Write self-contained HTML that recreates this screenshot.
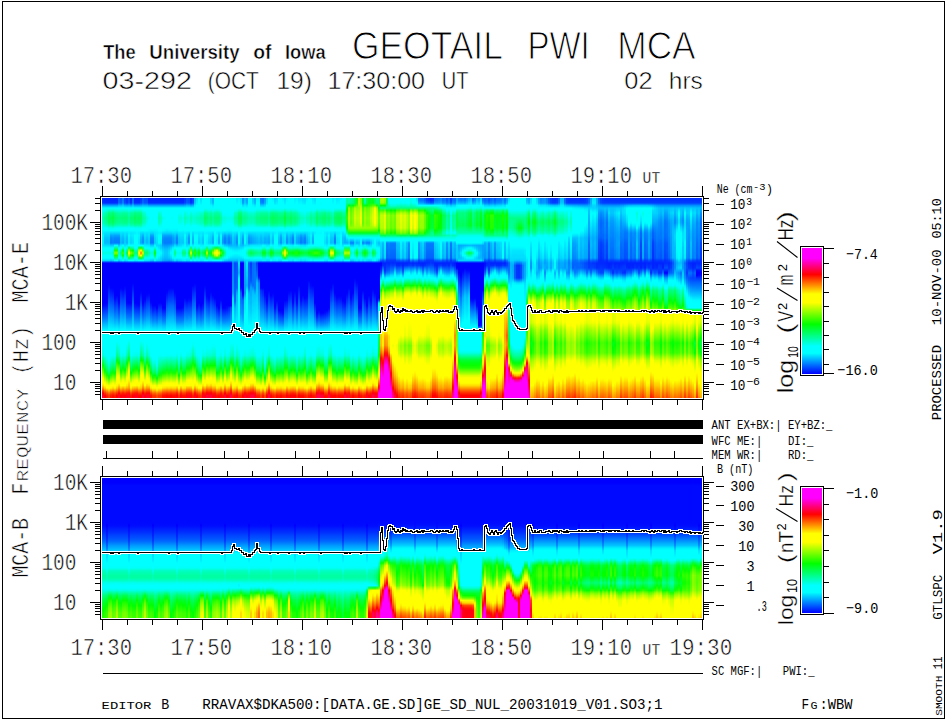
<!DOCTYPE html><html><head><meta charset="utf-8"><title>GEOTAIL PWI MCA</title><style>
html,body{margin:0;padding:0;background:#fff}
body{width:945px;height:720px;position:relative;overflow:hidden;font-family:"Liberation Sans",sans-serif}
.p{position:absolute;left:102px;width:600px;overflow:hidden;font-size:0;display:flex}
.p i{display:block;flex:0 0 2px;width:2px;height:100%}
#pt{top:198px;height:200px}#pb{top:478px;height:140px}
svg{position:absolute;left:0;top:0}
text{font-family:"Liberation Sans",sans-serif;fill:#000}
.e,.t1,.t2,.t0{stroke:#fff;stroke-width:.55px;paint-order:fill stroke}.t1{stroke-width:1.1px}.t2{stroke-width:.5px}.t0{stroke-width:.3px}
.m{font-family:"Liberation Mono",monospace}
</style></head><body>
<div class="p" id="pt">
<i style="background:linear-gradient(#0027ff,#002fff,#03f,#00a6ff,#0ff,#0ff,#00ffd8,#00ffc3,#0fa,#0fb,#00ffc6,#00ffe9,#0ff,#0ff,#0ef,#00fbff,#00f5ff,#0ef,#0ef,#00e9ff,#0ff,#0ff,#00ffe2,#0ff,#0ff,#0df,#00f,#00f,#00f,#00f,#00f,#00f,#00f,#00f,#00f,#00f,#00f,#00f,#00f,#00f,#00f,#00f,#00f,#0007ff,#001dff,#03f,#0049ff,#005fff,#07f,#008dff,#0af,#00c3ff,#0df,#00f9ff,#0ff,#0ff,#0ff,#0ff,#0ff,#0ff,#00fffa,#0fe,#00ffe7,#00ffd6,#00ffa2,#00ff6e,#00ff3b,#00ff0b,#2f0,#5f0,#8f0,#bf0,#f4ff00,#ff0,#ff0,#fd0,#f90,#f40,#f00,#ff002c,#f03)"></i>
<i style="background:linear-gradient(#02f,#0028ff,#002fff,#00a3ff,#0ff,#0fe,#00ffb5,#00ffa0,#0f8,#0f9,#00ffa3,#0fc,#0ff,#0ff,#00e3ff,#00d5ff,#00c6ff,#00bfff,#0bf,#0df,#0ff,#0ff,#00ffe2,#0ff,#0ff,#00d7ff,#00f,#00f,#00f,#00f,#00f,#00f,#00f,#00f,#00f,#00f,#00f,#00f,#00f,#00f,#00f,#00f,#00f,#000cff,#02f,#0037ff,#004dff,#0062ff,#07f,#0090ff,#0af,#00c5ff,#0df,#00f9ff,#0ff,#0ff,#0ff,#0ff,#0ff,#0ff,#0ff,#0ff,#0ff,#00fff4,#0fc,#0fa,#0f8,#00ff5f,#00ff37,#0f1,#2f0,#5cff00,#9f0,#cf0,#ff0,#ff0,#ffd400,#ff7d00,#f30,#ff0400,#ff0004)"></i>
<i style="background:linear-gradient(#02f,#0027ff,#002eff,#00a2ff,#0ff,#0fd,#00ffa2,#00ff8d,#0f7,#00ff84,#00ff90,#0fb,#0ff,#0ff,#00e2ff,#00d5ff,#00c5ff,#0bf,#0bf,#0df,#0ff,#0ff,#00ffe2,#0ff,#0ff,#00d7ff,#00f,#00f,#00f,#00f,#00f,#00f,#00f,#00f,#00f,#00f,#00f,#00f,#00f,#00f,#00f,#00f,#00f,#01f,#0026ff,#003bff,#0050ff,#06f,#007bff,#0093ff,#0af,#00c6ff,#0df,#00faff,#0ff,#0ff,#0ff,#0ff,#0ff,#0ff,#0ff,#0ff,#0ff,#0ff,#0fe,#00ffd4,#0fb,#0f9,#0f7,#00ff50,#0f2,#1aff00,#5f0,#9f0,#d6ff00,#ff0,#ff0,#ffa300,#f50,#f20,#ff1900)"></i>
<i style="background:linear-gradient(#02f,#0027ff,#002eff,#00a2ff,#0ff,#0fc,#00ff7d,#0f6,#0f5,#00ff5e,#00ff6a,#00ff9f,#0fe,#0ff,#00e3ff,#00d7ff,#00c8ff,#00c1ff,#0bf,#0df,#0ff,#0ff,#00ffe2,#0ff,#0ff,#00d8ff,#00f,#00f,#00f,#00f,#00f,#00f,#00f,#00f,#00f,#0006ff,#01f,#02f,#002dff,#003aff,#04f,#05f,#0062ff,#006fff,#007cff,#08f,#09f,#0af,#00b7ff,#00c6ff,#00d5ff,#00e4ff,#00f3ff,#0ff,#0ff,#0ff,#0ff,#0ff,#0ff,#0ff,#0ff,#0ff,#0ff,#0ff,#0ff,#00fff8,#00ffe7,#0fc,#0fa,#0f8,#00ff5e,#0f2,#2f0,#6f0,#af0,#f4ff00,#ff0,#ffc500,#ff6f00,#ff3800,#f30)"></i>
<i style="background:linear-gradient(#02f,#0027ff,#002eff,#00a2ff,#0ff,#0fc,#00ff82,#00ff6d,#0f5,#0f6,#00ff70,#00ffa3,#0fe,#0ff,#00d4ff,#00a4ff,#08f,#0080ff,#007cff,#0cf,#0ff,#0ff,#00ffe2,#0ff,#0ff,#00c4ff,#00f,#00f,#00f,#00f,#00f,#00f,#00f,#00f,#00f,#00f,#00f,#01f,#001dff,#002bff,#0039ff,#04f,#05f,#06f,#0071ff,#007fff,#008fff,#009fff,#00b0ff,#00c0ff,#00d0ff,#00e1ff,#0ef,#0ff,#0ff,#0ff,#0ff,#0ff,#0ff,#0ff,#0ff,#0ff,#0ff,#0ff,#00ffe8,#0fc,#00ffb0,#00ff8e,#0f6,#0f4,#00ff16,#26ff00,#6f0,#a0ff00,#df0,#ff0,#fff700,#f90,#ff4c00,#ff1a00,#f10)"></i>
<i style="background:linear-gradient(#02f,#0027ff,#002eff,#00a2ff,#0ff,#00ffc1,#00ff71,#00ff5c,#0f4,#0f5,#00ff5f,#00ff95,#00ffe8,#0ff,#00d6ff,#0af,#0091ff,#08f,#0084ff,#00d0ff,#0ff,#00ffe6,#00ffc0,#00ffe6,#0ff,#00d2ff,#00f,#00f,#00f,#00f,#00f,#00f,#00f,#00f,#00f,#00f,#00f,#0009ff,#0017ff,#0026ff,#03f,#04f,#0051ff,#005fff,#006eff,#007cff,#008cff,#009dff,#0af,#0bf,#0cf,#0df,#0ef,#0ff,#0ff,#0ff,#0ff,#0ff,#0ff,#0ff,#0ff,#0ff,#0ff,#00fffb,#0fd,#0fb,#0f9,#00ff73,#00ff4c,#0f2,#0aff00,#4f0,#81ff00,#bf0,#f6ff00,#ff0,#ffe300,#f80,#ff3d00,#ff0d00,#ff0600)"></i>
<i style="background:linear-gradient(#02f,#0027ff,#002eff,#00a2ff,#0ff,#00ffd4,#00ff8f,#0f7,#0f6,#00ff71,#00ff7d,#00ffae,#00fff7,#0ff,#00d4ff,#00a4ff,#08f,#0080ff,#007cff,#0ff,#00ff8f,#2f0,#8f0,#2f0,#0f8,#0ef,#00f,#00f,#00f,#00f,#00f,#00f,#00f,#00f,#00f,#00f,#00f,#00f,#00f,#00f,#0004ff,#0015ff,#0027ff,#0039ff,#004bff,#005cff,#006eff,#0080ff,#0094ff,#0af,#0bf,#00d3ff,#00e9ff,#0ff,#0ff,#0ff,#0ff,#0ff,#0ff,#0ff,#0ff,#0ff,#0ff,#0ff,#0fd,#00ffc1,#00ffa3,#00ff81,#00ff5c,#00ff37,#00ff0a,#3f0,#6bff00,#a6ff00,#e3ff00,#ff0,#fff800,#ff9d00,#ff4d00,#ff1b00,#f10)"></i>
<i style="background:linear-gradient(#02f,#0027ff,#002eff,#00a2ff,#0ff,#0fd,#00ffa0,#0f8,#0f7,#00ff81,#00ff8e,#0fb,#0ff,#0ff,#00d4ff,#00a4ff,#08f,#0080ff,#007cff,#0ff,#00ff8f,#2f0,#8f0,#2f0,#0f8,#00f7ff,#00f,#00f,#00f,#00f,#00f,#00f,#00f,#00f,#00f,#00f,#00f,#00f,#00f,#00f,#01f,#02f,#03f,#04f,#05f,#06f,#07f,#08f,#09f,#00b0ff,#00c4ff,#00d7ff,#0ef,#0ff,#0ff,#0ff,#0ff,#0ff,#00fff2,#0fd,#0fc,#0fb,#00ffa4,#0f8,#00ff51,#00ff19,#2f0,#4eff00,#7f0,#a1ff00,#c7ff00,#e9ff00,#ff0,#ff0,#ff0,#fff600,#fc0,#ff7d00,#f30,#f00,#ff0005)"></i>
<i style="background:linear-gradient(#005aff,#0062ff,#006aff,#00c0ff,#0ff,#00ffe2,#00ffa6,#00ff90,#00ff7b,#0f8,#00ff93,#00ffc0,#0ff,#0ff,#00d4ff,#00a4ff,#08f,#0080ff,#007cff,#0cf,#0ff,#00ffe5,#00ffc0,#00ffe5,#0ff,#0cf,#00f,#00f,#00f,#00f,#00f,#00f,#00f,#00f,#00f,#00f,#00f,#00f,#00f,#00f,#00f,#00f,#0006ff,#001aff,#002fff,#04f,#05f,#006cff,#0080ff,#09f,#00b1ff,#0cf,#00e2ff,#00fbff,#0ff,#0ff,#0ff,#0ff,#0ff,#0fe,#0fd,#00ffd1,#00ffc3,#0fa,#00ff72,#00ff38,#0f0,#3f0,#62ff00,#90ff00,#bf0,#eaff00,#ff0,#ff0,#ff0,#ffd500,#f90,#ff4f00,#ff0900,#f02,#ff002d)"></i>
<i style="background:linear-gradient(#004cff,#05f,#005bff,#0bf,#0ff,#00ffe2,#00ffa6,#00ff91,#00ff7b,#0f8,#00ff94,#00ffc0,#0ff,#0ff,#00e3ff,#00d6ff,#00c7ff,#00c0ff,#0bf,#0ef,#0ff,#0fa,#0f7,#0fa,#0ff,#00e5ff,#00f,#00f,#00f,#00f,#00f,#00f,#00f,#00f,#00f,#00f,#00f,#01f,#02f,#002dff,#003bff,#0049ff,#05f,#06f,#0073ff,#0081ff,#0090ff,#00a1ff,#00b1ff,#00c1ff,#00d1ff,#00e1ff,#0ef,#0ff,#0ff,#0ff,#0ff,#0ff,#0ff,#0ff,#0ff,#0ff,#0ff,#00fff2,#0fc,#0fa,#00ff82,#00ff5b,#0f3,#00ff0a,#26ff00,#60ff00,#9f0,#d3ff00,#ff0,#ff0,#ffd200,#ff7c00,#f30,#f00,#ff0005)"></i>
<i style="background:linear-gradient(#0073ff,#07f,#0082ff,#0cf,#0ff,#0fd,#00ffa0,#0f8,#0f7,#00ff82,#00ff8e,#0fb,#0ff,#0ff,#0df,#0cf,#0bf,#00b2ff,#0af,#0ff,#00ffb3,#00ff19,#3aff00,#00ff19,#0fa,#00f9ff,#00f,#00f,#00f,#00f,#00f,#00f,#00f,#00f,#00f,#00f,#00f,#0007ff,#0015ff,#02f,#03f,#04f,#0050ff,#005eff,#006dff,#007bff,#08f,#09f,#0af,#0bf,#0cf,#0df,#0ef,#0ff,#0ff,#0ff,#0ff,#0ff,#0ff,#0ff,#0ff,#0ff,#00fff5,#00ffe6,#0fb,#00ff8f,#0f6,#00ff38,#00ff0d,#2f0,#50ff00,#8f0,#c2ff00,#f7ff00,#ff0,#ff0,#ffb700,#f60,#ff1c00,#f01,#ff001a)"></i>
<i style="background:linear-gradient(#003cff,#04f,#004cff,#00b1ff,#0ff,#0fd,#00ff9d,#0f8,#00ff73,#00ff7f,#0f8,#0fb,#0ff,#0ff,#00e6ff,#00e1ff,#00d4ff,#0cf,#0cf,#00e3ff,#0ff,#0fe,#0fc,#0fe,#0ff,#0df,#00f,#00f,#00f,#00f,#00f,#00f,#00f,#00f,#00f,#00f,#0008ff,#0016ff,#02f,#03f,#003fff,#004dff,#005aff,#06f,#07f,#0083ff,#0093ff,#00a3ff,#00b3ff,#00c3ff,#00d2ff,#00e2ff,#00f2ff,#0ff,#0ff,#0ff,#0ff,#0ff,#0ff,#0ff,#0ff,#0ff,#0ff,#0fe,#00ffc7,#00ff9f,#0f7,#00ff4f,#00ff26,#0f0,#3f0,#6dff00,#af0,#df0,#ff0,#ff0,#fc0,#f70,#ff2a00,#ff0004,#ff000c)"></i>
<i style="background:linear-gradient(#002aff,#03f,#0039ff,#0af,#0ff,#0fd,#00ff9f,#0f8,#0f7,#00ff81,#00ff8d,#0fb,#0ff,#0ff,#00e1ff,#00d1ff,#00c1ff,#0bf,#00b6ff,#0ef,#0fe,#00ff82,#0f4,#00ff82,#00ffe8,#00eaff,#00f,#00f,#00f,#00f,#00f,#00f,#00f,#00f,#00f,#00f,#00f,#00f,#00f,#00f,#00f,#00f,#0004ff,#0019ff,#002dff,#04f,#05f,#006bff,#007fff,#09f,#00b0ff,#0cf,#00e2ff,#00fbff,#0ff,#0ff,#0ff,#0ff,#0ff,#00fff2,#00ffe4,#00ffd6,#00ffc8,#00ffb1,#00ff7c,#0f4,#0f1,#2f0,#4bff00,#7f0,#a4ff00,#d1ff00,#ff0,#ff0,#ff0,#ffe900,#ffaf00,#ff6000,#ff1800,#ff0016,#ff001e)"></i>
<i style="background:linear-gradient(#04f,#004cff,#05f,#00b5ff,#0ff,#0fe,#0fb,#0fa,#00ff92,#00ff9f,#0fa,#00ffd3,#0ff,#0ff,#0ef,#00fbff,#00f5ff,#0ef,#0ef,#0ff,#00ff4c,#9f0,#ff0,#9f0,#0f4,#0ff,#00f,#00f,#00f,#00f,#00f,#00f,#00f,#00f,#00f,#00f,#00f,#00f,#00f,#00f,#00f,#00f,#00f,#0018ff,#002cff,#04f,#05f,#006aff,#007fff,#09f,#00b0ff,#0cf,#00e2ff,#00faff,#0ff,#0ff,#0ff,#00fffa,#00ffe5,#0fc,#0fb,#00ffa2,#0f8,#00ff6c,#00ff28,#1cff00,#61ff00,#9f0,#c5ff00,#f2ff00,#ff0,#ff0,#ff0,#fff500,#fd0,#ffc200,#ffa000,#f50,#f10,#ff001e,#ff0027)"></i>
<i style="background:linear-gradient(#02f,#0027ff,#002fff,#00a2ff,#0ff,#0fd,#0f9,#0f8,#00ff6f,#00ff7b,#0f8,#00ffb6,#0ff,#0ff,#00e8ff,#00e8ff,#0df,#00d7ff,#00d3ff,#0ff,#00ff93,#2f0,#7fff00,#2f0,#0f8,#0ff,#00f,#00f,#00f,#00f,#00f,#00f,#00f,#00f,#00f,#00f,#00f,#00f,#00f,#00f,#00f,#00f,#00f,#0016ff,#002bff,#003fff,#05f,#06f,#007eff,#09f,#00afff,#00c8ff,#00e1ff,#00faff,#0ff,#0ff,#0ff,#0ff,#0ff,#0ff,#0ff,#0ff,#0ff,#00fff8,#00ffd9,#0fb,#0f9,#0f7,#0f5,#00ff2d,#0f0,#3bff00,#7f0,#afff00,#ef0,#ff0,#fe0,#f90,#ff4800,#ff1700,#f10)"></i>
<i style="background:linear-gradient(#06f,#006bff,#0072ff,#00c4ff,#0ff,#0fd,#0f9,#0f8,#00ff72,#00ff7e,#0f8,#0fb,#0ff,#0ff,#00eaff,#0ef,#00e7ff,#00e1ff,#0df,#0ff,#0fa,#00ff06,#51ff00,#00ff06,#00ffa1,#0ff,#00f,#00f,#00f,#00f,#00f,#00f,#00f,#00f,#00f,#000aff,#0017ff,#02f,#03f,#003eff,#004aff,#05f,#06f,#0071ff,#007eff,#008cff,#09f,#0af,#0bf,#00c7ff,#00d6ff,#00e5ff,#00f4ff,#0ff,#0ff,#0ff,#0ff,#0ff,#0ff,#0ff,#0ff,#0ff,#00fffb,#0fe,#00ffc5,#00ff9d,#0f7,#00ff4d,#0f2,#07ff00,#37ff00,#71ff00,#af0,#e2ff00,#ff0,#ff0,#ffc700,#ff7100,#ff2700,#ff0006,#f01)"></i>
<i style="background:linear-gradient(#02f,#0027ff,#002eff,#00a2ff,#0ff,#0fc,#00ff84,#00ff6f,#00ff5a,#0f6,#00ff72,#00ffa5,#00fff2,#0ff,#0ef,#0ff,#0ff,#0ff,#0ff,#0ff,#0ff,#00ffb0,#00ff7f,#00ffb0,#0ff,#0ef,#00f,#00f,#00f,#00f,#00f,#00f,#00f,#00f,#00f,#00f,#00f,#00f,#00f,#00f,#00f,#00f,#00f,#01f,#02f,#003bff,#0050ff,#06f,#07f,#0092ff,#0af,#00c6ff,#0df,#00faff,#0ff,#0ff,#0ff,#0ff,#0ff,#0ff,#0ff,#0ff,#00fff5,#00ffe6,#0fb,#00ff8f,#0f6,#00ff39,#0f1,#1eff00,#4fff00,#8f0,#c1ff00,#f6ff00,#ff0,#ff0,#fb0,#f60,#ff1c00,#f01,#ff001a)"></i>
<i style="background:linear-gradient(#02f,#0027ff,#002eff,#00a2ff,#0ff,#00ffd4,#00ff8e,#0f7,#0f6,#00ff70,#00ff7c,#0fa,#00fff7,#0ff,#00f7ff,#0ff,#0ff,#0ff,#0ff,#0ff,#0ff,#0fa,#0f7,#0fa,#0ff,#00f5ff,#00f,#00f,#00f,#00f,#00f,#00f,#00f,#00f,#00f,#00f,#00f,#00f,#00f,#00f,#00f,#00f,#00f,#000cff,#02f,#0037ff,#004dff,#0062ff,#07f,#0090ff,#0af,#00c5ff,#0df,#00f9ff,#0ff,#0ff,#0ff,#0ff,#0ff,#0ff,#0ff,#00fffa,#00fff2,#00ffe2,#00ffb4,#0f8,#00ff59,#00ff2d,#0f0,#2bff00,#5cff00,#95ff00,#cf0,#ff0,#ff0,#fff900,#ffaf00,#ff5d00,#ff1600,#ff0018,#f02)"></i>
<i style="background:linear-gradient(#02f,#0027ff,#002eff,#00a2ff,#0ff,#00ffd1,#0f8,#0f7,#00ff5f,#00ff6b,#0f7,#0fa,#00fff4,#0ff,#0ef,#00f7ff,#0ef,#00eaff,#00e6ff,#0ff,#00ff3e,#b4ff00,#ff0,#b4ff00,#00ff37,#0ff,#00f,#00f,#00f,#00f,#00f,#00f,#00f,#00f,#00f,#00f,#00f,#00f,#00f,#00f,#00f,#00f,#00f,#0007ff,#001dff,#03f,#0049ff,#005fff,#07f,#008dff,#0af,#00c3ff,#0df,#00f9ff,#0ff,#0ff,#0ff,#0ff,#0ff,#0ff,#0ff,#0ff,#00fff9,#0fe,#00ffc6,#00ffa1,#00ff7c,#0f5,#00ff2d,#00ff06,#29ff00,#61ff00,#9f0,#d1ff00,#ff0,#ff0,#ffd900,#ff8300,#f30,#ff0700,#f00)"></i>
<i style="background:linear-gradient(#03f,#003bff,#04f,#0af,#0ff,#00ffd3,#00ff8d,#0f7,#0f6,#00ff6f,#00ff7b,#0fa,#00fff6,#0ff,#0df,#0cf,#0bf,#00b1ff,#0af,#0ff,#0dff00,#ff0,#ff8100,#ff0,#15ff00,#0ff,#00f,#00f,#00f,#00f,#00f,#00f,#00f,#00f,#00f,#00f,#00f,#00f,#0007ff,#0016ff,#0026ff,#03f,#04f,#05f,#06f,#0073ff,#0082ff,#0094ff,#00a6ff,#0bf,#0cf,#0df,#0ef,#0ff,#0ff,#0ff,#0ff,#0ff,#00ffe9,#00ffd4,#0fb,#00ffa6,#00ff8f,#00ff71,#0f3,#07ff00,#4f0,#7f0,#9eff00,#c7ff00,#eaff00,#ff0,#ff0,#ff0,#ff0,#fe0,#fc0,#ff7e00,#f30,#ff0400,#ff0004)"></i>
<i style="background:linear-gradient(#05f,#005fff,#06f,#0bf,#0ff,#00fff6,#00ffc6,#00ffb1,#0f9,#0fa,#00ffb4,#0fd,#0ff,#0ff,#00d9ff,#00b4ff,#09f,#0094ff,#0090ff,#0ff,#00ff6e,#61ff00,#cf0,#61ff00,#0f6,#0ff,#00f,#00f,#00f,#00f,#00f,#00f,#00f,#00f,#00f,#00f,#00f,#00f,#00f,#00f,#00f,#00f,#00f,#01f,#0026ff,#003bff,#0051ff,#06f,#007bff,#0093ff,#0af,#00c6ff,#0df,#00faff,#0ff,#0ff,#0ff,#0ff,#00fff5,#00ffe4,#00ffd3,#00ffc3,#00ffb2,#0f9,#0f5,#00ff19,#28ff00,#5eff00,#8eff00,#bf0,#eaff00,#ff0,#ff0,#ff0,#ffe400,#fb0,#f80,#ff3f00,#ff0005,#f03,#ff003b)"></i>
<i style="background:linear-gradient(#04f,#004eff,#05f,#00b6ff,#0ff,#0ff,#00ffd5,#00ffc0,#0fa,#00ffb7,#00ffc3,#00ffe6,#0ff,#0ff,#00e6ff,#00e2ff,#00d6ff,#0cf,#0cf,#0ef,#0ff,#0fa,#0f7,#0fa,#0ff,#00e8ff,#00f,#00f,#00f,#00f,#00f,#00f,#00f,#00f,#00f,#00f,#00f,#00f,#00f,#00f,#00f,#0007ff,#001aff,#002dff,#0040ff,#05f,#06f,#07f,#008cff,#00a3ff,#0bf,#00d0ff,#00e6ff,#0ff,#0ff,#0ff,#0ff,#0ff,#0ff,#0ff,#0ff,#00fff8,#0fe,#0fd,#00ffb3,#0f8,#00ff5c,#0f3,#00ff07,#2f0,#5f0,#8f0,#c2ff00,#f5ff00,#ff0,#ff0,#ffbf00,#ff6b00,#f20,#ff000c,#f01)"></i>
<i style="background:linear-gradient(#04f,#004eff,#05f,#00b6ff,#0ff,#0ff,#0ff,#0fe,#00ffd6,#00ffe2,#0fe,#0ff,#0ff,#0ff,#00e2ff,#00d4ff,#00c4ff,#0bf,#0bf,#0ef,#0ff,#00ffa2,#00ff6e,#00ffa2,#00fffb,#00e6ff,#00f,#00f,#00f,#00f,#00f,#00f,#00f,#00f,#00f,#00f,#00f,#00f,#00f,#0006ff,#0016ff,#0027ff,#0037ff,#0048ff,#05f,#06f,#07f,#08f,#009eff,#00b1ff,#00c5ff,#00d8ff,#0ef,#0ff,#0ff,#0ff,#0ff,#0ff,#00fffb,#0fe,#0fd,#0fc,#0fb,#00ffa5,#00ff6a,#0f3,#0bff00,#3eff00,#6cff00,#9f0,#c6ff00,#ef0,#ff0,#ff0,#ff0,#ffd400,#ff9e00,#ff5100,#ff0b00,#f02,#ff002b)"></i>
<i style="background:linear-gradient(#02f,#0027ff,#002fff,#00a2ff,#0ff,#0ff,#0ff,#0ff,#0fe,#0ff,#0ff,#0ff,#0ff,#00f8ff,#00e6ff,#00e3ff,#00d7ff,#00d0ff,#0cf,#00eaff,#0ff,#0fc,#00ff9d,#0fc,#0ff,#00e3ff,#00f,#00f,#00f,#00f,#00f,#00f,#00f,#00f,#00f,#00f,#00f,#00f,#00f,#000cff,#001cff,#002cff,#003dff,#004dff,#005dff,#006dff,#007dff,#008eff,#00a1ff,#00b4ff,#00c7ff,#0df,#0ef,#0ff,#0ff,#0ff,#0ff,#0ff,#0ff,#0ff,#00fff7,#0fe,#00ffe2,#00ffd0,#00ff9d,#00ff6a,#00ff37,#00ff07,#26ff00,#5f0,#8f0,#bf0,#ef0,#ff0,#ff0,#ffe400,#ff9f00,#ff4f00,#ff0a00,#f02,#ff002d)"></i>
<i style="background:linear-gradient(#02f,#0027ff,#002eff,#00a2ff,#0ff,#0ff,#0ff,#0ff,#0ff,#0ff,#0ff,#0ff,#0ff,#00f4ff,#00d4ff,#00a4ff,#08f,#0080ff,#007cff,#0cf,#0ff,#00fff8,#00ffd7,#00fff8,#0ff,#0cf,#00f,#00f,#00f,#00f,#00f,#00f,#00f,#00f,#00f,#00f,#00f,#00f,#00f,#00f,#00f,#00f,#0006ff,#001aff,#002eff,#04f,#05f,#006cff,#0080ff,#09f,#00b1ff,#0cf,#00e2ff,#00fbff,#0ff,#0ff,#0ff,#0ff,#0ff,#0ff,#0ff,#0ff,#0ff,#0ff,#0fd,#00ffc0,#00ffa1,#00ff7e,#0f5,#0f3,#0f0,#39ff00,#7f0,#b1ff00,#ef0,#ff0,#fe0,#ff9200,#f40,#f10,#ff0c00)"></i>
<i style="background:linear-gradient(#02f,#0027ff,#002eff,#00a2ff,#0ff,#0ff,#0ff,#0ff,#00fff8,#0ff,#0ff,#0ff,#0ff,#00f6ff,#00d4ff,#00a4ff,#08f,#0080ff,#007cff,#0cf,#0ff,#0fe,#0fc,#0fe,#0ff,#00c5ff,#00f,#00f,#00f,#00f,#00f,#00f,#00f,#00f,#00f,#00f,#00f,#00f,#00f,#00f,#00f,#00f,#00f,#00f,#01f,#02f,#003dff,#05f,#006cff,#0083ff,#00a0ff,#0bf,#0df,#00f7ff,#0ff,#0ff,#0ff,#0ff,#0ff,#0ff,#0ff,#0ff,#0ff,#0ff,#0ff,#00fff4,#00ffe2,#00ffc6,#00ffa5,#00ff84,#0f5,#00ff19,#2f0,#6f0,#afff00,#f8ff00,#ff0,#ffc100,#ff6c00,#f30,#ff2f00)"></i>
<i style="background:linear-gradient(#02f,#0027ff,#002eff,#00a2ff,#0ff,#0ff,#0ff,#0ff,#0ff,#0ff,#0ff,#0ff,#0ff,#00f5ff,#00e5ff,#0df,#00d2ff,#0cf,#00c7ff,#00fbff,#00ffd8,#0f5,#0f1,#0f5,#00ffd0,#00f2ff,#00f,#00f,#00f,#00f,#00f,#00f,#00f,#00f,#00f,#00f,#00f,#00f,#00f,#00f,#00f,#00f,#00f,#00f,#0017ff,#002dff,#04f,#005bff,#0071ff,#08f,#00a5ff,#00c1ff,#0df,#00f8ff,#0ff,#0ff,#0ff,#0ff,#0ff,#0ff,#0ff,#0ff,#0ff,#0ff,#0ff,#0fe,#00ffd8,#0fb,#0f9,#0f7,#00ff4a,#00ff0d,#3f0,#73ff00,#bf0,#ff0,#ff0,#fb0,#f60,#f30,#ff2900)"></i>
<i style="background:linear-gradient(#02f,#0027ff,#002eff,#00a2ff,#0ff,#0ff,#0ff,#0ff,#00fff5,#0ff,#0ff,#0ff,#0ff,#00f7ff,#00eaff,#0ef,#00e8ff,#00e2ff,#0df,#0df,#0ff,#0ff,#0fe,#0ff,#0ff,#00d7ff,#00f,#00f,#00f,#00f,#00f,#00f,#00f,#00f,#00f,#00f,#00f,#00f,#00f,#00f,#00f,#00f,#00f,#00f,#00f,#001bff,#03f,#004cff,#06f,#007dff,#09f,#0bf,#00d7ff,#00f6ff,#0ff,#0ff,#0ff,#0ff,#0ff,#0ff,#0ff,#0ff,#0ff,#0ff,#0ff,#0ff,#0ff,#0fe,#00ffd1,#00ffb2,#0f8,#00ff48,#00ff09,#3fff00,#8cff00,#df0,#ff0,#fd0,#ff8400,#ff4a00,#f40)"></i>
<i style="background:linear-gradient(#02f,#0027ff,#002eff,#00a2ff,#0ff,#0ff,#00ffd1,#0fb,#0fa,#00ffb3,#00ffbf,#00ffe4,#0ff,#0ff,#00f2ff,#0ff,#0ff,#0ff,#0ff,#00d9ff,#00e8ff,#0ff,#0ff,#0ff,#0ef,#00d1ff,#00f,#00f,#00f,#00f,#00f,#00f,#00f,#00f,#00f,#00f,#00f,#00f,#00f,#00f,#00f,#00f,#00f,#0015ff,#002aff,#003fff,#05f,#06f,#007dff,#0095ff,#00aeff,#00c8ff,#00e1ff,#00faff,#0ff,#0ff,#0ff,#0ff,#0ff,#0ff,#0ff,#0ff,#0ff,#00fffb,#00ffe3,#0fc,#00ffb4,#0f9,#0f7,#0f5,#00ff2a,#0dff00,#4f0,#81ff00,#c1ff00,#ff0,#ff0,#ffc100,#ff6c00,#f30,#ff2f00)"></i>
<i style="background:linear-gradient(#02f,#0027ff,#002eff,#00a2ff,#0ff,#0ff,#00ffe1,#0fc,#00ffb7,#00ffc3,#0fc,#0fe,#0ff,#0ff,#0ef,#0ff,#0ff,#00f8ff,#00f4ff,#0cf,#00d2ff,#0ef,#0ff,#0ef,#00d9ff,#00c6ff,#00f,#00f,#00f,#00f,#00f,#00f,#00f,#00f,#00f,#00f,#00f,#00f,#00f,#00f,#00f,#00f,#00f,#0017ff,#002bff,#0040ff,#05f,#06f,#007eff,#09f,#00afff,#00c8ff,#00e1ff,#00faff,#0ff,#0ff,#0ff,#0ff,#0ff,#0ff,#0ff,#0ff,#0ff,#00fff6,#0fd,#00ffc2,#0fa,#0f8,#0f6,#0f4,#00ff1a,#1cff00,#5f0,#8fff00,#cf0,#ff0,#ff0,#fb0,#f60,#ff2f00,#ff2800)"></i>
<i style="background:linear-gradient(#02f,#0027ff,#002eff,#00a2ff,#0ff,#0ff,#0ff,#0ff,#00ffe8,#00fff4,#0ff,#0ff,#0ff,#00faff,#00d7ff,#0af,#0092ff,#08f,#08f,#00a3ff,#00bfff,#00d4ff,#0df,#00d4ff,#00c7ff,#0af,#00f,#00f,#00f,#00f,#00f,#00f,#00f,#00f,#00f,#00f,#00f,#00f,#00f,#00f,#00f,#00f,#00f,#00f,#00f,#0019ff,#03f,#004bff,#06f,#007cff,#09f,#0bf,#00d7ff,#00f6ff,#0ff,#0ff,#0ff,#0ff,#0ff,#0ff,#0ff,#0ff,#0ff,#0ff,#0fd,#0fb,#0f9,#0f7,#00ff50,#00ff2a,#05ff00,#40ff00,#7cff00,#b7ff00,#f2ff00,#ff0,#ffe700,#ff8e00,#ff4000,#f10,#ff0900)"></i>
<i style="background:linear-gradient(#02f,#0027ff,#002eff,#00a2ff,#0ff,#0ff,#0ff,#0ff,#00fff8,#0ff,#0ff,#0ff,#0ff,#00f6ff,#00d4ff,#00a4ff,#08f,#0080ff,#007cff,#09f,#00b6ff,#00c6ff,#0cf,#00c6ff,#0bf,#00a4ff,#00f,#00f,#00f,#00f,#00f,#00f,#00f,#00f,#00f,#00f,#00f,#00f,#00f,#00f,#00f,#00f,#00f,#00f,#00f,#0019ff,#03f,#004bff,#06f,#007cff,#09f,#0bf,#00d7ff,#00f6ff,#0ff,#0ff,#0ff,#0ff,#0ff,#0ff,#0ff,#0ff,#0ff,#00fffa,#00ffd8,#00ffb6,#00ff95,#00ff70,#00ff49,#0f2,#1f0,#49ff00,#84ff00,#bfff00,#f9ff00,#ff0,#ffe100,#f80,#ff3b00,#ff0c00,#ff0500)"></i>
<i style="background:linear-gradient(#02f,#0027ff,#002eff,#00a2ff,#0ff,#0ff,#0ff,#0ff,#0ff,#0ff,#0ff,#0ff,#0ff,#0ef,#00d4ff,#00a4ff,#08f,#0080ff,#007cff,#09f,#00b6ff,#00c6ff,#0cf,#00c6ff,#0bf,#00a2ff,#00f,#00f,#00f,#00f,#00f,#00f,#00f,#00f,#00f,#00f,#00f,#00f,#0006ff,#0015ff,#02f,#03f,#04f,#05f,#06f,#0072ff,#0082ff,#0093ff,#00a5ff,#0bf,#0cf,#0df,#0ef,#0ff,#0ff,#0ff,#0ff,#0ff,#0ff,#0ff,#0ff,#0ff,#0ff,#00fff4,#00ffd0,#0fa,#0f8,#00ff61,#00ff39,#0f1,#2f0,#5aff00,#95ff00,#cf0,#ff0,#ff0,#ffd500,#ff7f00,#f30,#ff0400,#f00)"></i>
<i style="background:linear-gradient(#02f,#0027ff,#002eff,#00a2ff,#0ff,#0ff,#0ff,#0ff,#0ff,#0ff,#0ff,#0ff,#0ff,#00f3ff,#00d4ff,#00a4ff,#08f,#0080ff,#007cff,#00a0ff,#00bfff,#00d4ff,#0df,#00d4ff,#00c7ff,#009fff,#00f,#00f,#00f,#00f,#00f,#00f,#00f,#00f,#00f,#00f,#00f,#000cff,#001bff,#0029ff,#0037ff,#04f,#05f,#0062ff,#0070ff,#007eff,#008eff,#009eff,#00afff,#00bfff,#00d0ff,#0df,#0ef,#0ff,#0ff,#0ff,#0ff,#0ff,#0ff,#0ff,#0ff,#0ff,#0ff,#00fff9,#00ffd7,#00ffb5,#00ff93,#00ff6d,#0f4,#0f2,#1f0,#4cff00,#8f0,#c1ff00,#fbff00,#ff0,#fd0,#f80,#ff3a00,#ff0a00,#ff0400)"></i>
<i style="background:linear-gradient(#02f,#0027ff,#002eff,#00a2ff,#0ff,#0ff,#0ff,#0ff,#00fffa,#0ff,#0ff,#0ff,#0ff,#00f6ff,#00d4ff,#00a4ff,#08f,#0080ff,#007cff,#0af,#00d2ff,#0ef,#0ff,#0ef,#00d9ff,#0af,#00f,#00f,#00f,#00f,#00f,#00f,#00f,#00f,#00f,#00f,#00f,#01f,#001cff,#002bff,#0039ff,#04f,#05f,#06f,#0071ff,#007fff,#008fff,#009fff,#00b0ff,#00c0ff,#00d0ff,#00e1ff,#0ef,#0ff,#0ff,#0ff,#0ff,#0ff,#0ff,#0ff,#0ff,#0ff,#0ff,#00fff3,#0fc,#0fa,#0f8,#00ff5e,#0f3,#0f1,#2f0,#5dff00,#9f0,#d0ff00,#ff0,#ff0,#ffd400,#ff7d00,#f30,#f00,#ff0004)"></i>
<i style="background:linear-gradient(#02f,#0027ff,#002eff,#00a2ff,#0ff,#0ff,#0ff,#0ff,#00fff7,#0ff,#0ff,#0ff,#0ff,#00f6ff,#0df,#00b6ff,#009eff,#09f,#0093ff,#0bf,#00f2ff,#0ff,#0ff,#0ff,#00faff,#00c0ff,#00f,#00f,#00f,#00f,#00f,#00f,#00f,#00f,#00f,#00f,#00f,#01f,#02f,#002dff,#003bff,#0049ff,#05f,#06f,#0073ff,#0081ff,#0091ff,#00a1ff,#00b1ff,#00c1ff,#00d1ff,#00e1ff,#0ef,#0ff,#0ff,#0ff,#0ff,#0ff,#0ff,#0ff,#0ff,#0ff,#0ff,#00fff9,#00ffd7,#00ffb5,#00ff93,#00ff6d,#0f4,#0f2,#1f0,#4cff00,#8f0,#c1ff00,#fbff00,#ff0,#fd0,#f80,#ff3a00,#ff0b00,#ff0400)"></i>
<i style="background:linear-gradient(#02f,#0027ff,#002eff,#00a2ff,#0ff,#0ff,#0ff,#0ff,#0ff,#0ff,#0ff,#0ff,#0ff,#00f5ff,#0df,#00c5ff,#00b1ff,#0af,#00a6ff,#0df,#0ff,#00ffae,#00ff7c,#00ffae,#0ff,#0df,#00f,#00f,#00f,#00f,#00f,#00f,#00f,#00f,#00f,#00f,#00f,#00f,#0005ff,#01f,#02f,#03f,#04f,#05f,#0062ff,#0072ff,#0081ff,#0093ff,#00a5ff,#00b7ff,#0cf,#0df,#0ef,#0ff,#0ff,#0ff,#0ff,#0ff,#0ff,#0ff,#0ff,#0ff,#0ff,#00fff9,#00ffd8,#00ffb6,#00ff94,#00ff6f,#00ff48,#0f2,#1f0,#4aff00,#8f0,#bfff00,#f9ff00,#ff0,#fd0,#f80,#ff3b00,#ff0b00,#ff0400)"></i>
<i style="background:linear-gradient(#02f,#0027ff,#002eff,#00a2ff,#0ff,#0ff,#0ff,#0ff,#0ff,#0ff,#0ff,#0ff,#0ff,#00f3ff,#00d4ff,#00a4ff,#08f,#0080ff,#007cff,#00c5ff,#0ff,#0ff,#00ffe5,#0ff,#0ff,#00c3ff,#00f,#00f,#00f,#00f,#00f,#00f,#00f,#00f,#00f,#00f,#00f,#00f,#00f,#00f,#00f,#00f,#00f,#00f,#00f,#0019ff,#03f,#004aff,#06f,#007cff,#09f,#0bf,#00d7ff,#00f6ff,#0ff,#0ff,#0ff,#0ff,#0ff,#0ff,#0ff,#0ff,#00fff9,#00ffea,#00ffc1,#0f9,#00ff6f,#0f4,#00ff1b,#1f0,#40ff00,#7f0,#b3ff00,#e9ff00,#ff0,#ff0,#ffc100,#ff6c00,#f20,#ff000b,#f01)"></i>
<i style="background:linear-gradient(#02f,#0027ff,#002eff,#00a2ff,#0ff,#0ff,#0ff,#00ffe6,#00ffd1,#0fd,#00ffe9,#0ff,#0ff,#0ff,#00e4ff,#00d9ff,#0cf,#00c4ff,#00c0ff,#00d9ff,#0ff,#0ff,#0fe,#0ff,#0ff,#00d5ff,#00f,#00f,#00f,#00f,#00f,#00f,#00f,#00f,#00f,#00f,#00f,#00f,#00f,#00f,#00f,#00f,#00f,#00f,#00f,#0019ff,#03f,#004aff,#06f,#007cff,#09f,#0bf,#00d7ff,#00f6ff,#0ff,#0ff,#0ff,#0ff,#0ff,#0ff,#0ff,#0ff,#0ff,#0ff,#00fffa,#00ffe4,#0fc,#00ffb0,#00ff8d,#00ff6a,#00ff3d,#0f0,#3dff00,#7fff00,#c2ff00,#ff0,#ff0,#ffb200,#ff5f00,#ff2b00,#f20)"></i>
<i style="background:linear-gradient(#02f,#0027ff,#002eff,#00a2ff,#0ff,#0ff,#00fffa,#00ffe5,#00ffd0,#0fd,#00ffe8,#0ff,#0ff,#0ff,#00e6ff,#00e1ff,#00d5ff,#0cf,#0cf,#0df,#0ff,#0ff,#00ffe5,#0ff,#0ff,#00d9ff,#00f,#00f,#00f,#00f,#00f,#00f,#00f,#00f,#00f,#00f,#00f,#00f,#00f,#00f,#00f,#00f,#00f,#00f,#00f,#0019ff,#03f,#004aff,#06f,#007cff,#09f,#0bf,#00d7ff,#00f6ff,#0ff,#0ff,#0ff,#0ff,#0ff,#0ff,#0ff,#0ff,#00fff7,#00ffe8,#0fb,#00ff93,#0f6,#00ff3e,#0f1,#17ff00,#48ff00,#81ff00,#bf0,#ef0,#ff0,#ff0,#fb0,#f60,#f20,#f01,#ff0017)"></i>
<i style="background:linear-gradient(#02f,#0027ff,#002eff,#00a2ff,#0ff,#0ff,#0ff,#00fff6,#00ffe1,#0fe,#00fff9,#0ff,#0ff,#00fbff,#00e6ff,#0df,#00d3ff,#0cf,#00c8ff,#0ef,#0ff,#0fa,#0f7,#0fa,#0ff,#00e7ff,#00f,#00f,#00f,#00f,#00f,#00f,#00f,#00f,#00f,#00f,#00f,#00f,#00f,#00f,#00f,#00f,#00f,#00f,#0009ff,#02f,#0039ff,#0051ff,#06f,#0080ff,#009eff,#0bf,#00d9ff,#00f7ff,#0ff,#0ff,#0ff,#0ff,#0ff,#0ff,#0ff,#0ff,#0ff,#0ff,#0fd,#00ffc0,#00ffa1,#00ff7d,#0f5,#0f3,#0f0,#3aff00,#7f0,#b1ff00,#ef0,#ff0,#fe0,#ff9100,#f40,#f10,#ff0b00)"></i>
<i style="background:linear-gradient(#03f,#003bff,#04f,#0af,#0ff,#0ff,#0fd,#0fc,#00ffb3,#00ffc0,#0fc,#0fe,#0ff,#0ff,#0ef,#0ff,#00f9ff,#00f4ff,#0ef,#00faff,#0ff,#0fa,#0f7,#0fa,#0ff,#0ef,#00f,#00f,#00f,#00f,#00f,#00f,#00f,#00f,#00f,#00f,#00f,#00f,#00f,#00f,#00f,#01f,#02f,#03f,#04f,#05f,#006aff,#007cff,#0091ff,#00a6ff,#0bf,#00d2ff,#00e7ff,#0ff,#0ff,#0ff,#0ff,#0ff,#0ff,#0ff,#0ff,#0ff,#0ff,#0ff,#0fd,#0fb,#0f9,#0f7,#00ff4f,#00ff28,#07ff00,#4f0,#7eff00,#bf0,#f4ff00,#ff0,#ffe500,#ff8c00,#ff3e00,#f10,#ff0800)"></i>
<i style="background:linear-gradient(#004eff,#05f,#005eff,#0bf,#0ff,#0ff,#0fe,#0fd,#00ffc4,#00ffd1,#0fd,#0ff,#0ff,#0ff,#00e5ff,#0df,#0cf,#0cf,#00c5ff,#0df,#0ff,#00fffa,#00ffd9,#00fffa,#0ff,#0df,#00f,#00f,#00f,#00f,#00f,#00f,#00f,#00f,#00f,#00f,#00f,#00f,#00f,#00f,#00f,#0004ff,#0017ff,#002aff,#003dff,#0050ff,#06f,#07f,#08f,#00a1ff,#0bf,#0cf,#00e5ff,#0ff,#0ff,#0ff,#0ff,#0ff,#0ff,#0ff,#0ff,#0ff,#00fff5,#00ffe6,#0fb,#00ff8e,#0f6,#00ff38,#00ff0d,#2f0,#50ff00,#8f0,#c2ff00,#f7ff00,#ff0,#ff0,#ffb700,#f60,#ff1c00,#f01,#ff001a)"></i>
<i style="background:linear-gradient(#0048ff,#004fff,#05f,#00b7ff,#0ff,#0ff,#0ff,#00ffe7,#00ffd2,#0fd,#00ffea,#0ff,#0ff,#0ff,#00d9ff,#00b3ff,#09f,#0093ff,#008fff,#00e6ff,#0fe,#00ff80,#0f4,#00ff80,#00ffe7,#00e3ff,#00f,#00f,#00f,#00f,#00f,#00f,#00f,#00f,#00f,#00f,#00f,#00f,#00f,#00f,#00f,#000dff,#02f,#03f,#04f,#05f,#06f,#007bff,#0090ff,#00a6ff,#0bf,#00d1ff,#00e7ff,#0ff,#0ff,#0ff,#0ff,#0ff,#0ff,#0ff,#0ff,#00fffb,#00fff3,#00ffe4,#00ffb7,#0f8,#00ff5e,#0f3,#00ff07,#2f0,#5f0,#8fff00,#c8ff00,#ff0,#ff0,#ff0,#ffb400,#ff6000,#ff1900,#ff0015,#ff001d)"></i>
<i style="background:linear-gradient(#02f,#002bff,#03f,#00a4ff,#0ff,#0ff,#0fd,#00ffc7,#00ffb1,#0fb,#0fc,#0fe,#0ff,#0ff,#00f9ff,#0ff,#0ff,#0ff,#0ff,#0ff,#00ff6a,#6f0,#d7ff00,#6f0,#00ff62,#0ff,#00f,#00f,#00f,#00f,#00f,#00f,#00f,#00f,#00f,#00f,#00f,#00f,#00f,#00f,#00f,#000aff,#001dff,#002fff,#04f,#05f,#06f,#07f,#008eff,#00a4ff,#0bf,#00d0ff,#00e7ff,#0ff,#0ff,#0ff,#0ff,#0ff,#0ff,#0ff,#00fff8,#0fe,#00ffe3,#00ffd1,#00ffa2,#00ff73,#0f4,#00ff18,#1f0,#3fff00,#6eff00,#a2ff00,#d7ff00,#ff0,#ff0,#fffb00,#ffb700,#f60,#ff1c00,#f01,#ff001a)"></i>
<i style="background:linear-gradient(#0038ff,#0040ff,#0048ff,#00afff,#0ff,#0ff,#00fff4,#0fd,#0fc,#00ffd5,#00ffe1,#0ff,#0ff,#0ff,#0df,#0cf,#0bf,#00b4ff,#00b0ff,#00f2ff,#00ffe8,#0f7,#00ff38,#0f7,#00ffe1,#0ef,#00f,#00f,#00f,#00f,#00f,#00f,#00f,#00f,#00f,#00f,#01f,#001cff,#002aff,#0037ff,#04f,#05f,#005fff,#006cff,#07f,#08f,#09f,#00a6ff,#00b5ff,#00c5ff,#00d4ff,#00e3ff,#00f3ff,#0ff,#0ff,#0ff,#0ff,#0ff,#00fffb,#0fe,#00ffd8,#00ffc5,#00ffb3,#0f9,#00ff6c,#00ff3e,#0f1,#19ff00,#3fff00,#6f0,#8f0,#af0,#cf0,#f5ff00,#ff0,#ff0,#fff500,#ffa100,#ff5100,#ff1e00,#ff1700)"></i>
<i style="background:linear-gradient(#0bf,#00bfff,#00c7ff,#0ef,#0ff,#0ff,#0fe,#0fd,#00ffc7,#00ffd3,#0fd,#0ff,#0ff,#0ff,#0ef,#0ff,#0ff,#0ff,#00f7ff,#0ff,#0fb,#00ff27,#28ff00,#00ff27,#00ffb4,#0ff,#00f,#00f,#00f,#00f,#00f,#00f,#00f,#00f,#00f,#000aff,#0017ff,#02f,#03f,#003eff,#004bff,#05f,#06f,#0071ff,#007eff,#008cff,#09f,#0af,#0bf,#00c7ff,#00d6ff,#00e5ff,#00f4ff,#0ff,#0ff,#0ff,#0ff,#0ff,#0ff,#0ff,#00fff4,#00ffe9,#0fd,#0fc,#0f9,#0f6,#0f3,#00ff07,#2f0,#5f0,#82ff00,#b5ff00,#e9ff00,#ff0,#ff0,#fe0,#fa0,#ff5a00,#f10,#ff001b,#f02)"></i>
<i style="background:linear-gradient(#0df,#00e3ff,#0ef,#0ff,#0ff,#0ff,#00ffe6,#00ffd0,#0fb,#00ffc7,#00ffd3,#00fff4,#0ff,#0ff,#0ef,#0ff,#0ff,#00fbff,#00f7ff,#0ff,#0fe,#00ff7d,#0f4,#00ff7d,#00ffe5,#00f6ff,#00f,#00f,#00f,#00f,#00f,#00f,#00f,#00f,#00f,#00f,#00f,#00f,#00f,#00f,#00f,#00f,#00f,#00f,#01f,#002bff,#04f,#0059ff,#0070ff,#08f,#00a3ff,#00c0ff,#0df,#00f8ff,#0ff,#0ff,#0ff,#0ff,#0ff,#0ff,#0ff,#0ff,#0ff,#00fff7,#00ffd4,#00ffb0,#00ff8d,#0f6,#00ff40,#00ff18,#17ff00,#5f0,#8dff00,#c7ff00,#ff0,#ff0,#fd0,#ff8300,#ff3700,#ff0800,#f00)"></i>
<i style="background:linear-gradient(#0ff,#0ff,#0ff,#0ff,#0ff,#0ff,#0fd,#0fc,#00ffb4,#00ffc0,#0fc,#0fe,#0ff,#0ff,#00e7ff,#00e4ff,#00d8ff,#00d2ff,#0cf,#0ff,#0fc,#00ff40,#0aff00,#00ff40,#00ffc2,#00f9ff,#00f,#00f,#00f,#00f,#00f,#00f,#00f,#00f,#00f,#00f,#00f,#00f,#00f,#00f,#00f,#00f,#00f,#01f,#0026ff,#003bff,#0050ff,#06f,#007bff,#0092ff,#0af,#00c6ff,#0df,#00faff,#0ff,#0ff,#0ff,#0ff,#0ff,#0ff,#0ff,#0ff,#0ff,#0ff,#0fe,#00ffd8,#0fb,#00ff9f,#00ff7b,#0f5,#00ff29,#1f0,#51ff00,#90ff00,#d1ff00,#ff0,#ff0,#fa0,#f50,#f20,#ff1b00)"></i>
<i style="background:linear-gradient(#0df,#00e5ff,#0ef,#0ff,#0ff,#0ff,#00ffd3,#0fb,#0fa,#00ffb4,#00ffc0,#00ffe5,#0ff,#0ff,#00e9ff,#0ef,#00e4ff,#0df,#0df,#00f3ff,#0ff,#00ffae,#00ff7c,#00ffae,#0ff,#00eaff,#00f,#00f,#00f,#00f,#00f,#00f,#00f,#00f,#00f,#00f,#00f,#00f,#00f,#00f,#00f,#00f,#00f,#00f,#01f,#0026ff,#003eff,#05f,#006dff,#0084ff,#00a1ff,#0bf,#0df,#00f7ff,#0ff,#0ff,#0ff,#0ff,#0ff,#0ff,#0ff,#0ff,#0ff,#0ff,#0ff,#0fe,#00ffd7,#0fb,#0f9,#0f7,#00ff48,#00ff0b,#3f0,#7f0,#bf0,#ff0,#ff0,#fb0,#f60,#ff2f00,#ff2800)"></i>
<i style="background:linear-gradient(#0ff,#0ff,#0ff,#0ff,#0ff,#0ff,#0fc,#0fb,#00ffa4,#00ffb0,#0fb,#00ffe1,#0ff,#0ff,#00e4ff,#0df,#0cf,#00c5ff,#00c1ff,#00f3ff,#00fff2,#0f8,#00ff4d,#0f8,#0fe,#0ef,#00f,#00f,#00f,#00f,#00f,#00f,#00f,#00f,#00f,#00f,#00f,#00f,#00f,#00f,#00f,#00f,#00f,#01f,#02f,#003aff,#004fff,#06f,#07f,#0092ff,#0af,#00c6ff,#0df,#00faff,#0ff,#0ff,#0ff,#0ff,#0ff,#0ff,#0ff,#00fff4,#0fe,#0fd,#0fa,#0f7,#0f4,#00ff18,#16ff00,#4f0,#7f0,#af0,#e5ff00,#ff0,#ff0,#ffe800,#ffa000,#ff4f00,#ff0a00,#f02,#ff002d)"></i>
<i style="background:linear-gradient(#0ff,#0ff,#0ff,#0ff,#0ff,#00ffd5,#00ff91,#00ff7b,#0f6,#00ff72,#00ff7e,#00ffaf,#00fff8,#0ff,#00f3ff,#0ff,#0ff,#0ff,#0ff,#0ff,#00ffd8,#00ff59,#00ff15,#00ff59,#00ffd1,#0ff,#00f,#00f,#00f,#00f,#00f,#00f,#00f,#00f,#00f,#00f,#000bff,#0018ff,#0026ff,#03f,#04f,#004fff,#005cff,#006aff,#07f,#08f,#0095ff,#00a4ff,#00b4ff,#00c3ff,#00d3ff,#00e3ff,#00f2ff,#0ff,#0ff,#0ff,#0ff,#0ff,#0ff,#0ff,#0ff,#0ff,#00fff6,#00ffe7,#0fb,#00ff91,#0f6,#00ff3b,#0f1,#1bff00,#4cff00,#8f0,#bfff00,#f4ff00,#ff0,#ff0,#fb0,#f60,#ff1d00,#f01,#ff0019)"></i>
<i style="background:linear-gradient(#0ff,#0ff,#0ff,#0ff,#0ff,#0fd,#00ff9d,#0f8,#00ff72,#00ff7e,#0f8,#0fb,#0ff,#0ff,#0ef,#0ff,#00faff,#00f5ff,#0ef,#0ff,#0f7,#4fff00,#bf0,#4fff00,#00ff70,#0ff,#00f,#00f,#00f,#00f,#00f,#00f,#00f,#00f,#00f,#00f,#00f,#00f,#00f,#00f,#000aff,#001bff,#002cff,#003eff,#004fff,#0060ff,#0072ff,#0083ff,#09f,#0af,#00c1ff,#00d5ff,#00eaff,#0ff,#0ff,#0ff,#0ff,#0ff,#0ff,#0ff,#00fff7,#0fe,#00ffe4,#00ffd2,#0f9,#0f6,#0f3,#0f0,#2fff00,#5fff00,#91ff00,#c8ff00,#ff0,#ff0,#ff0,#ffd500,#ff8e00,#ff3f00,#ff0004,#f03,#ff003a)"></i>
<i style="background:linear-gradient(#0ff,#0ff,#0ff,#0ff,#0ff,#0fe,#00ffb4,#00ff9e,#0f8,#00ff95,#00ffa1,#0fc,#0ff,#0ff,#00e8ff,#00e8ff,#0df,#00d7ff,#00d3ff,#0ff,#0fd,#0f6,#0f2,#0f6,#00ffd7,#00f4ff,#00f,#00f,#00f,#00f,#00f,#00f,#00f,#00f,#00f,#00f,#00f,#00f,#00f,#00f,#00f,#000dff,#02f,#03f,#04f,#05f,#06f,#007bff,#008fff,#00a5ff,#0bf,#00d1ff,#00e7ff,#0ff,#0ff,#0ff,#0ff,#0ff,#0ff,#0ff,#0ff,#00fff3,#00ffea,#00ffd8,#00ffa6,#0f7,#0f4,#0f1,#1bff00,#4aff00,#7cff00,#b3ff00,#ef0,#ff0,#ff0,#ffe400,#f90,#ff4b00,#ff0700,#ff0028,#f03)"></i>
<i style="background:linear-gradient(#00d0ff,#00d8ff,#0df,#00fbff,#0ff,#00ffe1,#00ffa4,#00ff8f,#0f7,#0f8,#00ff92,#00ffbf,#0ff,#0ff,#00e5ff,#0df,#00d2ff,#0cf,#00c8ff,#0ff,#0fc,#00ff40,#09ff00,#00ff40,#00ffc2,#00f7ff,#00f,#00f,#00f,#00f,#00f,#00f,#00f,#00f,#00f,#00f,#00f,#00f,#0005ff,#0015ff,#02f,#03f,#04f,#05f,#0062ff,#0072ff,#0081ff,#0093ff,#00a5ff,#00b7ff,#0cf,#0df,#0ef,#0ff,#0ff,#0ff,#0ff,#0ff,#0ff,#0ff,#00fff6,#0fe,#00ffe3,#00ffd0,#0f9,#0f6,#00ff2e,#04ff00,#3f0,#6f0,#95ff00,#cf0,#ff0,#ff0,#ff0,#ffd300,#ff8d00,#ff3e00,#ff0005,#f03,#ff003b)"></i>
<i style="background:linear-gradient(#00aeff,#00b6ff,#0bf,#00eaff,#0ff,#00fff2,#00ffbf,#0fa,#00ff94,#00ffa0,#0fa,#00ffd4,#0ff,#0ff,#0df,#00c4ff,#00afff,#0af,#00a4ff,#0ff,#00ff84,#3aff00,#a0ff00,#3aff00,#00ff7c,#0ff,#00f,#00f,#00f,#00f,#00f,#00f,#00f,#00f,#00f,#00f,#00f,#00f,#00f,#00f,#01f,#02f,#03f,#04f,#05f,#06f,#07f,#08f,#09f,#00b0ff,#00c3ff,#00d7ff,#0ef,#0ff,#0ff,#0ff,#0ff,#0ff,#0ff,#00fffb,#0fe,#00ffe2,#00ffd5,#00ffc1,#00ff8f,#00ff5d,#00ff2a,#04ff00,#2fff00,#5bff00,#8f0,#bf0,#eaff00,#ff0,#ff0,#fff200,#ffb400,#f60,#ff1b00,#f01,#ff001b)"></i>
<i style="background:linear-gradient(#0ff,#0ff,#0ff,#0ff,#0ff,#00ffe3,#0fa,#00ff92,#00ff7d,#0f8,#00ff95,#00ffc2,#0ff,#0ff,#0ff,#0ff,#0ff,#0ff,#0ff,#0ff,#0f4,#af0,#ff0,#af0,#00ff3f,#0ff,#00f,#00f,#00f,#00f,#00f,#00f,#00f,#00f,#00f,#00f,#00f,#00f,#00f,#00f,#00f,#01f,#02f,#0037ff,#0049ff,#005bff,#006dff,#007fff,#0093ff,#0af,#0bf,#00d3ff,#00e8ff,#0ff,#0ff,#0ff,#0ff,#0ff,#0ff,#00fffa,#0fe,#00ffe1,#00ffd4,#00ffc0,#00ff8e,#00ff5b,#00ff28,#06ff00,#3f0,#5eff00,#8cff00,#bf0,#ef0,#ff0,#ff0,#fe0,#ffb200,#ff6100,#ff1900,#ff0015,#ff001d)"></i>
<i style="background:linear-gradient(#0ff,#0ff,#0ff,#0ff,#0ff,#0fd,#00ffa1,#00ff8c,#0f7,#00ff83,#00ff8f,#0fb,#0ff,#0ff,#0ef,#0ff,#00f7ff,#0ef,#0ef,#0ff,#00ff28,#df0,#ff0,#df0,#0f2,#0ff,#00f,#00f,#00f,#00f,#00f,#00f,#00f,#00f,#00f,#00f,#00f,#00f,#00f,#00f,#00f,#00f,#00f,#00f,#0018ff,#002fff,#04f,#005cff,#0072ff,#08f,#00a6ff,#00c1ff,#0df,#00f8ff,#0ff,#0ff,#0ff,#0ff,#0ff,#0ff,#0ff,#0ff,#0ff,#0ff,#0fd,#00ffc1,#00ffa2,#00ff7f,#00ff59,#0f3,#00ff05,#37ff00,#72ff00,#aeff00,#ef0,#ff0,#fe0,#ff9400,#f40,#f10,#ff0d00)"></i>
<i style="background:linear-gradient(#00f9ff,#0ff,#0ff,#0ff,#0ff,#00ffe3,#00ffa6,#00ff91,#00ff7c,#0f8,#00ff94,#00ffc1,#0ff,#0ff,#0df,#0cf,#00b7ff,#00b0ff,#0af,#0ff,#00ff5f,#7bff00,#ef0,#7bff00,#0f5,#0ff,#00f,#00f,#00f,#00f,#00f,#00f,#00f,#00f,#00f,#00f,#00f,#00f,#00f,#00f,#00f,#00f,#00f,#00f,#00f,#0019ff,#03f,#004aff,#06f,#007cff,#09f,#0bf,#00d7ff,#00f6ff,#0ff,#0ff,#0ff,#0ff,#0ff,#0ff,#0ff,#0ff,#0ff,#00fff9,#00ffd6,#00ffb4,#00ff92,#00ff6d,#0f4,#00ff1e,#1f0,#4cff00,#8f0,#c2ff00,#fbff00,#ff0,#fd0,#f80,#ff3900,#ff0a00,#f00)"></i>
<i style="background:linear-gradient(#0ff,#0ff,#0ff,#0ff,#0ff,#00fff7,#00ffc7,#00ffb2,#00ff9d,#0fa,#00ffb5,#0fd,#0ff,#0ff,#0ef,#0ff,#0ff,#00faff,#00f6ff,#0ff,#0fa,#00ff07,#50ff00,#00ff07,#00ffa3,#0ff,#00f,#00f,#00f,#00f,#00f,#00f,#00f,#00f,#00f,#00f,#00f,#00f,#00f,#00f,#00f,#0007ff,#001aff,#002dff,#003fff,#05f,#06f,#07f,#008cff,#00a2ff,#0bf,#0cf,#00e6ff,#0ff,#0ff,#0ff,#0ff,#0ff,#0ff,#0ff,#0ff,#00fffb,#00fff3,#00ffe4,#00ffb7,#0f8,#00ff5e,#0f3,#00ff07,#2f0,#5f0,#8fff00,#c8ff00,#ff0,#ff0,#ff0,#ffb300,#ff6000,#ff1800,#ff0016,#ff001e)"></i>
<i style="background:linear-gradient(#0ff,#0ff,#0ff,#0ff,#0ff,#0ff,#0ff,#0fe,#00ffd6,#00ffe2,#0fe,#0ff,#0ff,#0ff,#0df,#0bf,#00a3ff,#09f,#09f,#00eaff,#00ffe1,#0f6,#0f2,#0f6,#00ffd9,#00e6ff,#00f,#00f,#00f,#00f,#00f,#00f,#00f,#00f,#00f,#00f,#00f,#00f,#00f,#00f,#00f,#00f,#00f,#00f,#00f,#001aff,#03f,#004bff,#06f,#007cff,#09f,#0bf,#00d7ff,#00f6ff,#0ff,#0ff,#0ff,#0ff,#0ff,#0ff,#0ff,#0ff,#0ff,#0ff,#0fd,#0fb,#0f9,#0f7,#00ff51,#00ff2a,#05ff00,#40ff00,#7cff00,#b7ff00,#f2ff00,#ff0,#ffe600,#ff8d00,#ff3f00,#f10,#ff0800)"></i>
<i style="background:linear-gradient(#0ff,#0ff,#0ff,#0ff,#0ff,#0ff,#0ff,#0fe,#00ffd6,#00ffe2,#0fe,#0ff,#0ff,#0ff,#00d4ff,#00a4ff,#08f,#0080ff,#007cff,#0cf,#0ff,#00ffbf,#00ff91,#00ffbf,#0ff,#0cf,#00f,#00f,#00f,#00f,#00f,#00f,#00f,#00f,#00f,#00f,#00f,#00f,#00f,#00f,#00f,#00f,#00f,#00f,#0004ff,#001cff,#03f,#004dff,#06f,#007dff,#09f,#0bf,#00d7ff,#00f6ff,#0ff,#0ff,#0ff,#0ff,#0ff,#0ff,#00fff9,#0fe,#00ffe6,#00ffd4,#00ff9f,#00ff6b,#0f3,#00ff06,#29ff00,#5f0,#8f0,#c2ff00,#f9ff00,#ff0,#ff0,#ffd900,#ff9200,#f40,#f00,#ff002f,#ff0037)"></i>
<i style="background:linear-gradient(#0ff,#0ff,#0ff,#0ff,#0ff,#0ff,#0ff,#00fff8,#00ffe3,#0fe,#00fffb,#0ff,#0ff,#00fbff,#0df,#00b7ff,#00a0ff,#09f,#0094ff,#00c4ff,#0ff,#0ff,#00fff3,#0ff,#0ff,#00c6ff,#00f,#00f,#00f,#00f,#00f,#00f,#00f,#00f,#00f,#00f,#00f,#00f,#00f,#00f,#00f,#00f,#00f,#00f,#000dff,#02f,#003bff,#05f,#006aff,#0081ff,#009dff,#0bf,#00d9ff,#00f6ff,#0ff,#0ff,#0ff,#0ff,#0ff,#0ff,#0ff,#0ff,#0ff,#00fff3,#0fc,#0fa,#0f8,#00ff5e,#0f3,#00ff0d,#2f0,#5eff00,#9f0,#d1ff00,#ff0,#ff0,#ffd300,#ff7c00,#f30,#f00,#ff0005)"></i>
<i style="background:linear-gradient(#0ff,#0ff,#0ff,#0ff,#0ff,#0ff,#0ff,#00fff9,#00ffe4,#0fe,#0ff,#0ff,#0ff,#00faff,#00d4ff,#00a4ff,#08f,#0080ff,#007cff,#00b2ff,#00e8ff,#0ff,#0ff,#0ff,#0ef,#0bf,#00f,#00f,#00f,#00f,#00f,#00f,#00f,#00f,#00f,#00f,#00f,#00f,#00f,#00f,#00f,#00f,#00f,#00f,#02f,#03f,#0049ff,#005dff,#0072ff,#08f,#00a0ff,#0bf,#0df,#00f7ff,#0ff,#0ff,#0ff,#0ff,#0ff,#0ff,#0ff,#0ff,#00fff6,#00ffe7,#0fb,#00ff92,#0f6,#00ff3d,#0f1,#19ff00,#4aff00,#83ff00,#bf0,#ef0,#ff0,#ff0,#fb0,#f60,#f20,#f01,#ff0017)"></i>
<i style="background:linear-gradient(#0ff,#0ff,#0ff,#0ff,#0ff,#0ff,#0ff,#00fff9,#00ffe3,#0fe,#0ff,#0ff,#0ff,#00faff,#00d9ff,#00b6ff,#009eff,#09f,#0092ff,#00b3ff,#0df,#00fbff,#0ff,#00fbff,#00e2ff,#0bf,#00f,#00f,#00f,#00f,#00f,#00f,#00f,#00f,#00f,#00f,#00f,#00f,#00f,#00f,#00f,#00f,#00f,#00f,#04f,#05f,#06f,#07f,#0084ff,#0094ff,#0af,#00c6ff,#0df,#00faff,#0ff,#0ff,#0ff,#0ff,#0ff,#0fe,#00ffe4,#00ffd8,#0fc,#00ffb5,#0f7,#00ff38,#07ff00,#3eff00,#6fff00,#a1ff00,#d3ff00,#ff0,#ff0,#ff0,#ffe200,#ffb300,#f70,#ff2a00,#ff001a,#f04,#ff004d)"></i>
<i style="background:linear-gradient(#00faff,#0ff,#0ff,#0ff,#0ff,#0ff,#0ff,#0fe,#00ffd8,#00ffe5,#0fe,#0ff,#0ff,#0ff,#00e5ff,#0df,#00d1ff,#0cf,#00c6ff,#00bfff,#00d5ff,#00f4ff,#0ff,#00f4ff,#0df,#00bfff,#0082ff,#0084ff,#08f,#08f,#08f,#08f,#008dff,#008fff,#0091ff,#0093ff,#0094ff,#09f,#009dff,#0bf,#00d9ff,#00e3ff,#00e8ff,#0ef,#00f2ff,#00f6ff,#00fbff,#0ff,#0ff,#0ff,#0ff,#0ff,#0ff,#0ff,#0ff,#0ff,#0ff,#0ff,#0ff,#0fe,#0fd,#0fc,#0fb,#0fa,#0f7,#00ff4b,#00ff1d,#0cff00,#3f0,#5f0,#7fff00,#a6ff00,#cf0,#f5ff00,#ff0,#ff0,#fe0,#f90,#ff4800,#ff1700,#f10)"></i>
<i style="background:linear-gradient(#0ff,#0ff,#0ff,#0ff,#0ff,#00fff7,#00ffc7,#00ffb2,#00ff9d,#0fa,#00ffb5,#0fd,#0ff,#0ff,#00e1ff,#0cf,#0bf,#00b7ff,#00b2ff,#0bf,#00d3ff,#0ef,#0ff,#0ef,#0df,#0bf,#004bff,#004cff,#004eff,#0050ff,#05f,#05f,#05f,#05f,#05f,#005aff,#005cff,#005dff,#005fff,#0061ff,#06f,#06f,#07f,#09f,#00b2ff,#0bf,#00c2ff,#0cf,#00d2ff,#0df,#00e4ff,#0ef,#00faff,#0ff,#0ff,#0ff,#0ff,#0ff,#0ff,#0ff,#0ff,#0ff,#00fff5,#00ffe6,#00ffc1,#0f9,#0f7,#00ff51,#00ff2a,#0f0,#2bff00,#62ff00,#9f0,#cf0,#ff0,#ff0,#fd0,#f80,#ff3b00,#ff0c00,#ff0500)"></i>
<i style="background:linear-gradient(#00eaff,#0ef,#00f9ff,#0ff,#0ff,#0fe,#0fb,#00ffa6,#00ff91,#00ff9d,#0fa,#00ffd2,#0ff,#0ff,#00d8ff,#00b1ff,#09f,#0090ff,#008cff,#00aeff,#00d3ff,#0ef,#0ff,#0ef,#0df,#00b4ff,#05f,#05f,#05f,#0059ff,#005bff,#005cff,#005eff,#005fff,#0061ff,#0062ff,#06f,#08f,#00a5ff,#00b4ff,#0bf,#0bf,#00c3ff,#00c8ff,#0cf,#00d2ff,#00d8ff,#0df,#00e5ff,#0ef,#00f3ff,#00faff,#0ff,#0ff,#0ff,#0ff,#0ff,#0ff,#0ff,#00fff6,#00ffe9,#0fd,#0fc,#0fb,#0f8,#0f5,#0f2,#1f0,#3aff00,#6f0,#92ff00,#c0ff00,#ef0,#ff0,#ff0,#fff400,#fb0,#f60,#f20,#f01,#ff0017)"></i>
<i style="background:linear-gradient(#00f3ff,#00faff,#0ff,#0ff,#0ff,#0fc,#00ff82,#00ff6d,#0f5,#0f6,#00ff70,#00ffa3,#0fe,#0ff,#0ff,#0ff,#0ff,#0ff,#0ff,#00e1ff,#00d5ff,#00f4ff,#0ff,#00f4ff,#0df,#00d4ff,#00e6ff,#00d8ff,#0cf,#0bf,#00b3ff,#00d3ff,#00f3ff,#0ff,#0ff,#0ff,#0ff,#0ff,#0ff,#0ff,#0ff,#0ff,#0ff,#0ff,#0ff,#0ff,#0ff,#0ff,#0ff,#0ff,#0ff,#0ff,#0ff,#0ff,#0ff,#0ff,#0ff,#0ff,#0ff,#0ff,#0ff,#00fff4,#00ffe8,#00ffd8,#00ffb6,#00ff93,#00ff70,#00ff4c,#00ff28,#0f0,#27ff00,#59ff00,#8f0,#bf0,#f3ff00,#ff0,#ff0,#ffa300,#f50,#f20,#ff1900)"></i>
<i style="background:linear-gradient(#0df,#00e7ff,#0ef,#0ff,#0ff,#0fc,#00ff80,#00ff6b,#0f5,#00ff62,#00ff6e,#00ffa1,#0fe,#0ff,#00e5ff,#0df,#00d2ff,#0cf,#00c7ff,#00c2ff,#0df,#00fbff,#0ff,#00fbff,#00e2ff,#00c1ff,#00f,#00f,#00f,#00f,#00f,#00f,#00f,#00f,#00f,#00f,#0007ff,#03f,#0060ff,#06f,#0070ff,#07f,#007eff,#08f,#008dff,#0094ff,#09f,#0af,#00b7ff,#00c6ff,#00d5ff,#00e4ff,#00f3ff,#0ff,#0ff,#0ff,#0ff,#0ff,#0ff,#0ff,#0ff,#0ff,#0ff,#0ff,#0fe,#00ffd2,#0fb,#0f9,#00ff73,#00ff4f,#0f2,#1bff00,#5f0,#9f0,#d6ff00,#ff0,#ff0,#ffa400,#f50,#f20,#ff1900)"></i>
<i style="background:linear-gradient(#0090ff,#09f,#00a0ff,#0df,#0ff,#0fe,#00ffb5,#00ffa0,#0f8,#0f9,#00ffa3,#0fc,#0ff,#0ff,#0df,#0bf,#00a3ff,#09f,#09f,#0bf,#00e6ff,#0ff,#0ff,#0ff,#0ef,#0bf,#00f,#00f,#00f,#00f,#00f,#00f,#00f,#00f,#00f,#00f,#00f,#00f,#00f,#01f,#0040ff,#06f,#006cff,#07f,#007eff,#08f,#008fff,#09f,#00a4ff,#00b6ff,#0cf,#0df,#0ef,#0ff,#0ff,#0ff,#0ff,#0ff,#0ff,#0ff,#0ff,#0ff,#0ff,#0fe,#00ffc6,#00ff9f,#0f7,#00ff4f,#0f2,#04ff00,#3f0,#6fff00,#af0,#df0,#ff0,#ff0,#ffc800,#ff7300,#ff2800,#ff0005,#ff000d)"></i>
<i style="background:linear-gradient(#0bf,#00c2ff,#0cf,#0ef,#0ff,#00ffea,#00ffb2,#00ff9d,#0f8,#00ff94,#00ffa0,#0fc,#0ff,#0ff,#00f2ff,#0ff,#0ff,#0ff,#0ff,#0df,#0ff,#0ff,#0ff,#0ff,#0ff,#00d8ff,#00b3ff,#00b1ff,#00aeff,#0af,#0af,#00a6ff,#00a4ff,#00a1ff,#009fff,#09f,#09f,#09f,#0094ff,#00b2ff,#00d2ff,#00e3ff,#00e8ff,#0ef,#0ef,#00f4ff,#00f8ff,#0ff,#0ff,#0ff,#0ff,#0ff,#0ff,#0ff,#0ff,#0ff,#0ff,#0ff,#0ff,#0ff,#0ff,#00fff5,#0fe,#0fd,#0fa,#0f7,#00ff48,#00ff19,#1f0,#4f0,#7f0,#af0,#e4ff00,#ff0,#ff0,#ffe900,#ffa100,#ff5000,#ff0a00,#f02,#ff002c)"></i>
<i style="background:linear-gradient(#009fff,#00a6ff,#00aeff,#00e2ff,#0ff,#00fff4,#00ffc2,#0fa,#0f9,#00ffa4,#00ffb0,#00ffd7,#0ff,#0ff,#00e8ff,#00e9ff,#0df,#00d9ff,#00d4ff,#00e3ff,#0ff,#0fd,#00ffb3,#0fd,#0ff,#0df,#00e8ff,#00e2ff,#0df,#00d5ff,#0cf,#0cf,#00c3ff,#0bf,#00b7ff,#00b1ff,#0cf,#0ef,#0ff,#0ff,#0ff,#0ff,#0ff,#0ff,#0ff,#0ff,#0ff,#0ff,#0ff,#0ff,#0ff,#0ff,#0ff,#0ff,#0ff,#0ff,#0ff,#0ff,#0ff,#0ff,#0ff,#0ff,#00fff5,#00ffe6,#0fb,#00ff8f,#0f6,#00ff38,#00ff0d,#1eff00,#4fff00,#8f0,#c1ff00,#f6ff00,#ff0,#ff0,#fb0,#f60,#ff1c00,#f01,#ff001a)"></i>
<i style="background:linear-gradient(#0ff,#0ff,#0ff,#0ff,#0ff,#0ff,#00ffd4,#00ffbf,#0fa,#00ffb6,#00ffc2,#00ffe6,#0ff,#0ff,#00d9ff,#00b2ff,#09f,#0092ff,#008eff,#0df,#0ff,#0f9,#0f6,#0f9,#00fffa,#0df,#005fff,#0060ff,#0061ff,#0062ff,#06f,#06f,#06f,#06f,#06f,#06f,#006fff,#008fff,#00afff,#0bf,#0bf,#00c3ff,#00c7ff,#0cf,#00d1ff,#00d6ff,#0df,#00e1ff,#00e7ff,#0ef,#00f5ff,#0ff,#0ff,#0ff,#0ff,#0ff,#0ff,#0ff,#0ff,#0ff,#0ff,#00fff9,#0fe,#00ffe1,#00ffb3,#0f8,#0f5,#00ff2b,#0f0,#2eff00,#5fff00,#9f0,#d0ff00,#ff0,#ff0,#fff800,#ffae00,#ff5b00,#f10,#ff001a,#f02)"></i>
<i style="background:linear-gradient(#0ff,#0ff,#0ff,#0ff,#0ff,#0ff,#00ffd2,#0fb,#0fa,#00ffb3,#00ffbf,#00ffe4,#0ff,#0ff,#0df,#0bf,#00a6ff,#009fff,#09f,#00e7ff,#00fff2,#00ff84,#00ff49,#00ff84,#0fe,#00e3ff,#0038ff,#003bff,#003fff,#04f,#04f,#004aff,#004eff,#05f,#006aff,#08f,#00a2ff,#00a6ff,#0af,#00b0ff,#00b5ff,#0bf,#0bf,#00c3ff,#00c8ff,#0cf,#00d4ff,#0df,#00e3ff,#00eaff,#00f2ff,#00f9ff,#0ff,#0ff,#0ff,#0ff,#0ff,#0ff,#0ff,#0ff,#00fff7,#0fe,#00ffe4,#00ffd2,#0f9,#0f6,#0f3,#0f0,#3f0,#5fff00,#92ff00,#cf0,#ff0,#ff0,#ff0,#ffd500,#ff8e00,#ff3f00,#ff0005,#f03,#ff003b)"></i>
<i style="background:linear-gradient(#0cf,#00d0ff,#00d8ff,#00f7ff,#0ff,#0ff,#00ffd6,#00ffc1,#0fa,#0fb,#00ffc4,#00ffe8,#0ff,#0ff,#0df,#00c5ff,#00b2ff,#0af,#00a6ff,#00e9ff,#00fffa,#00ff92,#00ff5b,#00ff92,#00fff3,#00e4ff,#006cff,#006dff,#006dff,#006eff,#006eff,#006fff,#006fff,#0070ff,#0070ff,#0071ff,#0091ff,#00b1ff,#00c0ff,#00c5ff,#0cf,#0cf,#00d2ff,#00d6ff,#0df,#0df,#00e4ff,#00e9ff,#0ef,#00f4ff,#00faff,#0ff,#0ff,#0ff,#0ff,#0ff,#0ff,#0ff,#0ff,#0ff,#00fff3,#00ffe9,#0fd,#0fc,#00ff94,#00ff5c,#0f2,#1f0,#4f0,#71ff00,#a4ff00,#df0,#ff0,#ff0,#ff0,#ffc800,#ff8200,#f30,#f01,#ff003b,#f04)"></i>
<i style="background:linear-gradient(#0af,#00b3ff,#0bf,#00e9ff,#0ff,#00fff9,#0fc,#00ffb4,#00ff9f,#0fa,#00ffb7,#0fd,#0ff,#0ff,#0df,#0cf,#0bf,#00b3ff,#00aeff,#00e8ff,#0ff,#00ffa6,#00ff73,#00ffa6,#0ff,#00e3ff,#0071ff,#0072ff,#0073ff,#0073ff,#07f,#07f,#07f,#07f,#07f,#07f,#07f,#0090ff,#00afff,#00c6ff,#0cf,#00d0ff,#00d5ff,#00d9ff,#0df,#00e3ff,#00e7ff,#0ef,#0ef,#00f6ff,#00fbff,#0ff,#0ff,#0ff,#0ff,#0ff,#0ff,#0ff,#0ff,#0ff,#0ff,#00fff8,#0fe,#0fd,#00ffb1,#00ff83,#0f5,#00ff27,#05ff00,#3f0,#6f0,#9f0,#d4ff00,#ff0,#ff0,#fff500,#fa0,#ff5900,#f10,#ff001c,#f02)"></i>
<i style="background:linear-gradient(#0ef,#00f9ff,#0ff,#0ff,#0ff,#00ffe7,#0fa,#0f9,#00ff83,#00ff8f,#0f9,#00ffc6,#0ff,#0ff,#00e2ff,#00d3ff,#00c2ff,#0bf,#00b7ff,#00e8ff,#0ff,#00ffb2,#00ff82,#00ffb2,#0ff,#00e3ff,#0037ff,#04f,#004cff,#05f,#0061ff,#006bff,#0081ff,#009eff,#0bf,#0bf,#00c0ff,#00c5ff,#0cf,#0cf,#00d2ff,#00d6ff,#0df,#0df,#00e3ff,#00e7ff,#0ef,#0ef,#00f5ff,#00f9ff,#0ff,#0ff,#0ff,#0ff,#0ff,#0ff,#0ff,#0ff,#0ff,#0ff,#0ff,#0ff,#0ff,#0ff,#00ffe7,#0fc,#00ffae,#00ff8c,#0f6,#0f4,#0f1,#29ff00,#6f0,#a3ff00,#e1ff00,#ff0,#fff500,#f90,#ff4b00,#ff1900,#f10)"></i>
<i style="background:linear-gradient(#0ef,#00f6ff,#0ff,#0ff,#0ff,#00ffe7,#00ffae,#0f9,#00ff83,#00ff8f,#0f9,#00ffc6,#0ff,#0ff,#00e3ff,#00d8ff,#0cf,#00c3ff,#00bfff,#00e9ff,#0ff,#0fb,#00ff8d,#0fb,#0ff,#00e3ff,#00f,#00f,#00f,#00f,#00f,#00f,#0017ff,#005eff,#007fff,#08f,#008cff,#0092ff,#09f,#00a0ff,#00a6ff,#0af,#00b3ff,#0bf,#00c1ff,#0cf,#00d1ff,#00d8ff,#0df,#00e8ff,#0ef,#00f8ff,#0ff,#0ff,#0ff,#0ff,#0ff,#0ff,#0ff,#0ff,#0ff,#0ff,#0ff,#0ff,#00ffe8,#0fc,#00ffb0,#00ff8e,#0f6,#0f4,#00ff16,#26ff00,#62ff00,#9fff00,#df0,#ff0,#fff800,#ff9e00,#ff4d00,#ff1b00,#f10)"></i>
<i style="background:linear-gradient(#07f,#007eff,#08f,#0cf,#0ff,#0fd,#00ff9f,#0f8,#0f7,#00ff81,#00ff8d,#0fb,#0ff,#0ff,#00e1ff,#0cf,#0bf,#00b6ff,#00b2ff,#00e9ff,#0ff,#0fa,#0f7,#0fa,#0ff,#00e4ff,#00f,#00f,#00f,#00f,#00f,#00f,#00f,#00f,#00f,#00f,#00f,#002bff,#0037ff,#04f,#004eff,#005aff,#06f,#0071ff,#007dff,#08f,#09f,#00a6ff,#00b5ff,#00c4ff,#00d4ff,#00e3ff,#00f3ff,#0ff,#0ff,#0ff,#0ff,#0ff,#0ff,#0ff,#0ff,#0ff,#0ff,#00fffb,#00ffe6,#00ffd0,#0fb,#00ff9f,#00ff7f,#00ff5f,#0f3,#0f0,#37ff00,#7f0,#b6ff00,#f8ff00,#ff0,#fc0,#f70,#ff3e00,#ff3700)"></i>
<i style="background:linear-gradient(#0072ff,#07f,#0081ff,#0cf,#0ff,#0fd,#00ff9f,#0f8,#0f7,#00ff81,#00ff8d,#0fb,#0ff,#0ff,#00e3ff,#00d7ff,#00c8ff,#00c2ff,#0bf,#00faff,#0fd,#00ff5e,#00ff1b,#00ff5e,#00ffd4,#0ef,#00f,#00f,#00f,#00f,#00f,#00f,#00f,#00f,#00f,#00f,#00f,#001bff,#0029ff,#03f,#04f,#0050ff,#005dff,#006aff,#07f,#08f,#0094ff,#00a3ff,#00b3ff,#00c3ff,#00d3ff,#00e2ff,#00f2ff,#0ff,#0ff,#0ff,#0ff,#0ff,#0ff,#0ff,#0ff,#00fff9,#0fe,#0fd,#0fb,#0f9,#0f7,#0f5,#00ff2f,#00ff0a,#2f0,#5f0,#8f0,#bfff00,#f6ff00,#ff0,#fff400,#f90,#ff4c00,#ff1a00,#f10)"></i>
<i style="background:linear-gradient(#09f,#00a0ff,#0af,#0df,#0ff,#0fd,#00ff9d,#0f8,#00ff72,#00ff7e,#0f8,#0fb,#0ff,#0ff,#0df,#0cf,#00b7ff,#00b0ff,#0af,#00f5ff,#00ffd9,#00ff5b,#00ff18,#00ff5b,#00ffd2,#0ef,#00f,#00f,#00f,#00f,#00f,#00f,#00f,#00f,#00f,#00f,#00f,#00f,#00f,#0009ff,#001aff,#002aff,#003aff,#004aff,#005aff,#006bff,#007bff,#008cff,#009fff,#00b2ff,#00c6ff,#00d9ff,#0ef,#0ff,#0ff,#0ff,#0ff,#0ff,#0ff,#0ff,#0ff,#0ff,#0ff,#0ff,#0ff,#0ff,#0ff,#00ffe4,#00ffc5,#00ffa5,#0f7,#00ff3b,#0f0,#4aff00,#95ff00,#e2ff00,#ff0,#ffd600,#ff7e00,#f40,#ff3e00)"></i>
<i style="background:linear-gradient(#00d4ff,#0df,#00e3ff,#0ff,#0ff,#0fd,#00ff9d,#0f8,#00ff72,#00ff7e,#0f8,#0fb,#0ff,#0ff,#0df,#0cf,#0bf,#00b4ff,#00b0ff,#00e7ff,#0ff,#0fa,#0f7,#0fa,#0ff,#00e2ff,#00f,#00f,#00f,#00f,#00f,#00f,#00f,#00f,#00f,#00f,#00f,#00f,#00f,#00f,#00f,#00f,#000cff,#02f,#03f,#04f,#005bff,#006fff,#0083ff,#09f,#00b3ff,#0cf,#00e3ff,#00fbff,#0ff,#0ff,#0ff,#0ff,#0ff,#0ff,#0ff,#0ff,#0ff,#0fe,#0fc,#00ffa6,#00ff80,#0f5,#00ff2f,#00ff07,#29ff00,#6f0,#9eff00,#d6ff00,#ff0,#ff0,#fc0,#f70,#ff2e00,#f00,#ff0008)"></i>
<i style="background:linear-gradient(#0ff,#0ff,#0ff,#0ff,#0ff,#0fe,#00ffb4,#00ff9f,#0f8,#0f9,#00ffa2,#0fc,#0ff,#0ff,#0df,#00c4ff,#00b0ff,#0af,#00a4ff,#00e9ff,#00fffa,#00ff93,#00ff5c,#00ff93,#00fff2,#00e4ff,#00f,#00f,#00f,#00f,#00f,#00f,#00f,#00f,#00f,#00f,#00f,#00f,#000dff,#001cff,#002bff,#003aff,#0049ff,#05f,#06f,#07f,#08f,#09f,#0af,#0bf,#0cf,#0df,#0ef,#0ff,#0ff,#0ff,#0ff,#0ff,#0ff,#00fffa,#0fe,#00ffe5,#0fd,#00ffc7,#00ff8c,#00ff51,#00ff16,#2f0,#51ff00,#82ff00,#b5ff00,#ef0,#ff0,#ff0,#fe0,#fb0,#f70,#ff2b00,#ff0019,#f04,#ff004c)"></i>
<i style="background:linear-gradient(#0ff,#0ff,#0ff,#0ff,#0ff,#00ffd3,#00ff8d,#0f7,#00ff62,#00ff6f,#00ff7b,#0fa,#00fff6,#0ff,#00eaff,#0ef,#00e6ff,#0df,#0df,#0ff,#00ffc8,#00ff3d,#0dff00,#00ff3d,#00ffc0,#0ff,#00f,#00f,#00f,#00f,#00f,#00f,#00f,#00f,#00f,#00f,#00f,#00f,#00f,#00f,#01f,#02f,#03f,#04f,#05f,#06f,#07f,#08f,#09f,#00aeff,#00c2ff,#00d6ff,#00eaff,#0ff,#0ff,#0ff,#0ff,#0ff,#0ff,#0ff,#0ff,#0ff,#0ff,#00fff6,#00ffd2,#00ffaf,#0f8,#0f6,#00ff3d,#00ff15,#1aff00,#5f0,#90ff00,#cf0,#ff0,#ff0,#ffd900,#ff8100,#f30,#ff0600,#f00)"></i>
<i style="background:linear-gradient(#0ef,#00f8ff,#0ff,#0ff,#0ff,#0fc,#00ff83,#00ff6e,#00ff59,#0f6,#00ff71,#00ffa4,#0fe,#0ff,#00e2ff,#00d3ff,#00c3ff,#0bf,#0bf,#00f7ff,#0fd,#0f6,#0f2,#0f6,#00ffd7,#0ef,#00f,#00f,#00f,#00f,#00f,#00f,#00f,#00f,#00f,#00f,#00f,#00f,#00f,#000aff,#001bff,#002bff,#003bff,#004bff,#005bff,#006bff,#007cff,#008dff,#00a0ff,#00b3ff,#00c6ff,#00d9ff,#0ef,#0ff,#0ff,#0ff,#0ff,#0ff,#0ff,#0ff,#0ff,#0ff,#0ff,#0ff,#00ffe7,#0fc,#00ffae,#00ff8c,#0f6,#0f4,#0f1,#28ff00,#6f0,#a2ff00,#df0,#ff0,#fff600,#f90,#ff4b00,#ff1a00,#f10)"></i>
<i style="background:linear-gradient(#00d3ff,#0df,#00e3ff,#0ff,#0ff,#00ffd1,#0f8,#0f7,#00ff5f,#00ff6b,#0f7,#0fa,#00fff4,#0ff,#0ef,#0ff,#0ff,#0ff,#0ff,#0ff,#0ff,#00ffa4,#00ff71,#00ffa4,#0ff,#0ef,#00f,#00f,#00f,#00f,#00f,#00f,#00f,#00f,#00f,#00f,#00f,#00f,#00f,#00f,#00f,#00f,#00f,#00f,#000aff,#02f,#0039ff,#0051ff,#06f,#0081ff,#009eff,#0bf,#00d9ff,#00f7ff,#0ff,#0ff,#0ff,#0ff,#0ff,#0ff,#0ff,#0ff,#0ff,#0ff,#00fff8,#00ffe1,#0fc,#0fa,#0f8,#0f6,#00ff37,#05ff00,#4f0,#83ff00,#c6ff00,#ff0,#ff0,#ffaf00,#ff5d00,#ff2800,#f20)"></i>
<i style="background:linear-gradient(#0df,#00e4ff,#0ef,#0ff,#0ff,#00ffd4,#00ff8f,#0f7,#0f6,#00ff70,#00ff7c,#0fa,#00fff7,#0ff,#00f8ff,#0ff,#0ff,#0ff,#0ff,#0ff,#0ff,#00ffa3,#00ff6f,#00ffa3,#0ff,#00f7ff,#00f,#00f,#00f,#00f,#00f,#00f,#00f,#00f,#00f,#00f,#00f,#00f,#00f,#00f,#00f,#00f,#01f,#0027ff,#003aff,#004dff,#0061ff,#07f,#08f,#009fff,#00b6ff,#0cf,#00e5ff,#0ff,#0ff,#0ff,#0ff,#0ff,#0ff,#0ff,#0ff,#0ff,#0ff,#00fff8,#00ffd6,#00ffb4,#00ff91,#00ff6c,#0f4,#00ff1d,#1f0,#4dff00,#8f0,#c2ff00,#ff0,#ff0,#fd0,#f80,#ff3900,#ff0a00,#f00)"></i>
<i style="background:linear-gradient(#0ff,#0ff,#0ff,#0ff,#0ff,#0fd,#0f9,#0f8,#00ff72,#00ff7e,#0f8,#0fb,#0ff,#0ff,#00e3ff,#00d6ff,#00c6ff,#00c0ff,#0bf,#0ef,#0ff,#00ffa0,#00ff6c,#00ffa0,#00fffa,#00e6ff,#00f,#00f,#00f,#00f,#00f,#00f,#00f,#00f,#00f,#00f,#00f,#00f,#00f,#00f,#00f,#00f,#00f,#00f,#00f,#00f,#001eff,#0039ff,#05f,#006fff,#008cff,#00aeff,#00d1ff,#00f3ff,#0ff,#0ff,#0ff,#0ff,#0ff,#0ff,#0ff,#0ff,#0ff,#0ff,#0fd,#0fb,#0f9,#0f7,#00ff4f,#00ff28,#07ff00,#4f0,#7eff00,#bf0,#f4ff00,#ff0,#ffe500,#ff8c00,#ff3e00,#f10,#ff0800)"></i>
<i style="background:linear-gradient(#0ff,#0ff,#0ff,#0ff,#0ff,#0fd,#0f9,#00ff82,#00ff6d,#0f7,#0f8,#00ffb5,#00fffb,#0ff,#0df,#00b6ff,#009fff,#09f,#0093ff,#00e8ff,#0fe,#00ff80,#0f4,#00ff80,#00ffe7,#00e4ff,#00f,#00f,#00f,#00f,#00f,#00f,#00f,#00f,#00f,#00f,#00f,#00f,#00f,#00f,#00f,#00f,#00f,#00f,#00f,#00f,#01f,#002eff,#004bff,#06f,#0084ff,#0af,#0cf,#0ef,#0ff,#0ff,#0ff,#0ff,#0ff,#0ff,#0ff,#0ff,#0ff,#00fff6,#00ffd2,#00ffaf,#0f8,#0f6,#00ff3d,#00ff16,#1aff00,#5f0,#90ff00,#cf0,#ff0,#ff0,#ffd900,#ff8200,#f30,#ff0700,#f00)"></i>
<i style="background:linear-gradient(#0ef,#00f8ff,#0ff,#0ff,#0ff,#00ffd8,#0f9,#00ff80,#00ff6b,#0f7,#00ff83,#00ffb3,#00fffa,#0ff,#00e7ff,#00e4ff,#00d8ff,#00d1ff,#0cf,#0ff,#00ff83,#3bff00,#a1ff00,#3bff00,#00ff7c,#0ff,#00f,#00f,#00f,#00f,#00f,#00f,#00f,#00f,#00f,#00f,#00f,#00f,#00f,#00f,#00f,#00f,#00f,#00f,#00f,#00f,#0008ff,#0026ff,#04f,#0061ff,#007eff,#00a3ff,#0cf,#0ef,#0ff,#0ff,#0ff,#0ff,#0ff,#0ff,#0ff,#0ff,#0ff,#00fff4,#00ffd4,#00ffb4,#00ff94,#00ff71,#00ff4b,#00ff26,#08ff00,#4f0,#7f0,#b3ff00,#ef0,#ff0,#fe0,#f90,#ff4800,#ff1700,#f10)"></i>
<i style="background:linear-gradient(#0df,#00e6ff,#0ef,#0ff,#0ff,#0fb,#0f6,#00ff4e,#00ff39,#0f4,#00ff51,#0f8,#00ffe1,#0ff,#00eaff,#0ef,#00e6ff,#0df,#0df,#0ff,#0f3,#cf0,#ff0,#cf0,#00ff2b,#0ff,#00f,#00f,#00f,#00f,#00f,#00f,#00f,#00f,#00f,#00f,#00f,#00f,#00f,#00f,#00f,#00f,#01f,#02f,#0038ff,#004bff,#005fff,#0072ff,#08f,#009eff,#00b5ff,#0cf,#00e4ff,#0ff,#0ff,#0ff,#0ff,#0ff,#0ff,#0ff,#0fe,#0fd,#00ffd2,#0fb,#0f9,#00ff6e,#0f4,#0f2,#05ff00,#2aff00,#5f0,#7eff00,#af0,#d7ff00,#ff0,#ff0,#fff700,#ffa000,#ff5000,#ff1d00,#ff1700)"></i>
<i style="background:linear-gradient(#00f3ff,#00fbff,#0ff,#0ff,#0ff,#00ffd8,#00ff95,#00ff80,#00ff6b,#0f7,#00ff83,#00ffb3,#00fffa,#0ff,#00d9ff,#00b5ff,#009dff,#0095ff,#0091ff,#0ff,#00ff8e,#28ff00,#8f0,#28ff00,#0f8,#0ff,#00f,#00f,#00f,#00f,#00f,#00f,#00f,#00f,#00f,#00f,#00f,#00f,#00f,#00f,#00f,#0005ff,#0018ff,#002bff,#003eff,#0051ff,#06f,#07f,#08f,#00a2ff,#0bf,#0cf,#00e6ff,#0ff,#0ff,#0ff,#0ff,#0ff,#0ff,#0ff,#0ff,#00fff4,#00ffea,#0fd,#0fa,#00ff7f,#0f5,#00ff27,#04ff00,#2fff00,#5fff00,#95ff00,#cf0,#ff0,#ff0,#ff0,#fb0,#f60,#f20,#f01,#ff0017)"></i>
<i style="background:linear-gradient(#0ff,#0ff,#0ff,#0ff,#0ff,#0fd,#0f9,#00ff83,#00ff6d,#0f7,#0f8,#00ffb5,#00fffb,#0ff,#00e2ff,#00d3ff,#00c3ff,#0bf,#0bf,#00f9ff,#00ffd8,#00ff5a,#00ff16,#00ff5a,#00ffd1,#0ef,#00f,#00f,#00f,#00f,#00f,#00f,#00f,#00f,#00f,#00f,#00f,#00f,#0007ff,#0017ff,#0026ff,#03f,#04f,#05f,#06f,#0073ff,#0082ff,#0094ff,#00a6ff,#0bf,#0cf,#0df,#0ef,#0ff,#0ff,#0ff,#0ff,#0ff,#0ff,#0ff,#0ff,#0ff,#0ff,#00fffa,#00ffd9,#00ffb7,#0f9,#00ff71,#00ff4a,#0f2,#0cff00,#4f0,#83ff00,#bf0,#f7ff00,#ff0,#ffe200,#f80,#ff3c00,#ff0c00,#ff0600)"></i>
<i style="background:linear-gradient(#0ff,#0ff,#0ff,#0ff,#0ff,#00ffd0,#0f8,#00ff73,#00ff5d,#00ff6a,#0f7,#0fa,#00fff3,#0ff,#0df,#00c2ff,#0af,#00a6ff,#00a2ff,#00f3ff,#00ffd7,#0f5,#0f1,#0f5,#00ffd0,#0ef,#00f,#00f,#00f,#00f,#00f,#00f,#00f,#00f,#00f,#00f,#00f,#00f,#01f,#001dff,#002cff,#003bff,#004aff,#0059ff,#06f,#07f,#08f,#09f,#0af,#0bf,#0cf,#0df,#0ef,#0ff,#0ff,#0ff,#0ff,#0ff,#0ff,#0ff,#0ff,#0ff,#0ff,#0fe,#00ffc7,#00ff9f,#0f7,#00ff4f,#00ff26,#0f0,#3f0,#6eff00,#af0,#df0,#ff0,#ff0,#fc0,#ff7300,#ff2900,#ff0005,#ff000d)"></i>
<i style="background:linear-gradient(#0ff,#0ff,#0ff,#0ff,#0ff,#0fd,#00ffa0,#0f8,#0f7,#00ff82,#00ff8e,#0fb,#0ff,#0ff,#00d4ff,#00a4ff,#08f,#0080ff,#007cff,#0ef,#0fc,#00ff49,#0f0,#00ff49,#00ffc7,#00e2ff,#00f,#00f,#00f,#00f,#00f,#00f,#00f,#00f,#00f,#00f,#00f,#00f,#00f,#00f,#00f,#00f,#0006ff,#001aff,#002fff,#04f,#05f,#006cff,#0080ff,#09f,#00b1ff,#0cf,#00e2ff,#00fbff,#0ff,#0ff,#0ff,#0ff,#0ff,#0ff,#0ff,#0ff,#00fff9,#0fe,#00ffc2,#0f9,#00ff70,#0f4,#00ff1c,#1f0,#3fff00,#7f0,#b2ff00,#e8ff00,#ff0,#ff0,#ffc200,#ff6d00,#f20,#ff000a,#f01)"></i>
<i style="background:linear-gradient(#0ef,#00f4ff,#00fbff,#0ff,#0ff,#0fd,#0f9,#0f8,#00ff70,#00ff7c,#0f8,#00ffb7,#0ff,#0ff,#00e8ff,#00e9ff,#0df,#00d9ff,#00d4ff,#0ff,#00ffc8,#00ff3c,#1f0,#00ff3c,#00ffc0,#00faff,#00f,#00f,#00f,#00f,#00f,#00f,#00f,#00f,#00f,#00f,#00f,#00f,#0008ff,#0017ff,#0026ff,#03f,#04f,#05f,#06f,#0073ff,#0083ff,#0094ff,#00a6ff,#0bf,#0cf,#0df,#0ef,#0ff,#0ff,#0ff,#0ff,#0ff,#0ff,#0ff,#0ff,#0ff,#0ff,#0fe,#0fc,#00ffa5,#00ff7f,#0f5,#00ff2e,#00ff05,#2bff00,#6f0,#a0ff00,#d7ff00,#ff0,#ff0,#fc0,#f70,#ff2d00,#f00,#ff0009)"></i>
<i style="background:linear-gradient(#00f3ff,#00fbff,#0ff,#0ff,#0ff,#00ffe7,#00ffae,#0f9,#00ff83,#00ff8f,#0f9,#00ffc7,#0ff,#0ff,#0df,#00c5ff,#00b1ff,#0af,#00a6ff,#00faff,#00ffc4,#0f3,#16ff00,#0f3,#0fb,#00f3ff,#00f,#00f,#00f,#00f,#00f,#00f,#00f,#00f,#00f,#00f,#00f,#00f,#00f,#00f,#00f,#00f,#0008ff,#001dff,#03f,#04f,#0059ff,#006dff,#0082ff,#09f,#00b2ff,#0cf,#00e3ff,#00fbff,#0ff,#0ff,#0ff,#0ff,#0ff,#0ff,#0ff,#0ff,#0ff,#0ff,#0fe,#00ffd8,#00ffbf,#00ffa0,#00ff7c,#0f5,#00ff2a,#1f0,#50ff00,#8fff00,#d0ff00,#ff0,#ff0,#fa0,#f50,#f20,#ff1c00)"></i>
<i style="background:linear-gradient(#00e8ff,#0ef,#00f7ff,#0ff,#0ff,#00fff7,#00ffc7,#00ffb2,#0f9,#0fa,#00ffb5,#0fd,#0ff,#0ff,#0df,#0bf,#00a5ff,#009eff,#09f,#00f4ff,#0fc,#0f4,#0f0,#0f4,#00ffc5,#0ef,#00f,#00f,#00f,#00f,#00f,#00f,#00f,#00f,#00f,#00f,#01f,#001cff,#002aff,#0037ff,#04f,#05f,#005fff,#006cff,#07f,#08f,#09f,#00a6ff,#00b5ff,#00c5ff,#00d4ff,#00e3ff,#00f3ff,#0ff,#0ff,#0ff,#0ff,#0ff,#0ff,#0ff,#0ff,#0ff,#0ff,#0fe,#00ffc8,#00ffa2,#00ff7b,#0f5,#00ff29,#0f0,#3f0,#6aff00,#a4ff00,#df0,#ff0,#ff0,#fc0,#f70,#ff2b00,#f00,#ff000b)"></i>
<i style="background:linear-gradient(#00e9ff,#0ef,#00f9ff,#0ff,#0ff,#0ff,#00ffe5,#00ffd0,#0fb,#00ffc6,#00ffd3,#00fff3,#0ff,#0ff,#00d4ff,#00a4ff,#08f,#0080ff,#007cff,#00e8ff,#00ffd9,#00ff5a,#00ff17,#00ff5a,#00ffd1,#0df,#00f,#00f,#00f,#00f,#00f,#00f,#00f,#00f,#00f,#00f,#00f,#00f,#00f,#00f,#00f,#0008ff,#001bff,#002eff,#04f,#05f,#06f,#07f,#008dff,#00a3ff,#0bf,#00d0ff,#00e6ff,#0ff,#0ff,#0ff,#0ff,#0ff,#0ff,#0ff,#0ff,#0ff,#0ff,#00fff8,#00ffd5,#00ffb3,#00ff90,#00ff6b,#0f4,#00ff1c,#1f0,#4eff00,#8f0,#c3ff00,#ff0,#ff0,#fd0,#f80,#ff3800,#ff0900,#f00)"></i>
<i style="background:linear-gradient(#0df,#00e5ff,#0ef,#0ff,#0ff,#0ff,#00ffe8,#00ffd3,#0fb,#0fc,#00ffd6,#00fff6,#0ff,#0ff,#00d8ff,#00b2ff,#09f,#0091ff,#008dff,#00eaff,#00ffe1,#0f6,#00ff28,#0f6,#0fd,#00e7ff,#00f,#00f,#00f,#00f,#00f,#00f,#00f,#00f,#00f,#00f,#00f,#00f,#00f,#00f,#01f,#02f,#03f,#04f,#05f,#06f,#07f,#08f,#09f,#00b0ff,#00c4ff,#00d7ff,#0ef,#0ff,#0ff,#0ff,#0ff,#0ff,#0ff,#0ff,#0ff,#0ff,#00fff9,#0fe,#00ffc6,#00ffa1,#00ff7c,#0f5,#00ff2e,#00ff06,#28ff00,#60ff00,#9f0,#cf0,#ff0,#ff0,#fd0,#ff8400,#ff3700,#ff0900,#f00)"></i>
<i style="background:linear-gradient(#0df,#00e2ff,#00eaff,#0ff,#0ff,#0ff,#00fff6,#00ffe1,#0fc,#00ffd8,#00ffe4,#0ff,#0ff,#0ff,#00d4ff,#00a4ff,#08f,#0080ff,#007cff,#00e3ff,#00ffe9,#0f7,#00ff38,#0f7,#00ffe1,#00e1ff,#00f,#00f,#00f,#00f,#00f,#00f,#00f,#00f,#00f,#00f,#00f,#00f,#00f,#00f,#00f,#0015ff,#0027ff,#0039ff,#004aff,#005cff,#006eff,#0080ff,#0094ff,#0af,#0bf,#00d3ff,#00e8ff,#0ff,#0ff,#0ff,#0ff,#0ff,#0ff,#0ff,#00fff2,#00ffe5,#00ffd7,#00ffc4,#00ff9d,#0f7,#00ff4d,#00ff27,#0f0,#2f0,#4dff00,#7bff00,#af0,#d8ff00,#ff0,#ff0,#fff200,#f90,#ff4b00,#ff1a00,#f10)"></i>
<i style="background:linear-gradient(#0ef,#00f9ff,#0ff,#0ff,#0ff,#0ff,#00ffd9,#00ffc3,#00ffae,#0fb,#00ffc7,#00ffea,#0ff,#0ff,#0df,#0cf,#0bf,#00b2ff,#0af,#00f2ff,#00ffe5,#00ff6f,#0f3,#00ff6f,#0fd,#0ef,#00f,#00f,#00f,#00f,#00f,#00f,#00f,#00f,#00f,#00f,#00f,#00f,#00f,#00f,#0007ff,#0019ff,#002aff,#003cff,#004dff,#005fff,#0070ff,#0082ff,#09f,#0af,#00c0ff,#00d4ff,#00e9ff,#0ff,#0ff,#0ff,#0ff,#0ff,#0ff,#0ff,#0ff,#0ff,#0ff,#0ff,#0fe,#00ffd5,#0fb,#00ff9e,#00ff7b,#0f5,#00ff2c,#1f0,#49ff00,#8f0,#c8ff00,#ff0,#ff0,#ffb300,#ff6000,#ff2b00,#f20)"></i>
<i style="background:linear-gradient(#0ff,#0ff,#0ff,#0ff,#0ff,#0ff,#00ffd8,#00ffc3,#0fa,#0fb,#00ffc6,#00ffe9,#0ff,#0ff,#00e6ff,#00e3ff,#00d6ff,#00d0ff,#0cf,#0ff,#00ffd3,#00ff51,#00ff0c,#00ff51,#0fc,#00f6ff,#00f,#00f,#00f,#00f,#00f,#00f,#00f,#00f,#01f,#001aff,#0026ff,#03f,#003eff,#004aff,#05f,#06f,#006fff,#007bff,#08f,#0095ff,#00a3ff,#00b1ff,#0bf,#0cf,#0df,#00e8ff,#00f6ff,#0ff,#0ff,#0ff,#0ff,#0ff,#0ff,#0ff,#0ff,#0ff,#0ff,#00fffb,#0fd,#0fb,#0f9,#0f7,#00ff4e,#00ff27,#07ff00,#4f0,#7eff00,#bf0,#f4ff00,#ff0,#ffe500,#ff8c00,#ff3e00,#f10,#ff0700)"></i>
<i style="background:linear-gradient(#00f7ff,#0ff,#0ff,#0ff,#0ff,#0fe,#00ffb4,#00ff9f,#0f8,#0f9,#00ffa2,#0fc,#0ff,#0ff,#0ef,#00f8ff,#0ef,#0ef,#00e7ff,#0ff,#00ffc6,#00ff3b,#1f0,#00ff3b,#00ffbf,#0ff,#00f,#00f,#00f,#00f,#00f,#00f,#00f,#00f,#00f,#0005ff,#01f,#02f,#002cff,#0039ff,#04f,#05f,#0061ff,#006eff,#007bff,#08f,#09f,#0af,#00b7ff,#00c6ff,#00d5ff,#00e4ff,#00f3ff,#0ff,#0ff,#0ff,#0ff,#0ff,#0ff,#0ff,#0ff,#0ff,#00fffa,#0fe,#00ffc4,#0f9,#00ff73,#00ff4a,#0f2,#0aff00,#3bff00,#7f0,#aeff00,#e5ff00,#ff0,#ff0,#ffc400,#ff6f00,#ff2600,#ff0008,#f01)"></i>
<i style="background:linear-gradient(#00e5ff,#0ef,#00f5ff,#0ff,#0ff,#00fff9,#0fc,#00ffb5,#00ffa0,#0fa,#0fb,#0fd,#0ff,#0ff,#0df,#00c6ff,#00b3ff,#0af,#0af,#0ff,#0fb,#00ff2c,#2f0,#00ff2c,#00ffb7,#00f5ff,#00f,#00f,#00f,#00f,#00f,#00f,#00f,#00f,#00f,#00f,#000dff,#001aff,#0027ff,#03f,#04f,#0050ff,#005dff,#006bff,#07f,#08f,#0095ff,#00a5ff,#00b5ff,#00c4ff,#00d4ff,#00e3ff,#00f3ff,#0ff,#0ff,#0ff,#0ff,#0ff,#0ff,#0ff,#0ff,#0ff,#0ff,#0ff,#0fd,#00ffc2,#00ffa3,#00ff80,#00ff59,#0f3,#00ff05,#37ff00,#73ff00,#afff00,#ef0,#ff0,#fe0,#ff9300,#f40,#f10,#ff0c00)"></i>
<i style="background:linear-gradient(#0df,#00e4ff,#0ef,#0ff,#0ff,#00fff2,#0fb,#0fa,#00ff94,#00ffa0,#0fa,#00ffd4,#0ff,#0ff,#0ef,#0ff,#0ff,#0ff,#00fbff,#0ff,#00ffb4,#00ff1b,#37ff00,#00ff1b,#0fa,#0ff,#00f,#00f,#00f,#00f,#00f,#00f,#00f,#00f,#00f,#00f,#00f,#00f,#00f,#00f,#00f,#00f,#00f,#0016ff,#002bff,#003fff,#05f,#06f,#007eff,#09f,#00afff,#00c8ff,#00e1ff,#00faff,#0ff,#0ff,#0ff,#0ff,#0ff,#0ff,#0ff,#0ff,#0ff,#0ff,#00ffe9,#0fc,#00ffb1,#00ff8f,#00ff6a,#0f4,#00ff17,#2f0,#62ff00,#9fff00,#df0,#ff0,#fff800,#ff9d00,#ff4d00,#ff1b00,#f10)"></i>
<i style="background:linear-gradient(#0ff,#0ff,#0ff,#0ff,#0ff,#00ffd1,#0f8,#0f7,#00ff60,#00ff6c,#0f7,#0fa,#00fff5,#0ff,#00fbff,#0ff,#0ff,#0ff,#0ff,#0ff,#00ffb4,#00ff1b,#37ff00,#00ff1b,#0fa,#0ff,#00f,#00f,#00f,#00f,#00f,#00f,#00f,#00f,#00f,#00f,#00f,#00f,#00f,#00f,#00f,#00f,#00f,#00f,#00f,#00f,#00f,#0016ff,#03f,#05f,#07f,#09f,#00c4ff,#0ef,#0ff,#0ff,#0ff,#0ff,#0ff,#0ff,#00fff4,#0fe,#00ffe1,#0fc,#0f9,#00ff5f,#00ff27,#0cff00,#3cff00,#6cff00,#9fff00,#d6ff00,#ff0,#ff0,#ff0,#fc0,#f80,#ff3800,#ff000c,#ff0039,#f04)"></i>
<i style="background:linear-gradient(#0ff,#0ff,#0ff,#0ff,#0ff,#00ffe3,#0fa,#00ff92,#00ff7d,#0f8,#00ff95,#00ffc1,#0ff,#0ff,#00fbff,#0ff,#0ff,#0ff,#0ff,#0ff,#00ffbf,#00ff2d,#2f0,#00ff2d,#00ffb7,#0ff,#00f,#00f,#00f,#00f,#00f,#00f,#00f,#00f,#00f,#00f,#00f,#00f,#00f,#00f,#00f,#00f,#00f,#00f,#00f,#00f,#0015ff,#03f,#004dff,#06f,#08f,#0af,#0cf,#00f2ff,#0ff,#0ff,#0ff,#0ff,#0ff,#00fff8,#0fe,#00ffe3,#00ffd9,#00ffc4,#0f8,#00ff4b,#0f1,#27ff00,#59ff00,#8f0,#bfff00,#f4ff00,#ff0,#ff0,#ffe800,#ffb500,#ff7200,#ff2600,#ff001e,#ff0048,#ff0051)"></i>
<i style="background:linear-gradient(#0ff,#0ff,#00fff9,#0ff,#0ff,#0fd,#00ffa1,#0f8,#0f7,#00ff82,#00ff8e,#0fb,#0ff,#0ff,#00f9ff,#0ff,#0ff,#0ff,#0ff,#0ff,#00ffc8,#00ff3e,#0cff00,#00ff3e,#00ffc1,#0ff,#00f,#00f,#00f,#00f,#00f,#00f,#00f,#00f,#00f,#00f,#00f,#00f,#00f,#00f,#00f,#00f,#00f,#00f,#00f,#00f,#00f,#001bff,#003aff,#0059ff,#07f,#009dff,#00c6ff,#0ef,#0ff,#0ff,#0ff,#0ff,#0ff,#0ff,#00fff6,#0fe,#00ffe3,#00ffd0,#0f9,#0f6,#00ff2d,#04ff00,#3f0,#6f0,#9f0,#cf0,#ff0,#ff0,#ff0,#ffd100,#f80,#ff3c00,#ff0007,#f03,#ff003d)"></i>
<i style="background:linear-gradient(#0ff,#0ff,#0ff,#0ff,#0ff,#00ffd7,#00ff93,#00ff7e,#0f6,#0f7,#00ff81,#00ffb1,#00fff9,#0ff,#0ff,#0ff,#0ff,#0ff,#0ff,#0ff,#0fd,#00ff61,#0f2,#00ff61,#00ffd5,#0ff,#00f,#00f,#00f,#00f,#00f,#00f,#00f,#00f,#00f,#00f,#00f,#00f,#00f,#00f,#00f,#00f,#00f,#00f,#00f,#00f,#00f,#02f,#003eff,#005dff,#007bff,#00a0ff,#00c7ff,#0ef,#0ff,#0ff,#0ff,#0ff,#0ff,#0ff,#00fff8,#0fe,#00ffe5,#00ffd3,#00ff9e,#0f6,#0f3,#0f0,#2cff00,#5cff00,#8eff00,#c5ff00,#ff0,#ff0,#ff0,#ffd700,#ff9000,#f40,#f00,#f03,#ff0039)"></i>
<i style="background:linear-gradient(#0ff,#0ff,#0ff,#0ff,#0ff,#00ffd3,#00ff8d,#0f7,#0f6,#00ff6f,#00ff7b,#0fa,#00fff6,#0ff,#0ef,#00f4ff,#0ef,#00e7ff,#00e2ff,#00f9ff,#0ff,#0f9,#0f6,#0f9,#00fff8,#0ef,#00f,#00f,#00f,#00f,#00f,#00f,#00f,#00f,#00f,#00f,#00f,#00f,#00f,#00f,#00f,#00f,#00f,#00f,#00f,#00f,#000bff,#0028ff,#04f,#06f,#0080ff,#00a5ff,#0cf,#0ef,#0ff,#0ff,#0ff,#0ff,#0ff,#0ff,#0ff,#0ff,#0ff,#00fff9,#00ffd7,#00ffb5,#00ff93,#00ff6d,#0f4,#0f2,#1f0,#4cff00,#8f0,#c1ff00,#fbff00,#ff0,#fd0,#f80,#ff3a00,#ff0b00,#ff0400)"></i>
<i style="background:linear-gradient(#0ff,#0ff,#0ff,#0ff,#0ff,#00ffe2,#00ffa5,#00ff90,#00ff7b,#0f8,#00ff93,#00ffc0,#0ff,#0ff,#00e6ff,#00e3ff,#00d6ff,#00d0ff,#0cf,#0ef,#0ff,#00ffae,#00ff7d,#00ffae,#0ff,#00e7ff,#00f,#00f,#00f,#00f,#00f,#00f,#00f,#00f,#00f,#00f,#00f,#00f,#00f,#00f,#00f,#00f,#00f,#00f,#00f,#00f,#001aff,#03f,#0051ff,#006dff,#08f,#0af,#0cf,#00f2ff,#0ff,#0ff,#0ff,#0ff,#0ff,#0ff,#0ff,#0ff,#0ff,#0ff,#0fd,#0fb,#0f9,#0f7,#00ff4f,#00ff28,#07ff00,#4f0,#7eff00,#bf0,#f3ff00,#ff0,#ffe500,#ff8c00,#ff3f00,#f10,#ff0800)"></i>
<i style="background:linear-gradient(#0ff,#0ff,#0ff,#0ff,#0ff,#0fd,#0f9,#00ff83,#00ff6d,#0f7,#0f8,#00ffb5,#00fffb,#0ff,#0ef,#00fbff,#00f5ff,#0ef,#0ef,#0ff,#0fb,#00ff2b,#2f0,#00ff2b,#00ffb6,#0ff,#00f,#00f,#00f,#00f,#00f,#00f,#00f,#00f,#00f,#00f,#00f,#00f,#00f,#00f,#00f,#00f,#00f,#00f,#00f,#0016ff,#002fff,#0048ff,#0061ff,#07f,#09f,#00b7ff,#00d6ff,#00f5ff,#0ff,#0ff,#0ff,#0ff,#0ff,#00fff6,#00ffea,#0fd,#00ffd2,#0fb,#00ff82,#0f4,#00ff0b,#2aff00,#5bff00,#8cff00,#bf0,#ef0,#ff0,#ff0,#fe0,#ffbf00,#ff7f00,#f30,#f01,#ff003d,#f04)"></i>
<i style="background:linear-gradient(#0ff,#0ff,#0ff,#0ff,#0ff,#0fe,#00ffb3,#00ff9e,#0f8,#00ff95,#00ffa1,#0fc,#0ff,#0ff,#00e3ff,#00d8ff,#0cf,#00c2ff,#0bf,#0ff,#00ff48,#a3ff00,#ff0,#a3ff00,#00ff40,#0ff,#00f,#00f,#00f,#00f,#00f,#00f,#00f,#00f,#00f,#00f,#00f,#01f,#001dff,#002bff,#0039ff,#04f,#05f,#06f,#0071ff,#007fff,#008fff,#009fff,#00b0ff,#00c0ff,#00d0ff,#00e1ff,#0ef,#0ff,#0ff,#0ff,#0ff,#0ff,#0ff,#0fe,#0fd,#0fc,#0fb,#00ffa3,#00ff6d,#00ff37,#0f0,#2fff00,#59ff00,#84ff00,#aeff00,#d6ff00,#ff0,#ff0,#ff0,#fe0,#fb0,#ff6e00,#f20,#ff000a,#f01)"></i>
<i style="background:linear-gradient(#0ef,#00f3ff,#00fbff,#0ff,#0ff,#00fff7,#00ffc7,#00ffb1,#0f9,#0fa,#00ffb4,#0fd,#0ff,#0ff,#00e4ff,#0df,#0cf,#00c7ff,#00c3ff,#0ff,#00ff5a,#83ff00,#f8ff00,#83ff00,#0f5,#0ff,#00f,#00f,#00f,#00f,#00f,#00f,#00f,#00f,#00f,#000bff,#0018ff,#02f,#03f,#003fff,#004bff,#05f,#06f,#0072ff,#007fff,#008dff,#09f,#0af,#0bf,#00c8ff,#00d6ff,#00e5ff,#00f4ff,#0ff,#0ff,#0ff,#0ff,#0ff,#0ff,#0ff,#0ff,#0ff,#00fff6,#00ffe7,#00ffc1,#0f9,#0f7,#00ff4c,#0f2,#04ff00,#3f0,#6aff00,#a2ff00,#d8ff00,#ff0,#ff0,#ffd600,#ff8000,#f30,#ff0500,#f00)"></i>
<i style="background:linear-gradient(#00f4ff,#0ff,#0ff,#0ff,#0ff,#00ffd1,#0f8,#0f7,#00ff5f,#00ff6b,#0f7,#0fa,#00fff4,#0ff,#00d5ff,#00a4ff,#08f,#0080ff,#007cff,#0ef,#00ffc7,#00ff3b,#1f0,#00ff3b,#00ffc0,#00e8ff,#00f,#00f,#00f,#00f,#00f,#00f,#00f,#00f,#00f,#00f,#00f,#00f,#00f,#000cff,#001cff,#002dff,#003dff,#004dff,#005dff,#006dff,#007dff,#008eff,#00a1ff,#00b4ff,#00c7ff,#0df,#0ef,#0ff,#0ff,#0ff,#0ff,#0ff,#0ff,#0ff,#0ff,#0ff,#0ff,#0fe,#0fc,#00ffa6,#00ff80,#00ff59,#0f3,#00ff07,#29ff00,#6f0,#9dff00,#d6ff00,#ff0,#ff0,#ffd000,#f70,#ff2e00,#f00,#ff0007)"></i>
<i style="background:linear-gradient(#00e9ff,#0ef,#00f9ff,#0ff,#0ff,#0fc,#00ff7d,#0f6,#0f5,#00ff5f,#00ff6b,#00ff9f,#0fe,#0ff,#00eaff,#0ef,#00e7ff,#00e1ff,#0df,#00faff,#00fff7,#00ff8f,#0f5,#00ff8f,#0fe,#0ef,#00f,#00f,#00f,#00f,#00f,#00f,#00f,#00f,#00f,#00f,#00f,#00f,#00f,#00f,#0004ff,#0016ff,#0027ff,#0039ff,#004bff,#005cff,#006eff,#0080ff,#0094ff,#0af,#0bf,#00d4ff,#00e9ff,#0ff,#0ff,#0ff,#0ff,#0ff,#0ff,#0ff,#0ff,#0ff,#0ff,#0ff,#0fd,#00ffc1,#00ffa3,#00ff7f,#00ff59,#0f3,#00ff05,#37ff00,#73ff00,#afff00,#ef0,#ff0,#fe0,#ff9300,#f40,#f10,#ff0c00)"></i>
<i style="background:linear-gradient(#0ef,#00f3ff,#00faff,#0ff,#0ff,#00ffc6,#0f7,#00ff62,#00ff4d,#00ff59,#0f6,#0f9,#0fe,#0ff,#0ef,#00f6ff,#0ef,#00e9ff,#00e5ff,#00f8ff,#0ff,#00ffa5,#00ff71,#00ffa5,#0ff,#0ef,#00f,#00f,#00f,#00f,#00f,#00f,#00f,#00f,#00f,#00f,#00f,#00f,#00f,#00f,#000bff,#001cff,#002dff,#003fff,#0050ff,#0061ff,#0072ff,#0084ff,#09f,#0af,#00c1ff,#00d5ff,#00eaff,#0ff,#0ff,#0ff,#0ff,#0ff,#0ff,#0ff,#0ff,#0ff,#0ff,#00fff4,#0fc,#0fa,#0f8,#00ff5f,#00ff37,#0f1,#2f0,#5cff00,#9f0,#cf0,#ff0,#ff0,#ffd400,#ff7d00,#f30,#ff0400,#ff0004)"></i>
<i style="background:linear-gradient(#00f5ff,#0ff,#0ff,#0ff,#0ff,#0fc,#00ff80,#00ff6b,#0f5,#00ff62,#00ff6e,#00ffa1,#0fe,#0ff,#00f9ff,#0ff,#0ff,#0ff,#0ff,#0ff,#0ff,#00ffc7,#0f9,#00ffc7,#0ff,#00f3ff,#00f,#00f,#00f,#00f,#00f,#00f,#00f,#00f,#00f,#00f,#00f,#00f,#00f,#00f,#0007ff,#0018ff,#002aff,#003bff,#004dff,#005eff,#0070ff,#0081ff,#09f,#0af,#00bfff,#00d4ff,#00e9ff,#0ff,#0ff,#0ff,#0ff,#0ff,#0ff,#0ff,#0ff,#0ff,#0ff,#00fff6,#00ffd3,#00ffb0,#00ff8d,#0f6,#00ff3f,#00ff17,#18ff00,#5f0,#8eff00,#c8ff00,#ff0,#ff0,#fd0,#ff8200,#f30,#ff0700,#f00)"></i>
<i style="background:linear-gradient(#0ff,#0ff,#0ff,#0ff,#0ff,#0fd,#00ffa1,#0f8,#0f7,#00ff82,#00ff8e,#0fb,#0ff,#0ff,#00e3ff,#00d6ff,#00c6ff,#00c0ff,#0bf,#00e7ff,#0ff,#00ffc0,#00ff93,#00ffc0,#0ff,#00e1ff,#00f,#00f,#00f,#00f,#00f,#00f,#00f,#00f,#00f,#00f,#00f,#00f,#00f,#00f,#00f,#00f,#01f,#02f,#03f,#0049ff,#005dff,#0071ff,#08f,#009dff,#00b4ff,#0cf,#00e4ff,#00fbff,#0ff,#0ff,#0ff,#0ff,#0ff,#0ff,#0ff,#0ff,#0ff,#00fff7,#00ffd4,#00ffb1,#00ff8f,#0f6,#0f4,#00ff1a,#16ff00,#51ff00,#8cff00,#c6ff00,#ff0,#ff0,#fd0,#ff8400,#ff3700,#ff0800,#f00)"></i>
<i style="background:linear-gradient(#0ff,#0ff,#00fff8,#0ff,#0ff,#00ffd6,#00ffa1,#00ff8d,#0f7,#00ff84,#00ff90,#0fb,#00fff2,#0ff,#00f3ff,#00d5ff,#0bf,#00b2ff,#0af,#0ff,#0f7,#5f0,#c0ff00,#5f0,#00ff6d,#0ff,#00f,#00f,#00f,#00f,#00f,#00f,#00f,#00f,#00f,#00f,#00f,#00f,#00f,#00f,#00f,#00f,#0006ff,#001aff,#002fff,#04f,#05f,#006cff,#0080ff,#09f,#00b1ff,#0cf,#00e2ff,#00fbff,#0ff,#0ff,#0ff,#0ff,#0ff,#0ff,#00fff9,#0fe,#00ffe6,#00ffd4,#00ffa0,#00ff6b,#00ff37,#00ff06,#29ff00,#5f0,#8f0,#c1ff00,#f8ff00,#ff0,#ff0,#fd0,#ff9300,#f40,#f00,#ff002f,#ff0037)"></i>
<i style="background:linear-gradient(#00ffa4,#0f9,#00ff95,#00ff5d,#0f2,#0f0,#17ff00,#2f0,#2fff00,#27ff00,#1eff00,#0dff00,#00ff0a,#00ff4a,#0f9,#0ff,#0ef,#00c5ff,#0af,#0ff,#00ff7b,#4aff00,#b3ff00,#4aff00,#00ff73,#0ff,#00f,#00f,#00f,#00f,#00f,#00f,#00f,#00f,#00f,#00f,#00f,#00f,#00f,#000bff,#001bff,#002bff,#003bff,#004bff,#005cff,#006cff,#007cff,#008dff,#00a0ff,#00b3ff,#00c6ff,#00d9ff,#0ef,#0ff,#0ff,#0ff,#0ff,#0ff,#0ff,#0ff,#0ff,#00fffb,#00fff3,#00ffe3,#00ffb6,#0f8,#00ff5d,#0f3,#00ff05,#27ff00,#5f0,#91ff00,#cf0,#ff0,#ff0,#ff0,#ffb200,#ff5f00,#ff1800,#ff0016,#f02)"></i>
<i style="background:linear-gradient(#0fb,#00ffb1,#0fa,#00ff0d,#92ff00,#a5ff00,#b4ff00,#bf0,#c1ff00,#bf0,#b4ff00,#a6ff00,#92ff00,#49ff00,#0f2,#0fb,#0ff,#0df,#00c1ff,#0ff,#0f7,#4fff00,#bf0,#4fff00,#00ff71,#0ff,#00f,#00f,#00f,#00f,#00f,#00f,#00f,#00f,#00f,#00f,#00f,#01f,#001eff,#002cff,#003aff,#0048ff,#05f,#06f,#0072ff,#0080ff,#0090ff,#00a0ff,#00b0ff,#00c0ff,#00d1ff,#00e1ff,#0ef,#0ff,#0ff,#0ff,#0ff,#0ff,#0ff,#0ff,#0ff,#00fff7,#0fe,#0fd,#00ffae,#00ff7f,#00ff4f,#0f2,#0bff00,#38ff00,#6aff00,#a2ff00,#df0,#ff0,#ff0,#fe0,#fa0,#f50,#f10,#f02,#ff0027)"></i>
<i style="background:linear-gradient(#00ff9f,#0f9,#00ff90,#00ff27,#4f0,#5f0,#6f0,#6aff00,#70ff00,#6aff00,#6f0,#7f0,#9f0,#51ff00,#00ff1a,#00ffb5,#0ff,#00c0ff,#007cff,#00d0ff,#0ff,#00ffd8,#00ffb0,#00ffd8,#0ff,#0cf,#00f,#00f,#00f,#00f,#00f,#00f,#00f,#00f,#00f,#00f,#00f,#00f,#00f,#00f,#0004ff,#0015ff,#0027ff,#0039ff,#004bff,#005cff,#006eff,#0080ff,#0094ff,#0af,#0bf,#00d3ff,#00e9ff,#0ff,#0ff,#0ff,#0ff,#0ff,#0ff,#0ff,#0ff,#0ff,#0ff,#0ff,#00ffe8,#0fc,#00ffaf,#00ff8e,#0f6,#0f4,#00ff15,#27ff00,#6f0,#a1ff00,#df0,#ff0,#fff700,#f90,#ff4c00,#ff1a00,#f10)"></i>
<i style="background:linear-gradient(#0f8,#00ff83,#00ff7c,#0f1,#61ff00,#7f0,#81ff00,#8f0,#8eff00,#8f0,#81ff00,#8f0,#9f0,#5f0,#00ff1a,#00ffb4,#0ff,#00c1ff,#007cff,#0cf,#0ff,#0ff,#0fd,#0ff,#0ff,#0cf,#00f,#00f,#00f,#00f,#00f,#00f,#00f,#00f,#00f,#00f,#00f,#00f,#00f,#01f,#02f,#002fff,#003fff,#004fff,#005fff,#006fff,#007fff,#0090ff,#00a3ff,#00b5ff,#00c8ff,#0df,#0ef,#0ff,#0ff,#0ff,#0ff,#0ff,#0ff,#0ff,#0ff,#0ff,#0ff,#00fff6,#00ffd3,#00ffb0,#00ff8c,#0f6,#00ff3f,#00ff17,#19ff00,#5f0,#8eff00,#c8ff00,#ff0,#ff0,#fd0,#ff8200,#f30,#ff0700,#f00)"></i>
<i style="background:linear-gradient(#0f5,#00ff50,#00ff48,#2eff00,#a5ff00,#b7ff00,#c5ff00,#cf0,#d1ff00,#cf0,#c5ff00,#b4ff00,#9f0,#5f0,#00ff1a,#00ffb4,#0ff,#00e4ff,#0cf,#0ef,#0ff,#0fb,#0f8,#0fb,#0ff,#00e5ff,#00f,#00f,#00f,#00f,#00f,#00f,#00f,#0009ff,#0015ff,#02f,#002cff,#0038ff,#04f,#0050ff,#005bff,#06f,#0073ff,#007fff,#08f,#09f,#00a6ff,#00b3ff,#00c1ff,#0cf,#0df,#00e9ff,#00f6ff,#0ff,#0ff,#0ff,#0ff,#0ff,#0ff,#0ff,#0ff,#0ff,#0ff,#0ff,#00ffe7,#0fc,#0fa,#0f8,#0f6,#0f4,#0f1,#2aff00,#6f0,#a3ff00,#e1ff00,#ff0,#fff500,#f90,#ff4b00,#ff1900,#f10)"></i>
<i style="background:linear-gradient(#1f0,#16ff00,#1dff00,#5f0,#8dff00,#9fff00,#af0,#b3ff00,#bf0,#b3ff00,#af0,#a5ff00,#9f0,#5f0,#00ff1a,#00ffb4,#0ff,#00d7ff,#00b0ff,#00f6ff,#0fd,#00ff5d,#00ff1a,#00ff5d,#00ffd3,#0ef,#00f,#00f,#00f,#00f,#00f,#00f,#00f,#00f,#0006ff,#01f,#02f,#002cff,#0038ff,#04f,#0051ff,#005dff,#006aff,#07f,#0083ff,#0091ff,#009fff,#0af,#0bf,#0cf,#00d8ff,#00e7ff,#00f5ff,#0ff,#0ff,#0ff,#0ff,#0ff,#0ff,#0ff,#0ff,#0ff,#0ff,#0ff,#0fe,#00ffd4,#0fb,#0f9,#0f7,#00ff51,#0f2,#19ff00,#5f0,#95ff00,#d5ff00,#ff0,#ff0,#ffa400,#f50,#f20,#ff1900)"></i>
<i style="background:linear-gradient(#af0,#aeff00,#b6ff00,#a5ff00,#95ff00,#af0,#b5ff00,#bf0,#c2ff00,#bf0,#b5ff00,#af0,#9f0,#5f0,#00ff1a,#00ffb4,#0ff,#0df,#0bf,#00e3ff,#0ff,#00ffd3,#0fa,#00ffd3,#0ff,#0df,#00f,#00f,#00f,#00f,#00f,#00f,#00f,#00f,#00f,#00f,#00f,#00f,#00f,#00f,#00f,#00f,#00f,#00f,#00f,#0019ff,#03f,#004bff,#06f,#007cff,#09f,#0bf,#00d7ff,#00f6ff,#0ff,#0ff,#0ff,#0ff,#0ff,#0ff,#0ff,#0ff,#00fff8,#00ffea,#00ffc0,#0f9,#00ff6d,#0f4,#00ff19,#1f0,#4f0,#7cff00,#b6ff00,#ef0,#ff0,#ff0,#ffc000,#ff6b00,#f20,#ff000c,#f01)"></i>
<i style="background:linear-gradient(#7f0,#7fff00,#8f0,#af0,#cf0,#df0,#ef0,#ef0,#f8ff00,#ef0,#ef0,#cf0,#9f0,#5f0,#00ff1a,#00ffb4,#0ff,#00f8ff,#00f9ff,#00f7ff,#0ff,#0fc,#00ffa0,#0fc,#0ff,#0ef,#00f,#00f,#00f,#00f,#00f,#00f,#00f,#00f,#00f,#00f,#00f,#00f,#00f,#00f,#00f,#00f,#00f,#00f,#00f,#0019ff,#03f,#004bff,#06f,#007cff,#09f,#0bf,#00d7ff,#00f6ff,#0ff,#0ff,#0ff,#0ff,#0ff,#0ff,#0ff,#0ff,#0ff,#0ff,#0fd,#0fb,#0f9,#0f7,#00ff50,#00ff29,#06ff00,#4f0,#7dff00,#bf0,#f3ff00,#ff0,#ffe600,#ff8d00,#ff3f00,#f10,#ff0800)"></i>
<i style="background:linear-gradient(#00ff2e,#00ff27,#0f2,#1f0,#3dff00,#4fff00,#5dff00,#6f0,#6f0,#6f0,#5dff00,#73ff00,#9f0,#5f0,#00ff1a,#00ffb4,#0ff,#00c0ff,#007cff,#00e3ff,#00ffe9,#0f7,#00ff39,#0f7,#00ffe2,#0df,#00f,#00f,#00f,#00f,#00f,#00f,#00f,#00f,#00f,#00f,#00f,#00f,#01f,#02f,#002fff,#003eff,#004dff,#005cff,#006aff,#07f,#08f,#09f,#0af,#0bf,#0cf,#0df,#0ef,#0ff,#0ff,#0ff,#0ff,#0ff,#0ff,#0ff,#0ff,#0ff,#0ff,#0ff,#0fe,#00ffd6,#0fb,#0f9,#0f7,#0f5,#00ff26,#16ff00,#5f0,#92ff00,#d3ff00,#ff0,#ff0,#ffa600,#f50,#f20,#ff1a00)"></i>
<i style="background:linear-gradient(#00ffb7,#00ffb0,#0fa,#00ff1a,#7f0,#8f0,#9f0,#9dff00,#a3ff00,#9dff00,#9f0,#9f0,#9f0,#5f0,#00ff1a,#00ffb4,#0ff,#0cf,#09f,#00f4ff,#0fc,#0f4,#07ff00,#0f4,#00ffc3,#0ef,#00f,#00f,#00f,#00f,#00f,#00f,#00f,#00f,#00f,#00f,#00f,#00f,#00f,#00f,#00f,#01f,#02f,#03f,#04f,#05f,#006aff,#007cff,#0090ff,#00a6ff,#0bf,#00d2ff,#00e7ff,#0ff,#0ff,#0ff,#0ff,#0ff,#0ff,#0ff,#0ff,#0ff,#0ff,#0ff,#00ffe5,#00ffc7,#0fa,#0f8,#00ff62,#00ff3c,#0f1,#2eff00,#6aff00,#af0,#e5ff00,#ff0,#fff200,#f90,#ff4800,#ff1700,#f10)"></i>
<i style="background:linear-gradient(#00ff4f,#00ff48,#0f4,#0bff00,#59ff00,#6bff00,#7f0,#7fff00,#8f0,#7fff00,#7f0,#84ff00,#9f0,#5f0,#00ff1a,#00ffb4,#0ff,#00c0ff,#007cff,#00e3ff,#00ffe9,#0f7,#00ff39,#0f7,#00ffe2,#0df,#00f,#00f,#00f,#00f,#00f,#00f,#00f,#00f,#00f,#00f,#00f,#00f,#00f,#00f,#00f,#00f,#00f,#00f,#0018ff,#002fff,#04f,#005cff,#0072ff,#08f,#00a6ff,#00c1ff,#0df,#00f8ff,#0ff,#0ff,#0ff,#0ff,#0ff,#0ff,#0ff,#00fff7,#0fe,#0fd,#00ffaf,#00ff80,#00ff51,#0f2,#09ff00,#3f0,#6f0,#a0ff00,#d8ff00,#ff0,#ff0,#fff200,#fa0,#f50,#f10,#ff001e,#ff0026)"></i>
<i style="background:linear-gradient(#00ff26,#00ff1e,#00ff17,#2f0,#61ff00,#7f0,#81ff00,#8f0,#8eff00,#8f0,#81ff00,#8f0,#9f0,#5f0,#00ff1a,#00ffb4,#0ff,#00c1ff,#007dff,#00d3ff,#0ff,#0fc,#00ffa1,#0fc,#0ff,#00d4ff,#00f,#00f,#00f,#00f,#00f,#00f,#00f,#00f,#00f,#00f,#00f,#00f,#00f,#00f,#01f,#02f,#03f,#04f,#05f,#06f,#07f,#08f,#09f,#00b0ff,#00c4ff,#00d7ff,#0ef,#0ff,#0ff,#0ff,#0ff,#0ff,#0ff,#0ff,#0ff,#0ff,#00fffb,#0fe,#00ffc6,#00ff9e,#0f7,#00ff4d,#0f2,#06ff00,#3f0,#70ff00,#af0,#e1ff00,#ff0,#ff0,#ffc700,#ff7200,#ff2800,#ff0006,#f01)"></i>
<i style="background:linear-gradient(#00ff2d,#0f2,#00ff1e,#37ff00,#8dff00,#9fff00,#af0,#b3ff00,#bf0,#b3ff00,#af0,#a5ff00,#9f0,#5f0,#00ff1a,#00ffb4,#0ff,#00d7ff,#00afff,#0df,#0ff,#00ffe6,#00ffc1,#00ffe6,#0ff,#00d9ff,#00f,#00f,#00f,#00f,#00f,#00f,#00f,#00f,#00f,#00f,#00f,#00f,#00f,#00f,#00f,#00f,#01f,#02f,#0037ff,#004bff,#005eff,#0072ff,#08f,#009dff,#00b5ff,#0cf,#00e4ff,#0ff,#0ff,#0ff,#0ff,#0ff,#0ff,#0ff,#0ff,#0ff,#00fff3,#00ffe4,#0fb,#0f8,#00ff5f,#0f3,#00ff08,#2f0,#5f0,#8eff00,#c7ff00,#fbff00,#ff0,#ff0,#ffb400,#ff6100,#ff1900,#ff0015,#ff001d)"></i>
<i style="background:linear-gradient(#0f2,#00ff1a,#0f1,#4fff00,#b1ff00,#c3ff00,#d1ff00,#d7ff00,#df0,#d7ff00,#d1ff00,#bf0,#9f0,#5f0,#00ff1a,#00ffb4,#0ff,#00eaff,#0df,#0ff,#00ffe8,#0f7,#00ff38,#0f7,#00ffe1,#00f2ff,#00f,#00f,#00f,#00f,#00f,#00f,#00f,#00f,#00f,#00f,#00f,#0006ff,#0015ff,#02f,#03f,#0040ff,#004fff,#005eff,#006cff,#007bff,#08f,#09f,#0af,#0bf,#0cf,#0df,#0ef,#0ff,#0ff,#0ff,#0ff,#0ff,#0ff,#00fffb,#0fe,#00ffe7,#0fd,#0fc,#00ff8f,#0f5,#00ff1b,#1aff00,#4bff00,#7cff00,#afff00,#e5ff00,#ff0,#ff0,#fff500,#ffc000,#ff7b00,#ff2e00,#ff0016,#f04,#ff004a)"></i>
<i style="background:linear-gradient(#00ff5e,#0f5,#00ff4f,#51ff00,#f3ff00,#ff0,#ff0,#ff0,#ff0,#ff0,#ff0,#e4ff00,#9f0,#51ff00,#00ff1a,#00ffb4,#0ff,#0ff,#0ff,#0ff,#00fffa,#00ff94,#00ff5d,#00ff94,#00fff3,#00fbff,#00f,#00f,#00f,#00f,#00f,#00f,#00f,#00f,#00f,#00f,#00f,#00f,#00f,#01f,#02f,#03f,#0040ff,#0050ff,#0060ff,#0070ff,#007fff,#0091ff,#00a3ff,#00b6ff,#00c8ff,#0df,#0ef,#0ff,#0ff,#0ff,#0ff,#0ff,#0ff,#0ff,#0ff,#00fff4,#0fe,#0fd,#0fa,#0f7,#00ff49,#00ff1b,#1f0,#40ff00,#72ff00,#af0,#e2ff00,#ff0,#ff0,#ffe800,#ff9f00,#ff4d00,#ff0700,#ff0028,#f03)"></i>
<i style="background:linear-gradient(#00ff84,#00ff7d,#0f7,#16ff00,#a5ff00,#bf0,#c8ff00,#cf0,#d5ff00,#cf0,#c8ff00,#b4ff00,#95ff00,#4cff00,#00ff1e,#00ffb6,#0ff,#00e9ff,#00d7ff,#00e5ff,#0ff,#00fffa,#00ffd9,#00fffa,#0ff,#0df,#00f,#00f,#00f,#00f,#00f,#00f,#00f,#00f,#00f,#00f,#00f,#00f,#00f,#00f,#00f,#00f,#0016ff,#0029ff,#003dff,#0050ff,#06f,#07f,#08f,#00a3ff,#0bf,#00d1ff,#00eaff,#0ff,#0ff,#0ff,#0ff,#0ff,#0ff,#0ff,#0ff,#00fff5,#0fe,#0fd,#00ffb7,#00ff8f,#0f6,#00ff3f,#00ff15,#15ff00,#4f0,#81ff00,#bf0,#f4ff00,#ff0,#ff0,#ffae00,#f50,#ff0c00,#ff0028,#f03)"></i>
<i style="background:linear-gradient(#0f7,#00ff73,#0f7,#00ff49,#0f2,#2eff00,#5f0,#6f0,#6fff00,#6f0,#62ff00,#5f0,#4f0,#06ff00,#0f4,#00ffc4,#0ff,#00eaff,#00c0ff,#00d6ff,#0ff,#0ff,#0ff,#0ff,#0ff,#00b5ff,#00f,#00f,#00f,#00f,#00f,#00f,#00f,#00f,#00f,#00f,#00f,#00f,#00f,#00f,#00f,#04f,#0ef,#0ff,#0ff,#0ff,#0ff,#0ff,#00fff4,#0fd,#0fc,#00ffb7,#0f9,#00ff82,#00ff6c,#00ff5f,#0f5,#00ff51,#00ff4b,#0f4,#0f3,#00ff27,#00ff17,#0f0,#27ff00,#4aff00,#6dff00,#93ff00,#bf0,#e3ff00,#ff0,#ff0,#ffe100,#ffa200,#f60,#f20,#ff002f,#ff0094,#f0e,#f0f,#f0f)"></i>
<i style="background:linear-gradient(#a5ff00,#af0,#9f0,#0f0,#00ff91,#4f0,#9f0,#c1ff00,#c0ff00,#bf0,#bf0,#b5ff00,#b1ff00,#8f0,#59ff00,#00ff5b,#0fe,#0ff,#00d9ff,#00d5ff,#00d3ff,#00d2ff,#0cf,#0cf,#00c2ff,#06f,#00f,#0005ff,#0017ff,#0028ff,#004dff,#0090ff,#00d2ff,#0ff,#0fe,#0f9,#00ff4c,#00ff04,#4f0,#6dff00,#94ff00,#bf0,#cf0,#df0,#e6ff00,#f6ff00,#ff0,#ff0,#ff0,#ff0,#ff0,#ff0,#ff0,#fff500,#fd0,#fc0,#ffc400,#ffc300,#ffc200,#fb0,#ffa200,#f80,#f60,#ff3900,#ff0b00,#f02,#ff004a,#f07,#ff00a0,#f0c,#ff00f6,#f0f,#f0f,#f0f,#f0f,#f0f,#f0f,#f0f,#f0f,#f0f,#f0f)"></i>
<i style="background:linear-gradient(#af0,#afff00,#9f0,#06ff00,#0f8,#3dff00,#92ff00,#bf0,#bf0,#bf0,#b6ff00,#b3ff00,#b0ff00,#83ff00,#5f0,#0f5,#00ffe8,#0ff,#0bf,#00b6ff,#00b1ff,#0af,#0af,#00a3ff,#009eff,#0051ff,#02f,#002dff,#0060ff,#0093ff,#00c7ff,#0ff,#0ff,#0fc,#0f7,#00ff1d,#38ff00,#81ff00,#cf0,#e7ff00,#ff0,#ff0,#ff0,#ff0,#ff0,#ff0,#ff0,#ff0,#ff0,#ff0,#ff0,#ff0,#ff0,#ff0,#ff0,#fe0,#ffea00,#fe0,#fe0,#fe0,#ffd200,#ffb700,#ff9400,#f60,#f30,#f10,#f01,#ff003d,#f06,#ff008e,#ff00b6,#f0d,#f0f,#f0f,#f0f,#f0f,#f0f,#f0f,#f0f,#f0f,#f0f)"></i>
<i style="background:linear-gradient(#90ff00,#9f0,#83ff00,#00ff05,#0f8,#61ff00,#bf0,#e9ff00,#e6ff00,#e3ff00,#e1ff00,#df0,#df0,#aeff00,#82ff00,#00ff49,#00ffe8,#0ff,#00f4ff,#0ef,#00eaff,#00e5ff,#00e1ff,#0df,#00d7ff,#06f,#02f,#0028ff,#002cff,#03f,#0051ff,#09f,#00e7ff,#0ff,#00ffd9,#00ff84,#0f3,#1bff00,#6aff00,#9f0,#c6ff00,#ef0,#f4ff00,#ff0,#ff0,#ff0,#ff0,#ff0,#ff0,#ff0,#ff0,#ff0,#ff0,#fff900,#ffd500,#ffb400,#ffa500,#f90,#ff9300,#f80,#ff6200,#ff3f00,#ff1500,#ff0029,#f06,#f09,#f0c,#f0f,#f0f,#f0f,#f0f,#f0f,#f0f,#f0f,#f0f,#f0f,#f0f,#f0f,#f0f,#f0f,#f0f)"></i>
<i style="background:linear-gradient(#00ff5a,#0f5,#0f5,#00ff6e,#0f8,#1f0,#5dff00,#8f0,#8f0,#83ff00,#80ff00,#7dff00,#7bff00,#4eff00,#2f0,#0f6,#00ffe8,#0ff,#007dff,#07f,#07f,#006fff,#006aff,#06f,#0061ff,#0038ff,#0029ff,#0037ff,#04f,#05f,#007cff,#00c0ff,#0ff,#0ff,#00ffb6,#00ff5e,#00ff0b,#4f0,#8dff00,#b5ff00,#df0,#ff0,#ff0,#ff0,#ff0,#ff0,#ff0,#ff0,#ff0,#ff0,#ff0,#ff0,#ff0,#ff0,#fd0,#fb0,#ffae00,#fa0,#ffa100,#ff9500,#ff6f00,#ff4900,#ff1b00,#ff0026,#ff006c,#ff00a1,#ff00d5,#f0f,#f0f,#f0f,#f0f,#f0f,#f0f,#f0f,#f0f,#f0f,#f0f,#f0f,#f0f,#f0f,#f0f)"></i>
<i style="background:linear-gradient(#0ff,#00fffb,#0fe,#0fb,#0f8,#1dff00,#6cff00,#9f0,#95ff00,#92ff00,#8fff00,#8cff00,#8f0,#5dff00,#3f0,#00ff60,#00ffe8,#0ff,#08f,#0082ff,#007dff,#07f,#07f,#006fff,#006aff,#003cff,#0026ff,#03f,#0048ff,#005dff,#0084ff,#00c6ff,#0ff,#00fffb,#00ffb0,#0f5,#00ff05,#4f0,#93ff00,#bf0,#df0,#ff0,#ff0,#ff0,#ff0,#ff0,#ff0,#ff0,#ff0,#ff0,#ff0,#ff0,#ff0,#ff0,#ff0,#ffe500,#fd0,#ffe200,#ffe400,#fd0,#ffc100,#ffa300,#ff7b00,#f40,#f10,#ff0017,#f04,#ff006f,#f09,#ff00c7,#ff00f2,#f0f,#f0f,#f0f,#f0f,#f0f,#f0f,#f0f,#f0f,#f0f,#f0f)"></i>
<i style="background:linear-gradient(#0ff,#0ff,#0ff,#0fd,#0f8,#0f0,#4f0,#71ff00,#6eff00,#6bff00,#6f0,#6f0,#62ff00,#3f0,#09ff00,#00ff6b,#00ffe8,#0ff,#007dff,#07f,#07f,#006fff,#006aff,#06f,#0061ff,#0038ff,#002cff,#0040ff,#005bff,#07f,#009eff,#0df,#0ff,#00ffe8,#0f9,#00ff40,#1f0,#5eff00,#af0,#cf0,#ef0,#ff0,#ff0,#ff0,#ff0,#ff0,#ff0,#ff0,#ff0,#ff0,#ff0,#ff0,#ff0,#ff0,#ff0,#ff0,#ff0,#ff0,#ff0,#ff0,#ff0,#ff0,#ff0,#ffd400,#fa0,#ff8e00,#ff7300,#f50,#ff3c00,#f20,#ff0500,#ff001a,#ff003d,#f06,#ff008d,#ff00b4,#f0d,#f0f,#f0f,#f0f,#f0f)"></i>
<i style="background:linear-gradient(#0ff,#0ff,#0ff,#00ffd8,#0f8,#1f0,#59ff00,#8f0,#82ff00,#7fff00,#7dff00,#7f0,#7f0,#4aff00,#1eff00,#0f6,#00ffe8,#0ff,#007dff,#07f,#07f,#006fff,#006aff,#06f,#0061ff,#0038ff,#0029ff,#003bff,#0059ff,#07f,#00a1ff,#0df,#0ff,#00ffe7,#0f9,#00ff3e,#16ff00,#61ff00,#af0,#cf0,#ef0,#ff0,#ff0,#ff0,#ff0,#ff0,#ff0,#ff0,#ff0,#ff0,#ff0,#ff0,#ff0,#ff0,#ff0,#ff0,#ff0,#ff0,#ff0,#ef0,#fbff00,#ff0,#ff0,#ff0,#ff0,#ff0,#fe0,#ffd700,#ffc300,#ffaf00,#f90,#f80,#ff7000,#f50,#ff3a00,#f20,#ff0400,#f03,#f06,#ff008c,#ff00a4)"></i>
<i style="background:linear-gradient(#0ff,#0ff,#0ff,#0fd,#0f8,#0f0,#4f0,#70ff00,#6eff00,#6bff00,#6f0,#6f0,#62ff00,#3f0,#09ff00,#00ff6b,#00ffe8,#0ff,#007dff,#07f,#07f,#006fff,#006aff,#06f,#0061ff,#0038ff,#002cff,#04f,#0081ff,#0bf,#0ef,#0ff,#0ff,#00ffae,#0f5,#08ff00,#5fff00,#a6ff00,#ef0,#ff0,#ff0,#ff0,#ff0,#ff0,#ff0,#ff0,#ff0,#ff0,#ff0,#ff0,#ff0,#ff0,#ff0,#ff0,#ff0,#ff0,#ff0,#ff0,#ff0,#ff0,#ff0,#ff0,#ff0,#ff0,#ff0,#ff0,#ff0,#fff800,#ffe800,#ffd900,#fc0,#fb0,#ffa600,#ff8c00,#ff7300,#ff5900,#ff3f00,#ff1800,#f01,#f03,#f04)"></i>
<i style="background:linear-gradient(#0ff,#0ff,#0ff,#0fc,#0f8,#4f0,#9f0,#c3ff00,#c0ff00,#bf0,#bf0,#bf0,#b5ff00,#8f0,#5cff00,#0f5,#00ffe8,#0ff,#00c1ff,#0bf,#0bf,#00b3ff,#00aeff,#0af,#00a5ff,#05f,#02f,#002aff,#004fff,#07f,#00a2ff,#0df,#0ff,#00ffe6,#0f9,#00ff3d,#17ff00,#62ff00,#af0,#cf0,#ef0,#ff0,#ff0,#ff0,#ff0,#ff0,#ff0,#ff0,#ff0,#ff0,#ff0,#ff0,#ff0,#ff0,#ff0,#ff0,#ff0,#ff0,#ff0,#ef0,#f4ff00,#f7ff00,#ff0,#ff0,#ff0,#ff0,#ff0,#ff0,#ff0,#fff800,#ffe900,#fd0,#ffc800,#ffb000,#f90,#ff7f00,#f60,#ff4000,#ff1a00,#f00,#f01)"></i>
<i style="background:linear-gradient(#0ff,#0ff,#0ff,#00ffc8,#0f8,#4f0,#9f0,#c7ff00,#c4ff00,#c1ff00,#bfff00,#bf0,#bf0,#8cff00,#60ff00,#0f5,#00ffe8,#0ff,#00c7ff,#00c2ff,#0bf,#0bf,#00b4ff,#00afff,#0af,#05f,#02f,#0029ff,#05f,#007cff,#0af,#00e7ff,#0ff,#0fd,#00ff8f,#0f3,#2f0,#6bff00,#b5ff00,#d6ff00,#f6ff00,#ff0,#ff0,#ff0,#ff0,#ff0,#ff0,#ff0,#ff0,#ff0,#ff0,#ff0,#ff0,#ff0,#ff0,#ff0,#f5ff00,#df0,#c6ff00,#b5ff00,#bf0,#c0ff00,#cf0,#e7ff00,#ff0,#ff0,#ff0,#ff0,#ff0,#ff0,#ff0,#ff0,#fe0,#fd0,#ffc300,#fa0,#f90,#ff6d00,#f40,#ff2a00,#ff1a00)"></i>
<i style="background:linear-gradient(#0ff,#0ff,#00fff4,#00ffbf,#0f8,#62ff00,#bf0,#eaff00,#e7ff00,#e4ff00,#e1ff00,#df0,#df0,#afff00,#83ff00,#00ff49,#00ffe8,#0ff,#00f6ff,#0ef,#0ef,#00e7ff,#00e3ff,#0df,#00d9ff,#06f,#02f,#03f,#0060ff,#008fff,#00c2ff,#00f9ff,#0ff,#0fc,#00ff7e,#0f2,#3f0,#7dff00,#c6ff00,#e4ff00,#ff0,#ff0,#ff0,#ff0,#ff0,#ff0,#ff0,#ff0,#ff0,#ff0,#ff0,#ff0,#ff0,#ff0,#ff0,#f9ff00,#e2ff00,#c6ff00,#af0,#95ff00,#9f0,#a3ff00,#b3ff00,#cf0,#ef0,#faff00,#ff0,#ff0,#ff0,#ff0,#ff0,#ff0,#ff0,#fe0,#ffd800,#ffc300,#ffae00,#ff8300,#f50,#ff3d00,#ff2d00)"></i>
<i style="background:linear-gradient(#0ff,#0ff,#0ff,#00ffc6,#0f8,#4bff00,#a3ff00,#cf0,#cf0,#cf0,#c7ff00,#c4ff00,#c1ff00,#94ff00,#6f0,#00ff50,#00ffe8,#0ff,#00d2ff,#0cf,#0cf,#00c4ff,#00bfff,#0bf,#00b6ff,#005aff,#02f,#02f,#0037ff,#004bff,#0073ff,#0bf,#0ff,#0ff,#0fb,#0f6,#0f1,#39ff00,#8f0,#afff00,#d8ff00,#f9ff00,#ff0,#ff0,#ff0,#ff0,#ff0,#ff0,#ff0,#ff0,#ff0,#ff0,#ff0,#ff0,#ff0,#ff0,#ef0,#d1ff00,#b7ff00,#a4ff00,#af0,#b1ff00,#bfff00,#df0,#f5ff00,#ff0,#ff0,#ff0,#ff0,#ff0,#ff0,#ff0,#fffb00,#ffe500,#fc0,#fb0,#ffa400,#f70,#ff4f00,#f30,#f20)"></i>
<i style="background:linear-gradient(#0ff,#0ff,#00fff9,#00ffc2,#0f8,#59ff00,#b3ff00,#df0,#df0,#d9ff00,#d6ff00,#d4ff00,#d1ff00,#a4ff00,#7f0,#00ff4c,#00ffe8,#0ff,#00e9ff,#00e4ff,#0df,#0df,#00d6ff,#00d1ff,#0cf,#06f,#02f,#03f,#0070ff,#00afff,#00e8ff,#0ff,#0ff,#00ffb4,#00ff5f,#0f0,#5f0,#9eff00,#e6ff00,#ff0,#ff0,#ff0,#ff0,#ff0,#ff0,#ff0,#ff0,#ff0,#ff0,#ff0,#ff0,#f9ff00,#f4ff00,#ef0,#ef0,#e7ff00,#cf0,#af0,#8f0,#72ff00,#7bff00,#83ff00,#95ff00,#b6ff00,#d6ff00,#e5ff00,#f4ff00,#ff0,#ff0,#ff0,#ff0,#ff0,#ff0,#ff0,#fe0,#fd0,#ffc600,#f90,#ff6c00,#ff5000,#f40)"></i>
<i style="background:linear-gradient(#0ff,#0ff,#0ff,#0fc,#0f8,#3dff00,#92ff00,#bf0,#bf0,#bf0,#b5ff00,#b2ff00,#b0ff00,#83ff00,#5f0,#0f5,#00ffe8,#0ff,#0bf,#0bf,#00b4ff,#00afff,#0af,#00a6ff,#00a1ff,#05f,#02f,#03f,#07f,#0bf,#00f9ff,#0ff,#0ff,#0fa,#00ff51,#1f0,#6f0,#af0,#f4ff00,#ff0,#ff0,#ff0,#ff0,#ff0,#ff0,#ff0,#ff0,#ff0,#ff0,#ff0,#ff0,#ff0,#ff0,#ff0,#faff00,#f7ff00,#df0,#c2ff00,#a6ff00,#91ff00,#9f0,#9fff00,#afff00,#cf0,#e9ff00,#f7ff00,#ff0,#ff0,#ff0,#ff0,#ff0,#ff0,#ff0,#fe0,#fd0,#ffc600,#ffb100,#f80,#ff5a00,#ff4000,#f30)"></i>
<i style="background:linear-gradient(#0ff,#0ff,#0ff,#00ffd3,#0f8,#2f0,#6eff00,#9f0,#9f0,#94ff00,#91ff00,#8eff00,#8f0,#5fff00,#3f0,#00ff5f,#00ffe8,#0ff,#008fff,#08f,#08f,#0080ff,#007cff,#07f,#0072ff,#003fff,#0026ff,#003bff,#007fff,#00c2ff,#0ff,#0ff,#0ff,#00ffa5,#00ff4e,#1f0,#6f0,#b0ff00,#f7ff00,#ff0,#ff0,#ff0,#ff0,#ff0,#ff0,#ff0,#ff0,#ff0,#ff0,#ff0,#fbff00,#f7ff00,#f2ff00,#ef0,#e9ff00,#e5ff00,#cf0,#af0,#8f0,#6dff00,#7f0,#7fff00,#91ff00,#b2ff00,#d3ff00,#e2ff00,#ef0,#ff0,#ff0,#ff0,#ff0,#ff0,#ff0,#ff0,#fff200,#fd0,#fc0,#f90,#ff6f00,#f50,#f40)"></i>
<i style="background:linear-gradient(#00fff8,#0fe,#00ffe1,#00ffb6,#0f8,#83ff00,#e6ff00,#ff0,#ff0,#ff0,#ff0,#ff0,#ff0,#d7ff00,#af0,#00ff3d,#00ffe8,#0ff,#0ff,#0ff,#0ff,#0ff,#0ff,#0ff,#0ff,#0081ff,#0029ff,#003fff,#0072ff,#00a5ff,#00d8ff,#0ff,#0ff,#00ffc0,#00ff6c,#0f1,#48ff00,#90ff00,#d9ff00,#f3ff00,#ff0,#ff0,#ff0,#ff0,#ff0,#ff0,#ff0,#ff0,#ff0,#ff0,#ff0,#fbff00,#f7ff00,#f2ff00,#ef0,#eaff00,#d0ff00,#afff00,#8fff00,#7f0,#80ff00,#8f0,#9f0,#bf0,#d9ff00,#e8ff00,#f7ff00,#ff0,#ff0,#ff0,#ff0,#ff0,#ff0,#ff0,#fe0,#ffd700,#ffc300,#f90,#f60,#ff4e00,#ff3e00)"></i>
<i style="background:linear-gradient(#0ff,#0ff,#0ff,#00ffc6,#0f8,#5cff00,#b7ff00,#e3ff00,#df0,#df0,#df0,#d7ff00,#d4ff00,#af0,#7bff00,#00ff4b,#00ffe8,#0ff,#00f7ff,#00f2ff,#0ef,#00e9ff,#00e4ff,#0df,#0df,#06f,#02f,#03f,#07f,#00b7ff,#0ef,#0ff,#0ff,#00ffae,#0f5,#08ff00,#5eff00,#a6ff00,#ef0,#ff0,#ff0,#ff0,#ff0,#ff0,#ff0,#ff0,#ff0,#ff0,#ff0,#ff0,#ff0,#ff0,#ff0,#ff0,#ff0,#ff0,#ff0,#f4ff00,#e1ff00,#d3ff00,#d7ff00,#df0,#e6ff00,#ff0,#ff0,#ff0,#ff0,#ff0,#ff0,#ff0,#ff0,#fff200,#fd0,#fc0,#ffb200,#f90,#ff8300,#ff5b00,#f30,#ff1b00,#ff0b00)"></i>
<i style="background:linear-gradient(#0ff,#0ff,#0ff,#0fc,#0f8,#7fff00,#e1ff00,#ff0,#ff0,#ff0,#ff0,#ff0,#ff0,#d2ff00,#a6ff00,#00ff3f,#00ffe8,#0ff,#0ff,#0ff,#0ff,#0ff,#0ff,#0ff,#0ff,#0082ff,#0029ff,#04f,#08f,#00d0ff,#0ff,#0ff,#00fff4,#0f9,#0f4,#2f0,#7f0,#bf0,#ff0,#ff0,#ff0,#ff0,#ff0,#ff0,#ff0,#ff0,#ff0,#ff0,#ff0,#ff0,#ff0,#ff0,#ff0,#ff0,#ff0,#ff0,#ff0,#ff0,#f4ff00,#e8ff00,#ef0,#ef0,#f9ff00,#ff0,#ff0,#ff0,#ff0,#ff0,#ff0,#ff0,#fff400,#ffe600,#ffd400,#fb0,#ffa400,#ff8c00,#f70,#ff4e00,#ff2700,#f10,#f00)"></i>
<i style="background:linear-gradient(#0df,#00e7ff,#0ff,#0fe,#0f8,#6f0,#c3ff00,#ef0,#ef0,#e9ff00,#e6ff00,#e3ff00,#df0,#b4ff00,#8f0,#0f4,#00ffe8,#0ff,#0ff,#0ff,#0ff,#0ff,#0ff,#0ff,#00f7ff,#07f,#0026ff,#0038ff,#06f,#09f,#0cf,#0ff,#0ff,#00ffc8,#0f7,#00ff18,#3dff00,#8f0,#cf0,#ef0,#ff0,#ff0,#ff0,#ff0,#ff0,#ff0,#ff0,#ff0,#ff0,#ff0,#ff0,#ff0,#ff0,#ff0,#ff0,#ff0,#ff0,#ef0,#d6ff00,#c7ff00,#cf0,#d0ff00,#df0,#f4ff00,#ff0,#ff0,#ff0,#ff0,#ff0,#ff0,#ff0,#fff900,#ffe700,#ffd000,#fb0,#ffa200,#f80,#f60,#ff3b00,#f20,#f10)"></i>
<i style="background:linear-gradient(#07f,#0080ff,#00a4ff,#0ff,#0f8,#18ff00,#6f0,#91ff00,#8fff00,#8cff00,#8f0,#8f0,#83ff00,#5f0,#2aff00,#00ff61,#00ffe8,#0ff,#00a1ff,#009dff,#09f,#0093ff,#008eff,#08f,#08f,#04f,#02f,#0038ff,#0083ff,#0cf,#0ff,#0ff,#00fff4,#0f9,#0f4,#2f0,#7f0,#bf0,#ff0,#ff0,#ff0,#ff0,#ff0,#ff0,#ff0,#ff0,#ff0,#ff0,#ff0,#ff0,#ff0,#ff0,#ff0,#ff0,#ff0,#faff00,#e3ff00,#c7ff00,#af0,#9f0,#9eff00,#a5ff00,#b4ff00,#d1ff00,#ef0,#ff0,#ff0,#ff0,#ff0,#ff0,#ff0,#ff0,#ff0,#fe0,#ffd700,#ffc200,#fa0,#ff8200,#f50,#ff3c00,#ff2c00)"></i>
<i style="background:linear-gradient(#0071ff,#07f,#009fff,#0ff,#0f8,#26ff00,#7f0,#a2ff00,#9fff00,#9f0,#9f0,#9f0,#94ff00,#6f0,#3bff00,#00ff5d,#00ffe8,#0ff,#00c5ff,#00c1ff,#0bf,#00b7ff,#00b2ff,#00aeff,#0af,#05f,#02f,#002eff,#006dff,#0af,#00e4ff,#0ff,#0ff,#00ffb7,#00ff62,#0f0,#5f0,#9f0,#e3ff00,#fbff00,#ff0,#ff0,#ff0,#ff0,#ff0,#ff0,#ff0,#ff0,#ff0,#ff0,#ff0,#ff0,#ff0,#ff0,#ff0,#fbff00,#e4ff00,#cf0,#aeff00,#9f0,#a0ff00,#af0,#b6ff00,#d2ff00,#ef0,#ff0,#ff0,#ff0,#ff0,#ff0,#ff0,#ff0,#ff0,#fe0,#ffd600,#ffc100,#fa0,#ff8000,#f50,#ff3b00,#ff2b00)"></i>
<i style="background:linear-gradient(#0072ff,#07f,#00a0ff,#0ff,#0f8,#27ff00,#7f0,#a3ff00,#a0ff00,#9dff00,#9f0,#9f0,#95ff00,#6f0,#3cff00,#00ff5c,#00ffe8,#0ff,#00d7ff,#00d3ff,#0cf,#0cf,#00c4ff,#00c0ff,#0bf,#005cff,#02f,#0027ff,#004aff,#006cff,#09f,#00d8ff,#0ff,#0fe,#00ff9e,#0f4,#1f0,#5aff00,#a5ff00,#cf0,#ef0,#ff0,#ff0,#ff0,#ff0,#ff0,#ff0,#ff0,#ff0,#ff0,#ff0,#ff0,#ff0,#ff0,#ff0,#ff0,#e8ff00,#cf0,#b3ff00,#9fff00,#a5ff00,#af0,#bf0,#d6ff00,#f2ff00,#ff0,#ff0,#ff0,#ff0,#ff0,#ff0,#ff0,#ff0,#ffe800,#ffd300,#fb0,#fa0,#ff7d00,#f50,#ff3800,#ff2800)"></i>
<i style="background:linear-gradient(#0059ff,#0062ff,#08f,#0ff,#0f8,#00ff05,#4f0,#6eff00,#6bff00,#6f0,#6f0,#6f0,#60ff00,#3f0,#07ff00,#00ff6b,#00ffe8,#0ff,#00a4ff,#00a0ff,#09f,#09f,#0091ff,#008dff,#08f,#0048ff,#02f,#03f,#0072ff,#00afff,#00e7ff,#0ff,#0ff,#00ffb5,#00ff5f,#0f0,#5f0,#9dff00,#e5ff00,#ff0,#ff0,#ff0,#ff0,#ff0,#ff0,#ff0,#ff0,#ff0,#ff0,#ff0,#ff0,#ff0,#ff0,#ff0,#f9ff00,#f5ff00,#df0,#c0ff00,#a3ff00,#8dff00,#95ff00,#9f0,#af0,#cf0,#e7ff00,#f5ff00,#ff0,#ff0,#ff0,#ff0,#ff0,#ff0,#ff0,#fff300,#fd0,#fc0,#ffb400,#f80,#ff5c00,#f40,#f30)"></i>
<i style="background:linear-gradient(#003cff,#04f,#006eff,#0ff,#00ff8c,#00ff3b,#0f0,#2dff00,#2aff00,#27ff00,#2f0,#2f0,#2f0,#0f1,#00ff39,#00ff7e,#00ffe8,#0ff,#007dff,#07f,#07f,#006fff,#006aff,#06f,#0061ff,#0038ff,#002aff,#003eff,#0061ff,#0083ff,#00afff,#00e9ff,#0ff,#0fd,#00ff8d,#0f3,#2f0,#6dff00,#b7ff00,#d7ff00,#f7ff00,#ff0,#ff0,#ff0,#ff0,#ff0,#ff0,#ff0,#ff0,#ff0,#ff0,#f8ff00,#f4ff00,#ef0,#ef0,#e6ff00,#cf0,#af0,#8f0,#70ff00,#7f0,#82ff00,#94ff00,#b4ff00,#d5ff00,#e4ff00,#f3ff00,#ff0,#ff0,#ff0,#ff0,#ff0,#ff0,#ff0,#fe0,#fd0,#ffc800,#f90,#ff6d00,#f50,#f40)"></i>
<i style="background:linear-gradient(#03f,#003cff,#06f,#0ff,#00ff8d,#0f5,#00ff1d,#1f0,#0bff00,#08ff00,#06ff00,#0f0,#0f0,#00ff2c,#0f5,#0f8,#00ffe8,#0ff,#007dff,#07f,#07f,#006fff,#006aff,#06f,#0061ff,#0038ff,#002cff,#04f,#0073ff,#00a2ff,#00d3ff,#0ff,#0ff,#00ffc3,#00ff70,#0f1,#4f0,#8cff00,#d5ff00,#ef0,#ff0,#ff0,#ff0,#ff0,#ff0,#ff0,#ff0,#ff0,#ff0,#ff0,#ff0,#f8ff00,#f3ff00,#ef0,#eaff00,#e6ff00,#cf0,#af0,#8f0,#70ff00,#7f0,#81ff00,#93ff00,#b4ff00,#d4ff00,#e3ff00,#f2ff00,#ff0,#ff0,#ff0,#ff0,#ff0,#ff0,#ff0,#fe0,#fd0,#ffc800,#f90,#ff6d00,#f50,#f40)"></i>
<i style="background:linear-gradient(#02f,#002cff,#05f,#0ff,#00ff90,#0f7,#00ff4a,#0f2,#0f2,#0f2,#00ff27,#00ff2a,#00ff2d,#00ff59,#00ff84,#00ff93,#00ffe8,#0ff,#007dff,#07f,#07f,#006fff,#006aff,#06f,#0061ff,#0038ff,#03f,#004aff,#06f,#08f,#00b2ff,#0ef,#0ff,#0fd,#0f8,#00ff2f,#2f0,#6fff00,#bf0,#d9ff00,#f9ff00,#ff0,#ff0,#ff0,#ff0,#ff0,#ff0,#ff0,#ff0,#ff0,#ff0,#ff0,#ff0,#ff0,#ff0,#ff0,#ef0,#d3ff00,#bf0,#a6ff00,#af0,#b3ff00,#c1ff00,#df0,#f7ff00,#ff0,#ff0,#ff0,#ff0,#ff0,#ff0,#ff0,#fff900,#ffe400,#fc0,#fb0,#ffa200,#f70,#ff4e00,#f30,#f20)"></i>
<i style="background:linear-gradient(#0029ff,#03f,#005cff,#0ff,#00ff95,#00ff83,#0f5,#00ff28,#00ff2b,#00ff2e,#0f3,#0f3,#0f3,#00ff62,#00ff8e,#0f9,#00ffe8,#0ff,#007dff,#07f,#07f,#006fff,#006aff,#06f,#0061ff,#0038ff,#002eff,#04f,#06f,#0084ff,#00aeff,#00e8ff,#0ff,#0fd,#00ff8e,#0f3,#2f0,#6cff00,#b6ff00,#d6ff00,#f7ff00,#ff0,#ff0,#ff0,#ff0,#ff0,#ff0,#ff0,#ff0,#ff0,#ff0,#ff0,#ff0,#ff0,#ff0,#ff0,#ff0,#ff0,#ff0,#ff0,#ff0,#ff0,#ff0,#ff0,#ff0,#ff0,#ff0,#ff0,#ff0,#fff300,#ffe500,#ffd700,#ffc500,#fa0,#ff9300,#ff7b00,#ff6200,#ff3d00,#ff1800,#f00,#f01)"></i>
<i style="background:linear-gradient(#006bff,#0073ff,#09f,#0ff,#00ff9e,#00ff3b,#05ff00,#3f0,#2eff00,#2bff00,#28ff00,#2f0,#2f0,#00ff0a,#0f3,#00ff7d,#00ffe8,#0ff,#0cf,#0cf,#00c4ff,#00bfff,#0bf,#00b6ff,#00b1ff,#05f,#02f,#0026ff,#04f,#0061ff,#008dff,#0cf,#0ff,#00fff5,#0fa,#00ff50,#0f0,#4fff00,#9f0,#c0ff00,#e5ff00,#ff0,#ff0,#ff0,#ff0,#ff0,#ff0,#ff0,#ff0,#ff0,#ff0,#ff0,#ff0,#ff0,#ff0,#ff0,#ff0,#ff0,#ff0,#ff0,#ff0,#ff0,#ff0,#ff0,#ff0,#ff0,#ff0,#ff0,#ff0,#fff200,#ffe400,#ffd600,#ffc400,#fa0,#ff9300,#f70,#ff6100,#ff3c00,#ff1700,#f00,#f01)"></i>
<i style="background:linear-gradient(#0071ff,#07f,#09f,#0ff,#0fa,#00ff49,#00ff0a,#2f0,#2f0,#1cff00,#19ff00,#17ff00,#1f0,#00ff18,#0f4,#00ff81,#00ffe8,#0ff,#0df,#00d7ff,#00d2ff,#0cf,#0cf,#00c4ff,#00bfff,#005eff,#02f,#02f,#002dff,#0038ff,#005bff,#00a4ff,#0ef,#0ff,#00ffd1,#00ff7b,#00ff29,#2f0,#72ff00,#9eff00,#cf0,#ef0,#f9ff00,#ff0,#ff0,#ff0,#ff0,#ff0,#ff0,#ff0,#ff0,#ff0,#ff0,#ff0,#ff0,#ff0,#ff0,#ff0,#ef0,#df0,#e3ff00,#e6ff00,#ef0,#ff0,#ff0,#ff0,#ff0,#ff0,#ff0,#ff0,#fffa00,#fe0,#ffd900,#ffc100,#fa0,#ff9200,#ff7b00,#f50,#ff2d00,#f10,#ff0400)"></i>
<i style="background:linear-gradient(#07f,#0081ff,#00a0ff,#0ff,#00ffc1,#00ff5c,#00ff1d,#1f0,#0cff00,#09ff00,#06ff00,#0f0,#0f0,#00ff2b,#0f5,#0f8,#00ffe8,#0ff,#0ef,#00e7ff,#00e2ff,#0df,#00d9ff,#00d4ff,#0cf,#06f,#02f,#03f,#06f,#00a0ff,#00d6ff,#0ff,#0ff,#00ffc1,#00ff6d,#0f1,#4f0,#8fff00,#d7ff00,#f2ff00,#ff0,#ff0,#ff0,#ff0,#ff0,#ff0,#ff0,#ff0,#ff0,#ff0,#ff0,#ff0,#ff0,#ff0,#ff0,#ff0,#ef0,#d2ff00,#bf0,#a5ff00,#af0,#b2ff00,#c0ff00,#df0,#f6ff00,#ff0,#ff0,#ff0,#ff0,#ff0,#ff0,#ff0,#fffa00,#ffe400,#fc0,#fb0,#ffa300,#f70,#ff4e00,#f30,#f20)"></i>
<i style="background:linear-gradient(#08f,#008eff,#0af,#0ff,#0fd,#00ff6b,#00ff29,#0f0,#0f0,#00ff04,#00ff07,#00ff09,#00ff0c,#00ff38,#0f6,#0f8,#00ffe8,#0ff,#0ff,#0ff,#0ff,#00fbff,#00f7ff,#00f2ff,#0ef,#0070ff,#02f,#003bff,#08f,#0df,#0ff,#0ff,#0fe,#00ff91,#0f3,#2cff00,#84ff00,#cf0,#ff0,#ff0,#ff0,#ff0,#ff0,#ff0,#ff0,#ff0,#ff0,#ff0,#ff0,#ff0,#ff0,#ff0,#ff0,#ff0,#ff0,#ff0,#ef0,#d6ff00,#bf0,#af0,#b1ff00,#b7ff00,#c5ff00,#df0,#faff00,#ff0,#ff0,#ff0,#ff0,#ff0,#ff0,#ff0,#fff700,#ffe100,#fc0,#ffb500,#ff9f00,#f70,#ff4b00,#f30,#f20)"></i>
<i style="background:linear-gradient(#006aff,#0072ff,#008eff,#00f7ff,#00fff4,#00ffb1,#0f7,#00ff4d,#00ff50,#0f5,#0f5,#0f5,#00ff5b,#0f8,#00ffb2,#00ffa0,#00ffe8,#0ff,#0cf,#00c6ff,#00c1ff,#0bf,#0bf,#00b3ff,#00aeff,#05f,#02f,#002aff,#005eff,#0091ff,#00c6ff,#0ff,#0ff,#0fc,#0f7,#00ff1e,#38ff00,#81ff00,#cf0,#e7ff00,#ff0,#ff0,#ff0,#ff0,#ff0,#ff0,#ff0,#ff0,#ff0,#ff0,#ff0,#ff0,#ff0,#ff0,#ff0,#fbff00,#e4ff00,#cf0,#aeff00,#9f0,#a0ff00,#af0,#b6ff00,#d2ff00,#ef0,#ff0,#ff0,#ff0,#ff0,#ff0,#ff0,#ff0,#ff0,#fe0,#ffd600,#ffc100,#fa0,#ff8000,#f50,#ff3b00,#ff2b00)"></i>
<i style="background:linear-gradient(#0071ff,#07f,#0092ff,#0ef,#0ff,#00ffc1,#0f8,#00ff5b,#00ff5e,#00ff61,#0f6,#0f6,#0f6,#00ff95,#00ffc1,#00ffa4,#00ffe8,#0ff,#0df,#00d6ff,#00d1ff,#0cf,#00c8ff,#00c3ff,#0bf,#005eff,#02f,#002aff,#05f,#007fff,#00b0ff,#00eaff,#0ff,#0fd,#00ff8c,#0f3,#2f0,#6dff00,#bf0,#d8ff00,#f8ff00,#ff0,#ff0,#ff0,#ff0,#ff0,#ff0,#ff0,#ff0,#ff0,#ff0,#ff0,#ff0,#ff0,#ff0,#ff0,#f7ff00,#df0,#cf0,#bf0,#bf0,#c3ff00,#d0ff00,#e9ff00,#ff0,#ff0,#ff0,#ff0,#ff0,#ff0,#ff0,#ff0,#fe0,#ffd900,#ffc300,#fa0,#f90,#ff6d00,#f40,#ff2a00,#ff1a00)"></i>
<i style="background:linear-gradient(#05f,#005cff,#07f,#00d8ff,#0ff,#00fffa,#00ffc8,#00ff9d,#00ffa0,#00ffa3,#00ffa6,#0fa,#0fa,#00ffd7,#0ff,#00ffb7,#00ffe8,#0ff,#09f,#0094ff,#008fff,#08f,#08f,#0081ff,#007cff,#04f,#02f,#03f,#05f,#07f,#00a1ff,#0df,#0ff,#00ffe6,#0f9,#00ff3e,#16ff00,#61ff00,#af0,#cf0,#ef0,#ff0,#ff0,#ff0,#ff0,#ff0,#ff0,#ff0,#ff0,#ff0,#ff0,#ff0,#ff0,#ff0,#ff0,#ff0,#fbff00,#e5ff00,#cf0,#bfff00,#c4ff00,#cf0,#d6ff00,#ef0,#ff0,#ff0,#ff0,#ff0,#ff0,#ff0,#ff0,#ff0,#fe0,#ffd500,#fb0,#fa0,#ff9100,#f60,#ff3f00,#ff2600,#ff1600)"></i>
<i style="background:linear-gradient(#006bff,#07f,#08f,#0df,#0ff,#00ffe3,#0fa,#00ff80,#00ff83,#0f8,#0f8,#0f8,#00ff8e,#0fb,#00ffe5,#00ffaf,#00ffe8,#0ff,#0cf,#0cf,#00c5ff,#00c1ff,#0bf,#00b7ff,#00b2ff,#0059ff,#02f,#0027ff,#004dff,#0072ff,#00a1ff,#0df,#0ff,#00ffe6,#0f9,#00ff3e,#16ff00,#61ff00,#af0,#cf0,#ef0,#ff0,#ff0,#ff0,#ff0,#ff0,#ff0,#ff0,#ff0,#ff0,#ff0,#ff0,#ff0,#ff0,#ff0,#ff0,#f3ff00,#df0,#c2ff00,#b0ff00,#b6ff00,#bf0,#cf0,#e3ff00,#ff0,#ff0,#ff0,#ff0,#ff0,#ff0,#ff0,#ff0,#fff400,#fd0,#ffc700,#ffb100,#f90,#ff7100,#ff4800,#ff2e00,#ff1e00)"></i>
<i style="background:linear-gradient(#03f,#003fff,#005aff,#00c3ff,#0ff,#0ff,#0ff,#0fd,#00ffe1,#00ffe3,#00ffe6,#00ffe9,#0fe,#0ff,#0ff,#0fc,#00ffe8,#0ff,#007dff,#07f,#07f,#006fff,#006aff,#06f,#0061ff,#0038ff,#002bff,#04f,#06f,#0091ff,#00bfff,#00f6ff,#0ff,#00ffd1,#00ff80,#0f2,#3f0,#7bff00,#c4ff00,#e2ff00,#ff0,#ff0,#ff0,#ff0,#ff0,#ff0,#ff0,#ff0,#ff0,#ff0,#ff0,#ff0,#ff0,#ff0,#ff0,#ff0,#e8ff00,#cf0,#b3ff00,#9fff00,#a5ff00,#af0,#bf0,#d8ff00,#f4ff00,#ff0,#ff0,#ff0,#ff0,#ff0,#ff0,#ff0,#fff900,#ffe400,#fc0,#fb0,#ffa300,#f70,#ff4d00,#f30,#f20)"></i>
<i style="background:linear-gradient(#06f,#0072ff,#08f,#00d9ff,#0ff,#0fe,#0fb,#00ff8d,#00ff90,#00ff92,#00ff95,#0f9,#0f9,#00ffc7,#00fff2,#00ffb3,#00ffe8,#0ff,#0cf,#00c5ff,#00c0ff,#0bf,#00b6ff,#00b2ff,#0af,#05f,#02f,#002bff,#06f,#09f,#00d0ff,#0ff,#0ff,#00ffc5,#00ff72,#00ff15,#40ff00,#8f0,#d2ff00,#ef0,#ff0,#ff0,#ff0,#ff0,#ff0,#ff0,#ff0,#ff0,#ff0,#ff0,#ff0,#ff0,#ff0,#ff0,#ff0,#ff0,#ff0,#ff0,#ff0,#ff0,#ff0,#ff0,#ff0,#ff0,#ff0,#fe0,#ffd800,#ffc500,#ffb100,#ff9e00,#f80,#f70,#ff6100,#f40,#ff2b00,#f10,#ff000c,#f04,#f07,#f09,#ff00b2)"></i>
<i style="background:linear-gradient(#06f,#006cff,#0084ff,#00d6ff,#0ff,#00fff8,#00ffc2,#0f9,#0f9,#00ff9d,#00ffa0,#00ffa2,#00ffa6,#00ffd1,#0ff,#00ffb7,#00ffe9,#0ff,#0bf,#00b6ff,#00b2ff,#0af,#0af,#00a4ff,#009fff,#05f,#0018ff,#02f,#04f,#06f,#0091ff,#0cf,#0ff,#00fff5,#0fa,#00ff51,#0f0,#4bff00,#95ff00,#bf0,#df0,#faff00,#ff0,#ff0,#ff0,#ff0,#ff0,#ff0,#ff0,#fff900,#ffe500,#ffd200,#ffc000,#ffaf00,#ff9e00,#ff8d00,#ff9000,#f90,#ffa000,#ffa200,#f80,#ff7000,#ff4e00,#f20,#f01,#ff003c,#ff0062,#f08,#ff00b0,#ff00d7,#f0f,#f0f,#f0f,#f0f,#f0f,#f0f,#f0f,#f0f,#f0f,#f0f,#f0f)"></i>
<i style="background:linear-gradient(#009dff,#0af,#00c2ff,#00f8ff,#0ff,#0fa,#0f6,#00ff50,#00ff4d,#00ff4a,#0f4,#00ff4a,#00ff62,#00ff8e,#0fb,#0fc,#0ff,#0ff,#0ff,#00d2ff,#00d0ff,#0cf,#0cf,#0cf,#0cf,#00a0ff,#00f,#00f,#00f,#0039ff,#05f,#007fff,#0af,#00d9ff,#0ff,#0ff,#0fd,#00ffb1,#00ff84,#00ff6a,#0f5,#0f4,#00ff3d,#00ff39,#0f3,#0f3,#0f2,#00ff0b,#09ff00,#19ff00,#28ff00,#37ff00,#4f0,#5f0,#60ff00,#6dff00,#71ff00,#72ff00,#7f0,#7f0,#8f0,#9f0,#bf0,#f3ff00,#ff0,#ff0,#ffe900,#ffc700,#ffa500,#ff7200,#ff3f00,#ff0b00,#f03,#f06,#f09,#ff00c5,#f0f,#f0f,#f0f,#f0f,#f0f)"></i>
<i style="background:linear-gradient(#07f,#08f,#00b6ff,#0ff,#0ff,#00ffaf,#00ff7d,#0f7,#00ff6c,#0f6,#00ff5b,#00ff5a,#0f7,#00ff8f,#0fa,#00ffe8,#0ff,#0ff,#0ff,#0af,#00afff,#00b7ff,#00c1ff,#0bf,#0bf,#00d2ff,#00f,#00f,#00f,#00f,#00f,#01f,#02f,#03f,#04f,#05f,#06f,#07f,#08f,#0095ff,#00a4ff,#00b0ff,#0bf,#00c3ff,#0cf,#00d6ff,#00e1ff,#0ef,#00f8ff,#0ff,#0ff,#0ff,#0ff,#0ff,#0ff,#0ff,#0ff,#0ff,#0ff,#00fff7,#0fe,#00ffe7,#0fc,#0f8,#00ff48,#0f1,#0dff00,#29ff00,#4f0,#82ff00,#bf0,#fbff00,#ff0,#ff0,#ffd900,#ffb500,#f70,#ff3700,#f00,#f03,#ff0048)"></i>
<i style="background:linear-gradient(#006fff,#0082ff,#00b0ff,#0ff,#0ff,#00ffb4,#00ff84,#00ff7c,#0f7,#00ff6b,#0f6,#00ff61,#0f7,#00ff90,#0fa,#00ffe9,#0ff,#0ff,#0ff,#0af,#0bf,#0cf,#00e8ff,#00d6ff,#00c3ff,#00d4ff,#00f,#00f,#00f,#00f,#00f,#00f,#000cff,#0019ff,#0026ff,#03f,#04f,#004eff,#005bff,#06f,#07f,#0082ff,#008fff,#09f,#0af,#00b5ff,#00c1ff,#0cf,#0df,#00e7ff,#00f3ff,#0ff,#0ff,#0ff,#0ff,#0ff,#0ff,#0ff,#0ff,#0ff,#0ff,#0ff,#00ffe5,#00ffa5,#0f6,#00ff2d,#0f1,#0aff00,#26ff00,#61ff00,#9f0,#df0,#ff0,#ff0,#ff0,#fd0,#ffa000,#ff5f00,#ff2800,#ff0004,#ff0015)"></i>
<i style="background:linear-gradient(#07f,#08f,#00b4ff,#0ff,#0ff,#00ffb0,#00ff7f,#0f7,#00ff6e,#0f6,#00ff5e,#00ff5c,#0f7,#00ff8e,#0fa,#00ffe9,#0ff,#0ff,#0ff,#00afff,#0cf,#00f6ff,#0ff,#0ff,#00d5ff,#00d4ff,#00f,#00f,#00f,#00f,#000dff,#001eff,#002eff,#003eff,#004eff,#005fff,#006fff,#007fff,#0090ff,#00a0ff,#00afff,#00b7ff,#00bfff,#00c7ff,#0cf,#00d7ff,#0df,#00e7ff,#0ef,#00f7ff,#0ff,#0ff,#0ff,#0ff,#0ff,#0ff,#0ff,#0ff,#0ff,#0ff,#0ff,#0ff,#00ffe5,#00ffa6,#0f6,#00ff2e,#0f1,#09ff00,#2f0,#60ff00,#9f0,#d9ff00,#ff0,#ff0,#ff0,#fd0,#ffa100,#ff5f00,#ff2900,#f00,#f01)"></i>
<i style="background:linear-gradient(#006aff,#007eff,#0af,#0ff,#0ff,#00ffb7,#0f8,#00ff80,#0f7,#00ff70,#0f6,#0f6,#00ff7b,#00ff91,#0fa,#00ffe9,#0ff,#0ff,#0ff,#00b3ff,#00e1ff,#0ff,#0fc,#0ff,#0ef,#00d4ff,#00f,#00f,#00f,#01f,#02f,#03f,#04f,#05f,#06f,#07f,#008cff,#009eff,#00b0ff,#00c1ff,#0cf,#00d0ff,#00d6ff,#0df,#00e2ff,#00e8ff,#0ef,#00f4ff,#00faff,#0ff,#0ff,#0ff,#0ff,#0ff,#0ff,#0ff,#0ff,#0ff,#0ff,#0ff,#0ff,#0ff,#00ffe5,#00ffa6,#0f6,#00ff2e,#0f1,#09ff00,#2f0,#60ff00,#9f0,#d9ff00,#ff0,#ff0,#ff0,#fd0,#ffa100,#ff5f00,#ff2900,#f00,#f01)"></i>
<i style="background:linear-gradient(#08f,#09f,#00c1ff,#0ff,#00fff7,#00ffa4,#00ff6f,#0f6,#00ff5e,#0f5,#00ff4d,#00ff4c,#00ff6b,#0f8,#0fa,#00ffe9,#0ff,#0ff,#0ff,#00b7ff,#00f7ff,#00fff2,#0f7,#0fc,#0ff,#00d4ff,#00f,#00f,#00f,#0007ff,#0019ff,#002aff,#003bff,#004cff,#005eff,#006fff,#0080ff,#0091ff,#00a2ff,#00b4ff,#00bfff,#00c6ff,#0cf,#00d4ff,#0df,#00e1ff,#00e8ff,#0ef,#00f6ff,#0ff,#0ff,#0ff,#0ff,#0ff,#0ff,#0ff,#0ff,#0ff,#0ff,#0ff,#0ff,#0ff,#00ffe5,#00ffa6,#0f6,#00ff2e,#0f1,#09ff00,#2f0,#60ff00,#9f0,#d9ff00,#ff0,#ff0,#ff0,#fd0,#ffa100,#ff5f00,#ff2900,#f00,#f01)"></i>
<i style="background:linear-gradient(#00a3ff,#00b6ff,#00d7ff,#0ff,#0fe,#00ff8f,#0f5,#00ff4b,#0f4,#00ff3a,#0f3,#0f3,#00ff5a,#00ff81,#0fa,#00ffe9,#0ff,#0ff,#0ff,#0bf,#0ff,#00ffd6,#0f4,#0fa,#0ff,#00d4ff,#00f,#00f,#00f,#0008ff,#001cff,#03f,#04f,#05f,#006bff,#007eff,#0092ff,#00a6ff,#0bf,#0cf,#00d9ff,#0df,#00e2ff,#00e7ff,#0ef,#0ef,#00f6ff,#00faff,#0ff,#0ff,#0ff,#0ff,#0ff,#0ff,#0ff,#0ff,#0ff,#0ff,#0ff,#0ff,#0ff,#0ff,#00ffe5,#00ffa6,#0f6,#00ff2e,#0f1,#09ff00,#2f0,#60ff00,#9f0,#d9ff00,#ff0,#ff0,#ff0,#fd0,#ffa100,#ff5f00,#ff2900,#f00,#f01)"></i>
<i style="background:linear-gradient(#00b4ff,#00c7ff,#00e4ff,#0ff,#00ffe8,#00ff83,#0f4,#00ff3b,#0f3,#00ff2a,#0f2,#0f2,#00ff50,#00ff7c,#0fa,#00ffe9,#0ff,#0ff,#0ff,#0bf,#0ff,#0fd,#0f5,#00ffb6,#0ff,#00d4ff,#00f,#00f,#00f,#00f,#00f,#00f,#00f,#00f,#00f,#00f,#00f,#00f,#00f,#00f,#00f,#01f,#002aff,#04f,#005cff,#07f,#008dff,#00a1ff,#00b5ff,#0cf,#0df,#00f2ff,#0ff,#0ff,#0ff,#0ff,#0ff,#0ff,#0ff,#0ff,#0ff,#0ff,#00ffe5,#00ffa6,#0f6,#00ff2e,#0f1,#09ff00,#2f0,#60ff00,#9f0,#d9ff00,#ff0,#ff0,#ff0,#fd0,#ffa100,#ff5f00,#ff2900,#f00,#f01)"></i>
<i style="background:linear-gradient(#06f,#07f,#0af,#0ff,#0ff,#0fb,#00ff8f,#0f8,#00ff7e,#0f7,#00ff6e,#00ff6b,#00ff7f,#00ff93,#0fa,#00ffe9,#0ff,#0ff,#0ff,#00b5ff,#0ef,#0ff,#00ff9d,#00ffe9,#00fbff,#00d4ff,#00f,#00f,#00f,#00f,#00f,#00f,#00f,#00f,#00f,#00f,#00f,#00f,#00f,#00f,#00f,#000cff,#02f,#003eff,#05f,#0070ff,#08f,#009fff,#00b3ff,#00c8ff,#0df,#0ef,#0ff,#0ff,#0ff,#0ff,#0ff,#0ff,#0ff,#0ff,#0ff,#0ff,#00ffe5,#00ffa6,#0f6,#00ff2e,#0f1,#09ff00,#2f0,#60ff00,#9f0,#d9ff00,#ff0,#ff0,#ff0,#fd0,#ffa100,#ff5f00,#ff2900,#f00,#f01)"></i>
<i style="background:linear-gradient(#007dff,#0090ff,#0bf,#0ff,#00fffa,#0fa,#0f7,#00ff6f,#0f6,#00ff5e,#0f5,#0f5,#00ff70,#00ff8c,#0fa,#00ffe9,#0ff,#0ff,#0ff,#00b1ff,#00d5ff,#0ff,#00fffa,#0ff,#00e1ff,#00d4ff,#00f,#00f,#00f,#00f,#00f,#00f,#00f,#00f,#00f,#00f,#00f,#00f,#00f,#00f,#00f,#001aff,#03f,#004aff,#0062ff,#07f,#0091ff,#00a4ff,#0bf,#0cf,#0df,#00f3ff,#0ff,#0ff,#0ff,#0ff,#0ff,#0ff,#0ff,#0ff,#0ff,#0ff,#00ffe5,#00ffa6,#0f6,#00ff2e,#0f1,#09ff00,#2f0,#60ff00,#9f0,#d9ff00,#ff0,#ff0,#ff0,#fd0,#ffa100,#ff5f00,#ff2900,#f00,#f01)"></i>
<i style="background:linear-gradient(#0af,#00c1ff,#0df,#0ff,#0fe,#0f8,#00ff4a,#0f4,#00ff39,#0f3,#00ff28,#00ff2a,#0f5,#00ff7e,#0fa,#00ffe9,#0ff,#0ff,#0ff,#00aeff,#00c1ff,#0df,#0ff,#0ef,#0cf,#00d4ff,#00f,#00f,#00f,#00f,#00f,#00f,#00f,#00f,#00f,#00f,#00f,#00f,#00f,#00f,#00f,#00f,#00f,#0005ff,#02f,#04f,#0062ff,#0081ff,#09f,#00b6ff,#0cf,#00e9ff,#0ff,#0ff,#0ff,#0ff,#0ff,#0ff,#0ff,#0ff,#0ff,#0ff,#00ffe5,#00ffa6,#0f6,#00ff2e,#0f1,#09ff00,#2f0,#60ff00,#9f0,#d9ff00,#ff0,#ff0,#ff0,#fd0,#ffa100,#ff5f00,#ff2900,#f00,#f01)"></i>
<i style="background:linear-gradient(#09f,#00aeff,#00d1ff,#0ff,#0fe,#00ff95,#00ff5b,#0f5,#00ff4a,#0f4,#00ff3a,#00ff3a,#00ff5f,#00ff83,#0fa,#00ffe9,#0ff,#0ff,#0ff,#0af,#00b4ff,#00c1ff,#00d2ff,#00c6ff,#0bf,#00d4ff,#00f,#00f,#00f,#00f,#00f,#00f,#00f,#00f,#00f,#00f,#00f,#00f,#00f,#00f,#00f,#00f,#00f,#00f,#00f,#00f,#00f,#00f,#00f,#00f,#00f,#00f,#006eff,#0ff,#0ff,#0ff,#0ff,#0ff,#0ff,#0ff,#0ff,#0ff,#00ffe5,#00ffa5,#0f6,#00ff2d,#0f1,#0aff00,#2f0,#61ff00,#9f0,#df0,#ff0,#ff0,#ff0,#fd0,#ffa100,#ff5f00,#ff2900,#ff0004,#f01)"></i>
<i style="background:linear-gradient(#0cf,#00e1ff,#00f7ff,#0ff,#00ffe1,#00ff71,#00ff2a,#0f2,#00ff19,#0f1,#00ff09,#00ff0c,#00ff40,#00ff73,#0fa,#00ffe8,#0ff,#0ff,#0ff,#0af,#00aeff,#00b3ff,#0bf,#00b5ff,#00b7ff,#00d4ff,#00f,#00f,#00f,#00f,#00f,#00f,#00f,#00f,#00f,#00f,#00f,#00f,#00f,#00f,#00f,#00f,#00f,#00f,#00f,#00f,#00f,#00f,#00f,#00f,#00f,#01f,#0081ff,#0ff,#0ff,#0ff,#0ff,#0ff,#0ff,#00fff9,#0fe,#00ffe9,#0fc,#0f8,#00ff4a,#0f1,#0cff00,#28ff00,#4f0,#81ff00,#bf0,#fbff00,#ff0,#ff0,#ffd800,#ffb400,#f70,#f30,#f00,#ff0038,#ff004a)"></i>
<i style="background:linear-gradient(#06f,#07f,#009fff,#00f5ff,#0ff,#00ffb3,#00ff7e,#00ff6c,#0f6,#00ff61,#00ff5c,#00ff5b,#00ff6d,#0f8,#0fa,#00ffd4,#0ff,#0ff,#00e6ff,#00a2ff,#00a1ff,#00a1ff,#00a1ff,#009eff,#00a3ff,#0af,#00f,#00f,#00f,#00f,#00f,#00f,#00f,#00f,#00f,#00f,#00f,#00f,#02f,#0038ff,#004eff,#06f,#0070ff,#0084ff,#0af,#00c6ff,#00e4ff,#0ff,#0ff,#0ff,#0ff,#00ffe1,#0f8,#00ff0a,#06ff00,#15ff00,#2f0,#27ff00,#2eff00,#38ff00,#4aff00,#5dff00,#82ff00,#c5ff00,#ff0,#ff0,#ff0,#ffd900,#ffb300,#ff7300,#f30,#f01,#ff0060,#ff009e,#ff00d0,#f0f,#f0f,#f0f,#f0f,#f0f,#f0f)"></i>
<i style="background:linear-gradient(#005dff,#06f,#007fff,#00d3ff,#0ff,#0f8,#00ff40,#00ff16,#00ff19,#00ff1b,#00ff1d,#0f2,#0f2,#00ff4f,#0f7,#00ff94,#0fe,#0ff,#00afff,#00a6ff,#00a2ff,#009dff,#09f,#0094ff,#0090ff,#0051ff,#000bff,#01f,#0029ff,#003dff,#06f,#00a5ff,#00e6ff,#0ff,#00ffd7,#00ff83,#0f3,#16ff00,#5fff00,#8f0,#af0,#cf0,#cf0,#d6ff00,#ef0,#ff0,#ff0,#ff0,#ff0,#ff0,#ff0,#ff0,#ff0,#fff200,#ffe900,#fd0,#fe0,#ff0,#ff0,#ff0,#ff0,#ff0,#fd0,#fa0,#f70,#ff5a00,#ff3d00,#f20,#ff0400,#f02,#f04,#f06,#ff008d,#ff00b3,#ff00d9,#f0f,#f0f,#f0f,#f0f,#f0f,#f0f)"></i>
<i style="background:linear-gradient(#06f,#006dff,#0084ff,#00d5ff,#0ff,#0f6,#0f1,#1cff00,#19ff00,#17ff00,#1f0,#1f0,#1f0,#00ff1e,#00ff4a,#00ff82,#00ffe8,#0ff,#00c0ff,#0bf,#00b7ff,#00b2ff,#0af,#0af,#00a4ff,#05f,#02f,#002dff,#06f,#09f,#0cf,#0ff,#0ff,#00ffc6,#00ff73,#00ff16,#3fff00,#8f0,#d1ff00,#ef0,#ff0,#ff0,#ff0,#ff0,#ff0,#ff0,#ff0,#fbff00,#f5ff00,#ef0,#ef0,#e9ff00,#e5ff00,#df0,#df0,#d8ff00,#b6ff00,#8eff00,#6f0,#4f0,#5f0,#60ff00,#7f0,#a0ff00,#c8ff00,#d9ff00,#eaff00,#faff00,#ff0,#ff0,#ff0,#ff0,#ff0,#ff0,#fe0,#fd0,#fc0,#f90,#f60,#f40,#ff3700)"></i>
<i style="background:linear-gradient(#004fff,#05f,#0071ff,#0cf,#0ff,#00ff6f,#00ff1d,#1f0,#0bff00,#08ff00,#06ff00,#0f0,#0f0,#00ff2c,#0f5,#0f8,#00ffe8,#0ff,#008fff,#08f,#08f,#0081ff,#007cff,#07f,#0073ff,#003fff,#0026ff,#002eff,#03f,#03f,#05f,#009dff,#00e8ff,#0ff,#00ffd8,#00ff82,#0f3,#1dff00,#6bff00,#9f0,#c6ff00,#ef0,#ef0,#ef0,#f2ff00,#f4ff00,#f6ff00,#f8ff00,#faff00,#f5ff00,#ef0,#ef0,#e6ff00,#e1ff00,#df0,#d7ff00,#bf0,#94ff00,#6eff00,#5f0,#5cff00,#6f0,#7bff00,#9eff00,#c2ff00,#d1ff00,#e1ff00,#ef0,#ff0,#ff0,#ff0,#ff0,#ff0,#ff0,#ff0,#fe0,#fd0,#fa0,#ff7e00,#ff6200,#f50)"></i>
<i style="background:linear-gradient(#0061ff,#006aff,#0081ff,#00d3ff,#0ff,#0f5,#0f0,#2dff00,#2aff00,#27ff00,#2f0,#2f0,#2f0,#0f1,#00ff39,#00ff7e,#00ffe8,#0ff,#0bf,#00b4ff,#00afff,#0af,#00a5ff,#00a1ff,#09f,#0050ff,#02f,#002fff,#0062ff,#09f,#0cf,#0ff,#0ff,#0fc,#0f7,#00ff1a,#3bff00,#84ff00,#cf0,#eaff00,#ff0,#ff0,#ff0,#ff0,#ff0,#ff0,#ff0,#ff0,#ff0,#ff0,#ff0,#ff0,#ff0,#ff0,#faff00,#f6ff00,#df0,#c1ff00,#a5ff00,#8fff00,#9f0,#9eff00,#aeff00,#cf0,#e8ff00,#f7ff00,#ff0,#ff0,#ff0,#ff0,#ff0,#ff0,#ff0,#fe0,#fd0,#ffc700,#ffb200,#f80,#ff5b00,#ff4000,#f30)"></i>
<i style="background:linear-gradient(#006eff,#07f,#008dff,#00d9ff,#0ff,#0f5,#0f0,#2cff00,#29ff00,#26ff00,#2f0,#2f0,#1eff00,#0f1,#00ff3a,#00ff7e,#00ffe8,#0ff,#00d5ff,#00d0ff,#0cf,#00c7ff,#00c2ff,#0bf,#0bf,#005bff,#02f,#002eff,#0072ff,#00b6ff,#00f2ff,#0ff,#0ff,#0fa,#0f5,#08ff00,#5fff00,#a6ff00,#ef0,#ff0,#ff0,#ff0,#ff0,#ff0,#ff0,#ff0,#ff0,#ff0,#ff0,#ff0,#ff0,#ff0,#ff0,#ff0,#ff0,#ff0,#e5ff00,#cf0,#afff00,#9f0,#a1ff00,#af0,#b7ff00,#d3ff00,#ef0,#ff0,#ff0,#ff0,#ff0,#ff0,#ff0,#ff0,#ff0,#fe0,#ffd500,#ffc000,#fa0,#ff7f00,#f50,#ff3a00,#ff2a00)"></i>
<i style="background:linear-gradient(#05f,#005dff,#07f,#0cf,#0ff,#00ff93,#00ff49,#00ff1d,#0f2,#0f2,#00ff26,#00ff29,#00ff2b,#0f5,#00ff83,#00ff93,#00ffe8,#0ff,#09f,#09f,#0092ff,#008dff,#08f,#0084ff,#007fff,#04f,#02f,#003bff,#08f,#0df,#0ff,#0ff,#00ffea,#00ff90,#0f3,#2eff00,#8f0,#cf0,#ff0,#ff0,#ff0,#ff0,#ff0,#ff0,#ff0,#ff0,#ff0,#ff0,#ff0,#ff0,#ff0,#ff0,#ff0,#ff0,#ff0,#ff0,#e9ff00,#cf0,#b4ff00,#a1ff00,#af0,#aeff00,#bf0,#d8ff00,#f3ff00,#ff0,#ff0,#ff0,#ff0,#ff0,#ff0,#ff0,#ff0,#ffe700,#ffd100,#fb0,#ffa600,#ff7b00,#ff5100,#f30,#ff2700)"></i>
<i style="background:linear-gradient(#006dff,#07f,#008cff,#00d9ff,#0ff,#0f8,#00ff39,#0f1,#0f1,#0f1,#00ff16,#00ff19,#00ff1c,#0f4,#00ff73,#00ff8e,#00ffe8,#0ff,#00d2ff,#0cf,#0cf,#00c4ff,#00bfff,#0bf,#00b6ff,#005aff,#02f,#002bff,#06f,#00a1ff,#00d9ff,#0ff,#0ff,#00ffbf,#00ff6a,#00ff0d,#49ff00,#91ff00,#df0,#f4ff00,#ff0,#ff0,#ff0,#ff0,#ff0,#ff0,#ff0,#ff0,#ff0,#ff0,#ff0,#ff0,#ff0,#ff0,#ff0,#ff0,#ff0,#f7ff00,#e4ff00,#d6ff00,#df0,#df0,#e9ff00,#ff0,#ff0,#ff0,#ff0,#ff0,#ff0,#ff0,#ff0,#fe0,#fd0,#ffc700,#ffaf00,#f90,#ff8100,#ff5900,#f30,#ff1900,#ff0900)"></i>
<i style="background:linear-gradient(#006fff,#07f,#008eff,#0df,#0ff,#00ff8e,#0f4,#00ff18,#00ff1b,#00ff1d,#0f2,#0f2,#00ff26,#0f5,#00ff7d,#00ff91,#00ffe8,#0ff,#00d8ff,#00d3ff,#0cf,#0cf,#00c5ff,#00c0ff,#0bf,#005cff,#02f,#002aff,#05f,#08f,#0bf,#0ef,#0ff,#00ffd6,#0f8,#00ff29,#2bff00,#7f0,#bfff00,#df0,#ff0,#ff0,#ff0,#ff0,#ff0,#ff0,#ff0,#ff0,#ff0,#ff0,#ff0,#ff0,#ff0,#fbff00,#f7ff00,#f3ff00,#df0,#bf0,#a0ff00,#8f0,#91ff00,#9f0,#af0,#c7ff00,#e5ff00,#f3ff00,#ff0,#ff0,#ff0,#ff0,#ff0,#ff0,#ff0,#fff500,#fd0,#fc0,#ffb600,#f80,#ff5e00,#f40,#f30)"></i>
<i style="background:linear-gradient(#0073ff,#007cff,#0091ff,#0df,#0ff,#00ff8e,#0f4,#00ff17,#00ff1a,#00ff1d,#0f2,#0f2,#0f2,#00ff51,#00ff7d,#00ff91,#00ffe8,#0ff,#0df,#0df,#00d7ff,#00d2ff,#0cf,#00c8ff,#00c4ff,#0060ff,#02f,#002eff,#06f,#00a2ff,#00d9ff,#0ff,#0ff,#00ffbf,#00ff6a,#00ff0d,#49ff00,#91ff00,#df0,#f4ff00,#ff0,#ff0,#ff0,#ff0,#ff0,#ff0,#ff0,#ff0,#ff0,#ff0,#ff0,#ff0,#ff0,#ff0,#ff0,#ff0,#e7ff00,#cf0,#b2ff00,#9eff00,#a5ff00,#af0,#bf0,#d6ff00,#f2ff00,#ff0,#ff0,#ff0,#ff0,#ff0,#ff0,#ff0,#ff0,#ffe800,#ffd200,#fb0,#fa0,#ff7d00,#f50,#ff3700,#ff2800)"></i>
<i style="background:linear-gradient(#008eff,#09f,#0af,#00e8ff,#0ff,#00ff6a,#00ff17,#1f0,#1f0,#1f0,#0cff00,#09ff00,#06ff00,#00ff26,#0f5,#00ff84,#00ffe7,#0ff,#0ff,#0ff,#0ff,#0ff,#0ff,#0ff,#0ff,#07f,#0027ff,#003dff,#007cff,#0bf,#00f3ff,#0ff,#0ff,#0fa,#0f5,#0aff00,#61ff00,#af0,#ef0,#ff0,#ff0,#ff0,#ff0,#ff0,#ff0,#ff0,#ff0,#ff0,#ff0,#ff0,#ff0,#ff0,#ff0,#ff0,#ff0,#ff0,#ff0,#ff0,#ef0,#df0,#e3ff00,#e8ff00,#f4ff00,#ff0,#ff0,#ff0,#ff0,#ff0,#ff0,#fffa00,#fe0,#fd0,#ffc800,#ffb100,#f90,#ff8200,#ff6a00,#f40,#ff1900,#f00,#f01)"></i>
<i style="background:linear-gradient(#006bff,#0073ff,#08f,#0df,#0ff,#0f9,#0f5,#00ff28,#00ff2a,#00ff2d,#0f3,#0f3,#0f3,#00ff62,#00ff8e,#00ff93,#00ffe4,#0ff,#0cf,#00c4ff,#00c0ff,#0bf,#00b6ff,#00b1ff,#0af,#05f,#02f,#03f,#07f,#00b6ff,#0ef,#0ff,#0ff,#0fa,#0f5,#08ff00,#5fff00,#a6ff00,#ef0,#ff0,#ff0,#ff0,#ff0,#ff0,#ff0,#fff200,#ffe500,#ffd900,#fc0,#ffc700,#ffc100,#fb0,#ffb500,#ffaf00,#fa0,#ffa400,#fa0,#ffaf00,#ffb500,#fb0,#ffaf00,#ffa500,#ff9500,#ff7b00,#ff6000,#ff4a00,#f30,#ff1e00,#ff0900,#ff000d,#f02,#ff003c,#ff0059,#ff007d,#ff00a1,#ff00c6,#ff00ea,#f0f,#f0f,#f0f,#f0f)"></i>
<i style="background:linear-gradient(#0095ff,#009fff,#00b5ff,#0ff,#0ff,#00ff73,#00ff26,#08ff00,#0bff00,#07ff00,#04ff00,#0f0,#0f0,#00ff2f,#00ff5d,#0f7,#0fc,#0ff,#0ff,#0ff,#00f6ff,#0ef,#0ef,#00e6ff,#00e1ff,#007cff,#003dff,#04f,#006aff,#008eff,#0bf,#00f4ff,#0ff,#00ffd6,#0f8,#0f3,#1dff00,#6f0,#af0,#cf0,#ef0,#ff0,#ff0,#ff0,#ff0,#fff200,#fd0,#fc0,#fb0,#ffb000,#ffa500,#f90,#ff8f00,#ff7e00,#ff6f00,#ff6100,#ff6a00,#f70,#f80,#f80,#ff6e00,#ff4f00,#ff2700,#ff001a,#f06,#ff009f,#ff00d8,#f0f,#f0f,#f0f,#f0f,#f0f,#f0f,#f0f,#f0f,#f0f,#f0f,#f0f,#f0f,#f0f,#f0f)"></i>
<i style="background:linear-gradient(#00d8ff,#00e5ff,#00f7ff,#0ff,#0ff,#00ffe7,#0fb,#00ff95,#00ff7c,#00ff80,#00ff84,#0f8,#00ff93,#00ffb5,#00ffd6,#00ffe5,#0ff,#0ff,#0ef,#00e4ff,#0df,#00d5ff,#00d4ff,#0cf,#00c6ff,#00afff,#06f,#06f,#006cff,#0070ff,#007bff,#0091ff,#00a6ff,#00c3ff,#0df,#0ff,#0ff,#0ff,#0ff,#0ff,#00fff8,#0fe,#0fd,#00ffc2,#0fa,#00ffa1,#0f9,#00ff92,#0f8,#0f8,#00ff82,#00ff7d,#0f7,#00ff6e,#00ff61,#0f5,#0f4,#0f3,#00ff1d,#00ff09,#1bff00,#4f0,#6aff00,#9f0,#d0ff00,#ff0,#ff0,#f80,#ff1800,#ff005f,#f08,#ff009f,#ff00b7,#f0c,#ff00e8,#f0f,#f0f,#f0f,#f0f,#f0f,#f0f)"></i>
<i style="background:linear-gradient(#0ff,#0ff,#0ff,#0ff,#0ff,#00fff7,#00ffd2,#00ffae,#0f8,#00ff8e,#00ff92,#0f9,#0f9,#0fb,#00ffd4,#0fe,#0ff,#0ff,#0ff,#0ff,#00f8ff,#0ef,#00e8ff,#00e3ff,#0df,#00d7ff,#00b5ff,#00b3ff,#00b6ff,#0bf,#0bf,#00bfff,#00c2ff,#00d3ff,#00e3ff,#0ef,#00fbff,#0ff,#0ff,#0ff,#0ff,#0ff,#0ff,#0ff,#0ff,#0ff,#0ff,#0ff,#0ff,#0ff,#0ff,#0ff,#0ff,#0ff,#0ff,#0ff,#0ff,#0ff,#0ff,#00ffe5,#00ffc5,#00ffa5,#00ff82,#00ff4f,#00ff1c,#1bff00,#5f0,#95ff00,#ff0,#ffe600,#f40,#ff0059,#ff00e5,#ff00fa,#f0f,#f0f,#f0f,#f0f,#f0f,#f0f,#f0f)"></i>
<i style="background:linear-gradient(#0ff,#0ff,#0ff,#0ff,#0ff,#00fff8,#00ffd3,#00ffaf,#0f8,#00ff8c,#00ff8d,#00ff8f,#00ff90,#0fa,#0fc,#00ffe8,#0ff,#0ff,#0ff,#0ff,#00f7ff,#00e7ff,#00e4ff,#0df,#0df,#00d4ff,#0bf,#0af,#0af,#0af,#00afff,#00b1ff,#00b3ff,#00d5ff,#00f6ff,#0ff,#0ff,#0ff,#0ff,#0ff,#0ff,#0ff,#0ff,#0ff,#0ff,#0ff,#0ff,#0ff,#0ff,#0ff,#0ff,#0ff,#0ff,#0ff,#0ff,#0ff,#0ff,#0ff,#0ff,#0ff,#0fe,#00ffd0,#00ffb0,#00ff8f,#00ff5e,#00ff2a,#0bff00,#49ff00,#8f0,#e5ff00,#ff0,#f60,#ff003b,#ff00e6,#f0f,#f0f,#f0f,#f0f,#f0f,#f0f,#f0f)"></i>
<i style="background:linear-gradient(#0ff,#0ff,#0ff,#0ff,#0ff,#00fff8,#00ffd3,#00ffaf,#0f8,#0f8,#00ff80,#0f7,#0f7,#0f9,#0fb,#0fd,#0ff,#0ff,#0ff,#0ff,#00f7ff,#00e7ff,#00e3ff,#0df,#0df,#0cf,#008eff,#005cff,#005dff,#005eff,#005eff,#005fff,#0060ff,#00a5ff,#0ef,#0ff,#0ff,#0ff,#0ff,#0ff,#0ff,#0ff,#0ff,#0ff,#0ff,#0ff,#0ff,#0ff,#0ff,#0ff,#0ff,#0ff,#0ff,#0ff,#0ff,#0ff,#0ff,#0ff,#0ff,#0ff,#0ff,#0fd,#0fb,#00ff9d,#00ff73,#00ff3f,#00ff0b,#2fff00,#6dff00,#b7ff00,#ff0,#fa0,#ff0a00,#ff00a0,#f0f,#f0f,#f0f,#f0f,#f0f,#f0f,#f0f)"></i>
<i style="background:linear-gradient(#0ff,#0ff,#0ff,#0ff,#0ff,#00fff8,#00ffd3,#00ffaf,#0f8,#0f7,#0f6,#0f5,#0f4,#00ff6e,#0f9,#0fc,#00fff8,#0ff,#0ff,#0ff,#00f7ff,#00e7ff,#00e3ff,#0df,#0df,#00c8ff,#07f,#0037ff,#0037ff,#0037ff,#0037ff,#0037ff,#0038ff,#008eff,#00e4ff,#0ff,#0ff,#0ff,#0ff,#0ff,#0ff,#0ff,#0ff,#0ff,#0ff,#0ff,#0ff,#0ff,#0ff,#0ff,#0ff,#0ff,#0ff,#0ff,#0ff,#0ff,#0ff,#0ff,#0ff,#0ff,#0ff,#00ffe1,#00ffc1,#00ffa0,#0f7,#0f4,#0f1,#29ff00,#6f0,#af0,#ff0,#fb0,#ff1900,#ff008f,#f0f,#f0f,#f0f,#f0f,#f0f,#f0f,#f0f)"></i>
<i style="background:linear-gradient(#0ff,#0ff,#0ff,#0ff,#0ff,#00fff8,#00ffd3,#00ffaf,#0f8,#00ff6c,#00ff4d,#00ff2e,#0f1,#0f4,#00ff7f,#00ffb7,#0fe,#0ff,#0ff,#0ff,#00f7ff,#00e7ff,#00e3ff,#0df,#0df,#00c8ff,#07f,#03f,#03f,#03f,#03f,#03f,#03f,#08f,#00e3ff,#0ff,#0ff,#0ff,#0ff,#0ff,#0ff,#0ff,#0ff,#0ff,#0ff,#0ff,#0ff,#0ff,#0ff,#0ff,#0ff,#0ff,#0ff,#0ff,#0ff,#0ff,#0ff,#0ff,#0ff,#0ff,#0ff,#0fd,#0fb,#00ff9d,#0f7,#00ff40,#00ff0c,#2eff00,#6cff00,#b5ff00,#ff0,#ffb000,#ff0c00,#ff009d,#f0f,#f0f,#f0f,#f0f,#f0f,#f0f,#f0f)"></i>
<i style="background:linear-gradient(#0ff,#0ff,#0ff,#0ff,#0ff,#00fff8,#00ffd3,#00ffaf,#0f8,#00ff6c,#00ff4d,#00ff2e,#0f1,#0f4,#00ff7f,#00ffb7,#0fe,#0ff,#0ff,#0ff,#00f7ff,#00e7ff,#00e3ff,#0df,#0df,#0cf,#007eff,#04f,#04f,#04f,#04f,#04f,#04f,#0095ff,#00e6ff,#0ff,#0ff,#0ff,#0ff,#0ff,#0ff,#0ff,#0ff,#0ff,#0ff,#0ff,#0ff,#0ff,#0ff,#0ff,#0ff,#0ff,#0ff,#0ff,#0ff,#0ff,#0ff,#0ff,#0ff,#0ff,#00fff5,#00ffd4,#00ffb3,#00ff92,#0f6,#00ff2f,#05ff00,#4f0,#81ff00,#df0,#ff0,#f70,#ff002a,#ff00d6,#f0f,#f0f,#f0f,#f0f,#f0f,#f0f,#f0f)"></i>
<i style="background:linear-gradient(#0ff,#0ff,#0ff,#0ff,#0ff,#00fff8,#00ffd4,#00ffaf,#0f8,#0f7,#0f6,#0f5,#0f4,#00ff70,#00ff9d,#0fc,#00fff8,#0ff,#0ff,#0ff,#00f7ff,#00e8ff,#00e4ff,#0df,#0df,#00d0ff,#00a1ff,#0080ff,#0081ff,#0083ff,#0084ff,#08f,#08f,#0bf,#0ef,#0ff,#0ff,#0ff,#0ff,#0ff,#0ff,#0ff,#0ff,#0ff,#0ff,#0ff,#0ff,#0ff,#0ff,#0ff,#0ff,#0ff,#0ff,#0ff,#0ff,#0ff,#0ff,#0ff,#0ff,#0fe,#00ffd0,#00ffaf,#00ff8f,#00ff5d,#00ff29,#0cff00,#4aff00,#8f0,#e6ff00,#ff0,#f60,#ff003b,#ff00e6,#f0f,#f0f,#f0f,#f0f,#f0f,#f0f,#f0f,#f0f)"></i>
<i style="background:linear-gradient(#0ff,#0ff,#0ff,#0ff,#0ff,#00fff9,#00ffd4,#00ffb1,#00ff8d,#0f8,#00ff82,#00ff7f,#00ff7c,#00ff9e,#00ffc0,#00ffe2,#0ff,#0ff,#0ff,#0ff,#00fbff,#0ef,#0ef,#00e6ff,#0df,#00d8ff,#0af,#00a4ff,#0af,#0af,#0af,#0af,#00b0ff,#00c5ff,#0df,#00e6ff,#00e9ff,#0ef,#0ef,#00f2ff,#00f5ff,#00f8ff,#0ff,#0ff,#0ff,#0ff,#0ff,#0ff,#0ff,#0ff,#0ff,#0ff,#0ff,#0ff,#0ff,#0ff,#0fe,#0fc,#0fa,#00ff8e,#0f6,#0f3,#00ff05,#3f0,#71ff00,#bf0,#ff0,#ffb200,#ff1a00,#ff0084,#f0d,#f0e,#f0f,#f0f,#f0f,#f0f,#f0f,#f0f,#f0f,#f0f,#f0f)"></i>
<i style="background:linear-gradient(#00b2ff,#0bf,#0cf,#0ff,#0ff,#00ffe8,#00ffb3,#00ff90,#00ff6e,#00ff5f,#00ff5a,#0f6,#00ff73,#00ff8e,#00ffaf,#0fd,#0ff,#0ff,#0ff,#0ff,#0ff,#0ff,#0ff,#0ff,#00f6ff,#00e7ff,#0df,#0df,#0df,#0df,#0df,#00e4ff,#0ef,#0ff,#0ff,#0ff,#00fff5,#00ffd3,#00ffb0,#00ff8d,#00ff6c,#00ff4c,#00ff37,#0f3,#00ff2e,#00ff1d,#0f1,#00ff0b,#0f0,#06ff00,#0bff00,#0cff00,#0dff00,#2f0,#3f0,#4f0,#5f0,#6f0,#81ff00,#a1ff00,#c2ff00,#e6ff00,#ff0,#ff0,#ffc200,#ff5c00,#f00,#f06,#ff007e,#ff0094,#f0a,#ff00c0,#ff00d8,#f0e,#f0f,#f0f,#f0f,#f0f,#f0f,#f0f,#f0f)"></i>
<i style="background:linear-gradient(#00a0ff,#0af,#00b2ff,#00faff,#0ff,#00ffc1,#00ff73,#00ff51,#0f3,#0f1,#00ff08,#0f2,#00ff39,#0f5,#00ff7c,#0fb,#00fff5,#00fff7,#00fff9,#0ff,#0ff,#0ff,#0ff,#0ff,#0ff,#0ff,#0ff,#0ff,#0ff,#0ff,#0ff,#0ff,#0ff,#0ff,#00ffe6,#00ffaf,#00ff6b,#00ff26,#1eff00,#6f0,#af0,#ef0,#ff0,#ff0,#ff0,#ff0,#ef0,#f2ff00,#ff0,#ff0,#ff0,#ef0,#df0,#cf0,#c5ff00,#bf0,#b6ff00,#afff00,#af0,#b6ff00,#c4ff00,#d3ff00,#e2ff00,#ff0,#ff0,#fff300,#fc0,#ffa500,#ff8200,#f60,#ff4e00,#f30,#ff1a00,#f00,#f02,#ff003e,#ff005e,#ff007e,#ff009f,#f0b,#f0d)"></i>
<i style="background:linear-gradient(#00d3ff,#0df,#00e3ff,#0ff,#0ff,#0ff,#0fd,#0fb,#0f9,#00ff7b,#00ff6f,#00ff80,#00ff91,#00ffa3,#00ffc5,#0ff,#0ff,#0ff,#0ef,#00e7ff,#0df,#00d8ff,#00d1ff,#0cf,#00c2ff,#0af,#09f,#0094ff,#0091ff,#00b3ff,#00d4ff,#00e5ff,#00f6ff,#0ff,#0ff,#00ffe5,#00ffa4,#0f6,#00ff1d,#28ff00,#6f0,#af0,#d4ff00,#df0,#e5ff00,#df0,#cf0,#cf0,#cf0,#cf0,#c0ff00,#9f0,#71ff00,#4dff00,#37ff00,#2f0,#0cff00,#00ff09,#00ff1e,#00ff15,#00ff0c,#0f0,#07ff00,#3f0,#62ff00,#8fff00,#af0,#bf0,#d4ff00,#eaff00,#ff0,#ff0,#ff0,#ff0,#ff0,#ff0,#fe0,#fd0,#fc0,#fb0,#ffa400)"></i>
<i style="background:linear-gradient(#0ff,#0ff,#0ff,#0ff,#0ff,#00ffd7,#00ff91,#00ff71,#00ff51,#0f3,#00ff27,#00ff3f,#0f5,#00ff6e,#00ff95,#00ffd1,#0ff,#0ff,#0ff,#0ff,#0ff,#0ff,#0ff,#0ff,#0ff,#00f8ff,#00e9ff,#00e9ff,#00e9ff,#0ff,#0ff,#0ff,#0ff,#0ff,#0fe,#00ffb6,#00ff6f,#00ff28,#1eff00,#6f0,#af0,#ef0,#ff0,#ff0,#ff0,#ff0,#e1ff00,#e1ff00,#e1ff00,#e1ff00,#d3ff00,#b1ff00,#8fff00,#70ff00,#5cff00,#48ff00,#3f0,#2f0,#0dff00,#1f0,#1cff00,#2f0,#2aff00,#5f0,#7bff00,#a4ff00,#bf0,#cf0,#e2ff00,#f5ff00,#ff0,#ff0,#ff0,#ff0,#ff0,#ff0,#ffe900,#ffd600,#ffc300,#ffaf00,#f90)"></i>
<i style="background:linear-gradient(#0ff,#0ff,#0ff,#0ff,#0ff,#0fc,#00ff7f,#00ff5e,#00ff3e,#00ff1e,#00ff15,#00ff2e,#00ff48,#00ff61,#0f8,#00ffc5,#0ff,#0ff,#0ff,#0ff,#0ff,#0ff,#0ff,#0ff,#0ff,#0ff,#00f9ff,#00f4ff,#0ef,#0ef,#0ef,#0ff,#0ff,#0ff,#0ff,#00ffd1,#00ff8e,#00ff4a,#00ff05,#4f0,#84ff00,#c7ff00,#ef0,#f8ff00,#ff0,#f9ff00,#ef0,#ef0,#ef0,#ef0,#e5ff00,#cf0,#af0,#91ff00,#7fff00,#6eff00,#5cff00,#4bff00,#39ff00,#3fff00,#4f0,#4aff00,#50ff00,#7f0,#9f0,#c0ff00,#d6ff00,#e8ff00,#faff00,#ff0,#ff0,#ff0,#ff0,#ff0,#fff900,#ffe500,#ffd000,#fb0,#ffa600,#ff9100,#ff7c00)"></i>
<i style="background:linear-gradient(#00d4ff,#0df,#00e4ff,#0ff,#0ff,#0fe,#0fb,#0f9,#00ff7c,#00ff5c,#00ff51,#0f6,#0f7,#00ff8d,#00ffb1,#0fe,#0ff,#0ff,#0ff,#0ff,#0ff,#00fbff,#00f4ff,#0ef,#00e5ff,#0cf,#0bf,#00bfff,#00c1ff,#0bf,#00b0ff,#00c5ff,#0df,#00faff,#0ff,#0ff,#00ffc3,#0f8,#00ff3f,#04ff00,#4f0,#7fff00,#af0,#b4ff00,#c0ff00,#e5ff00,#ff0,#ff0,#ff0,#ff0,#fbff00,#e4ff00,#cf0,#bf0,#af0,#9f0,#8f0,#7bff00,#6bff00,#70ff00,#7f0,#7f0,#7cff00,#9eff00,#bfff00,#df0,#f5ff00,#ff0,#ff0,#ff0,#ff0,#ff0,#ff0,#fff200,#fd0,#fc0,#ffb200,#f90,#ff8300,#ff6e00,#ff5900)"></i>
<i style="background:linear-gradient(#009eff,#00a6ff,#0af,#0ef,#0ff,#0ff,#00ffe2,#00ffc2,#00ffa2,#00ff82,#0f7,#0f8,#0f9,#0fa,#0fc,#0ff,#0ff,#00faff,#00e9ff,#00e1ff,#0df,#00d3ff,#0cf,#00c5ff,#0bf,#00a4ff,#0094ff,#0094ff,#0094ff,#0af,#0bf,#00d1ff,#00e4ff,#0ff,#0ff,#00fff6,#00ffb7,#0f7,#0f3,#1f0,#4fff00,#8eff00,#bf0,#c2ff00,#cf0,#e8ff00,#ff0,#ff0,#ff0,#ff0,#f5ff00,#df0,#c4ff00,#aeff00,#9eff00,#8eff00,#7eff00,#6eff00,#5eff00,#62ff00,#6f0,#6cff00,#70ff00,#93ff00,#b5ff00,#d8ff00,#ef0,#ff0,#ff0,#ff0,#ff0,#ff0,#ff0,#fff900,#ffe400,#ffd000,#fb0,#ffa300,#ff8c00,#f70,#ff6200)"></i>
<i style="background:linear-gradient(#0083ff,#08f,#0093ff,#00e4ff,#0ff,#00fff9,#0fc,#0fa,#00ff8c,#00ff6c,#00ff60,#00ff73,#0f8,#0f9,#0fb,#00fff8,#0ff,#0ff,#0ff,#00faff,#00f2ff,#0ef,#00e4ff,#0df,#00d6ff,#0bf,#0af,#00a4ff,#009eff,#00c1ff,#00e3ff,#00f2ff,#0ff,#0ff,#0ff,#0fd,#0f9,#0f5,#0f1,#3f0,#7f0,#b7ff00,#e2ff00,#eaff00,#ef0,#ef0,#e7ff00,#e7ff00,#e7ff00,#e7ff00,#df0,#bf0,#9f0,#7cff00,#6f0,#5f0,#4f0,#3f0,#1dff00,#2f0,#2aff00,#3f0,#38ff00,#5fff00,#8f0,#aeff00,#c5ff00,#d8ff00,#ef0,#ff0,#ff0,#ff0,#ff0,#ff0,#ff0,#fff400,#fd0,#fc0,#fb0,#ffa400,#ff8f00)"></i>
<i style="background:linear-gradient(#08f,#0092ff,#09f,#00e6ff,#0ff,#0fe,#0fb,#00ff9d,#00ff7d,#00ff5d,#0f5,#0f6,#00ff7b,#00ff8f,#00ffb3,#0fe,#0ff,#0ff,#0ff,#0ff,#0ff,#00fbff,#00f4ff,#0ef,#00e6ff,#0cf,#0bf,#00bfff,#00c1ff,#0ef,#0ff,#0ff,#0ff,#0ff,#00ffe6,#00ffae,#0f6,#00ff1e,#26ff00,#6cff00,#b2ff00,#f8ff00,#ff0,#ff0,#ff0,#ff0,#f8ff00,#f8ff00,#f8ff00,#f8ff00,#ef0,#d2ff00,#bf0,#9fff00,#8eff00,#7dff00,#6cff00,#5aff00,#49ff00,#4fff00,#5f0,#59ff00,#5fff00,#83ff00,#af0,#cf0,#e1ff00,#f3ff00,#ff0,#ff0,#ff0,#ff0,#ff0,#ff0,#fe0,#fd0,#ffc500,#ffaf00,#f90,#f80,#ff7000)"></i>
<i style="background:linear-gradient(#0090ff,#09f,#009fff,#00e8ff,#0ff,#0ff,#0fd,#0fb,#0f9,#00ff7c,#00ff70,#00ff82,#00ff94,#00ffa5,#00ffc8,#0ff,#0ff,#0ff,#0ef,#00eaff,#00e3ff,#0df,#00d5ff,#0cf,#00c6ff,#0af,#00a1ff,#0af,#00afff,#009eff,#008dff,#00a6ff,#00bfff,#0df,#0ff,#0ff,#00ffe1,#00ffa5,#00ff61,#0f2,#1aff00,#5f0,#7cff00,#8f0,#9f0,#c1ff00,#df0,#df0,#df0,#df0,#d3ff00,#b0ff00,#8eff00,#6fff00,#5bff00,#4f0,#3f0,#1eff00,#0aff00,#1f0,#19ff00,#2f0,#28ff00,#51ff00,#7f0,#a3ff00,#bf0,#cf0,#e1ff00,#f4ff00,#ff0,#ff0,#ff0,#ff0,#ff0,#ff0,#ffea00,#ffd700,#ffc400,#ffb000,#f90)"></i>
<i style="background:linear-gradient(#07f,#0081ff,#08f,#0df,#0ff,#00fffa,#0fc,#0fa,#00ff8d,#00ff6e,#0f6,#0f7,#0f8,#0f9,#0fb,#00fff9,#0ff,#0ff,#0ff,#00fbff,#00f4ff,#0ef,#00e5ff,#0df,#00d7ff,#0bf,#0af,#0af,#00a2ff,#0cf,#0ef,#0ff,#0ff,#0ff,#0ff,#0fc,#0f8,#0f4,#00ff04,#40ff00,#82ff00,#c4ff00,#ef0,#f5ff00,#ff0,#f5ff00,#eaff00,#eaff00,#eaff00,#eaff00,#df0,#bf0,#9fff00,#82ff00,#6fff00,#5cff00,#49ff00,#3f0,#2f0,#2aff00,#3f0,#37ff00,#3eff00,#6f0,#8cff00,#b3ff00,#cf0,#df0,#ef0,#ff0,#ff0,#ff0,#ff0,#ff0,#ff0,#fe0,#fd0,#ffc700,#ffb300,#ff9e00,#f80)"></i>
<i style="background:linear-gradient(#05f,#005cff,#06f,#00d1ff,#0ff,#0fe,#00ffb1,#00ff92,#0f7,#0f5,#00ff4b,#00ff60,#0f7,#0f8,#00ffae,#00ffe9,#0ff,#0ff,#0ff,#0ff,#0ff,#0ff,#0ff,#00faff,#00f3ff,#00d9ff,#00c8ff,#00c7ff,#00c6ff,#00e4ff,#0ff,#0ff,#0ff,#0ff,#00fff6,#00ffbf,#0f7,#0f3,#1f0,#5f0,#9f0,#df0,#ff0,#ff0,#ff0,#ff0,#ff0,#ff0,#ff0,#ff0,#ff0,#ef0,#df0,#cf0,#bf0,#af0,#9dff00,#8eff00,#7fff00,#83ff00,#8f0,#8f0,#8eff00,#aeff00,#cf0,#ef0,#ff0,#ff0,#ff0,#ff0,#ff0,#ff0,#fffa00,#ffe500,#ffd100,#fb0,#ffa500,#ff8c00,#f70,#ff5e00,#ff4a00)"></i>
<i style="background:linear-gradient(#003bff,#04f,#004aff,#00c7ff,#0ff,#0ff,#0fc,#00ffaf,#00ff91,#00ff73,#0f6,#00ff7b,#00ff8e,#00ffa0,#00ffc3,#0ff,#0ff,#0ff,#0ff,#00f9ff,#00f2ff,#0ef,#00e4ff,#0df,#00d6ff,#0bf,#0af,#0af,#00a5ff,#0cf,#00f6ff,#0ff,#0ff,#0ff,#0ff,#00ffc8,#00ff84,#00ff3f,#0f0,#4f0,#8f0,#cf0,#f5ff00,#ff0,#ff0,#ff0,#ff0,#ff0,#ff0,#ff0,#ff0,#ef0,#df0,#c6ff00,#b7ff00,#af0,#9f0,#8f0,#7bff00,#7fff00,#83ff00,#8f0,#8f0,#af0,#cf0,#ef0,#ff0,#ff0,#ff0,#ff0,#ff0,#ff0,#ff0,#ffe700,#ffd200,#fb0,#ffa600,#ff8e00,#f70,#ff6000,#ff4c00)"></i>
<i style="background:linear-gradient(#03f,#0039ff,#0040ff,#00c3ff,#0ff,#0fe,#00ffb0,#00ff92,#0f7,#0f5,#00ff4e,#0f6,#0f7,#00ff8d,#00ffb1,#00ffea,#0ff,#0ff,#0ff,#0ff,#0ff,#0ff,#0ff,#0ff,#00f7ff,#0df,#0cf,#00d0ff,#00d4ff,#00fbff,#0ff,#0ff,#0ff,#0ff,#0fd,#00ffa6,#00ff5d,#00ff15,#2eff00,#72ff00,#b7ff00,#ff0,#ff0,#ff0,#ff0,#ff0,#ff0,#ff0,#ff0,#ff0,#ff0,#ff0,#f7ff00,#e8ff00,#df0,#cf0,#c1ff00,#b5ff00,#af0,#af0,#af0,#afff00,#b2ff00,#cf0,#ef0,#ff0,#ff0,#ff0,#ff0,#ff0,#ff0,#fff600,#ffe300,#fc0,#fb0,#ffa500,#ff8c00,#ff7200,#f50,#f40,#ff2d00)"></i>
<i style="background:linear-gradient(#002fff,#0037ff,#003fff,#00c1ff,#0ff,#00ffd1,#00ff82,#0f6,#00ff48,#00ff2b,#0f2,#00ff3c,#0f5,#00ff6e,#00ff94,#0fc,#0ff,#0ff,#0ff,#0ff,#0ff,#0ff,#0ff,#0ff,#0ff,#0ff,#00f9ff,#00faff,#0ff,#00d6ff,#00b1ff,#00c8ff,#0df,#0ff,#0ff,#00fffb,#0fb,#00ff7e,#00ff3c,#04ff00,#3fff00,#7bff00,#a4ff00,#b1ff00,#bf0,#d0ff00,#df0,#df0,#df0,#df0,#cf0,#af0,#8f0,#6f0,#5f0,#3dff00,#28ff00,#1f0,#0f0,#06ff00,#1f0,#16ff00,#1eff00,#48ff00,#73ff00,#9dff00,#b5ff00,#cf0,#df0,#ef0,#ff0,#ff0,#ff0,#ff0,#ff0,#ff0,#fe0,#fd0,#fc0,#ffb600,#ffa200)"></i>
<i style="background:linear-gradient(#03f,#003dff,#04f,#00c3ff,#0ff,#0fe,#00ffb7,#0f9,#00ff7f,#0f6,#00ff5a,#00ff6f,#00ff83,#0f9,#0fb,#00fff2,#0ff,#0ff,#0ff,#0ff,#0ff,#0ff,#0ff,#00f9ff,#00f2ff,#00d6ff,#00c3ff,#00c2ff,#00c0ff,#0df,#00f8ff,#0ff,#0ff,#0ff,#00fffa,#00ffc3,#00ff7d,#00ff39,#08ff00,#4aff00,#8cff00,#cf0,#f7ff00,#ff0,#ff0,#ff0,#f2ff00,#f2ff00,#f2ff00,#f2ff00,#e6ff00,#cf0,#af0,#92ff00,#80ff00,#6dff00,#5aff00,#48ff00,#3f0,#3bff00,#4f0,#48ff00,#4eff00,#7f0,#9f0,#c1ff00,#d7ff00,#e9ff00,#ff0,#ff0,#ff0,#ff0,#ff0,#ff0,#fff800,#ffe400,#fc0,#fb0,#ffa400,#ff9000,#ff7b00)"></i>
<i style="background:linear-gradient(#0061ff,#06f,#0070ff,#00d2ff,#0ff,#0ff,#0fd,#00ffc5,#0fa,#00ff8f,#0f8,#0f9,#0fa,#0fb,#00ffd9,#0ff,#0ff,#0ff,#0ef,#00eaff,#00e4ff,#0df,#00d6ff,#00d0ff,#0cf,#00afff,#009fff,#00a0ff,#00a0ff,#0af,#00b3ff,#0cf,#00e4ff,#0ff,#0ff,#00fff5,#00ffb7,#0f7,#00ff37,#09ff00,#4f0,#80ff00,#af0,#b5ff00,#c2ff00,#e2ff00,#ff0,#ff0,#ff0,#ff0,#f3ff00,#df0,#c1ff00,#af0,#9f0,#8f0,#7f0,#6f0,#5f0,#5f0,#5eff00,#6f0,#6f0,#8cff00,#b0ff00,#d4ff00,#eaff00,#fbff00,#ff0,#ff0,#ff0,#ff0,#ff0,#ff0,#ffe700,#ffd300,#fb0,#ffa600,#ff9000,#f70,#f60)"></i>
<i style="background:linear-gradient(#00b7ff,#0bf,#00c6ff,#0ef,#0ff,#0ff,#00ffd7,#0fb,#00ffa3,#0f8,#00ff81,#00ff93,#00ffa5,#00ffb7,#00ffd7,#0ff,#0ff,#0ff,#0ff,#00f6ff,#0ef,#00e9ff,#00e3ff,#0df,#00d5ff,#0bf,#0af,#0af,#0af,#00d7ff,#0ff,#0ff,#0ff,#0ff,#0fe,#00ffb6,#00ff6f,#00ff2a,#16ff00,#5f0,#9f0,#df0,#ff0,#ff0,#ff0,#ff0,#ef0,#ef0,#ef0,#ef0,#e1ff00,#c3ff00,#a4ff00,#8f0,#7f0,#61ff00,#4dff00,#3aff00,#26ff00,#2dff00,#3f0,#3bff00,#4f0,#6f0,#91ff00,#bf0,#cf0,#e1ff00,#f4ff00,#ff0,#ff0,#ff0,#ff0,#ff0,#ff0,#fe0,#ffd600,#ffc200,#fa0,#f90,#ff8400)"></i>
<i style="background:linear-gradient(#00b7ff,#0bf,#00c6ff,#0ef,#0ff,#0ff,#00ffd2,#0fb,#00ffa2,#0f8,#00ff82,#00ff94,#0fa,#0fb,#00ffd8,#0ff,#0ff,#0ff,#0ff,#0ff,#00f7ff,#0ef,#00eaff,#00e4ff,#0df,#00c0ff,#0af,#0af,#00a4ff,#00bfff,#0df,#0ef,#0ff,#0ff,#0ff,#00ffd2,#00ff8e,#00ff4b,#00ff0c,#3f0,#72ff00,#b1ff00,#df0,#e4ff00,#ef0,#fbff00,#ff0,#ff0,#ff0,#ff0,#fbff00,#e4ff00,#cf0,#bf0,#af0,#9f0,#8f0,#7f0,#6f0,#6f0,#6eff00,#73ff00,#7f0,#9f0,#bf0,#df0,#f5ff00,#ff0,#ff0,#ff0,#ff0,#ff0,#ff0,#fe0,#fd0,#ffc800,#ffb200,#f90,#ff8300,#ff6d00,#ff5900)"></i>
<i style="background:linear-gradient(#0061ff,#06f,#0070ff,#0cf,#0ff,#0ff,#00ffe9,#00ffd3,#0fb,#00ffa6,#00ff9f,#00ffaf,#00ffc0,#00ffd0,#0fe,#0ff,#0ff,#00f8ff,#0ef,#00e8ff,#00e2ff,#0df,#00d5ff,#0cf,#0cf,#0af,#09f,#09f,#09f,#00c6ff,#0ef,#0ff,#0ff,#0ff,#00fff5,#0fb,#0f7,#0f3,#0cff00,#4cff00,#8cff00,#cf0,#f7ff00,#ff0,#ff0,#ff0,#f6ff00,#f6ff00,#f6ff00,#f6ff00,#ef0,#cf0,#b4ff00,#9f0,#8f0,#7f0,#61ff00,#4eff00,#3cff00,#4f0,#48ff00,#4fff00,#5f0,#7bff00,#a1ff00,#c7ff00,#df0,#ef0,#ff0,#ff0,#ff0,#ff0,#ff0,#ff0,#fff300,#fd0,#fc0,#ffb300,#ff9e00,#f80,#f70)"></i>
<i style="background:linear-gradient(#03f,#003dff,#04f,#0bf,#0ff,#0ff,#0fd,#0fc,#00ffb7,#00ffa3,#00ff9d,#00ffae,#00ffc0,#00ffd1,#0fe,#0ff,#0ff,#0ff,#00fbff,#00f5ff,#0ef,#00e9ff,#00e3ff,#0df,#00d7ff,#00b7ff,#00a5ff,#0af,#0af,#00a0ff,#0095ff,#00b6ff,#00d8ff,#00fbff,#0ff,#0ff,#00ffc3,#0f8,#0f4,#00ff0a,#2eff00,#6f0,#8fff00,#9eff00,#aeff00,#e5ff00,#ff0,#ff0,#ff0,#ff0,#ff0,#ff0,#ef0,#df0,#cf0,#bf0,#afff00,#a0ff00,#91ff00,#95ff00,#9f0,#9f0,#a0ff00,#bfff00,#df0,#ff0,#ff0,#ff0,#ff0,#ff0,#ff0,#ff0,#fe0,#ffd700,#ffc300,#ffae00,#f90,#ff7c00,#f60,#ff4d00,#ff3800)"></i>
<i style="background:linear-gradient(#002fff,#03f,#003eff,#00b4ff,#0ff,#0ff,#0ff,#0ff,#0fe,#0fd,#00ffd9,#00ffe6,#00fff2,#0ff,#0ff,#0ff,#0df,#00d3ff,#00c6ff,#00c0ff,#0bf,#00b5ff,#00afff,#0af,#00a3ff,#08f,#007eff,#0083ff,#08f,#08f,#08f,#00aeff,#00d3ff,#00f6ff,#0ff,#0ff,#00ffc7,#0f8,#00ff4d,#0f1,#26ff00,#5eff00,#8f0,#9f0,#a6ff00,#e3ff00,#ff0,#ff0,#ff0,#ff0,#ff0,#ff0,#ef0,#e1ff00,#d3ff00,#c4ff00,#b5ff00,#af0,#9f0,#9f0,#9fff00,#a3ff00,#a6ff00,#c5ff00,#e4ff00,#ff0,#ff0,#ff0,#ff0,#ff0,#ff0,#fffb00,#ffe700,#ffd300,#fb0,#fa0,#ff9100,#f70,#ff5e00,#f40,#f30)"></i>
<i style="background:linear-gradient(#002eff,#03f,#003eff,#00b1ff,#0ff,#0ff,#00ffe1,#00ffd2,#00ffc2,#00ffb2,#00ffb0,#00ffc1,#00ffd2,#00ffe3,#0ff,#0ff,#0ff,#0ff,#0ff,#00faff,#00f5ff,#0ef,#00eaff,#00e5ff,#0df,#00b7ff,#009fff,#00a0ff,#00a1ff,#00c0ff,#0df,#0ff,#0ff,#0ff,#00fff5,#0fb,#0f7,#0f3,#09ff00,#4f0,#8f0,#c5ff00,#ef0,#f7ff00,#ff0,#ff0,#ff0,#ff0,#ff0,#ff0,#ff0,#f6ff00,#e4ff00,#d1ff00,#c1ff00,#b1ff00,#a1ff00,#91ff00,#82ff00,#8f0,#8f0,#8fff00,#93ff00,#b4ff00,#d5ff00,#f6ff00,#ff0,#ff0,#ff0,#ff0,#ff0,#ff0,#fff300,#fd0,#fc0,#ffb600,#ff9e00,#f80,#ff6c00,#f50,#f40)"></i>
<i style="background:linear-gradient(#002eff,#03f,#003eff,#00aeff,#00f7ff,#0ff,#0ff,#0ff,#0ff,#0ff,#0ff,#0ff,#0ff,#0ff,#0ff,#00e8ff,#00c2ff,#00b3ff,#00a3ff,#009eff,#09f,#0094ff,#008fff,#08f,#0084ff,#0070ff,#0062ff,#0060ff,#005dff,#008eff,#00c0ff,#00e2ff,#0ff,#0ff,#0ff,#00ffd1,#00ff8e,#00ff4c,#0f1,#2cff00,#6f0,#a4ff00,#cf0,#d8ff00,#e4ff00,#ff0,#ff0,#ff0,#ff0,#ff0,#ff0,#ff0,#ef0,#df0,#cf0,#c0ff00,#b1ff00,#a1ff00,#92ff00,#9f0,#9f0,#9eff00,#a2ff00,#c2ff00,#e1ff00,#ff0,#ff0,#ff0,#ff0,#ff0,#ff0,#ff0,#ffe900,#ffd500,#ffc000,#fa0,#ff9300,#f70,#ff6000,#ff4a00,#f30)"></i>
<i style="background:linear-gradient(#002eff,#03f,#003eff,#0af,#00f2ff,#0ff,#0ff,#0ff,#0ff,#0ff,#0ff,#0ff,#0ff,#0ff,#0ff,#00e2ff,#00c0ff,#00b3ff,#00a6ff,#00a1ff,#09f,#09f,#0093ff,#008eff,#08f,#0071ff,#06f,#06f,#006dff,#07f,#0082ff,#00aeff,#0df,#0ff,#0ff,#0ff,#0fb,#00ff80,#0f4,#00ff0b,#2cff00,#62ff00,#8f0,#9f0,#af0,#eaff00,#ff0,#ff0,#ff0,#ff0,#ff0,#ff0,#ff0,#f4ff00,#e6ff00,#d8ff00,#cf0,#bf0,#aeff00,#b1ff00,#b4ff00,#b7ff00,#bf0,#d8ff00,#f6ff00,#ff0,#ff0,#ff0,#ff0,#ff0,#ff0,#fe0,#ffd900,#ffc500,#ffb000,#f90,#ff8200,#f60,#ff4d00,#f30,#f20)"></i>
<i style="background:linear-gradient(#002eff,#03f,#003eff,#0af,#0ef,#0ff,#0ff,#0ff,#0ff,#0ff,#0ff,#0ff,#0ff,#0ff,#0ff,#00e1ff,#00c3ff,#0bf,#00b0ff,#0af,#0af,#00a3ff,#009eff,#09f,#0095ff,#07f,#06f,#06f,#06f,#007cff,#0091ff,#0bf,#00eaff,#0ff,#0ff,#0fe,#0fa,#00ff6b,#0f3,#09ff00,#4f0,#7f0,#a0ff00,#afff00,#bfff00,#e6ff00,#ff0,#ff0,#ff0,#ff0,#ff0,#e8ff00,#d2ff00,#bf0,#af0,#9f0,#8f0,#7f0,#6f0,#6f0,#6eff00,#7f0,#7f0,#9dff00,#c0ff00,#e4ff00,#f9ff00,#ff0,#ff0,#ff0,#ff0,#ff0,#ff0,#fe0,#ffd900,#ffc500,#ffae00,#f90,#ff7f00,#f60,#f50)"></i>
<i style="background:linear-gradient(#002eff,#03f,#003eff,#00a4ff,#0ef,#0ff,#0ff,#0ff,#0ff,#0ff,#0ff,#0ff,#0ff,#0ff,#0ff,#0ef,#00d7ff,#00d6ff,#00d4ff,#00d0ff,#0cf,#00c8ff,#00c3ff,#00bfff,#0bf,#08f,#006bff,#006aff,#06f,#008cff,#00afff,#0df,#0ff,#0ff,#0ff,#0fc,#0f8,#00ff49,#0f1,#2aff00,#6f0,#9fff00,#c7ff00,#d4ff00,#df0,#faff00,#ff0,#ff0,#ff0,#ff0,#ff0,#f2ff00,#df0,#cf0,#bf0,#af0,#9f0,#8f0,#7f0,#7f0,#7fff00,#84ff00,#8f0,#af0,#cf0,#ef0,#ff0,#ff0,#ff0,#ff0,#ff0,#ff0,#fff700,#ffe300,#fc0,#fb0,#ffa200,#f80,#ff7100,#ff5b00,#f40)"></i>
<i style="background:linear-gradient(#002eff,#03f,#003eff,#00a1ff,#00e8ff,#0ff,#0ff,#0ff,#0ff,#0ff,#0ff,#0ff,#0ff,#0ff,#00f2ff,#0df,#00c4ff,#00c1ff,#0bf,#0bf,#00b6ff,#00b2ff,#00aeff,#0af,#0af,#07f,#005fff,#06f,#06f,#09f,#0cf,#00f7ff,#0ff,#0ff,#0fe,#00ffb4,#00ff6c,#00ff28,#1f0,#4bff00,#8f0,#c5ff00,#ef0,#f8ff00,#ff0,#ff0,#ff0,#ff0,#ff0,#ff0,#f2ff00,#d9ff00,#c0ff00,#af0,#94ff00,#80ff00,#6cff00,#59ff00,#4f0,#4bff00,#5f0,#59ff00,#5fff00,#8f0,#af0,#d2ff00,#e8ff00,#faff00,#ff0,#ff0,#ff0,#ff0,#ff0,#ff0,#ffe800,#ffd400,#fb0,#fa0,#ff9100,#ff7c00,#f60)"></i>
<i style="background:linear-gradient(#002fff,#03f,#003eff,#009eff,#00e5ff,#0ff,#0ff,#0ff,#0ff,#0ff,#0ff,#0ff,#0ff,#0ff,#0ef,#0df,#00c8ff,#00c8ff,#00c8ff,#00c5ff,#00c1ff,#0bf,#0bf,#00b6ff,#00b2ff,#007bff,#0059ff,#005dff,#0060ff,#008eff,#0bf,#00eaff,#0ff,#0ff,#00fff3,#0fb,#0f7,#0f3,#06ff00,#3fff00,#7f0,#b6ff00,#df0,#e9ff00,#f4ff00,#ff0,#ff0,#ff0,#ff0,#ff0,#fbff00,#e4ff00,#cf0,#b7ff00,#a4ff00,#91ff00,#7eff00,#6bff00,#5f0,#5eff00,#6f0,#6aff00,#70ff00,#95ff00,#bf0,#df0,#f5ff00,#ff0,#ff0,#ff0,#ff0,#ff0,#ff0,#fff200,#fd0,#fc0,#ffb200,#f90,#ff8400,#ff6e00,#ff5900)"></i>
<i style="background:linear-gradient(#03f,#0038ff,#0040ff,#009dff,#0df,#00faff,#0ff,#0ff,#0ff,#0ff,#0ff,#0ff,#00f4ff,#00eaff,#0df,#0cf,#0bf,#0bf,#0bf,#00b7ff,#00b3ff,#00b0ff,#0af,#0af,#00a5ff,#006fff,#004dff,#004fff,#0051ff,#007eff,#0af,#0df,#0ff,#0ff,#0ff,#00ffc5,#00ff80,#00ff3e,#00ff07,#3f0,#6bff00,#a5ff00,#cf0,#d9ff00,#e6ff00,#ef0,#f5ff00,#f5ff00,#f5ff00,#f5ff00,#e9ff00,#cf0,#b2ff00,#9f0,#82ff00,#6dff00,#5f0,#4f0,#2dff00,#3f0,#3cff00,#4f0,#4cff00,#7f0,#9dff00,#c5ff00,#df0,#ef0,#ff0,#ff0,#ff0,#ff0,#ff0,#ff0,#fff400,#fd0,#fc0,#ffb500,#ff9f00,#f80,#f70)"></i>
<i style="background:linear-gradient(#003bff,#04f,#004aff,#009eff,#0df,#00f5ff,#0ff,#0ff,#0ff,#0ff,#0ff,#00f2ff,#00e9ff,#0df,#00d3ff,#00c5ff,#00b6ff,#00b7ff,#00b7ff,#00b3ff,#00b0ff,#0af,#0af,#00a6ff,#00a3ff,#006aff,#04f,#004aff,#004eff,#005eff,#006fff,#0af,#00e3ff,#0ff,#0ff,#0fe,#00ffb0,#00ff73,#00ff3d,#00ff08,#2cff00,#61ff00,#8f0,#9f0,#af0,#cf0,#e9ff00,#e9ff00,#e9ff00,#e9ff00,#df0,#bf0,#9eff00,#80ff00,#6f0,#5f0,#3cff00,#2f0,#1f0,#16ff00,#2f0,#28ff00,#3f0,#5bff00,#8f0,#b2ff00,#cf0,#df0,#ef0,#ff0,#ff0,#ff0,#ff0,#ff0,#ff0,#fe0,#fd0,#ffc800,#ffb400,#ff9f00,#f80)"></i>
<i style="background:linear-gradient(#005dff,#06f,#006cff,#0af,#0cf,#00c7ff,#00c3ff,#0bf,#00b7ff,#00b1ff,#0af,#0af,#00a5ff,#00a2ff,#09f,#008fff,#0083ff,#07f,#006cff,#06f,#06f,#06f,#0060ff,#005cff,#0059ff,#04f,#03f,#0038ff,#003bff,#0071ff,#0af,#0df,#0ff,#0ff,#00fff9,#00ffc2,#00ff7d,#00ff3b,#00ff06,#3f0,#6f0,#a2ff00,#cf0,#d6ff00,#e4ff00,#ef0,#ef0,#ef0,#ef0,#ef0,#e6ff00,#cf0,#af0,#91ff00,#7f0,#6f0,#4eff00,#38ff00,#2f0,#2aff00,#3f0,#3aff00,#4f0,#6cff00,#9f0,#bfff00,#d6ff00,#e8ff00,#fbff00,#ff0,#ff0,#ff0,#ff0,#ff0,#fff900,#ffe400,#fc0,#fb0,#ffa500,#ff9100,#ff7c00)"></i>
<i style="background:linear-gradient(#009fff,#0af,#00aeff,#00c0ff,#00d7ff,#00f3ff,#0ff,#0ff,#0ff,#00faff,#0ef,#00e8ff,#0df,#00d4ff,#0cf,#00c0ff,#00b5ff,#0bf,#0bf,#0bf,#00b5ff,#00b2ff,#00afff,#0af,#0af,#06f,#003bff,#003eff,#04f,#05f,#006fff,#0af,#00e8ff,#0ff,#0ff,#00ffea,#0fa,#00ff6c,#00ff38,#00ff04,#2fff00,#62ff00,#8f0,#9f0,#af0,#d5ff00,#f6ff00,#f6ff00,#f6ff00,#f6ff00,#ef0,#d0ff00,#b5ff00,#9f0,#8f0,#6fff00,#59ff00,#4f0,#2eff00,#3f0,#3dff00,#4f0,#4dff00,#7f0,#9fff00,#c8ff00,#df0,#ef0,#ff0,#ff0,#ff0,#ff0,#ff0,#ff0,#fe0,#fd0,#ffc700,#ffb200,#f90,#f80,#ff7300)"></i>
<i style="background:linear-gradient(#0df,#00e6ff,#0ef,#00d7ff,#00d2ff,#00e8ff,#0ff,#00f6ff,#0ef,#00e5ff,#0df,#00d5ff,#0cf,#00c4ff,#0bf,#00b2ff,#0af,#0af,#0af,#0af,#00a5ff,#00a3ff,#00a0ff,#009dff,#09f,#005cff,#03f,#003cff,#04f,#07f,#00b1ff,#00e7ff,#0ff,#0ff,#0fe,#00ffb6,#00ff6f,#00ff2c,#07ff00,#3cff00,#7f0,#af0,#d4ff00,#e1ff00,#ef0,#f8ff00,#ff0,#ff0,#ff0,#ff0,#f3ff00,#df0,#c1ff00,#af0,#94ff00,#7fff00,#6f0,#5f0,#3fff00,#4f0,#4eff00,#5f0,#5dff00,#84ff00,#af0,#d4ff00,#eaff00,#fbff00,#ff0,#ff0,#ff0,#ff0,#ff0,#ff0,#ffe700,#ffd300,#fb0,#ffa600,#ff9000,#f70,#f60)"></i>
<i style="background:linear-gradient(#0df,#00e6ff,#0ef,#00d6ff,#00d3ff,#0ef,#0ff,#0ff,#00f8ff,#0ef,#00e5ff,#0df,#00d3ff,#0cf,#00c1ff,#0bf,#00b1ff,#00b5ff,#0bf,#00b6ff,#00b3ff,#00b0ff,#0af,#0af,#0af,#005fff,#03f,#0038ff,#003dff,#0073ff,#0af,#0df,#0ff,#0ff,#00fff2,#0fb,#0f7,#0f3,#0f0,#3f0,#6bff00,#a2ff00,#cf0,#d7ff00,#e5ff00,#f3ff00,#faff00,#faff00,#faff00,#faff00,#ef0,#d6ff00,#bf0,#a3ff00,#8dff00,#7f0,#61ff00,#4bff00,#3f0,#3dff00,#4f0,#4dff00,#5f0,#7dff00,#a6ff00,#cf0,#e5ff00,#f7ff00,#ff0,#ff0,#ff0,#ff0,#ff0,#ff0,#fe0,#ffd700,#ffc100,#fa0,#ff9500,#ff8000,#ff6b00)"></i>
<i style="background:linear-gradient(#009fff,#0af,#00aeff,#0bf,#0cf,#0df,#0ef,#00e1ff,#00d7ff,#0cf,#00c4ff,#0bf,#00b7ff,#00b0ff,#0af,#00a2ff,#09f,#09f,#09f,#09f,#0095ff,#0092ff,#008fff,#008dff,#08f,#0050ff,#002bff,#002cff,#002dff,#05f,#07f,#00b7ff,#00f4ff,#0ff,#0ff,#0fd,#0f9,#00ff5d,#00ff2c,#05ff00,#38ff00,#6bff00,#90ff00,#a3ff00,#b5ff00,#e5ff00,#ff0,#ff0,#ff0,#ff0,#ff0,#ef0,#df0,#cf0,#b5ff00,#a2ff00,#8eff00,#7f0,#6f0,#6dff00,#73ff00,#7f0,#80ff00,#a5ff00,#cf0,#ef0,#ff0,#ff0,#ff0,#ff0,#ff0,#ff0,#fff900,#ffe400,#fc0,#fb0,#ffa300,#f80,#ff7300,#ff5d00,#ff4800)"></i>
<i style="background:linear-gradient(#005dff,#06f,#006cff,#00a4ff,#0bf,#0af,#09f,#0090ff,#08f,#007bff,#07f,#07f,#07f,#07f,#0072ff,#006cff,#06f,#05f,#004bff,#0048ff,#04f,#04f,#0040ff,#003eff,#003bff,#002dff,#0028ff,#002eff,#03f,#04f,#05f,#09f,#00d9ff,#0ff,#0ff,#00fff8,#0fb,#00ff7e,#00ff4e,#00ff1e,#1f0,#3fff00,#6f0,#7f0,#90ff00,#c3ff00,#ef0,#ef0,#ef0,#ef0,#e1ff00,#c2ff00,#a4ff00,#8f0,#6fff00,#5f0,#3fff00,#27ff00,#1f0,#18ff00,#2f0,#2aff00,#3f0,#5fff00,#8f0,#b7ff00,#cf0,#e1ff00,#f4ff00,#ff0,#ff0,#ff0,#ff0,#ff0,#ff0,#fe0,#ffd700,#ffc200,#ffae00,#f90,#ff8400)"></i>
<i style="background:linear-gradient(#003bff,#04f,#004aff,#09f,#0bf,#00a5ff,#008fff,#0083ff,#07f,#006dff,#06f,#06f,#06f,#006aff,#06f,#06f,#005dff,#004eff,#003fff,#003cff,#003aff,#0037ff,#03f,#03f,#002fff,#0028ff,#0028ff,#002fff,#0037ff,#0040ff,#0049ff,#008dff,#00d0ff,#00faff,#0ff,#0ff,#00ffc3,#0f8,#00ff5a,#00ff2c,#0f0,#2eff00,#5f0,#6aff00,#82ff00,#c7ff00,#ff0,#ff0,#ff0,#ff0,#f9ff00,#e1ff00,#cf0,#b3ff00,#9dff00,#8f0,#72ff00,#5cff00,#4f0,#4eff00,#5f0,#5dff00,#6f0,#8cff00,#b4ff00,#df0,#f2ff00,#ff0,#ff0,#ff0,#ff0,#ff0,#ff0,#fff400,#fd0,#fc0,#ffb500,#ff9e00,#f80,#ff7100,#ff5d00)"></i>
<i style="background:linear-gradient(#03f,#0038ff,#0040ff,#0092ff,#0bf,#0af,#09f,#008dff,#0082ff,#07f,#006fff,#0070ff,#0070ff,#0070ff,#006eff,#06f,#06f,#05f,#004aff,#04f,#04f,#04f,#003fff,#003dff,#003aff,#002cff,#0027ff,#002eff,#03f,#0040ff,#004aff,#008eff,#00d2ff,#0ff,#0ff,#0ff,#00ffc1,#0f8,#00ff59,#00ff2c,#0f0,#2dff00,#51ff00,#6f0,#81ff00,#c7ff00,#ff0,#ff0,#ff0,#ff0,#fbff00,#e4ff00,#cf0,#b6ff00,#a0ff00,#8f0,#7f0,#5fff00,#49ff00,#51ff00,#5f0,#60ff00,#6f0,#8fff00,#b7ff00,#df0,#f4ff00,#ff0,#ff0,#ff0,#ff0,#ff0,#ff0,#fff200,#fd0,#fc0,#ffb200,#f90,#ff8400,#ff6e00,#ff5a00)"></i>
<i style="background:linear-gradient(#002fff,#03f,#003eff,#0091ff,#00c0ff,#0bf,#00b2ff,#00a6ff,#09f,#008eff,#08f,#08f,#0083ff,#0081ff,#007eff,#07f,#07f,#006cff,#06f,#0060ff,#005eff,#005bff,#0059ff,#05f,#05f,#03f,#0026ff,#002bff,#03f,#006bff,#00a6ff,#0df,#0ff,#0ff,#0fe,#0fb,#00ff72,#0f3,#0f0,#2bff00,#5fff00,#93ff00,#bf0,#cf0,#df0,#ef0,#ff0,#ff0,#ff0,#ff0,#f5ff00,#df0,#c3ff00,#af0,#95ff00,#7eff00,#6f0,#50ff00,#3aff00,#4f0,#4aff00,#5f0,#5aff00,#83ff00,#af0,#d6ff00,#ef0,#ff0,#ff0,#ff0,#ff0,#ff0,#ff0,#fffa00,#ffe500,#ffd100,#fb0,#ffa400,#ff8d00,#f70,#f60)"></i>
<i style="background:linear-gradient(#002eff,#03f,#003eff,#0091ff,#0bf,#0af,#09f,#008dff,#0081ff,#07f,#006eff,#006eff,#006eff,#006eff,#006cff,#06f,#06f,#05f,#004bff,#0048ff,#04f,#04f,#04f,#003eff,#003cff,#002bff,#02f,#0027ff,#002bff,#0062ff,#09f,#00d4ff,#0ff,#0ff,#00fff9,#00ffc2,#00ff7d,#00ff3c,#0f1,#1dff00,#4fff00,#81ff00,#a6ff00,#bf0,#cf0,#e4ff00,#f6ff00,#f6ff00,#f6ff00,#f6ff00,#ef0,#d0ff00,#b5ff00,#9f0,#82ff00,#6aff00,#5f0,#3aff00,#2f0,#2bff00,#3f0,#3dff00,#4f0,#71ff00,#9f0,#c7ff00,#df0,#ef0,#ff0,#ff0,#ff0,#ff0,#ff0,#ff0,#fe0,#fd0,#ffc800,#ffb200,#f90,#f80,#ff7300)"></i>
<i style="background:linear-gradient(#002eff,#03f,#003eff,#0091ff,#00c7ff,#00d1ff,#0df,#0cf,#00c3ff,#00b6ff,#0af,#0af,#00a2ff,#009dff,#09f,#0094ff,#0090ff,#008eff,#008dff,#08f,#08f,#08f,#0083ff,#0080ff,#007eff,#04f,#02f,#02f,#0026ff,#05f,#08f,#00c7ff,#0ff,#0ff,#0ff,#0fc,#0f8,#00ff4a,#0f2,#0dff00,#3dff00,#6dff00,#92ff00,#a6ff00,#bf0,#e5ff00,#ff0,#ff0,#ff0,#ff0,#ff0,#eaff00,#d5ff00,#bfff00,#af0,#93ff00,#7dff00,#6f0,#51ff00,#5f0,#60ff00,#6f0,#6fff00,#9f0,#bfff00,#e6ff00,#ff0,#ff0,#ff0,#ff0,#ff0,#ff0,#ff0,#fe0,#ffd700,#ffc200,#fa0,#ff9300,#ff7c00,#f60,#ff5100)"></i>
<i style="background:linear-gradient(#002eff,#03f,#003eff,#0091ff,#00c3ff,#00c4ff,#00c5ff,#0bf,#0af,#00a0ff,#09f,#0094ff,#0090ff,#008cff,#08f,#08f,#0081ff,#007cff,#07f,#07f,#0072ff,#0070ff,#006dff,#006bff,#06f,#003dff,#02f,#0028ff,#002cff,#04f,#005dff,#00a0ff,#00e2ff,#0ff,#0ff,#0fe,#00ffaf,#0f7,#00ff4a,#0f2,#0bff00,#37ff00,#5aff00,#72ff00,#8f0,#cf0,#ff0,#ff0,#ff0,#ff0,#f8ff00,#df0,#cf0,#b1ff00,#9f0,#83ff00,#6cff00,#5f0,#3dff00,#4f0,#4eff00,#5f0,#5fff00,#8f0,#b1ff00,#df0,#ef0,#ff0,#ff0,#ff0,#ff0,#ff0,#ff0,#fff500,#ffe100,#fc0,#ffb600,#ff9f00,#f80,#ff7200,#ff5e00)"></i>
<i style="background:linear-gradient(#002eff,#03f,#003eff,#0090ff,#00c3ff,#00c4ff,#00c5ff,#0bf,#0af,#00a0ff,#09f,#0093ff,#008fff,#008cff,#08f,#0084ff,#0081ff,#007cff,#07f,#07f,#0072ff,#006fff,#006dff,#006bff,#06f,#003dff,#0027ff,#03f,#003dff,#03f,#002fff,#07f,#0bf,#00e8ff,#0ff,#0ff,#00ffd8,#00ffa0,#0f7,#00ff4f,#00ff29,#0f0,#2f0,#3dff00,#5aff00,#a3ff00,#e1ff00,#e1ff00,#e1ff00,#e1ff00,#d4ff00,#b2ff00,#90ff00,#6fff00,#5f0,#38ff00,#1dff00,#0f0,#00ff1a,#0f1,#00ff04,#07ff00,#1f0,#4f0,#73ff00,#a3ff00,#bf0,#cf0,#e3ff00,#f6ff00,#ff0,#ff0,#ff0,#ff0,#ff0,#ff0,#ffe900,#ffd500,#ffc200,#ffae00,#f90)"></i>
<i style="background:linear-gradient(#002eff,#03f,#003eff,#0091ff,#00c6ff,#0cf,#00d8ff,#0cf,#00bfff,#00b2ff,#0af,#00a3ff,#009eff,#09f,#0094ff,#0091ff,#008dff,#08f,#08f,#08f,#08f,#0082ff,#0080ff,#007dff,#007bff,#04f,#02f,#0028ff,#002eff,#04f,#05f,#09f,#0df,#0ff,#0ff,#00fff3,#00ffb3,#0f7,#00ff51,#00ff29,#0f0,#2aff00,#4dff00,#6f0,#80ff00,#bf0,#e8ff00,#e8ff00,#e8ff00,#e8ff00,#df0,#bf0,#9f0,#7dff00,#62ff00,#4f0,#2cff00,#1f0,#00ff0a,#0f0,#0cff00,#16ff00,#2f0,#50ff00,#80ff00,#afff00,#c7ff00,#df0,#ef0,#ff0,#ff0,#ff0,#ff0,#ff0,#ff0,#fff200,#fd0,#fc0,#ffb600,#ffa200,#ff8d00)"></i>
<i style="background:linear-gradient(#002eff,#03f,#003eff,#0091ff,#0cf,#00d9ff,#00e8ff,#0df,#0cf,#00c3ff,#0bf,#00b2ff,#0af,#00a4ff,#009eff,#09f,#09f,#09f,#09f,#09f,#0094ff,#0092ff,#008fff,#008dff,#08f,#004aff,#02f,#002cff,#03f,#003eff,#0049ff,#008eff,#00d3ff,#0ff,#0ff,#0ff,#00ffc0,#0f8,#00ff60,#00ff39,#0f1,#16ff00,#38ff00,#5f0,#6fff00,#bf0,#f8ff00,#f8ff00,#f8ff00,#f8ff00,#ef0,#d2ff00,#b7ff00,#9dff00,#84ff00,#6aff00,#51ff00,#38ff00,#2f0,#28ff00,#3f0,#3cff00,#4f0,#71ff00,#9dff00,#cf0,#e1ff00,#f3ff00,#ff0,#ff0,#ff0,#ff0,#ff0,#ff0,#fe0,#fd0,#ffc500,#ffb000,#f90,#f80,#ff7000)"></i>
<i style="background:linear-gradient(#002eff,#03f,#003eff,#0092ff,#0cf,#0df,#00f4ff,#00e7ff,#0df,#0cf,#00c3ff,#0bf,#00b2ff,#0af,#00a3ff,#00a0ff,#09f,#009fff,#00a1ff,#009eff,#09f,#09f,#09f,#0095ff,#0092ff,#004dff,#02f,#0027ff,#002cff,#04f,#005bff,#009eff,#00e1ff,#0ff,#0ff,#0fe,#00ffb1,#0f7,#00ff50,#00ff2a,#0f0,#27ff00,#4aff00,#6f0,#7eff00,#bfff00,#f5ff00,#f5ff00,#f5ff00,#f5ff00,#e9ff00,#cf0,#b2ff00,#9f0,#7dff00,#6f0,#49ff00,#2fff00,#15ff00,#2f0,#29ff00,#3f0,#3dff00,#6aff00,#9f0,#c4ff00,#df0,#ef0,#ff0,#ff0,#ff0,#ff0,#ff0,#ff0,#fff400,#fd0,#fc0,#ffb500,#ff9f00,#f80,#f70)"></i>
<i style="background:linear-gradient(#002eff,#03f,#003eff,#09f,#0cf,#0cf,#00c8ff,#0bf,#00b0ff,#00a4ff,#09f,#0093ff,#008dff,#08f,#0081ff,#007eff,#007bff,#07f,#006eff,#006cff,#06f,#06f,#06f,#0062ff,#0060ff,#0039ff,#02f,#002aff,#03f,#003fff,#004dff,#0091ff,#00d6ff,#0ff,#0ff,#00fffb,#0fb,#00ff84,#00ff5f,#00ff39,#0f1,#1f0,#3f0,#5f0,#6eff00,#c8ff00,#ff0,#ff0,#ff0,#ff0,#ff0,#ff0,#ef0,#df0,#c7ff00,#b1ff00,#9f0,#8f0,#70ff00,#7f0,#7fff00,#8f0,#8dff00,#b3ff00,#d9ff00,#ff0,#ff0,#ff0,#ff0,#ff0,#ff0,#ff0,#ffea00,#ffd500,#ffc100,#fa0,#ff9400,#f70,#ff6100,#ff4a00,#f30)"></i>
<i style="background:linear-gradient(#002eff,#03f,#003eff,#009dff,#00d7ff,#0df,#0df,#00d1ff,#00c5ff,#0bf,#00aeff,#00a3ff,#09f,#008cff,#0084ff,#0081ff,#007dff,#07f,#0072ff,#0070ff,#006dff,#006bff,#06f,#06f,#06f,#003aff,#02f,#002fff,#0039ff,#0038ff,#03f,#007dff,#00c4ff,#0ef,#0ff,#0ff,#00ffd0,#0f9,#0f7,#00ff51,#00ff2d,#00ff09,#19ff00,#37ff00,#5f0,#b2ff00,#ff0,#ff0,#ff0,#ff0,#faff00,#e3ff00,#cf0,#b4ff00,#9f0,#83ff00,#6bff00,#5f0,#3aff00,#4f0,#4cff00,#5f0,#5eff00,#8f0,#b3ff00,#df0,#f4ff00,#ff0,#ff0,#ff0,#ff0,#ff0,#ff0,#fff300,#fd0,#fc0,#ffb300,#f90,#f80,#ff6f00,#ff5b00)"></i>
<i style="background:linear-gradient(#002eff,#03f,#003eff,#0af,#00e7ff,#00e4ff,#00e1ff,#00d6ff,#0cf,#00c1ff,#00b4ff,#00a3ff,#0092ff,#0081ff,#07f,#0073ff,#006fff,#06f,#005dff,#005bff,#0059ff,#05f,#05f,#0051ff,#004fff,#03f,#0026ff,#03f,#003cff,#03f,#002fff,#07f,#00bfff,#00e9ff,#0ff,#0ff,#00ffd6,#00ffa0,#00ff7c,#00ff59,#0f3,#0f1,#1f0,#2dff00,#4cff00,#b3ff00,#ff0,#ff0,#ff0,#ff0,#ff0,#f3ff00,#df0,#cf0,#b3ff00,#9f0,#8f0,#6eff00,#5f0,#5fff00,#6f0,#6fff00,#7f0,#9fff00,#c8ff00,#ef0,#ff0,#ff0,#ff0,#ff0,#ff0,#ff0,#fff700,#ffe200,#fc0,#fb0,#ffa200,#f80,#ff7100,#ff5b00,#f40)"></i>
<i style="background:linear-gradient(#002eff,#03f,#003eff,#00b3ff,#00faff,#0ff,#0ff,#00f4ff,#00eaff,#00e1ff,#00d1ff,#0bf,#00a1ff,#08f,#07f,#07f,#0072ff,#006aff,#0061ff,#005fff,#005cff,#005aff,#05f,#05f,#05f,#03f,#02f,#02f,#0029ff,#04f,#0061ff,#00a3ff,#00e5ff,#0ff,#0ff,#0fe,#0fa,#00ff71,#00ff4e,#00ff2b,#00ff05,#2f0,#4f0,#60ff00,#7bff00,#cf0,#ff0,#ff0,#ff0,#ff0,#ff0,#f3ff00,#df0,#cf0,#b3ff00,#9f0,#84ff00,#6dff00,#5f0,#5eff00,#6f0,#6eff00,#7f0,#9fff00,#c8ff00,#ef0,#ff0,#ff0,#ff0,#ff0,#ff0,#ff0,#fff700,#ffe200,#fc0,#fb0,#ffa100,#f80,#ff7100,#ff5b00,#f40)"></i>
<i style="background:linear-gradient(#002eff,#03f,#003eff,#0bf,#0ff,#0ff,#0ff,#0ff,#0ff,#0ff,#0ff,#00f7ff,#00d5ff,#00b4ff,#009eff,#09f,#09f,#09f,#09f,#09f,#0095ff,#0093ff,#0090ff,#008eff,#008cff,#004aff,#02f,#02f,#02f,#0049ff,#006fff,#00afff,#0ef,#0ff,#0ff,#00ffe1,#00ff9f,#0f6,#0f4,#0f2,#08ff00,#2fff00,#5f0,#6cff00,#8f0,#c4ff00,#f7ff00,#f7ff00,#f7ff00,#f7ff00,#ef0,#d1ff00,#b5ff00,#9f0,#80ff00,#6f0,#4aff00,#2fff00,#15ff00,#2f0,#29ff00,#3f0,#3eff00,#6cff00,#9f0,#c7ff00,#df0,#ef0,#ff0,#ff0,#ff0,#ff0,#ff0,#ff0,#fe0,#fd0,#ffc700,#ffb100,#f90,#f80,#ff7200)"></i>
<i style="background:linear-gradient(#002eff,#03f,#003eff,#0bf,#0ff,#0ff,#0ff,#0ff,#0ff,#0ff,#00f7ff,#00d6ff,#00b6ff,#09f,#0081ff,#007eff,#007bff,#07f,#006fff,#006cff,#006aff,#06f,#06f,#06f,#0060ff,#0039ff,#02f,#02f,#0029ff,#04f,#0061ff,#00a4ff,#00e6ff,#0ff,#0ff,#0fe,#0fa,#00ff71,#00ff50,#00ff2d,#00ff08,#1dff00,#3fff00,#5bff00,#7f0,#c2ff00,#ff0,#ff0,#ff0,#ff0,#f7ff00,#df0,#c7ff00,#afff00,#95ff00,#7bff00,#62ff00,#48ff00,#2fff00,#38ff00,#4f0,#4cff00,#5f0,#81ff00,#af0,#d9ff00,#ef0,#ff0,#ff0,#ff0,#ff0,#ff0,#ff0,#fff700,#ffe200,#fc0,#ffb700,#ffa000,#f80,#f70,#ff5f00)"></i>
<i style="background:linear-gradient(#002eff,#03f,#003eff,#00bfff,#0ff,#0ff,#0ff,#0ff,#0ff,#0ff,#0ff,#0ef,#0cf,#0af,#0092ff,#008eff,#08f,#08f,#08f,#08f,#0082ff,#0080ff,#007dff,#007bff,#07f,#04f,#02f,#02f,#0027ff,#005dff,#0092ff,#0cf,#0ff,#0ff,#0ff,#00ffc6,#00ff81,#0f4,#0f2,#0f0,#29ff00,#5f0,#7f0,#8eff00,#a6ff00,#df0,#ff0,#ff0,#ff0,#ff0,#ff0,#ef0,#d6ff00,#c0ff00,#af0,#8fff00,#7f0,#5dff00,#4f0,#4dff00,#5f0,#5fff00,#6f0,#93ff00,#bf0,#e7ff00,#ff0,#ff0,#ff0,#ff0,#ff0,#ff0,#ff0,#ffea00,#ffd500,#ffc100,#fa0,#ff9200,#f70,#f60,#ff5000)"></i>
<i style="background:linear-gradient(#002eff,#03f,#003eff,#00c0ff,#0ff,#0ff,#0ff,#0ff,#0ff,#0ff,#0ff,#00e7ff,#00c4ff,#00a1ff,#08f,#08f,#08f,#0081ff,#007dff,#007bff,#07f,#07f,#07f,#0071ff,#006fff,#003fff,#02f,#002dff,#03f,#07f,#0bf,#00f2ff,#0ff,#0ff,#0fd,#0fa,#00ff5f,#00ff1e,#0f0,#2f0,#51ff00,#7eff00,#a1ff00,#b6ff00,#cf0,#f5ff00,#ff0,#ff0,#ff0,#ff0,#ff0,#ff0,#ef0,#df0,#c5ff00,#aeff00,#9f0,#7fff00,#6f0,#70ff00,#7f0,#80ff00,#8f0,#b0ff00,#d7ff00,#ff0,#ff0,#ff0,#ff0,#ff0,#ff0,#ff0,#ffea00,#ffd600,#ffc100,#fa0,#ff9400,#ff7b00,#ff6100,#ff4b00,#f30)"></i>
<i style="background:linear-gradient(#002eff,#03f,#003eff,#00c0ff,#0ff,#0ff,#00ffd8,#0fd,#00ffe8,#0fe,#0ff,#0ff,#0ff,#00d4ff,#0bf,#00b7ff,#00b4ff,#0bf,#00c4ff,#00c2ff,#00bfff,#0bf,#0bf,#0bf,#00b6ff,#005bff,#02f,#0026ff,#002bff,#06f,#09f,#00d7ff,#0ff,#0ff,#00fff6,#0fb,#0f7,#00ff3a,#00ff1b,#06ff00,#3f0,#59ff00,#7cff00,#94ff00,#af0,#d9ff00,#ff0,#ff0,#ff0,#ff0,#f2ff00,#d9ff00,#c0ff00,#a6ff00,#8f0,#71ff00,#5f0,#3bff00,#2f0,#2bff00,#3f0,#3fff00,#4aff00,#7f0,#a4ff00,#d1ff00,#e8ff00,#faff00,#ff0,#ff0,#ff0,#ff0,#ff0,#ff0,#ffe800,#ffd400,#fb0,#fa0,#ff9100,#ff7c00,#f60)"></i>
<i style="background:linear-gradient(#002eff,#03f,#003eff,#00c0ff,#0ff,#0ff,#0ff,#0ff,#0ff,#0ff,#0ff,#00f6ff,#00d2ff,#00aeff,#09f,#0093ff,#0090ff,#008fff,#008fff,#008cff,#08f,#08f,#08f,#0083ff,#0080ff,#04f,#02f,#0029ff,#03f,#003fff,#004fff,#0094ff,#00d8ff,#0ff,#0ff,#00fff9,#0fb,#00ff82,#0f6,#0f4,#0f2,#0f0,#2f0,#3fff00,#5eff00,#b4ff00,#ff0,#ff0,#ff0,#ff0,#f2ff00,#d9ff00,#bfff00,#a6ff00,#8f0,#70ff00,#5f0,#3aff00,#2f0,#29ff00,#3f0,#3eff00,#49ff00,#7f0,#a3ff00,#d1ff00,#e8ff00,#faff00,#ff0,#ff0,#ff0,#ff0,#ff0,#ff0,#ffe900,#ffd400,#fb0,#fa0,#ff9200,#ff7c00,#f60)"></i>
<i style="background:linear-gradient(#002eff,#03f,#003eff,#00c0ff,#0ff,#0ff,#0ff,#00f9ff,#0ef,#00e7ff,#00d6ff,#0bf,#09f,#007bff,#06f,#06f,#0061ff,#05f,#0048ff,#04f,#04f,#04f,#003eff,#003cff,#0039ff,#0029ff,#02f,#02f,#02f,#0051ff,#0080ff,#00bfff,#0ff,#0ff,#0ff,#00ffd3,#00ff90,#0f5,#0f3,#00ff17,#1f0,#3f0,#5f0,#72ff00,#8dff00,#d3ff00,#ff0,#ff0,#ff0,#ff0,#ff0,#f2ff00,#df0,#cf0,#b0ff00,#9f0,#7eff00,#6f0,#4cff00,#5f0,#5eff00,#6f0,#70ff00,#9f0,#c4ff00,#ef0,#ff0,#ff0,#ff0,#ff0,#ff0,#ff0,#fff800,#ffe400,#fc0,#fb0,#ffa300,#f80,#ff7200,#ff5c00,#ff4800)"></i>
<i style="background:linear-gradient(#002eff,#03f,#003eff,#00c0ff,#0ff,#0ff,#00ffe6,#0fe,#00fff6,#0ff,#0ff,#0ff,#0ef,#0cf,#00b1ff,#0af,#0af,#00b0ff,#00b6ff,#00b3ff,#00b1ff,#00aeff,#0af,#0af,#0af,#05f,#02f,#002dff,#03f,#07f,#0bf,#0ef,#0ff,#0ff,#00ffe2,#0fa,#00ff60,#0f2,#0f0,#1eff00,#49ff00,#73ff00,#9f0,#af0,#c3ff00,#f2ff00,#ff0,#ff0,#ff0,#ff0,#ff0,#ff0,#ef0,#df0,#c7ff00,#afff00,#9f0,#80ff00,#6f0,#70ff00,#7f0,#81ff00,#8f0,#b1ff00,#d9ff00,#ff0,#ff0,#ff0,#ff0,#ff0,#ff0,#ff0,#ffe800,#ffd400,#ffbf00,#fa0,#ff9200,#f70,#ff5f00,#ff4900,#f30)"></i>
<i style="background:linear-gradient(#002eff,#03f,#003eff,#00c0ff,#0ff,#0ff,#0ff,#0ff,#0ff,#0ff,#00f7ff,#00d6ff,#00b5ff,#0094ff,#007fff,#007cff,#07f,#0072ff,#006bff,#06f,#06f,#06f,#0061ff,#005fff,#005dff,#0037ff,#02f,#02f,#02f,#004eff,#007cff,#0bf,#00fbff,#0ff,#0ff,#00ffd6,#00ff94,#0f5,#00ff3b,#00ff1d,#08ff00,#2dff00,#4fff00,#6aff00,#8f0,#cf0,#ff0,#ff0,#ff0,#ff0,#f9ff00,#e2ff00,#cf0,#b3ff00,#9f0,#7dff00,#6f0,#48ff00,#2eff00,#38ff00,#4f0,#4cff00,#5f0,#83ff00,#afff00,#df0,#f3ff00,#ff0,#ff0,#ff0,#ff0,#ff0,#ff0,#fff400,#fd0,#fc0,#ffb400,#ff9d00,#f80,#ff7000,#ff5c00)"></i>
<i style="background:linear-gradient(#002eff,#03f,#003eff,#00bfff,#0ff,#0ff,#0ff,#0ff,#0ff,#0ff,#0ff,#0df,#0bf,#09f,#08f,#0082ff,#007fff,#07f,#07f,#0072ff,#0070ff,#006eff,#006bff,#06f,#06f,#003bff,#0028ff,#03f,#04f,#0092ff,#0df,#0ff,#0ff,#00ffe7,#00ffc6,#0f8,#00ff3e,#05ff00,#2f0,#4f0,#70ff00,#9dff00,#c0ff00,#d4ff00,#e8ff00,#ef0,#e8ff00,#e8ff00,#e8ff00,#e8ff00,#df0,#bf0,#9f0,#7dff00,#5fff00,#40ff00,#2f0,#04ff00,#00ff19,#00ff0d,#0f0,#0bff00,#18ff00,#4aff00,#7cff00,#aeff00,#c7ff00,#df0,#ef0,#ff0,#ff0,#ff0,#ff0,#ff0,#ff0,#fff200,#fd0,#fc0,#ffb600,#ffa200,#ff8d00)"></i>
<i style="background:linear-gradient(#002eff,#03f,#003eff,#0bf,#0ff,#0ff,#00fffa,#0ff,#0ff,#0ff,#0ff,#0ff,#00e3ff,#00bfff,#0af,#00a4ff,#00a1ff,#00a5ff,#0af,#00a6ff,#00a3ff,#00a1ff,#009fff,#09f,#09f,#0050ff,#02f,#002dff,#03f,#07f,#00b7ff,#0ef,#0ff,#0ff,#00ffe2,#0fa,#00ff61,#0f2,#00ff05,#1aff00,#4f0,#6dff00,#8fff00,#a6ff00,#bf0,#df0,#ef0,#ef0,#ef0,#ef0,#df0,#c2ff00,#a3ff00,#8f0,#6f0,#49ff00,#2cff00,#1f0,#0f1,#00ff04,#08ff00,#15ff00,#2f0,#5f0,#84ff00,#b5ff00,#cf0,#df0,#f3ff00,#ff0,#ff0,#ff0,#ff0,#ff0,#ff0,#fe0,#ffd800,#ffc300,#ffaf00,#f90,#f80)"></i>
<i style="background:linear-gradient(#002eff,#03f,#003eff,#00b7ff,#0ff,#0ff,#0ff,#0ff,#0ff,#0ff,#00f8ff,#0df,#0bf,#00a0ff,#008dff,#08f,#08f,#0083ff,#0080ff,#007eff,#007bff,#07f,#07f,#07f,#0072ff,#0040ff,#0026ff,#03f,#003cff,#03f,#002dff,#07f,#0bf,#00e8ff,#0ff,#0ff,#00ffd8,#00ffa3,#0f8,#00ff6c,#00ff4f,#0f3,#0f1,#1f0,#3f0,#b5ff00,#ff0,#ff0,#ff0,#ff0,#ff0,#ff0,#ff0,#ff0,#e9ff00,#d3ff00,#bf0,#a6ff00,#90ff00,#9f0,#9fff00,#a6ff00,#af0,#d2ff00,#f7ff00,#ff0,#ff0,#ff0,#ff0,#ff0,#fff500,#ffe400,#ffd000,#fb0,#fa0,#ff9300,#f70,#ff5d00,#f40,#ff2b00,#ff1600)"></i>
<i style="background:linear-gradient(#002eff,#03f,#003eff,#00aeff,#0ef,#0df,#00d1ff,#00c7ff,#0bf,#00b2ff,#00a5ff,#0093ff,#0080ff,#006eff,#0062ff,#005fff,#005cff,#004eff,#0040ff,#003eff,#003bff,#0039ff,#03f,#03f,#03f,#0026ff,#02f,#02f,#02f,#0049ff,#006eff,#00afff,#0ef,#0ff,#0ff,#00ffe1,#00ffa0,#0f6,#00ff4b,#00ff2e,#00ff0c,#16ff00,#37ff00,#5f0,#73ff00,#cf0,#ff0,#ff0,#ff0,#ff0,#ff0,#ff0,#ff0,#ef0,#d5ff00,#bf0,#a6ff00,#8eff00,#7f0,#7fff00,#8f0,#8fff00,#9f0,#bf0,#e5ff00,#ff0,#ff0,#ff0,#ff0,#ff0,#ff0,#fff200,#fd0,#fc0,#ffb500,#ffa000,#f80,#ff6d00,#f50,#ff3c00,#ff2700)"></i>
<i style="background:linear-gradient(#002eff,#03f,#003eff,#00a2ff,#0df,#00d8ff,#00d4ff,#00c8ff,#0bf,#00b2ff,#00a6ff,#09f,#008cff,#007fff,#07f,#0072ff,#006fff,#06f,#005dff,#005bff,#0059ff,#05f,#05f,#0051ff,#004fff,#03f,#02f,#0027ff,#002cff,#04f,#05f,#09f,#0df,#0ff,#0ff,#00fff2,#00ffb3,#00ff7b,#00ff60,#0f4,#0f2,#00ff04,#1cff00,#3cff00,#5dff00,#b6ff00,#ff0,#ff0,#ff0,#ff0,#f9ff00,#e2ff00,#cf0,#b2ff00,#9f0,#7bff00,#60ff00,#4f0,#2aff00,#3f0,#3fff00,#49ff00,#5f0,#81ff00,#aeff00,#df0,#f2ff00,#ff0,#ff0,#ff0,#ff0,#ff0,#ff0,#fff400,#fd0,#fc0,#ffb500,#ff9e00,#f80,#ff7100,#ff5c00)"></i>
<i style="background:linear-gradient(#002eff,#03f,#003eff,#09f,#00d0ff,#00d0ff,#00d1ff,#00c5ff,#0bf,#0af,#00a2ff,#09f,#0091ff,#08f,#0082ff,#007fff,#007cff,#07f,#0070ff,#006eff,#006bff,#06f,#06f,#06f,#0062ff,#0039ff,#02f,#02f,#0029ff,#04f,#0062ff,#00a4ff,#00e6ff,#0ff,#0ff,#0fe,#0fa,#00ff72,#0f5,#00ff3b,#00ff1b,#06ff00,#26ff00,#4f0,#6f0,#bf0,#ff0,#ff0,#ff0,#ff0,#fbff00,#e4ff00,#cf0,#b5ff00,#9f0,#7fff00,#6f0,#48ff00,#2dff00,#38ff00,#4f0,#4cff00,#5f0,#84ff00,#b1ff00,#df0,#f4ff00,#ff0,#ff0,#ff0,#ff0,#ff0,#ff0,#fff200,#fd0,#fc0,#ffb200,#f90,#ff8400,#ff6e00,#ff5a00)"></i>
<i style="background:linear-gradient(#002eff,#03f,#003eff,#0094ff,#00c6ff,#00c3ff,#00c0ff,#00b4ff,#0af,#09f,#0091ff,#008cff,#08f,#0083ff,#007fff,#007bff,#07f,#0071ff,#006bff,#06f,#06f,#06f,#0061ff,#005fff,#005cff,#0037ff,#02f,#03f,#003bff,#03f,#03f,#07f,#00c0ff,#0ef,#0ff,#0ff,#00ffd5,#00ffa0,#0f8,#00ff6b,#00ff4f,#0f3,#0f1,#1f0,#3f0,#a2ff00,#ff0,#ff0,#ff0,#ff0,#faff00,#e2ff00,#cf0,#b3ff00,#9f0,#7cff00,#61ff00,#4f0,#2aff00,#3f0,#3fff00,#4aff00,#5f0,#82ff00,#afff00,#df0,#f3ff00,#ff0,#ff0,#ff0,#ff0,#ff0,#ff0,#fff300,#fd0,#fc0,#ffb400,#f90,#f80,#ff7000,#ff5b00)"></i>
<i style="background:linear-gradient(#002eff,#03f,#003eff,#0091ff,#00c1ff,#0bf,#00b5ff,#0af,#09f,#008fff,#08f,#0083ff,#0080ff,#007dff,#07f,#07f,#07f,#006cff,#06f,#0062ff,#0060ff,#005dff,#005bff,#05f,#05f,#03f,#02f,#002fff,#0039ff,#0037ff,#03f,#007dff,#00c4ff,#0ef,#0ff,#0ff,#00ffd1,#0f9,#00ff82,#0f6,#00ff4b,#00ff2f,#0f1,#1f0,#37ff00,#9f0,#ef0,#ef0,#ef0,#ef0,#e2ff00,#c5ff00,#af0,#8f0,#6bff00,#4dff00,#2fff00,#1f0,#00ff0d,#0f0,#0bff00,#17ff00,#2f0,#5f0,#8f0,#bf0,#d1ff00,#e4ff00,#f6ff00,#ff0,#ff0,#ff0,#ff0,#ff0,#ff0,#ffe900,#ffd400,#ffc000,#fa0,#f90,#ff8200)"></i>
<i style="background:linear-gradient(#002eff,#03f,#003eff,#0090ff,#00c3ff,#00c5ff,#00c7ff,#0bf,#00aeff,#00a1ff,#09f,#0094ff,#0090ff,#008cff,#08f,#08f,#0082ff,#007dff,#07f,#07f,#07f,#0072ff,#006fff,#006dff,#006bff,#003dff,#02f,#02f,#02f,#0049ff,#006dff,#00aeff,#0ef,#0ff,#0ff,#00ffe2,#00ffa1,#0f6,#00ff4e,#0f3,#0f1,#1f0,#2fff00,#4eff00,#6dff00,#c4ff00,#ff0,#ff0,#ff0,#ff0,#ff0,#f2ff00,#df0,#cf0,#afff00,#95ff00,#7bff00,#61ff00,#4f0,#51ff00,#5aff00,#6f0,#6eff00,#9f0,#c4ff00,#ef0,#ff0,#ff0,#ff0,#ff0,#ff0,#ff0,#fff800,#ffe300,#fc0,#fb0,#ffa200,#f80,#ff7200,#ff5b00,#f40)"></i>
<i style="background:linear-gradient(#002eff,#03f,#003eff,#0090ff,#0bf,#00aeff,#00a0ff,#0093ff,#08f,#07f,#0071ff,#0071ff,#0070ff,#0070ff,#006eff,#006bff,#06f,#005dff,#05f,#0050ff,#004eff,#004bff,#0049ff,#04f,#04f,#002eff,#002aff,#003bff,#004dff,#0028ff,#00f,#004fff,#09f,#00c8ff,#0ef,#0ff,#0ff,#0fc,#00ffb3,#0f9,#00ff83,#00ff6b,#00ff4d,#0f2,#0f0,#8f0,#ff0,#ff0,#ff0,#ff0,#f5ff00,#df0,#c4ff00,#af0,#8fff00,#73ff00,#5f0,#3bff00,#1eff00,#29ff00,#3f0,#3fff00,#4aff00,#7f0,#af0,#d5ff00,#ef0,#ff0,#ff0,#ff0,#ff0,#ff0,#ff0,#fff900,#ffe500,#ffd000,#fb0,#ffa300,#ff8d00,#f70,#f60)"></i>
<i style="background:linear-gradient(#002eff,#03f,#003eff,#0090ff,#0bf,#00b1ff,#00a5ff,#09f,#008cff,#007fff,#07f,#07f,#07f,#07f,#0073ff,#0070ff,#006dff,#06f,#0059ff,#05f,#05f,#05f,#0050ff,#004dff,#004bff,#03f,#002cff,#003eff,#0051ff,#0026ff,#00f,#0049ff,#09f,#00c2ff,#00e5ff,#0ff,#0ff,#00ffd3,#0fb,#00ffa2,#0f8,#0f7,#0f5,#00ff2e,#00ff06,#8eff00,#ff0,#ff0,#ff0,#ff0,#ff0,#f6ff00,#e3ff00,#cf0,#b4ff00,#9f0,#81ff00,#6f0,#4dff00,#5f0,#60ff00,#6f0,#73ff00,#9eff00,#c8ff00,#f3ff00,#ff0,#ff0,#ff0,#ff0,#ff0,#ff0,#fff400,#fd0,#fc0,#ffb600,#ff9e00,#f80,#ff6d00,#f50,#f40)"></i>
<i style="background:linear-gradient(#002eff,#03f,#003eff,#0090ff,#00c1ff,#00c1ff,#00c0ff,#00b3ff,#0af,#09f,#0091ff,#008fff,#008dff,#08f,#08f,#08f,#0082ff,#007dff,#07f,#07f,#0073ff,#0071ff,#006eff,#006cff,#06f,#003fff,#0027ff,#002dff,#03f,#04f,#005bff,#09f,#0df,#0ff,#0ff,#00fff3,#00ffb4,#00ff7d,#0f6,#00ff4a,#00ff2b,#00ff0d,#1f0,#3f0,#5f0,#b4ff00,#ff0,#ff0,#ff0,#ff0,#ff0,#e6ff00,#cf0,#bf0,#9dff00,#81ff00,#6f0,#4aff00,#2fff00,#3aff00,#4f0,#4fff00,#59ff00,#8f0,#b3ff00,#df0,#f7ff00,#ff0,#ff0,#ff0,#ff0,#ff0,#ff0,#fe0,#fd0,#ffc600,#ffb000,#f90,#ff8100,#ff6b00,#f50)"></i>
<i style="background:linear-gradient(#002eff,#03f,#003eff,#0090ff,#00c4ff,#0cf,#00d4ff,#00c7ff,#0bf,#0af,#00a5ff,#00a4ff,#00a3ff,#00a2ff,#00a0ff,#009eff,#09f,#09f,#09f,#0095ff,#0092ff,#0090ff,#008dff,#08f,#08f,#05f,#03f,#003aff,#003fff,#05f,#06f,#00a3ff,#0df,#0ff,#0ff,#00fff2,#00ffb3,#00ff7c,#0f6,#00ff49,#00ff2b,#00ff0d,#1f0,#3f0,#5f0,#aeff00,#f8ff00,#f8ff00,#f8ff00,#f8ff00,#ef0,#d3ff00,#bf0,#9dff00,#7fff00,#62ff00,#4f0,#28ff00,#0bff00,#16ff00,#2f0,#2eff00,#39ff00,#6f0,#9f0,#cf0,#e1ff00,#f3ff00,#ff0,#ff0,#ff0,#ff0,#ff0,#ff0,#fe0,#fd0,#ffc500,#ffaf00,#f90,#ff8400,#ff7000)"></i>
<i style="background:linear-gradient(#002eff,#03f,#003eff,#0090ff,#00c6ff,#00d1ff,#0df,#0cf,#00c2ff,#00b5ff,#00b0ff,#00b5ff,#0bf,#00bfff,#00c1ff,#00c0ff,#00bfff,#00bfff,#0bf,#0bf,#0bf,#00b7ff,#00b4ff,#00b2ff,#00b0ff,#07f,#05f,#005fff,#06f,#006dff,#0073ff,#00a5ff,#00d7ff,#0ff,#0ff,#0ff,#00ffc0,#0f8,#00ff71,#0f5,#00ff3b,#0f2,#0f0,#2f0,#4f0,#a2ff00,#ef0,#ef0,#ef0,#ef0,#e4ff00,#c7ff00,#af0,#8cff00,#6eff00,#4fff00,#3f0,#1f0,#00ff0b,#0f0,#0dff00,#1aff00,#26ff00,#5f0,#8f0,#bf0,#d4ff00,#e6ff00,#f9ff00,#ff0,#ff0,#ff0,#ff0,#ff0,#fffb00,#ffe700,#ffd200,#fb0,#fa0,#ff9300,#ff7f00)"></i>
<i style="background:linear-gradient(#002eff,#03f,#003eff,#0090ff,#00bfff,#0bf,#00b4ff,#0af,#09f,#008eff,#008dff,#00a0ff,#00b2ff,#00c4ff,#0cf,#00d1ff,#00d2ff,#0cf,#00c3ff,#00c1ff,#0bf,#0bf,#0bf,#00b7ff,#00b5ff,#09f,#08f,#08f,#008cff,#00a3ff,#0bf,#00d5ff,#00f2ff,#0ff,#0ff,#00ffe7,#00ffa6,#00ff6d,#0f5,#00ff3b,#00ff1c,#0f0,#2f0,#4f0,#6f0,#b7ff00,#ff0,#ff0,#ff0,#ff0,#f3ff00,#df0,#c1ff00,#af0,#8f0,#6eff00,#51ff00,#3f0,#18ff00,#2f0,#2fff00,#3aff00,#4f0,#7f0,#a3ff00,#d2ff00,#eaff00,#fbff00,#ff0,#ff0,#ff0,#ff0,#ff0,#ff0,#ffe700,#ffd300,#fb0,#ffa600,#ff9000,#f70,#f60)"></i>
<i style="background:linear-gradient(#002eff,#03f,#003eff,#0090ff,#00c5ff,#0cf,#00d5ff,#00c8ff,#0bf,#00afff,#00b0ff,#00c6ff,#0df,#00f2ff,#0ff,#0ff,#0ff,#0ff,#0ff,#0ff,#0ff,#00fbff,#00f8ff,#00f6ff,#00f3ff,#00c5ff,#0af,#00b7ff,#00c1ff,#00b1ff,#00a1ff,#00b7ff,#0cf,#0ef,#0ff,#0ff,#00ffd2,#00ff9e,#0f8,#00ff6d,#0f5,#00ff37,#00ff19,#0bff00,#3f0,#9f0,#f9ff00,#f9ff00,#f9ff00,#f9ff00,#ef0,#d5ff00,#bf0,#a0ff00,#82ff00,#6f0,#48ff00,#2bff00,#1f0,#19ff00,#2f0,#3f0,#3cff00,#6cff00,#9f0,#cf0,#e3ff00,#f5ff00,#ff0,#ff0,#ff0,#ff0,#ff0,#ff0,#fe0,#ffd800,#ffc300,#fa0,#f90,#ff8100,#ff6d00)"></i>
<i style="background:linear-gradient(#002eff,#03f,#003eff,#0090ff,#0cf,#0ef,#0ff,#0ff,#00f2ff,#00e5ff,#00e5ff,#00f9ff,#0ff,#0ff,#0ff,#0ff,#0ff,#0ff,#0ff,#0ff,#0ff,#0ff,#0ff,#0ff,#0ff,#00e5ff,#0bf,#00c8ff,#00d6ff,#00b2ff,#008dff,#00a2ff,#00b7ff,#00d7ff,#00f9ff,#0ff,#0fe,#0fb,#00ffa3,#0f8,#00ff73,#00ff5a,#00ff3d,#00ff16,#1f0,#8fff00,#ff0,#ff0,#ff0,#ff0,#f3ff00,#df0,#c1ff00,#af0,#8f0,#6eff00,#5f0,#3f0,#18ff00,#2f0,#2fff00,#3aff00,#4f0,#7f0,#a3ff00,#d2ff00,#eaff00,#ff0,#ff0,#ff0,#ff0,#ff0,#ff0,#fffb00,#ffe700,#ffd200,#fb0,#ffa600,#ff8f00,#f70,#f60)"></i>
<i style="background:linear-gradient(#002eff,#03f,#003eff,#0090ff,#00c3ff,#00c8ff,#0cf,#00bfff,#00b2ff,#00a6ff,#0af,#00c0ff,#00d9ff,#0ef,#0ff,#0ff,#0ff,#0ff,#0ff,#0ff,#00fbff,#00f9ff,#00f6ff,#00f4ff,#0ef,#0cf,#0bf,#0cf,#0df,#00a6ff,#0071ff,#08f,#00a0ff,#00c0ff,#00e2ff,#0ff,#0ff,#0fd,#00ffc3,#0fa,#0f9,#00ff7f,#00ff62,#00ff3b,#0f1,#83ff00,#ff0,#ff0,#ff0,#ff0,#ff0,#ef0,#d8ff00,#c2ff00,#af0,#8cff00,#71ff00,#5f0,#3aff00,#4f0,#4fff00,#59ff00,#6f0,#90ff00,#bf0,#e9ff00,#ff0,#ff0,#ff0,#ff0,#ff0,#ff0,#ff0,#ffe800,#ffd400,#ffbf00,#fa0,#ff9000,#f70,#ff6200,#ff4e00)"></i>
<i style="background:linear-gradient(#002eff,#03f,#003eff,#0090ff,#00bfff,#0bf,#00b3ff,#0af,#09f,#008dff,#008eff,#00a4ff,#0bf,#00d1ff,#0df,#00e1ff,#00e3ff,#0df,#00d4ff,#00d2ff,#0cf,#0cf,#0cf,#00c8ff,#00c5ff,#0af,#09f,#09f,#09f,#00b2ff,#0cf,#00d0ff,#00d7ff,#00f2ff,#0ff,#0ff,#00ffd7,#00ffa6,#00ff8e,#0f7,#0f5,#00ff3b,#00ff1d,#0f0,#1dff00,#90ff00,#f7ff00,#f7ff00,#f7ff00,#f7ff00,#ef0,#d0ff00,#b5ff00,#9f0,#7cff00,#5eff00,#4f0,#2f0,#05ff00,#1f0,#1dff00,#29ff00,#3f0,#6f0,#9f0,#c7ff00,#df0,#ef0,#ff0,#ff0,#ff0,#ff0,#ff0,#ff0,#fe0,#fd0,#ffc700,#ffb200,#f90,#f80,#ff7200)"></i>
<i style="background:linear-gradient(#002eff,#03f,#003eff,#0090ff,#0cf,#00e9ff,#0ff,#00f8ff,#0ef,#0df,#00d9ff,#0df,#00e6ff,#0ef,#0ef,#0ef,#0ef,#00f7ff,#0ff,#00fbff,#00f8ff,#00f6ff,#00f4ff,#0ef,#0ef,#00a0ff,#006fff,#07f,#007bff,#07f,#07f,#0083ff,#0091ff,#0af,#00c6ff,#0ef,#0ff,#0ff,#0ff,#00ffe6,#0fc,#00ffb4,#0f9,#00ff7f,#0f6,#60ff00,#ff0,#ff0,#ff0,#ff0,#ff0,#ff0,#f2ff00,#df0,#c7ff00,#aeff00,#95ff00,#7cff00,#62ff00,#6bff00,#7f0,#7dff00,#8f0,#b0ff00,#d9ff00,#ff0,#ff0,#ff0,#ff0,#ff0,#ff0,#fffb00,#ffe700,#ffd200,#fb0,#fa0,#ff9000,#f70,#ff5d00,#f40,#f30)"></i>
<i style="background:linear-gradient(#002eff,#03f,#003eff,#0090ff,#00c3ff,#00c6ff,#0cf,#0bf,#00b0ff,#00a3ff,#009dff,#009fff,#00a2ff,#00a4ff,#00a5ff,#00a3ff,#00a1ff,#009dff,#09f,#09f,#0095ff,#0092ff,#0090ff,#008eff,#08f,#005dff,#04f,#0049ff,#004fff,#04f,#003bff,#004cff,#005eff,#07f,#008cff,#0af,#00c5ff,#00e1ff,#00f8ff,#0ff,#0ff,#0ff,#00fffb,#00ffe4,#0fc,#1bff00,#ff0,#ff0,#ff0,#ff0,#f2ff00,#d8ff00,#bf0,#a4ff00,#8f0,#6aff00,#4dff00,#3f0,#1f0,#1eff00,#2aff00,#3f0,#4f0,#70ff00,#a0ff00,#d0ff00,#e7ff00,#f9ff00,#ff0,#ff0,#ff0,#ff0,#ff0,#ff0,#ffe900,#ffd500,#ffbf00,#fa0,#ff9200,#ff7d00,#f60)"></i>
<i style="background:linear-gradient(#002eff,#03f,#003eff,#0090ff,#00c4ff,#0cf,#00d1ff,#00c4ff,#00b7ff,#0af,#00a2ff,#009fff,#009dff,#09f,#09f,#0095ff,#0092ff,#008fff,#008dff,#08f,#08f,#08f,#0083ff,#0081ff,#007eff,#004bff,#002cff,#03f,#0038ff,#05f,#0072ff,#0061ff,#0050ff,#005eff,#07f,#08f,#00a2ff,#0bf,#00d0ff,#00e7ff,#0ff,#0ff,#0ff,#0ff,#00fffa,#1f0,#ff0,#ff0,#ff0,#ff0,#ff0,#fbff00,#e9ff00,#d5ff00,#bf0,#a1ff00,#8f0,#6dff00,#5f0,#5dff00,#6f0,#70ff00,#7f0,#a4ff00,#cf0,#f9ff00,#ff0,#ff0,#ff0,#ff0,#ff0,#ff0,#fe0,#fd0,#ffc500,#ffb100,#f90,#ff8000,#f60,#ff5000,#ff3c00)"></i>
<i style="background:linear-gradient(#002eff,#03f,#003eff,#0090ff,#0cf,#0ef,#0ff,#0ff,#00f4ff,#00e7ff,#0df,#00d3ff,#0cf,#00c1ff,#0bf,#00b7ff,#00b4ff,#0bf,#00c3ff,#00c0ff,#0bf,#0bf,#0bf,#00b7ff,#00b4ff,#005cff,#0026ff,#002dff,#03f,#05f,#0072ff,#005cff,#04f,#05f,#06f,#007dff,#0092ff,#00a6ff,#0bf,#00d5ff,#0ef,#0ff,#0ff,#0ff,#0ff,#0f0,#ff0,#ff0,#ff0,#ff0,#ff0,#e6ff00,#cf0,#bf0,#9f0,#80ff00,#6f0,#48ff00,#2dff00,#37ff00,#4f0,#4dff00,#5f0,#8f0,#b3ff00,#df0,#f7ff00,#ff0,#ff0,#ff0,#ff0,#ff0,#ff0,#fe0,#fd0,#ffc600,#ffb000,#f90,#ff8100,#ff6b00,#f50)"></i>
<i style="background:linear-gradient(#002eff,#03f,#003eff,#0090ff,#00c5ff,#0cf,#00d8ff,#0cf,#0bf,#00b1ff,#0af,#00a3ff,#009eff,#09f,#0094ff,#0091ff,#008eff,#008dff,#08f,#08f,#08f,#0084ff,#0082ff,#007fff,#007dff,#04f,#02f,#02f,#0026ff,#003bff,#0050ff,#0048ff,#0040ff,#0050ff,#06f,#07f,#008dff,#00a1ff,#0bf,#0cf,#00e5ff,#00fbff,#0ff,#0ff,#0ff,#00ff0b,#faff00,#faff00,#faff00,#faff00,#ef0,#d5ff00,#bf0,#a0ff00,#83ff00,#6f0,#48ff00,#2bff00,#1f0,#19ff00,#2f0,#3f0,#3cff00,#6cff00,#9f0,#cf0,#e4ff00,#f6ff00,#ff0,#ff0,#ff0,#ff0,#ff0,#ff0,#fe0,#ffd800,#ffc200,#fa0,#f90,#ff8100,#ff6c00)"></i>
<i style="background:linear-gradient(#002eff,#03f,#003eff,#0090ff,#00c6ff,#00d4ff,#00e1ff,#00d4ff,#00c7ff,#0bf,#00b0ff,#0af,#00a5ff,#009fff,#09f,#09f,#0094ff,#0094ff,#0094ff,#0092ff,#008fff,#008dff,#08f,#08f,#08f,#0048ff,#02f,#0028ff,#002eff,#0049ff,#06f,#05f,#04f,#004fff,#06f,#07f,#008cff,#00a0ff,#00b7ff,#0cf,#00e4ff,#00faff,#0ff,#0ff,#0ff,#00ff19,#df0,#df0,#df0,#df0,#d2ff00,#b0ff00,#8dff00,#6bff00,#4bff00,#2aff00,#09ff00,#00ff17,#00ff38,#00ff2a,#00ff1c,#0f1,#0f0,#3f0,#6aff00,#a0ff00,#bf0,#cf0,#df0,#f4ff00,#ff0,#ff0,#ff0,#ff0,#ff0,#ff0,#fe0,#ffd800,#ffc500,#ffb100,#ff9d00)"></i>
<i style="background:linear-gradient(#002eff,#03f,#003eff,#0090ff,#00c0ff,#0bf,#0bf,#0af,#00a0ff,#0093ff,#08f,#08f,#08f,#0083ff,#0080ff,#007dff,#07f,#0073ff,#006dff,#006aff,#06f,#06f,#06f,#0060ff,#005eff,#0038ff,#0029ff,#0039ff,#0049ff,#000cff,#00f,#00f,#03f,#004fff,#06f,#07f,#08f,#009fff,#00b6ff,#0cf,#00e3ff,#00faff,#0ff,#0ff,#0ff,#07ff00,#ff0,#ff0,#ff0,#ff0,#ff0,#ff0,#ff0,#ef0,#d4ff00,#bf0,#a3ff00,#8f0,#72ff00,#7f0,#83ff00,#8cff00,#94ff00,#bf0,#e5ff00,#ff0,#ff0,#ff0,#ff0,#ff0,#ff0,#fe0,#fd0,#fc0,#ffb400,#ffa000,#f80,#ff6c00,#f50,#ff3b00,#ff2600)"></i>
<i style="background:linear-gradient(#002eff,#03f,#003eff,#0090ff,#00c3ff,#00c8ff,#0cf,#00bfff,#00b2ff,#00a6ff,#09f,#09f,#0094ff,#0090ff,#008cff,#08f,#08f,#0082ff,#007fff,#007dff,#07f,#07f,#07f,#0073ff,#0070ff,#003fff,#0027ff,#03f,#04f,#01f,#00f,#000cff,#03f,#004fff,#06f,#07f,#08f,#009fff,#00b6ff,#0cf,#00e3ff,#00faff,#0ff,#0ff,#0ff,#0f1,#ef0,#ef0,#ef0,#ef0,#e2ff00,#c4ff00,#a6ff00,#8f0,#6f0,#4aff00,#2bff00,#0cff00,#0f1,#00ff06,#07ff00,#1f0,#2f0,#5f0,#8f0,#bf0,#d1ff00,#e3ff00,#f6ff00,#ff0,#ff0,#ff0,#ff0,#ff0,#ff0,#ffe900,#ffd500,#ffc000,#fa0,#f90,#ff8200)"></i>
<i style="background:linear-gradient(#002eff,#03f,#003eff,#0090ff,#0bf,#00a5ff,#0091ff,#0084ff,#07f,#006bff,#06f,#06f,#06f,#06f,#06f,#0061ff,#005eff,#0051ff,#04f,#04f,#003fff,#003dff,#003aff,#0038ff,#03f,#0028ff,#0026ff,#03f,#003dff,#0015ff,#00f,#01f,#03f,#004fff,#06f,#07f,#08f,#009fff,#00b6ff,#0cf,#00e3ff,#00f9ff,#0ff,#0ff,#0ff,#00ff1c,#df0,#df0,#df0,#df0,#cf0,#af0,#84ff00,#60ff00,#3eff00,#1dff00,#00ff05,#00ff26,#0f4,#00ff38,#00ff2a,#00ff1c,#0f1,#29ff00,#5fff00,#9f0,#b1ff00,#c4ff00,#d8ff00,#ef0,#ff0,#ff0,#ff0,#ff0,#ff0,#ff0,#fff400,#ffe100,#fc0,#fb0,#fa0)"></i>
</div>
<div class="p" id="pb">
<i style="background:linear-gradient(#00f,#00f,#00f,#0009ff,#0009ff,#0009ff,#0009ff,#0009ff,#0009ff,#0009ff,#0009ff,#0009ff,#0009ff,#0009ff,#0009ff,#0009ff,#0009ff,#0009ff,#0009ff,#000cff,#0018ff,#0026ff,#03f,#04f,#0051ff,#0062ff,#007cff,#09f,#00b1ff,#0cf,#0ff,#0ff,#0ff,#0ff,#0ff,#0ff,#00fff6,#00ffc7,#00ffb1,#00ffa2,#00ffa5,#00ffc2,#0fe,#0ff,#0ff,#00ffe7,#00ffb7,#0f8,#00ff6b,#00ff4b,#0f3,#0f2,#0f1,#0f0,#1f0,#18ff00,#1cff00)"></i>
<i style="background:linear-gradient(#00f,#00f,#00f,#0009ff,#0009ff,#0009ff,#0009ff,#0009ff,#0009ff,#0009ff,#0009ff,#0009ff,#0009ff,#0009ff,#0009ff,#0009ff,#0009ff,#0009ff,#0009ff,#000cff,#0018ff,#0026ff,#03f,#04f,#0051ff,#0062ff,#007cff,#09f,#00b1ff,#0cf,#0ff,#0ff,#0ff,#0ff,#0ff,#0ff,#00fff6,#00ffc7,#00ffb1,#00ffa2,#00ffa5,#00ffc2,#0fe,#0ff,#0ff,#00ffe6,#00ffb0,#00ff7d,#00ff5b,#00ff38,#0f2,#0f1,#05ff00,#18ff00,#2aff00,#2eff00,#3f0)"></i>
<i style="background:linear-gradient(#00f,#00f,#00f,#0009ff,#0009ff,#0009ff,#0009ff,#0009ff,#0009ff,#0009ff,#0009ff,#0009ff,#0009ff,#0009ff,#0009ff,#0009ff,#0009ff,#0009ff,#0007ff,#00f,#000aff,#01f,#001bff,#02f,#002dff,#0038ff,#004dff,#0061ff,#007bff,#0095ff,#00d8ff,#0df,#00e7ff,#0ef,#0ff,#0ff,#0ff,#00ffe4,#0fc,#00ffb5,#00ffb2,#0fc,#0fe,#0ff,#0ff,#00ffe4,#0fa,#00ff70,#00ff4b,#00ff26,#0f1,#06ff00,#1aff00,#2dff00,#3fff00,#4f0,#4f0)"></i>
<i style="background:linear-gradient(#00f,#00f,#00f,#0009ff,#0009ff,#0009ff,#0009ff,#0009ff,#0009ff,#0009ff,#0009ff,#0009ff,#0009ff,#0009ff,#0009ff,#0009ff,#0009ff,#0009ff,#0009ff,#000cff,#0018ff,#0026ff,#03f,#04f,#0051ff,#0062ff,#007cff,#09f,#00b1ff,#0cf,#0ff,#0ff,#0ff,#0ff,#0ff,#0ff,#00fff6,#00ffc7,#00ffb1,#00ffa2,#00ffa5,#00ffc2,#0fe,#0ff,#0ff,#0fd,#00ff8e,#0f4,#00ff15,#19ff00,#3f0,#4eff00,#6f0,#7f0,#8f0,#8cff00,#90ff00)"></i>
<i style="background:linear-gradient(#00f,#00f,#00f,#0009ff,#0009ff,#0009ff,#0009ff,#0009ff,#0009ff,#0009ff,#0009ff,#0009ff,#0009ff,#0009ff,#0009ff,#0009ff,#0009ff,#0009ff,#0009ff,#000cff,#0018ff,#0026ff,#03f,#04f,#0051ff,#0062ff,#007cff,#09f,#00b1ff,#0cf,#0ff,#0ff,#0ff,#0ff,#0ff,#0ff,#00fff6,#00ffc7,#00ffb1,#00ffa2,#00ffa5,#00ffc2,#0fe,#0ff,#0ff,#0fd,#0f8,#00ff3a,#00ff09,#27ff00,#4f0,#5eff00,#7f0,#8f0,#9f0,#9f0,#a0ff00)"></i>
<i style="background:linear-gradient(#00f,#00f,#00f,#0009ff,#0009ff,#0009ff,#0009ff,#0009ff,#0009ff,#0009ff,#0009ff,#0009ff,#0009ff,#0009ff,#0009ff,#0009ff,#0009ff,#0009ff,#0009ff,#000cff,#0018ff,#0026ff,#03f,#04f,#0051ff,#0062ff,#007cff,#09f,#00b1ff,#0cf,#0ff,#0ff,#0ff,#0ff,#0ff,#0ff,#00fff6,#00ffc7,#00ffb1,#00ffa2,#00ffa5,#00ffc2,#0fe,#0ff,#0ff,#00ffe3,#00ff9e,#00ff5f,#0f3,#00ff0d,#0dff00,#2f0,#38ff00,#4aff00,#5dff00,#60ff00,#6f0)"></i>
<i style="background:linear-gradient(#00f,#00f,#00f,#0009ff,#0009ff,#0009ff,#0009ff,#0009ff,#0009ff,#0009ff,#0009ff,#0009ff,#0009ff,#0009ff,#0009ff,#0009ff,#0009ff,#0009ff,#0009ff,#000cff,#0018ff,#0026ff,#03f,#04f,#0051ff,#0062ff,#007cff,#09f,#00b1ff,#0cf,#0ff,#0ff,#0ff,#0ff,#0ff,#0ff,#00fff6,#00ffc7,#00ffb1,#00ffa2,#00ffa5,#00ffc2,#00fff4,#0ff,#0ff,#00ffe2,#0f9,#0f5,#00ff2d,#0f0,#18ff00,#2eff00,#4f0,#5f0,#6f0,#6cff00,#70ff00)"></i>
<i style="background:linear-gradient(#00f,#00f,#00f,#0009ff,#0009ff,#0009ff,#0009ff,#0009ff,#0009ff,#0009ff,#0009ff,#0009ff,#0009ff,#0009ff,#0009ff,#0009ff,#0009ff,#0009ff,#0009ff,#000cff,#0018ff,#0026ff,#03f,#04f,#0051ff,#0062ff,#007cff,#09f,#00b1ff,#0cf,#0ff,#0ff,#0ff,#0ff,#0ff,#0ff,#00fff6,#00ffc7,#00ffb1,#00ffa2,#00ffa5,#00ffc2,#00fff3,#0ff,#0ff,#0fd,#00ff84,#0f3,#0f0,#3f0,#50ff00,#6f0,#7fff00,#92ff00,#a4ff00,#af0,#af0)"></i>
<i style="background:linear-gradient(#00f,#00f,#00f,#0009ff,#0009ff,#0009ff,#0009ff,#0009ff,#0009ff,#0009ff,#0009ff,#0009ff,#0009ff,#0009ff,#0009ff,#0009ff,#0009ff,#0009ff,#0009ff,#000cff,#0018ff,#0026ff,#03f,#04f,#0051ff,#0062ff,#007cff,#09f,#00b1ff,#0cf,#0ff,#0ff,#0ff,#0ff,#0ff,#0ff,#00fff6,#00ffc7,#00ffb1,#00ffa2,#00ffa5,#00ffc2,#0fe,#0ff,#0ff,#00ffe3,#00ffa1,#0f6,#00ff3d,#00ff15,#04ff00,#19ff00,#2eff00,#40ff00,#5f0,#5f0,#5aff00)"></i>
<i style="background:linear-gradient(#00f,#00f,#00f,#0009ff,#0009ff,#0009ff,#0009ff,#0009ff,#0009ff,#0009ff,#0009ff,#0009ff,#0009ff,#0009ff,#0009ff,#0009ff,#0009ff,#0009ff,#0009ff,#000cff,#0018ff,#0026ff,#03f,#04f,#0051ff,#0062ff,#007cff,#09f,#00b1ff,#0cf,#0ff,#0ff,#0ff,#0ff,#0ff,#0ff,#00fff6,#00ffc7,#00ffb1,#00ffa2,#00ffa5,#00ffc2,#0fe,#0ff,#0ff,#00ffe4,#00ffa4,#0f6,#0f4,#00ff1b,#0f0,#1f0,#27ff00,#3aff00,#4dff00,#50ff00,#5f0)"></i>
<i style="background:linear-gradient(#00f,#00f,#00f,#0009ff,#0009ff,#0009ff,#0009ff,#0009ff,#0009ff,#0009ff,#0009ff,#0009ff,#0009ff,#0009ff,#0009ff,#0009ff,#0009ff,#0009ff,#0009ff,#000cff,#0018ff,#0026ff,#03f,#04f,#0051ff,#0062ff,#007cff,#09f,#00b1ff,#0cf,#0ff,#0ff,#0ff,#0ff,#0ff,#0ff,#00fff6,#00ffc7,#00ffb1,#00ffa2,#00ffa5,#00ffc2,#0fe,#0ff,#0ff,#00ffe2,#0f9,#0f5,#00ff28,#04ff00,#2f0,#3f0,#4bff00,#5dff00,#70ff00,#73ff00,#7f0)"></i>
<i style="background:linear-gradient(#00f,#00f,#00f,#0009ff,#0009ff,#0009ff,#0009ff,#0009ff,#0009ff,#0009ff,#0009ff,#0009ff,#0009ff,#0009ff,#0009ff,#0009ff,#0009ff,#0009ff,#0009ff,#000cff,#0018ff,#0026ff,#03f,#04f,#0051ff,#0062ff,#007cff,#09f,#00b1ff,#0cf,#0ff,#0ff,#0ff,#0ff,#0ff,#0ff,#00fff6,#00ffc7,#00ffb1,#00ffa2,#00ffa5,#00ffc2,#0fe,#0ff,#0ff,#00ffe1,#00ff95,#00ff50,#0f2,#08ff00,#2f0,#3bff00,#50ff00,#62ff00,#7f0,#7f0,#7cff00)"></i>
<i style="background:linear-gradient(#00f,#00f,#00f,#0009ff,#0009ff,#0009ff,#0009ff,#0009ff,#0009ff,#0009ff,#0009ff,#0009ff,#0009ff,#0009ff,#0009ff,#0009ff,#0009ff,#0009ff,#0009ff,#000cff,#0018ff,#0026ff,#03f,#04f,#0051ff,#0062ff,#007cff,#09f,#00b1ff,#0cf,#0ff,#0ff,#0ff,#0ff,#0ff,#0ff,#00fff6,#00ffc7,#00ffb1,#00ffa2,#00ffa5,#00ffc2,#0fe,#0ff,#0ff,#00ffe2,#0f9,#0f5,#00ff2c,#0f0,#1aff00,#3f0,#4f0,#5f0,#6aff00,#6eff00,#72ff00)"></i>
<i style="background:linear-gradient(#00f,#00f,#00f,#0009ff,#0009ff,#0009ff,#0009ff,#0009ff,#0009ff,#0009ff,#0009ff,#0009ff,#0009ff,#0009ff,#0009ff,#0009ff,#0009ff,#0009ff,#0007ff,#00f,#000aff,#01f,#001bff,#02f,#002dff,#0038ff,#004dff,#0061ff,#007bff,#0095ff,#00d8ff,#0df,#00e7ff,#0ef,#0ff,#0ff,#0ff,#00ffe4,#0fc,#00ffb5,#00ffb2,#0fc,#0fe,#0ff,#0ff,#00ffe5,#0fa,#0f7,#00ff50,#00ff2b,#0f1,#0f0,#15ff00,#27ff00,#3aff00,#3dff00,#4f0)"></i>
<i style="background:linear-gradient(#00f,#00f,#00f,#0009ff,#0009ff,#0009ff,#0009ff,#0009ff,#0009ff,#0009ff,#0009ff,#0009ff,#0009ff,#0009ff,#0009ff,#0009ff,#0009ff,#0009ff,#0009ff,#000cff,#0018ff,#0026ff,#03f,#04f,#0051ff,#0062ff,#007cff,#09f,#00b1ff,#0cf,#0ff,#0ff,#0ff,#0ff,#0ff,#0ff,#00fff6,#00ffc7,#00ffb1,#00ffa2,#00ffa5,#00ffc2,#0fe,#0ff,#0ff,#00ffe4,#00ffa4,#00ff6a,#0f4,#00ff1d,#00ff04,#1f0,#2f0,#38ff00,#4aff00,#4eff00,#5f0)"></i>
<i style="background:linear-gradient(#00f,#00f,#00f,#0009ff,#0009ff,#0009ff,#0009ff,#0009ff,#0009ff,#0009ff,#0009ff,#0009ff,#0009ff,#0009ff,#0009ff,#0009ff,#0009ff,#0009ff,#0009ff,#000cff,#0018ff,#0026ff,#03f,#04f,#0051ff,#0062ff,#007cff,#09f,#00b1ff,#0cf,#0ff,#0ff,#0ff,#0ff,#0ff,#0ff,#00fff6,#00ffc7,#00ffb1,#00ffa2,#00ffa5,#00ffc2,#00fff2,#0ff,#0ff,#00ffe5,#0fa,#0f7,#0f5,#00ff2f,#00ff18,#00ff04,#1f0,#2f0,#3f0,#38ff00,#3cff00)"></i>
<i style="background:linear-gradient(#00f,#00f,#00f,#0009ff,#0009ff,#0009ff,#0009ff,#0009ff,#0009ff,#0009ff,#0009ff,#0009ff,#0009ff,#0009ff,#0009ff,#0009ff,#0009ff,#0009ff,#0009ff,#000cff,#0018ff,#0026ff,#03f,#04f,#0051ff,#0062ff,#007cff,#09f,#00b1ff,#0cf,#0ff,#0ff,#0ff,#0ff,#0ff,#0ff,#00fff6,#00ffc7,#00ffb1,#00ffa2,#00ffa5,#00ffc2,#0fe,#0ff,#0ff,#00ffe5,#0fa,#0f7,#0f5,#0f3,#00ff1b,#00ff07,#0cff00,#2f0,#3f0,#3f0,#39ff00)"></i>
<i style="background:linear-gradient(#00f,#00f,#00f,#0009ff,#0009ff,#0009ff,#0009ff,#0009ff,#0009ff,#0009ff,#0009ff,#0009ff,#0009ff,#0009ff,#0009ff,#0009ff,#0009ff,#0009ff,#0009ff,#000cff,#0018ff,#0026ff,#03f,#04f,#0051ff,#0062ff,#007cff,#09f,#00b1ff,#0cf,#0ff,#0ff,#0ff,#0ff,#0ff,#0ff,#00fff6,#00ffc7,#00ffb1,#00ffa2,#00ffa5,#00ffc2,#0fe,#0ff,#0ff,#00ffe2,#0f9,#0f5,#00ff2e,#00ff04,#16ff00,#2dff00,#4f0,#5f0,#6f0,#6bff00,#6eff00)"></i>
<i style="background:linear-gradient(#00f,#00f,#00f,#0009ff,#0009ff,#0009ff,#0009ff,#0009ff,#0009ff,#0009ff,#0009ff,#0009ff,#0009ff,#0009ff,#0009ff,#0009ff,#0009ff,#0009ff,#0009ff,#000cff,#0018ff,#0026ff,#03f,#04f,#0051ff,#0062ff,#007cff,#09f,#00b1ff,#0cf,#0ff,#0ff,#0ff,#0ff,#0ff,#0ff,#00fff6,#00ffc7,#00ffb1,#00ffa2,#00ffa5,#00ffc2,#0fe,#0ff,#0ff,#00ffe5,#0fa,#00ff73,#00ff4f,#00ff2a,#0f1,#0f0,#16ff00,#29ff00,#3bff00,#3fff00,#4f0)"></i>
<i style="background:linear-gradient(#00f,#00f,#00f,#0009ff,#0009ff,#0009ff,#0009ff,#0009ff,#0009ff,#0009ff,#0009ff,#0009ff,#0009ff,#0009ff,#0009ff,#0009ff,#0009ff,#0009ff,#0009ff,#000cff,#0018ff,#0026ff,#03f,#04f,#0051ff,#0062ff,#007cff,#09f,#00b1ff,#0cf,#0ff,#0ff,#0ff,#0ff,#0ff,#0ff,#00fff6,#00ffc7,#00ffb1,#00ffa2,#00ffa5,#00ffc2,#0fe,#0ff,#0ff,#00ffe5,#0fa,#0f7,#0f5,#00ff2e,#00ff16,#0f0,#1f0,#2f0,#3f0,#3aff00,#3eff00)"></i>
<i style="background:linear-gradient(#00f,#00f,#00f,#0009ff,#0009ff,#0009ff,#0009ff,#0009ff,#0009ff,#0009ff,#0009ff,#0009ff,#0009ff,#0009ff,#0009ff,#0009ff,#0009ff,#0009ff,#0009ff,#000cff,#0018ff,#0026ff,#03f,#04f,#0051ff,#0062ff,#007cff,#09f,#00b1ff,#0cf,#0ff,#0ff,#0ff,#0ff,#0ff,#0ff,#00fff6,#00ffc7,#00ffb1,#00ffa2,#00ffa5,#00ffc2,#0fe,#0ff,#0ff,#00ffe1,#00ff95,#00ff4f,#0f2,#08ff00,#2f0,#3bff00,#50ff00,#6f0,#7f0,#7f0,#7dff00)"></i>
<i style="background:linear-gradient(#00f,#00f,#00f,#0009ff,#0009ff,#0009ff,#0009ff,#0009ff,#0009ff,#0009ff,#0009ff,#0009ff,#0009ff,#0009ff,#0009ff,#0009ff,#0009ff,#0009ff,#0009ff,#000cff,#0018ff,#0026ff,#03f,#04f,#0051ff,#0062ff,#007cff,#09f,#00b1ff,#0cf,#0ff,#0ff,#0ff,#0ff,#0ff,#0ff,#00fff6,#00ffc7,#00ffb1,#00ffa2,#00ffa5,#00ffc2,#0fe,#0ff,#0ff,#0fd,#00ff7c,#0f2,#1f0,#4f0,#6f0,#80ff00,#9f0,#af0,#bf0,#c0ff00,#c4ff00)"></i>
<i style="background:linear-gradient(#00f,#00f,#00f,#0009ff,#0009ff,#0009ff,#0009ff,#0009ff,#0009ff,#0009ff,#0009ff,#0009ff,#0009ff,#0009ff,#0009ff,#0009ff,#0009ff,#0009ff,#0009ff,#000cff,#0018ff,#0026ff,#03f,#04f,#0051ff,#0062ff,#007cff,#09f,#00b1ff,#0cf,#0ff,#0ff,#0ff,#0ff,#0ff,#0ff,#00fff6,#00ffc7,#00ffb1,#00ffa2,#00ffa5,#00ffc2,#0fe,#0ff,#0ff,#00ffe2,#0f9,#0f5,#00ff2c,#0f0,#1aff00,#3f0,#4f0,#5f0,#6aff00,#6eff00,#72ff00)"></i>
<i style="background:linear-gradient(#00f,#00f,#00f,#0009ff,#0009ff,#0009ff,#0009ff,#0009ff,#0009ff,#0009ff,#0009ff,#0009ff,#0009ff,#0009ff,#0009ff,#0009ff,#0009ff,#0009ff,#0009ff,#000cff,#0018ff,#0026ff,#03f,#04f,#0051ff,#0062ff,#007cff,#09f,#00b1ff,#0cf,#0ff,#0ff,#0ff,#0ff,#0ff,#0ff,#00fff6,#00ffc7,#00ffb1,#00ffa2,#00ffa5,#00ffc2,#0fe,#0ff,#0ff,#00ffe5,#0fa,#0f7,#0f5,#0f3,#00ff19,#00ff05,#1f0,#2f0,#3f0,#38ff00,#3bff00)"></i>
<i style="background:linear-gradient(#00f,#00f,#00f,#0009ff,#0009ff,#0009ff,#0009ff,#0009ff,#0009ff,#0009ff,#0009ff,#0009ff,#0009ff,#0009ff,#0009ff,#0009ff,#0009ff,#0009ff,#0009ff,#000cff,#0018ff,#0026ff,#03f,#04f,#0051ff,#0062ff,#007cff,#09f,#00b1ff,#0cf,#0ff,#0ff,#0ff,#0ff,#0ff,#0ff,#00fff6,#00ffc7,#00ffb1,#00ffa2,#00ffa5,#00ffc2,#0fe,#0ff,#0ff,#00ffe4,#0fa,#00ff71,#00ff4c,#00ff27,#0f1,#05ff00,#19ff00,#2cff00,#3eff00,#4f0,#4f0)"></i>
<i style="background:linear-gradient(#00f,#00f,#00f,#0009ff,#0009ff,#0009ff,#0009ff,#0009ff,#0009ff,#0009ff,#0009ff,#0009ff,#0009ff,#0009ff,#0009ff,#0009ff,#0009ff,#0009ff,#0007ff,#00f,#000aff,#01f,#001bff,#02f,#002dff,#0038ff,#004dff,#0061ff,#007bff,#0095ff,#00d8ff,#0df,#00e7ff,#0ef,#0ff,#0ff,#0ff,#00ffe4,#0fc,#00ffb5,#00ffb2,#0fc,#0fe,#0ff,#0ff,#00ffe5,#0fa,#0f7,#0f5,#0f3,#00ff1a,#00ff06,#1f0,#2f0,#3f0,#37ff00,#3aff00)"></i>
<i style="background:linear-gradient(#00f,#00f,#00f,#0009ff,#0009ff,#0009ff,#0009ff,#0009ff,#0009ff,#0009ff,#0009ff,#0009ff,#0009ff,#0009ff,#0009ff,#0009ff,#0009ff,#0009ff,#0009ff,#000cff,#0018ff,#0026ff,#03f,#04f,#0051ff,#0062ff,#007cff,#09f,#00b1ff,#0cf,#0ff,#0ff,#0ff,#0ff,#0ff,#0ff,#00fff6,#00ffc7,#00ffb1,#00ffa2,#00ffa5,#00ffc2,#0fe,#0ff,#0ff,#00ffe8,#00ffc0,#0f9,#00ff7e,#00ff61,#00ff4d,#00ff3b,#00ff29,#00ff17,#00ff05,#0f0,#0f0)"></i>
<i style="background:linear-gradient(#00f,#00f,#00f,#0009ff,#0009ff,#0009ff,#0009ff,#0009ff,#0009ff,#0009ff,#0009ff,#0009ff,#0009ff,#0009ff,#0009ff,#0009ff,#0009ff,#0009ff,#0009ff,#000cff,#0018ff,#0026ff,#03f,#04f,#0051ff,#0062ff,#007cff,#09f,#00b1ff,#0cf,#0ff,#0ff,#0ff,#0ff,#0ff,#0ff,#00fff6,#00ffc7,#00ffb1,#00ffa2,#00ffa5,#00ffc2,#0fe,#0ff,#0ff,#00ffe7,#00ffb7,#0f8,#00ff6a,#00ff4a,#0f3,#0f2,#0f1,#0f0,#16ff00,#19ff00,#1dff00)"></i>
<i style="background:linear-gradient(#00f,#00f,#00f,#0009ff,#0009ff,#0009ff,#0009ff,#0009ff,#0009ff,#0009ff,#0009ff,#0009ff,#0009ff,#0009ff,#0009ff,#0009ff,#0009ff,#0009ff,#0009ff,#000cff,#0018ff,#0026ff,#03f,#04f,#0051ff,#0062ff,#007cff,#09f,#00b1ff,#0cf,#0ff,#0ff,#0ff,#0ff,#0ff,#0ff,#00fff6,#00ffc7,#00ffb1,#00ffa2,#00ffa5,#00ffc2,#0fe,#0ff,#0ff,#00ffe3,#00ff9f,#00ff60,#00ff38,#0f1,#0aff00,#2f0,#3f0,#4f0,#5aff00,#5eff00,#61ff00)"></i>
<i style="background:linear-gradient(#00f,#00f,#00f,#0009ff,#0009ff,#0009ff,#0009ff,#0009ff,#0009ff,#0009ff,#0009ff,#0009ff,#0009ff,#0009ff,#0009ff,#0009ff,#0009ff,#0009ff,#0009ff,#000cff,#0018ff,#0026ff,#03f,#04f,#0051ff,#0062ff,#007cff,#09f,#00b1ff,#0cf,#0ff,#0ff,#0ff,#0ff,#0ff,#0ff,#00fff6,#00ffc7,#00ffb1,#00ffa2,#00ffa5,#00ffc2,#0fe,#0ff,#0ff,#00ffe5,#0fa,#00ff72,#00ff4d,#00ff28,#0f1,#04ff00,#18ff00,#2aff00,#3dff00,#40ff00,#4f0)"></i>
<i style="background:linear-gradient(#00f,#00f,#00f,#0009ff,#0009ff,#0009ff,#0009ff,#0009ff,#0009ff,#0009ff,#0009ff,#0009ff,#0009ff,#0009ff,#0009ff,#0009ff,#0009ff,#0009ff,#0009ff,#000cff,#0018ff,#0026ff,#03f,#04f,#0051ff,#0062ff,#007cff,#09f,#00b1ff,#0cf,#0ff,#0ff,#0ff,#0ff,#0ff,#0ff,#00fff6,#00ffc7,#00ffb1,#00ffa2,#00ffa5,#00ffc2,#0fe,#0ff,#0ff,#00ffe3,#00ffa2,#0f6,#00ff3e,#00ff17,#0f0,#17ff00,#2cff00,#3eff00,#51ff00,#5f0,#5f0)"></i>
<i style="background:linear-gradient(#00f,#00f,#00f,#0009ff,#0009ff,#0009ff,#0009ff,#0009ff,#0009ff,#0009ff,#0009ff,#0009ff,#0009ff,#0009ff,#0009ff,#0009ff,#0009ff,#0009ff,#0009ff,#000cff,#0018ff,#0026ff,#03f,#04f,#0051ff,#0062ff,#007cff,#09f,#00b1ff,#0cf,#0ff,#0ff,#0ff,#0ff,#0ff,#0ff,#00fff6,#00ffc7,#00ffb1,#00ffa2,#00ffa5,#00ffc2,#0fe,#0ff,#0ff,#0fd,#00ff8e,#0f4,#00ff16,#19ff00,#3f0,#4eff00,#6f0,#7f0,#8f0,#8cff00,#90ff00)"></i>
<i style="background:linear-gradient(#00f,#00f,#00f,#0009ff,#0009ff,#0009ff,#0009ff,#0009ff,#0009ff,#0009ff,#0009ff,#0009ff,#0009ff,#0009ff,#0009ff,#0009ff,#0009ff,#0009ff,#0009ff,#000cff,#0018ff,#0026ff,#03f,#04f,#0051ff,#0062ff,#007cff,#09f,#00b1ff,#0cf,#0ff,#0ff,#0ff,#0ff,#0ff,#0ff,#00fff6,#00ffc7,#00ffb1,#00ffa2,#00ffa5,#00ffc2,#0fe,#0ff,#0ff,#0fd,#0f8,#00ff39,#00ff08,#29ff00,#4f0,#5fff00,#7f0,#8f0,#9f0,#9eff00,#a2ff00)"></i>
<i style="background:linear-gradient(#00f,#00f,#00f,#0009ff,#0009ff,#0009ff,#0009ff,#0009ff,#0009ff,#0009ff,#0009ff,#0009ff,#0009ff,#0009ff,#0009ff,#0009ff,#0009ff,#0009ff,#0009ff,#000cff,#0018ff,#0026ff,#03f,#04f,#0051ff,#0062ff,#007cff,#09f,#00b1ff,#0cf,#0ff,#0ff,#0ff,#0ff,#0ff,#0ff,#00fff6,#00ffc7,#00ffb1,#00ffa2,#00ffa5,#00ffc2,#0fe,#0ff,#0ff,#00ffe3,#00ff9d,#00ff5d,#0f3,#00ff0b,#1f0,#2f0,#3aff00,#4dff00,#5fff00,#6f0,#6f0)"></i>
<i style="background:linear-gradient(#00f,#00f,#00f,#0009ff,#0009ff,#0009ff,#0009ff,#0009ff,#0009ff,#0009ff,#0009ff,#0009ff,#0009ff,#0009ff,#0009ff,#0009ff,#0009ff,#0009ff,#0009ff,#000cff,#0018ff,#0026ff,#03f,#04f,#0051ff,#0062ff,#007cff,#09f,#00b1ff,#0cf,#0ff,#0ff,#0ff,#0ff,#0ff,#0ff,#00fff6,#00ffc7,#00ffb1,#00ffa2,#00ffa5,#00ffc2,#0fe,#0ff,#0ff,#00ffe9,#00ffc3,#00ff9f,#00ff83,#0f6,#0f5,#0f4,#0f3,#0f2,#00ff0c,#00ff09,#00ff05)"></i>
<i style="background:linear-gradient(#00f,#00f,#00f,#0009ff,#0009ff,#0009ff,#0009ff,#0009ff,#0009ff,#0009ff,#0009ff,#0009ff,#0009ff,#0009ff,#0009ff,#0009ff,#0009ff,#0009ff,#0009ff,#000cff,#0018ff,#0026ff,#03f,#04f,#0051ff,#0062ff,#007cff,#09f,#00b1ff,#0cf,#0ff,#0ff,#0ff,#0ff,#0ff,#0ff,#00fff6,#00ffc7,#00ffb1,#00ffa2,#00ffa5,#00ffc2,#0fe,#0ff,#0ff,#00ffe7,#0fb,#00ff90,#00ff71,#0f5,#00ff3d,#00ff2a,#00ff18,#00ff06,#0dff00,#1f0,#1f0)"></i>
<i style="background:linear-gradient(#00f,#00f,#00f,#0009ff,#0009ff,#0009ff,#0009ff,#0009ff,#0009ff,#0009ff,#0009ff,#0009ff,#0009ff,#0009ff,#0009ff,#0009ff,#0009ff,#0009ff,#0009ff,#000cff,#0018ff,#0026ff,#03f,#04f,#0051ff,#0062ff,#007cff,#09f,#00b1ff,#0cf,#0ff,#0ff,#0ff,#0ff,#0ff,#0ff,#00fff6,#00ffc7,#00ffb1,#00ffa2,#00ffa5,#00ffc2,#0fe,#0ff,#0ff,#00ffe6,#00ffb0,#00ff7e,#00ff5b,#00ff39,#0f2,#0f1,#05ff00,#17ff00,#2aff00,#2eff00,#3f0)"></i>
<i style="background:linear-gradient(#00f,#00f,#00f,#0009ff,#0009ff,#0009ff,#0009ff,#0009ff,#0009ff,#0009ff,#0009ff,#0009ff,#0009ff,#0009ff,#0009ff,#0009ff,#0009ff,#0009ff,#0007ff,#00f,#000aff,#01f,#001bff,#02f,#002dff,#0038ff,#004dff,#0061ff,#007bff,#0095ff,#00d8ff,#0df,#00e7ff,#0ef,#0ff,#0ff,#0ff,#00ffe4,#0fc,#00ffb5,#00ffb2,#0fc,#00fff5,#0ff,#0ff,#00ffe3,#00ff9e,#00ff60,#00ff37,#0f1,#0bff00,#2f0,#3f0,#48ff00,#5bff00,#5fff00,#62ff00)"></i>
<i style="background:linear-gradient(#00f,#00f,#00f,#0009ff,#0009ff,#0009ff,#0009ff,#0009ff,#0009ff,#0009ff,#0009ff,#0009ff,#0009ff,#0009ff,#0009ff,#0009ff,#0009ff,#0009ff,#0009ff,#000cff,#0018ff,#0026ff,#03f,#04f,#0051ff,#0062ff,#007cff,#09f,#00b1ff,#0cf,#0ff,#0ff,#0ff,#0ff,#0ff,#0ff,#00fff6,#00ffc7,#00ffb1,#00ffa2,#00ffa5,#00ffc2,#00fff2,#0ff,#0ff,#00ffe4,#0fa,#00ff70,#00ff4a,#0f2,#00ff0d,#08ff00,#1cff00,#2eff00,#4f0,#4f0,#48ff00)"></i>
<i style="background:linear-gradient(#00f,#00f,#00f,#0009ff,#0009ff,#0009ff,#0009ff,#0009ff,#0009ff,#0009ff,#0009ff,#0009ff,#0009ff,#0009ff,#0009ff,#0009ff,#0009ff,#0009ff,#0009ff,#000cff,#0018ff,#0026ff,#03f,#04f,#0051ff,#0062ff,#007cff,#09f,#00b1ff,#0cf,#0ff,#0ff,#0ff,#0ff,#0ff,#0ff,#00fff6,#00ffc7,#00ffb1,#00ffa2,#00ffa5,#00ffc2,#0fe,#0ff,#0ff,#00ffe4,#00ffa6,#00ff6c,#0f4,#0f2,#00ff08,#0dff00,#2f0,#3f0,#4f0,#4aff00,#4eff00)"></i>
<i style="background:linear-gradient(#00f,#00f,#00f,#0009ff,#0009ff,#0009ff,#0009ff,#0009ff,#0009ff,#0009ff,#0009ff,#0009ff,#0009ff,#0009ff,#0009ff,#0009ff,#0009ff,#0009ff,#0009ff,#000cff,#0018ff,#0026ff,#03f,#04f,#0051ff,#0062ff,#007cff,#09f,#00b1ff,#0cf,#0ff,#0ff,#0ff,#0ff,#0ff,#0ff,#00fff6,#00ffc7,#00ffb1,#00ffa2,#00ffa5,#00ffc2,#00fff2,#0ff,#0ff,#00ffe5,#0fa,#00ff73,#00ff4f,#00ff2a,#0f1,#0f0,#16ff00,#28ff00,#3bff00,#3eff00,#4f0)"></i>
<i style="background:linear-gradient(#00f,#00f,#00f,#0009ff,#0009ff,#0009ff,#0009ff,#0009ff,#0009ff,#0009ff,#0009ff,#0009ff,#0009ff,#0009ff,#0009ff,#0009ff,#0009ff,#0009ff,#0009ff,#000cff,#0018ff,#0026ff,#03f,#04f,#0051ff,#0062ff,#007cff,#09f,#00b1ff,#0cf,#0ff,#0ff,#0ff,#0ff,#0ff,#0ff,#00fff6,#00ffc7,#00ffb1,#00ffa2,#00ffa5,#00ffc2,#0fe,#0ff,#0ff,#00ffe5,#0fa,#00ff72,#00ff4d,#00ff29,#0f1,#04ff00,#17ff00,#2aff00,#3cff00,#40ff00,#4f0)"></i>
<i style="background:linear-gradient(#00f,#00f,#00f,#0009ff,#0009ff,#0009ff,#0009ff,#0009ff,#0009ff,#0009ff,#0009ff,#0009ff,#0009ff,#0009ff,#0009ff,#0009ff,#0009ff,#0009ff,#0009ff,#000cff,#0018ff,#0026ff,#03f,#04f,#0051ff,#0062ff,#007cff,#09f,#00b1ff,#0cf,#0ff,#0ff,#0ff,#0ff,#0ff,#0ff,#00fff6,#00ffc7,#00ffb1,#00ffa2,#00ffa5,#00ffc2,#0fe,#0ff,#0ff,#00ffe6,#00ffb4,#0f8,#0f6,#0f4,#00ff2c,#00ff19,#00ff06,#0cff00,#2f0,#2f0,#26ff00)"></i>
<i style="background:linear-gradient(#00f,#00f,#00f,#0009ff,#0009ff,#0009ff,#0009ff,#0009ff,#0009ff,#0009ff,#0009ff,#0009ff,#0009ff,#0009ff,#0009ff,#0009ff,#0009ff,#0009ff,#0009ff,#000cff,#0018ff,#0026ff,#03f,#04f,#0051ff,#0062ff,#007cff,#09f,#00b1ff,#0cf,#0ff,#0ff,#0ff,#0ff,#0ff,#0ff,#00fff6,#00ffc7,#00ffb1,#00ffa2,#00ffa5,#00ffc2,#0fe,#0ff,#0ff,#00ffe4,#00ffa5,#00ff6c,#0f4,#0f2,#00ff07,#1f0,#2f0,#3f0,#4f0,#4bff00,#4fff00)"></i>
<i style="background:linear-gradient(#00f,#00f,#00f,#0009ff,#0009ff,#0009ff,#0009ff,#0009ff,#0009ff,#0009ff,#0009ff,#0009ff,#0009ff,#0009ff,#0009ff,#0009ff,#0009ff,#0009ff,#0009ff,#000cff,#0018ff,#0026ff,#03f,#04f,#0051ff,#0062ff,#007cff,#09f,#00b1ff,#0cf,#0ff,#0ff,#0ff,#0ff,#0ff,#0ff,#00fff6,#00ffc7,#00ffb1,#00ffa2,#00ffa5,#00ffc2,#0fe,#0ff,#0ff,#00ffe7,#0fb,#00ff8e,#00ff6e,#00ff4f,#00ff3a,#00ff27,#00ff15,#0f0,#1f0,#1f0,#17ff00)"></i>
<i style="background:linear-gradient(#00f,#00f,#00f,#0009ff,#0009ff,#0009ff,#0009ff,#0009ff,#0009ff,#0009ff,#0009ff,#0009ff,#0009ff,#0009ff,#0009ff,#0009ff,#0009ff,#0009ff,#0009ff,#000cff,#0018ff,#0026ff,#03f,#04f,#0051ff,#0062ff,#007cff,#09f,#00b1ff,#0cf,#0ff,#0ff,#0ff,#0ff,#0ff,#0ff,#00fff6,#00ffc7,#00ffb1,#00ffa2,#00ffa5,#00ffc2,#0fe,#0ff,#0ff,#00ffe8,#00ffbf,#0f9,#0f7,#00ff5d,#00ff48,#0f3,#0f2,#0f1,#0f0,#04ff00,#08ff00)"></i>
<i style="background:linear-gradient(#00f,#00f,#00f,#0009ff,#0009ff,#0009ff,#0009ff,#0009ff,#0009ff,#0009ff,#0009ff,#0009ff,#0009ff,#0009ff,#0009ff,#0009ff,#0009ff,#0009ff,#0009ff,#000cff,#0018ff,#0026ff,#03f,#04f,#0051ff,#0062ff,#007cff,#09f,#00b1ff,#0cf,#0ff,#0ff,#0ff,#0ff,#0ff,#0ff,#00fff6,#00ffc7,#00ffb1,#00ffa2,#00ffa5,#00ffc2,#0fe,#0ff,#0ff,#00ffe6,#00ffb5,#0f8,#0f6,#0f4,#00ff2e,#00ff1b,#00ff09,#0aff00,#1cff00,#2f0,#2f0)"></i>
<i style="background:linear-gradient(#00f,#00f,#00f,#0009ff,#0009ff,#0009ff,#0009ff,#0009ff,#0009ff,#0009ff,#0009ff,#0009ff,#0009ff,#0009ff,#0009ff,#0009ff,#0009ff,#0009ff,#0009ff,#000cff,#0018ff,#0026ff,#03f,#04f,#0051ff,#0062ff,#007cff,#09f,#00b1ff,#0cf,#0ff,#0ff,#0ff,#0ff,#0ff,#0ff,#00fff6,#00ffc7,#00ffb1,#00ffa2,#00ffa5,#00ffc2,#0fe,#0ff,#0ff,#00ffe5,#0fa,#00ff72,#00ff4d,#00ff28,#0f1,#04ff00,#18ff00,#2bff00,#3dff00,#4f0,#4f0)"></i>
<i style="background:linear-gradient(#00f,#00f,#00f,#0009ff,#0009ff,#0009ff,#0009ff,#0009ff,#0009ff,#0009ff,#0009ff,#0009ff,#0009ff,#0009ff,#0009ff,#0009ff,#0009ff,#0009ff,#0009ff,#000cff,#0018ff,#0026ff,#03f,#04f,#0051ff,#0062ff,#007cff,#09f,#00b1ff,#0cf,#0ff,#0ff,#0ff,#0ff,#0ff,#0ff,#00fff6,#00ffc7,#00ffb1,#00ffa2,#00ffa5,#00ffc2,#0fe,#0ff,#0ff,#00ffe2,#0f9,#0f5,#00ff2e,#00ff04,#16ff00,#2dff00,#4f0,#5f0,#6f0,#6aff00,#6eff00)"></i>
<i style="background:linear-gradient(#00f,#00f,#00f,#0009ff,#0009ff,#0009ff,#0009ff,#0009ff,#0009ff,#0009ff,#0009ff,#0009ff,#0009ff,#0009ff,#0009ff,#0009ff,#0009ff,#0009ff,#0007ff,#00f,#000aff,#01f,#001bff,#02f,#002dff,#0038ff,#004dff,#0061ff,#007bff,#0095ff,#00d8ff,#0df,#00e7ff,#0ef,#0ff,#0ff,#0ff,#00ffe4,#0fc,#00ffb5,#00ffb2,#0fc,#0fe,#0ff,#0ff,#0fd,#00ff6d,#00ff0a,#3f0,#6bff00,#8dff00,#af0,#c1ff00,#d4ff00,#e6ff00,#eaff00,#ef0)"></i>
<i style="background:linear-gradient(#00f,#00f,#00f,#0009ff,#0009ff,#0009ff,#0009ff,#0009ff,#0009ff,#0009ff,#0009ff,#0009ff,#0009ff,#0009ff,#0009ff,#0009ff,#0009ff,#0009ff,#0009ff,#000cff,#0018ff,#0026ff,#03f,#04f,#0051ff,#0062ff,#007cff,#09f,#00b1ff,#0cf,#0ff,#0ff,#0ff,#0ff,#0ff,#0ff,#00fff6,#00ffc7,#00ffb1,#00ffa2,#00ffa5,#00ffc2,#0fe,#0ff,#0ff,#0fd,#0f6,#0f0,#3bff00,#7f0,#9f0,#b6ff00,#cf0,#e1ff00,#f4ff00,#f8ff00,#fbff00)"></i>
<i style="background:linear-gradient(#00f,#00f,#00f,#0009ff,#0009ff,#0009ff,#0009ff,#0009ff,#0009ff,#0009ff,#0009ff,#0009ff,#0009ff,#0009ff,#0009ff,#0009ff,#0009ff,#0009ff,#0009ff,#000cff,#0018ff,#0026ff,#03f,#04f,#0051ff,#0062ff,#007cff,#09f,#00b1ff,#0cf,#0ff,#0ff,#0ff,#0ff,#0ff,#0ff,#00fff6,#00ffc7,#00ffb1,#00ffa2,#00ffa5,#00ffc2,#0fe,#0ff,#0ff,#00ffe4,#00ffa5,#00ff6b,#0f4,#00ff1e,#00ff05,#1f0,#2f0,#37ff00,#49ff00,#4dff00,#51ff00)"></i>
<i style="background:linear-gradient(#00f,#00f,#00f,#0009ff,#0009ff,#0009ff,#0009ff,#0009ff,#0009ff,#0009ff,#0009ff,#0009ff,#0009ff,#0009ff,#0009ff,#0009ff,#0009ff,#0009ff,#0009ff,#000cff,#0018ff,#0026ff,#03f,#04f,#0051ff,#0062ff,#007cff,#09f,#00b1ff,#0cf,#0ff,#0ff,#0ff,#0ff,#0ff,#0ff,#00fff6,#00ffc7,#00ffb1,#00ffa2,#00ffa5,#00ffc2,#0fe,#0ff,#0ff,#0fd,#00ff81,#00ff2c,#07ff00,#3aff00,#59ff00,#72ff00,#8f0,#9f0,#aeff00,#b2ff00,#b6ff00)"></i>
<i style="background:linear-gradient(#00f,#00f,#00f,#0009ff,#0009ff,#0009ff,#0009ff,#0009ff,#0009ff,#0009ff,#0009ff,#0009ff,#0009ff,#0009ff,#0009ff,#0009ff,#0009ff,#0009ff,#0009ff,#000cff,#0018ff,#0026ff,#03f,#04f,#0051ff,#0062ff,#007cff,#09f,#00b1ff,#0cf,#0ff,#0ff,#0ff,#0ff,#0ff,#0ff,#00fff6,#00ffc7,#00ffb1,#00ffa2,#00ffa5,#00ffc2,#0fe,#0ff,#0ff,#00ffe4,#00ffa3,#0f6,#0f4,#00ff1b,#0f0,#1f0,#28ff00,#3aff00,#4dff00,#50ff00,#5f0)"></i>
<i style="background:linear-gradient(#00f,#00f,#00f,#0009ff,#0009ff,#0009ff,#0009ff,#0009ff,#0009ff,#0009ff,#0009ff,#0009ff,#0009ff,#0009ff,#0009ff,#0009ff,#0009ff,#0009ff,#0009ff,#000cff,#0018ff,#0026ff,#03f,#04f,#0051ff,#0062ff,#007cff,#09f,#00b1ff,#0cf,#0ff,#0ff,#0ff,#0ff,#0ff,#0ff,#00fff6,#00ffc7,#00ffb1,#00ffa2,#00ffa5,#00ffc2,#0fe,#0ff,#0ff,#00ffe6,#00ffb3,#00ff84,#0f6,#0f4,#00ff2b,#00ff18,#00ff05,#0dff00,#2f0,#2f0,#27ff00)"></i>
<i style="background:linear-gradient(#00f,#00f,#00f,#0009ff,#0009ff,#0009ff,#0009ff,#0009ff,#0009ff,#0009ff,#0009ff,#0009ff,#0009ff,#0009ff,#0009ff,#0009ff,#0009ff,#0009ff,#0009ff,#000cff,#0018ff,#0026ff,#03f,#04f,#0051ff,#0062ff,#007cff,#09f,#00b1ff,#0cf,#0ff,#0ff,#0ff,#0ff,#0ff,#0ff,#00fff6,#00ffc7,#00ffb1,#00ffa2,#00ffa5,#00ffc2,#0fe,#0ff,#0ff,#0fd,#00ff8e,#0f4,#00ff16,#19ff00,#3f0,#4dff00,#6f0,#7f0,#8f0,#8cff00,#8fff00)"></i>
<i style="background:linear-gradient(#00f,#00f,#00f,#0009ff,#0009ff,#0009ff,#0009ff,#0009ff,#0009ff,#0009ff,#0009ff,#0009ff,#0009ff,#0009ff,#0009ff,#0009ff,#0009ff,#0009ff,#0009ff,#000cff,#0018ff,#0026ff,#03f,#04f,#0051ff,#0062ff,#007cff,#09f,#00b1ff,#0cf,#0ff,#0ff,#0ff,#0ff,#0ff,#0ff,#00fff6,#00ffc7,#00ffb1,#00ffa2,#00ffa5,#00ffc2,#00fff5,#0ff,#0ff,#0fd,#0f8,#00ff3c,#00ff0c,#2f0,#4f0,#5aff00,#71ff00,#83ff00,#9f0,#9f0,#9dff00)"></i>
<i style="background:linear-gradient(#00f,#00f,#00f,#0009ff,#0009ff,#0009ff,#0009ff,#0009ff,#0009ff,#0009ff,#0009ff,#0009ff,#0009ff,#0009ff,#0009ff,#0009ff,#0009ff,#0009ff,#0009ff,#000cff,#0018ff,#0026ff,#03f,#04f,#0051ff,#0062ff,#007cff,#09f,#00b1ff,#0cf,#0ff,#0ff,#0ff,#0ff,#0ff,#0ff,#00fff6,#00ffc7,#00ffb1,#00ffa2,#00ffa5,#00ffc2,#0fe,#0ff,#0ff,#0fd,#00ff83,#0f3,#0f0,#3f0,#51ff00,#6bff00,#81ff00,#94ff00,#a6ff00,#af0,#aeff00)"></i>
<i style="background:linear-gradient(#00f,#00f,#00f,#0009ff,#0009ff,#0009ff,#0009ff,#0009ff,#0009ff,#0009ff,#0009ff,#0009ff,#0009ff,#0009ff,#0009ff,#0009ff,#0009ff,#0009ff,#0009ff,#000cff,#0018ff,#0026ff,#03f,#04f,#0051ff,#0062ff,#007cff,#09f,#00b1ff,#0cf,#0ff,#0ff,#0ff,#0ff,#0ff,#0ff,#00fff6,#00ffc7,#00ffb1,#00ffa2,#00ffa5,#00ffc2,#0fe,#0ff,#0ff,#0fd,#0f8,#00ff3e,#0f1,#2f0,#3fff00,#5f0,#6dff00,#80ff00,#92ff00,#9f0,#9f0)"></i>
<i style="background:linear-gradient(#00f,#00f,#00f,#0009ff,#0009ff,#0009ff,#0009ff,#0009ff,#0009ff,#0009ff,#0009ff,#0009ff,#0009ff,#0009ff,#0009ff,#0009ff,#0009ff,#0009ff,#0009ff,#000cff,#0018ff,#0026ff,#03f,#04f,#0051ff,#0062ff,#007cff,#09f,#00b1ff,#0cf,#0ff,#0ff,#0ff,#0ff,#0ff,#0ff,#00fff6,#00ffc7,#00ffb1,#00ffa2,#00ffa5,#00ffc2,#0fe,#0ff,#0ff,#00ffe4,#00ffa4,#0f6,#0f4,#00ff1b,#0f0,#1f0,#28ff00,#3aff00,#4dff00,#50ff00,#5f0)"></i>
<i style="background:linear-gradient(#00f,#00f,#00f,#0009ff,#0009ff,#0009ff,#0009ff,#0009ff,#0009ff,#0009ff,#0009ff,#0009ff,#0009ff,#0009ff,#0009ff,#0009ff,#0009ff,#0009ff,#0009ff,#000cff,#0018ff,#0026ff,#03f,#04f,#0051ff,#0062ff,#007cff,#09f,#00b1ff,#0cf,#0ff,#0ff,#0ff,#0ff,#0ff,#0ff,#00fff6,#00ffc7,#00ffb1,#00ffa2,#00ffa5,#00ffc2,#00fff4,#0ff,#0ff,#0fc,#0f7,#0f2,#1f0,#4f0,#6f0,#7eff00,#95ff00,#af0,#bf0,#bf0,#c1ff00)"></i>
<i style="background:linear-gradient(#00f,#00f,#00f,#0009ff,#0009ff,#0009ff,#0009ff,#0009ff,#0009ff,#0009ff,#0009ff,#0009ff,#0009ff,#0009ff,#0009ff,#0009ff,#0009ff,#0009ff,#0007ff,#00f,#000aff,#01f,#001bff,#02f,#002dff,#0038ff,#004dff,#0061ff,#007bff,#0095ff,#00d8ff,#0df,#00e7ff,#0ef,#0ff,#0ff,#0ff,#00ffe4,#0fc,#00ffb5,#00ffb2,#0fc,#00fff5,#0ff,#0ff,#0fd,#0f9,#00ff5b,#0f3,#00ff08,#1f0,#29ff00,#3dff00,#50ff00,#62ff00,#6f0,#6aff00)"></i>
<i style="background:linear-gradient(#00f,#00f,#00f,#0009ff,#0009ff,#0009ff,#0009ff,#0009ff,#0009ff,#0009ff,#0009ff,#0009ff,#0009ff,#0009ff,#0009ff,#0009ff,#0009ff,#0009ff,#0009ff,#000cff,#0018ff,#0026ff,#03f,#04f,#0051ff,#0062ff,#007cff,#09f,#00b1ff,#0cf,#0ff,#0ff,#0ff,#0ff,#0ff,#0ff,#00fff6,#00ffc7,#00ffb1,#00ffa2,#00ffa5,#00ffc2,#0fe,#0ff,#0ff,#00ffc4,#00ff6f,#0f2,#15ff00,#4bff00,#6bff00,#8f0,#9dff00,#afff00,#c2ff00,#c5ff00,#cf0)"></i>
<i style="background:linear-gradient(#00f,#00f,#00f,#0009ff,#0009ff,#0009ff,#0009ff,#0009ff,#0009ff,#0009ff,#0009ff,#0009ff,#0009ff,#0009ff,#0009ff,#0009ff,#0009ff,#0009ff,#0009ff,#000cff,#0018ff,#0026ff,#03f,#04f,#0051ff,#0062ff,#007cff,#09f,#00b1ff,#0cf,#0ff,#0ff,#0ff,#0ff,#0ff,#0ff,#00fff6,#00ffc7,#00ffb1,#00ffa2,#00ffa5,#00ffc2,#0fe,#0ff,#00fff2,#00ff9e,#00ff38,#28ff00,#6cff00,#b1ff00,#d8ff00,#f7ff00,#ff0,#ff0,#ff0,#ff0,#ff0)"></i>
<i style="background:linear-gradient(#00f,#00f,#00f,#0009ff,#0009ff,#0009ff,#0009ff,#0009ff,#0009ff,#0009ff,#0009ff,#0009ff,#0009ff,#0009ff,#0009ff,#0009ff,#0009ff,#0009ff,#0009ff,#000cff,#0018ff,#0026ff,#03f,#04f,#0051ff,#0062ff,#007cff,#09f,#00b1ff,#0cf,#0ff,#0ff,#0ff,#0ff,#0ff,#0ff,#00fff6,#00ffc7,#00ffb1,#00ffa2,#00ffa5,#00ffc2,#00fff5,#0ff,#0ff,#00ffc3,#00ff72,#00ff27,#1f0,#4f0,#62ff00,#7cff00,#93ff00,#a5ff00,#bf0,#bf0,#bfff00)"></i>
<i style="background:linear-gradient(#00f,#00f,#00f,#0009ff,#0009ff,#0009ff,#0009ff,#0009ff,#0009ff,#0009ff,#0009ff,#0009ff,#0009ff,#0009ff,#0009ff,#0009ff,#0009ff,#0009ff,#0009ff,#000cff,#0018ff,#0026ff,#03f,#04f,#0051ff,#0062ff,#007cff,#09f,#00b1ff,#0cf,#0ff,#0ff,#0ff,#0ff,#0ff,#0ff,#00fff6,#00ffc7,#00ffb1,#00ffa2,#00ffa5,#00ffc2,#00fff5,#0ff,#0ff,#00ffa2,#0f4,#18ff00,#59ff00,#9f0,#c0ff00,#df0,#f7ff00,#ff0,#ff0,#ff0,#ff0)"></i>
<i style="background:linear-gradient(#00f,#00f,#00f,#0009ff,#0009ff,#0009ff,#0009ff,#0009ff,#0009ff,#0009ff,#0009ff,#0009ff,#0009ff,#0009ff,#0009ff,#0009ff,#0009ff,#0009ff,#0009ff,#000cff,#0018ff,#0026ff,#03f,#04f,#0051ff,#0062ff,#007cff,#09f,#00b1ff,#0cf,#0ff,#0ff,#0ff,#0ff,#0ff,#0ff,#00fff6,#00ffc7,#00ffb1,#00ffa2,#00ffa5,#00ffc2,#0fe,#0ff,#0ff,#0fa,#00ff4d,#09ff00,#48ff00,#8f0,#af0,#c8ff00,#df0,#f3ff00,#ff0,#ff0,#ff0)"></i>
<i style="background:linear-gradient(#00f,#00f,#00f,#0009ff,#0009ff,#0009ff,#0009ff,#0009ff,#0009ff,#0009ff,#0009ff,#0009ff,#0009ff,#0009ff,#0009ff,#0009ff,#0009ff,#0009ff,#0009ff,#000cff,#0018ff,#0026ff,#03f,#04f,#0051ff,#0062ff,#007cff,#09f,#00b1ff,#0cf,#0ff,#0ff,#0ff,#0ff,#0ff,#0ff,#00fff6,#00ffc7,#00ffb1,#00ffa2,#00ffa5,#00ffc2,#00fff3,#0ff,#0ff,#00ffa1,#00ff40,#1aff00,#5cff00,#9eff00,#c3ff00,#e1ff00,#fbff00,#ff0,#ff0,#ff0,#ff0)"></i>
<i style="background:linear-gradient(#00f,#00f,#00f,#0009ff,#0009ff,#0009ff,#0009ff,#0009ff,#0009ff,#0009ff,#0009ff,#0009ff,#0009ff,#0009ff,#0009ff,#0009ff,#0009ff,#0009ff,#0009ff,#000cff,#0018ff,#0026ff,#03f,#04f,#0051ff,#0062ff,#007cff,#09f,#00b1ff,#0cf,#0ff,#0ff,#0ff,#0ff,#0ff,#0ff,#00fff6,#00ffc7,#00ffb1,#00ffa2,#00ffa5,#00ffc2,#00fffa,#00f4ff,#0ff,#0f9,#00ff38,#2f0,#6aff00,#aeff00,#d4ff00,#f3ff00,#ff0,#ff0,#ff0,#ff0,#ff0)"></i>
<i style="background:linear-gradient(#00f,#00f,#00f,#0009ff,#0009ff,#0009ff,#0009ff,#0009ff,#0009ff,#0009ff,#0009ff,#0009ff,#0009ff,#0009ff,#0009ff,#0009ff,#0009ff,#0009ff,#0009ff,#000cff,#0018ff,#0026ff,#03f,#04f,#0051ff,#0062ff,#007cff,#09f,#00b1ff,#0cf,#0ff,#0ff,#0ff,#0ff,#0ff,#0ff,#00fff6,#00ffc7,#00ffb1,#00ffa2,#00ffa5,#00ffc2,#00fff4,#0ff,#00fff7,#00ff81,#0f1,#5f0,#a4ff00,#f2ff00,#ff0,#ff0,#ff0,#fff500,#fd0,#fd0,#ffd800)"></i>
<i style="background:linear-gradient(#00f,#00f,#00f,#0009ff,#0009ff,#0009ff,#0009ff,#0009ff,#0009ff,#0009ff,#0009ff,#0009ff,#0009ff,#0009ff,#0009ff,#0009ff,#0009ff,#0009ff,#0009ff,#000cff,#0018ff,#0026ff,#03f,#04f,#0051ff,#0062ff,#007cff,#09f,#00b1ff,#0cf,#0ff,#0ff,#0ff,#0ff,#0ff,#0ff,#00fff6,#00ffc7,#00ffb1,#00ffa2,#00ffa5,#00ffc2,#0fe,#0ff,#0ff,#00ffa1,#0f4,#19ff00,#5bff00,#9f0,#c2ff00,#df0,#f9ff00,#ff0,#ff0,#ff0,#ff0)"></i>
<i style="background:linear-gradient(#00f,#00f,#00f,#0009ff,#0009ff,#0009ff,#0009ff,#0009ff,#0009ff,#0009ff,#0009ff,#0009ff,#0009ff,#0009ff,#0009ff,#0009ff,#0009ff,#0009ff,#0009ff,#000cff,#0018ff,#0026ff,#03f,#04f,#0051ff,#0062ff,#007cff,#09f,#00b1ff,#0cf,#0ff,#0ff,#0ff,#0ff,#0ff,#0ff,#00fff6,#00ffc7,#00ffb1,#00ffa2,#00ffa5,#00ffc2,#0fe,#0ff,#0ff,#00ffb0,#0f5,#00ff05,#37ff00,#73ff00,#95ff00,#b1ff00,#cf0,#df0,#ef0,#f2ff00,#f6ff00)"></i>
<i style="background:linear-gradient(#00f,#00f,#00f,#0009ff,#0009ff,#0009ff,#0009ff,#0009ff,#0009ff,#0009ff,#0009ff,#0009ff,#0009ff,#0009ff,#0009ff,#0009ff,#0009ff,#0009ff,#0009ff,#000cff,#0018ff,#0026ff,#03f,#04f,#0051ff,#0062ff,#007cff,#09f,#00b1ff,#0cf,#0ff,#0ff,#0ff,#0ff,#0ff,#0ff,#00fff6,#00ffc7,#00ffb1,#00ffa2,#00ffa5,#00ffc2,#0fe,#0ff,#0ff,#00ffb6,#00ff60,#0f1,#29ff00,#62ff00,#84ff00,#9fff00,#b7ff00,#cf0,#df0,#df0,#e4ff00)"></i>
<i style="background:linear-gradient(#00f,#00f,#00f,#0009ff,#0009ff,#0009ff,#0009ff,#0009ff,#0009ff,#0009ff,#0009ff,#0009ff,#0009ff,#0009ff,#0009ff,#0009ff,#0009ff,#0009ff,#0007ff,#00f,#000aff,#01f,#001bff,#02f,#002dff,#0038ff,#004dff,#0061ff,#007bff,#0095ff,#00d8ff,#0df,#00e7ff,#0ef,#0ff,#0ff,#0ff,#00ffe4,#0fc,#00ffb5,#00ffb2,#0fc,#0fe,#0ff,#0ff,#0fb,#0f6,#00ff16,#2f0,#5bff00,#7cff00,#9f0,#aeff00,#c1ff00,#d3ff00,#d7ff00,#df0)"></i>
<i style="background:linear-gradient(#00f,#00f,#00f,#0009ff,#0009ff,#0009ff,#0009ff,#0009ff,#0009ff,#0009ff,#0009ff,#0009ff,#0009ff,#0009ff,#0009ff,#0009ff,#0009ff,#0009ff,#0009ff,#000cff,#0018ff,#0026ff,#03f,#04f,#0051ff,#0062ff,#007cff,#09f,#00b1ff,#0cf,#0ff,#0ff,#0ff,#0ff,#0ff,#0ff,#00fff6,#00ffc7,#00ffb1,#00ffa2,#00ffa5,#00ffc2,#0fe,#0ff,#00ffe2,#00ff7c,#00ff0b,#60ff00,#b0ff00,#ff0,#ff0,#ff0,#fff700,#ffe200,#fc0,#fc0,#ffc600)"></i>
<i style="background:linear-gradient(#00f,#00f,#00f,#0009ff,#0009ff,#0009ff,#0009ff,#0009ff,#0009ff,#0009ff,#0009ff,#0009ff,#0009ff,#0009ff,#0009ff,#0009ff,#0009ff,#0009ff,#0009ff,#000cff,#0018ff,#0026ff,#03f,#04f,#0051ff,#0062ff,#007cff,#09f,#00b1ff,#0cf,#0ff,#0ff,#0ff,#0ff,#0ff,#0ff,#00fff6,#00ffc7,#00ffb1,#00ffa2,#00ffa5,#00ffc2,#0fe,#0ff,#0fe,#00ff92,#00ff2b,#3f0,#7eff00,#c5ff00,#ef0,#ff0,#ff0,#ff0,#ff0,#ff0,#ff0)"></i>
<i style="background:linear-gradient(#00f,#00f,#00f,#0009ff,#0009ff,#0009ff,#0009ff,#0009ff,#0009ff,#0009ff,#0009ff,#0009ff,#0009ff,#0009ff,#0009ff,#0009ff,#0009ff,#0009ff,#0009ff,#000cff,#0018ff,#0026ff,#03f,#04f,#0051ff,#0062ff,#007cff,#09f,#00b1ff,#0cf,#0ff,#0ff,#0ff,#0ff,#0ff,#0ff,#00fff6,#00ffc7,#00ffb1,#00ffa2,#00ffa5,#00ffc2,#0fe,#0ff,#00ffe5,#00ff81,#0f1,#5f0,#a4ff00,#f2ff00,#ff0,#ff0,#ff0,#fff300,#fd0,#fd0,#ffd700)"></i>
<i style="background:linear-gradient(#00f,#00f,#00f,#0009ff,#0009ff,#0009ff,#0009ff,#0009ff,#0009ff,#0009ff,#0009ff,#0009ff,#0009ff,#0009ff,#0009ff,#0009ff,#0009ff,#0009ff,#0009ff,#000cff,#0018ff,#0026ff,#03f,#04f,#0051ff,#0062ff,#007cff,#09f,#00b1ff,#0cf,#0ff,#0ff,#0ff,#0ff,#0ff,#0ff,#00fff6,#00ffc7,#00ffb1,#00ffa2,#00ffa5,#00ffc2,#00fff4,#0ff,#0fe,#00ff71,#05ff00,#7f0,#cf0,#ff0,#ff0,#fff200,#ffd100,#fb0,#fa0,#ffa400,#ffa000)"></i>
<i style="background:linear-gradient(#00f,#00f,#00f,#0009ff,#0009ff,#0009ff,#0009ff,#0009ff,#0009ff,#0009ff,#0009ff,#0009ff,#0009ff,#0009ff,#0009ff,#0009ff,#0009ff,#0009ff,#0009ff,#000cff,#0018ff,#0026ff,#03f,#04f,#0051ff,#0062ff,#007cff,#09f,#00b1ff,#0cf,#0ff,#0ff,#0ff,#0ff,#0ff,#0ff,#00fff6,#00ffc7,#00ffb1,#00ffa2,#00ffa5,#00ffc2,#0fe,#0ff,#0fd,#0f6,#1aff00,#91ff00,#eaff00,#ff0,#fe0,#ffc200,#ffa100,#ff8c00,#f70,#ff7300,#ff6f00)"></i>
<i style="background:linear-gradient(#00f,#00f,#00f,#0009ff,#0009ff,#0009ff,#0009ff,#0009ff,#0009ff,#0009ff,#0009ff,#0009ff,#0009ff,#0009ff,#0009ff,#0009ff,#0009ff,#0009ff,#0009ff,#000cff,#0018ff,#0026ff,#03f,#04f,#0051ff,#0062ff,#007cff,#09f,#00b1ff,#0cf,#0ff,#0ff,#0ff,#0ff,#0ff,#0ff,#00fff6,#00ffc7,#00ffb1,#00ffa2,#00ffa5,#00ffc2,#00fff5,#0ff,#0ff,#00ff9e,#00ff3d,#2f0,#62ff00,#a4ff00,#cf0,#e9ff00,#ff0,#ff0,#ff0,#ff0,#ff0)"></i>
<i style="background:linear-gradient(#00f,#00f,#00f,#0009ff,#0009ff,#0009ff,#0009ff,#0009ff,#0009ff,#0009ff,#0009ff,#0009ff,#0009ff,#0009ff,#0009ff,#0009ff,#0009ff,#0009ff,#0009ff,#000cff,#0018ff,#0026ff,#03f,#04f,#0051ff,#0062ff,#007cff,#09f,#00b1ff,#0cf,#0ff,#0ff,#0ff,#0ff,#0ff,#0ff,#00fff6,#00ffc7,#00ffb1,#00ffa2,#00ffa5,#00ffc2,#0fe,#0ff,#00ffe5,#00ff81,#0f1,#5f0,#a4ff00,#ef0,#ff0,#ff0,#ff0,#fff500,#fd0,#fd0,#ffd800)"></i>
<i style="background:linear-gradient(#00f,#00f,#00f,#0009ff,#0009ff,#0009ff,#0009ff,#0009ff,#0009ff,#0009ff,#0009ff,#0009ff,#0009ff,#0009ff,#0009ff,#0009ff,#0009ff,#0009ff,#0009ff,#000cff,#0018ff,#0026ff,#03f,#04f,#0051ff,#0062ff,#007cff,#09f,#00b1ff,#0cf,#0ff,#0ff,#0ff,#0ff,#0ff,#0ff,#00fff6,#00ffc7,#00ffb1,#00ffa2,#00ffa5,#00ffc2,#0fe,#0ff,#00fffa,#00ffa6,#00ff48,#1f0,#50ff00,#90ff00,#b5ff00,#d2ff00,#ef0,#ff0,#ff0,#ff0,#ff0)"></i>
<i style="background:linear-gradient(#00f,#00f,#00f,#0009ff,#0009ff,#0009ff,#0009ff,#0009ff,#0009ff,#0009ff,#0009ff,#0009ff,#0009ff,#0009ff,#0009ff,#0009ff,#0009ff,#0009ff,#0009ff,#000cff,#0018ff,#0026ff,#03f,#04f,#0051ff,#0062ff,#007cff,#09f,#00b1ff,#0cf,#0ff,#0ff,#0ff,#0ff,#0ff,#0ff,#00fff6,#00ffc7,#00ffb1,#00ffa2,#00ffa5,#00ffc2,#0fe,#0ff,#00ffea,#0f7,#00ff06,#6f0,#bf0,#ff0,#ff0,#ff0,#fe0,#ffd600,#ffc100,#fb0,#fb0)"></i>
<i style="background:linear-gradient(#00f,#00f,#00f,#0009ff,#0009ff,#0009ff,#0009ff,#0009ff,#0009ff,#0009ff,#0009ff,#0009ff,#0009ff,#0009ff,#0009ff,#0009ff,#0009ff,#0009ff,#0009ff,#000cff,#0018ff,#0026ff,#03f,#04f,#0051ff,#0062ff,#007cff,#09f,#00b1ff,#0cf,#0ff,#0ff,#0ff,#0ff,#0ff,#0ff,#00fff6,#00ffc7,#00ffb1,#00ffa2,#00ffa5,#00ffc2,#0fe,#0ff,#00ffe5,#0f7,#0f0,#72ff00,#c5ff00,#ff0,#ff0,#fff800,#ffd800,#ffc300,#ffaf00,#fa0,#ffa600)"></i>
<i style="background:linear-gradient(#00f,#00f,#00f,#0009ff,#0009ff,#0009ff,#0009ff,#0009ff,#0009ff,#0009ff,#0009ff,#0009ff,#0009ff,#0009ff,#0009ff,#0009ff,#0009ff,#0009ff,#0007ff,#00f,#000aff,#01f,#001bff,#02f,#002dff,#0038ff,#004dff,#0061ff,#007bff,#0095ff,#00d8ff,#0df,#00e7ff,#0ef,#0ff,#0ff,#0ff,#00ffe4,#0fc,#00ffb5,#00ffb2,#0fc,#0fe,#0ff,#00ffe2,#00ff7b,#00ff06,#6f0,#bf0,#ff0,#ff0,#ff0,#ffe800,#ffd300,#ffbf00,#fb0,#ffb600)"></i>
<i style="background:linear-gradient(#00f,#00f,#00f,#0009ff,#0009ff,#0009ff,#0009ff,#0009ff,#0009ff,#0009ff,#0009ff,#0009ff,#0009ff,#0009ff,#0009ff,#0009ff,#0009ff,#0009ff,#0009ff,#000cff,#0018ff,#0026ff,#03f,#04f,#0051ff,#0062ff,#007cff,#09f,#00b1ff,#0cf,#0ff,#0ff,#0ff,#0ff,#0ff,#0ff,#00fff6,#00ffc7,#00ffb1,#00ffa2,#00ffa5,#00ffc2,#0fe,#0ff,#0fe,#0f8,#00ff18,#5f0,#a0ff00,#ef0,#ff0,#ff0,#ff0,#fffa00,#ffe500,#ffe100,#fd0)"></i>
<i style="background:linear-gradient(#00f,#00f,#00f,#0009ff,#0009ff,#0009ff,#0009ff,#0009ff,#0009ff,#0009ff,#0009ff,#0009ff,#0009ff,#0009ff,#0009ff,#0009ff,#0009ff,#0009ff,#0009ff,#000cff,#0018ff,#0026ff,#03f,#04f,#0051ff,#0062ff,#007cff,#09f,#00b1ff,#0cf,#0ff,#0ff,#0ff,#0ff,#0ff,#0ff,#00fff6,#00ffc7,#00ffb1,#00ffa2,#00ffa5,#00ffc2,#0fe,#0ff,#0ff,#00ffb3,#0f5,#04ff00,#4f0,#7fff00,#a2ff00,#bfff00,#d7ff00,#eaff00,#ff0,#ff0,#ff0)"></i>
<i style="background:linear-gradient(#00f,#00f,#00f,#0009ff,#0009ff,#0009ff,#0009ff,#0009ff,#0009ff,#0009ff,#0009ff,#0009ff,#0009ff,#0009ff,#0009ff,#0009ff,#0009ff,#0009ff,#0009ff,#000cff,#0018ff,#0026ff,#03f,#04f,#0051ff,#0062ff,#007cff,#09f,#00b1ff,#0cf,#0ff,#0ff,#0ff,#0ff,#0ff,#0ff,#00fff6,#00ffc7,#00ffb1,#00ffa2,#00ffa5,#00ffc2,#0fe,#0ff,#0ff,#00ffc1,#0f6,#0f1,#2aff00,#6f0,#8f0,#a1ff00,#bf0,#cf0,#df0,#e1ff00,#e5ff00)"></i>
<i style="background:linear-gradient(#00f,#00f,#00f,#0009ff,#0009ff,#0009ff,#0009ff,#0009ff,#0009ff,#0009ff,#0009ff,#0009ff,#0009ff,#0009ff,#0009ff,#0009ff,#0009ff,#0009ff,#0009ff,#000cff,#0018ff,#0026ff,#03f,#04f,#0051ff,#0062ff,#007cff,#09f,#00b1ff,#0cf,#0ff,#0ff,#0ff,#0ff,#0ff,#0ff,#00fff6,#00ffc7,#00ffb1,#00ffa2,#00ffa5,#00ffc2,#0fe,#0ff,#0ff,#0fd,#0f9,#00ff5b,#0f3,#00ff08,#1f0,#29ff00,#3eff00,#50ff00,#6f0,#6f0,#6aff00)"></i>
<i style="background:linear-gradient(#00f,#00f,#00f,#0009ff,#0009ff,#0009ff,#0009ff,#0009ff,#0009ff,#0009ff,#0009ff,#0009ff,#0009ff,#0009ff,#0009ff,#0009ff,#0009ff,#0009ff,#0009ff,#000cff,#0018ff,#0026ff,#03f,#04f,#0051ff,#0062ff,#007cff,#09f,#00b1ff,#0cf,#0ff,#0ff,#0ff,#0ff,#0ff,#0ff,#00fff6,#00ffc7,#00ffb1,#00ffa2,#00ffa5,#00ffc2,#0fe,#0ff,#0ff,#00ffd5,#0f7,#00ff26,#1f0,#4f0,#6f0,#7dff00,#94ff00,#a6ff00,#bf0,#bf0,#c0ff00)"></i>
<i style="background:linear-gradient(#00f,#00f,#00f,#0009ff,#0009ff,#0009ff,#0009ff,#0009ff,#0009ff,#0009ff,#0009ff,#0009ff,#0009ff,#0009ff,#0009ff,#0009ff,#0009ff,#0009ff,#0009ff,#000cff,#0018ff,#0026ff,#03f,#04f,#0051ff,#0062ff,#007cff,#09f,#00b1ff,#0cf,#0ff,#0ff,#0ff,#0ff,#0ff,#0ff,#00fff6,#00ffc7,#00ffb1,#00ffa2,#00ffa5,#00ffc2,#0fe,#0ff,#0ff,#00ffe5,#0fa,#00ff70,#00ff4b,#0f2,#0f1,#07ff00,#1bff00,#2eff00,#40ff00,#4f0,#48ff00)"></i>
<i style="background:linear-gradient(#00f,#00f,#00f,#0009ff,#0009ff,#0009ff,#0009ff,#0009ff,#0009ff,#0009ff,#0009ff,#0009ff,#0009ff,#0009ff,#0009ff,#0009ff,#0009ff,#0009ff,#0009ff,#000cff,#0018ff,#0026ff,#03f,#04f,#0051ff,#0062ff,#007cff,#09f,#00b1ff,#0cf,#0ff,#0ff,#0ff,#0ff,#0ff,#0ff,#00fff6,#00ffc7,#00ffb1,#00ffa2,#00ffa5,#00ffc2,#0fe,#0ff,#0ff,#00ffe4,#00ffa4,#00ff6a,#0f4,#00ff1c,#00ff04,#1f0,#26ff00,#38ff00,#4bff00,#4eff00,#5f0)"></i>
<i style="background:linear-gradient(#00f,#00f,#00f,#0009ff,#0009ff,#0009ff,#0009ff,#0009ff,#0009ff,#0009ff,#0009ff,#0009ff,#0009ff,#0009ff,#0009ff,#0009ff,#0009ff,#0009ff,#0009ff,#000cff,#0018ff,#0026ff,#03f,#04f,#0051ff,#0062ff,#007cff,#09f,#00b1ff,#0cf,#0ff,#0ff,#0ff,#0ff,#0ff,#0ff,#00fff6,#00ffc7,#00ffb1,#00ffa2,#00ffa5,#00ffc2,#0fe,#0ff,#0ff,#00ffe1,#0f9,#00ff50,#0f2,#07ff00,#2f0,#39ff00,#4fff00,#61ff00,#7f0,#7f0,#7bff00)"></i>
<i style="background:linear-gradient(#00f,#00f,#00f,#0009ff,#0009ff,#0009ff,#0009ff,#0009ff,#0009ff,#0009ff,#0009ff,#0009ff,#0009ff,#0009ff,#0009ff,#0009ff,#0009ff,#0009ff,#0009ff,#000cff,#0018ff,#0026ff,#03f,#04f,#0051ff,#0062ff,#007cff,#09f,#00b1ff,#0cf,#0ff,#0ff,#0ff,#0ff,#0ff,#0ff,#00fff6,#00ffc7,#00ffb1,#00ffa2,#00ffa5,#00ffc2,#00fff5,#0ff,#0ff,#00ffd0,#0f3,#5f0,#a5ff00,#f3ff00,#ff0,#ff0,#ff0,#fff300,#fd0,#fd0,#ffd600)"></i>
<i style="background:linear-gradient(#00f,#00f,#00f,#0009ff,#0009ff,#0009ff,#0009ff,#0009ff,#0009ff,#0009ff,#0009ff,#0009ff,#0009ff,#0009ff,#0009ff,#0009ff,#0009ff,#0009ff,#0009ff,#000cff,#0018ff,#0026ff,#03f,#04f,#0051ff,#0062ff,#007cff,#09f,#00b1ff,#0cf,#0ff,#0ff,#0ff,#0ff,#0ff,#0ff,#00fff6,#00ffc7,#00ffb1,#00ffa2,#00ffa5,#00ffc2,#0fe,#0ff,#0ff,#00ffe4,#00ffa5,#00ff6b,#0f4,#00ff1e,#00ff06,#1f0,#2f0,#3f0,#48ff00,#4cff00,#50ff00)"></i>
<i style="background:linear-gradient(#00f,#00f,#00f,#0009ff,#0009ff,#0009ff,#0009ff,#0009ff,#0009ff,#0009ff,#0009ff,#0009ff,#0009ff,#0009ff,#0009ff,#0009ff,#0009ff,#0009ff,#0009ff,#000cff,#0018ff,#0026ff,#03f,#04f,#0051ff,#0062ff,#007cff,#09f,#00b1ff,#0cf,#0ff,#0ff,#0ff,#0ff,#0ff,#0ff,#00fff6,#00ffc7,#00ffb1,#00ffa2,#00ffa5,#00ffc2,#0fe,#0ff,#0ff,#00ffe6,#00ffb4,#0f8,#0f6,#0f4,#00ff2d,#00ff1a,#00ff08,#0bff00,#1dff00,#2f0,#2f0)"></i>
<i style="background:linear-gradient(#00f,#00f,#00f,#0009ff,#0009ff,#0009ff,#0009ff,#0009ff,#0009ff,#0009ff,#0009ff,#0009ff,#0009ff,#0009ff,#0009ff,#0009ff,#0009ff,#0009ff,#0007ff,#00f,#000aff,#01f,#001bff,#02f,#002dff,#0038ff,#004dff,#0061ff,#007bff,#0095ff,#00d8ff,#0df,#00e7ff,#0ef,#0ff,#0ff,#0ff,#00ffe4,#0fc,#00ffb5,#00ffb2,#0fc,#00fff8,#0ff,#0ff,#00ffe7,#00ffb5,#0f8,#0f6,#0f4,#0f3,#00ff1d,#00ff0a,#08ff00,#1bff00,#1eff00,#2f0)"></i>
<i style="background:linear-gradient(#00f,#00f,#00f,#0009ff,#0009ff,#0009ff,#0009ff,#0009ff,#0009ff,#0009ff,#0009ff,#0009ff,#0009ff,#0009ff,#0009ff,#0009ff,#0009ff,#0009ff,#0009ff,#000cff,#0018ff,#0026ff,#03f,#04f,#0051ff,#0062ff,#007cff,#09f,#00b1ff,#0cf,#0ff,#0ff,#0ff,#0ff,#0ff,#0ff,#00fff6,#00ffc7,#00ffb1,#00ffa2,#00ffa5,#00ffc2,#0fe,#0ff,#0ff,#00ffe8,#0fb,#00ff94,#0f7,#0f5,#0f4,#0f3,#00ff1e,#00ff0c,#06ff00,#0aff00,#1f0)"></i>
<i style="background:linear-gradient(#00f,#00f,#00f,#0009ff,#0009ff,#0009ff,#0009ff,#0009ff,#0009ff,#0009ff,#0009ff,#0009ff,#0009ff,#0009ff,#0009ff,#0009ff,#0009ff,#0009ff,#0009ff,#000cff,#0018ff,#0026ff,#03f,#04f,#0051ff,#0062ff,#007cff,#09f,#00b1ff,#0cf,#0ff,#0ff,#0ff,#0ff,#0ff,#0ff,#00fff6,#00ffc7,#00ffb1,#00ffa2,#00ffa5,#00ffc2,#0fe,#0ff,#0ff,#00ffe6,#00ffb3,#00ff83,#00ff61,#00ff40,#00ff29,#00ff16,#0f0,#1f0,#2f0,#2f0,#29ff00)"></i>
<i style="background:linear-gradient(#00f,#00f,#00f,#0009ff,#0009ff,#0009ff,#0009ff,#0009ff,#0009ff,#0009ff,#0009ff,#0009ff,#0009ff,#0009ff,#0009ff,#0009ff,#0009ff,#0009ff,#0009ff,#000cff,#0018ff,#0026ff,#03f,#04f,#0051ff,#0062ff,#007cff,#09f,#00b1ff,#0cf,#0ff,#0ff,#0ff,#0ff,#0ff,#0ff,#00fff6,#00ffc7,#00ffb1,#00ffa2,#00ffa5,#00ffc2,#00fff7,#0ff,#0ff,#00ffe4,#00ffa4,#0f6,#0f4,#00ff1c,#0f0,#1f0,#26ff00,#39ff00,#4bff00,#4fff00,#5f0)"></i>
<i style="background:linear-gradient(#00f,#00f,#00f,#0009ff,#0009ff,#0009ff,#0009ff,#0009ff,#0009ff,#0009ff,#0009ff,#0009ff,#0009ff,#0009ff,#0009ff,#0009ff,#0009ff,#0009ff,#0009ff,#000cff,#0018ff,#0026ff,#03f,#04f,#0051ff,#0062ff,#007cff,#09f,#00b1ff,#0cf,#0ff,#0ff,#0ff,#0ff,#0ff,#0ff,#00fff6,#00ffc7,#00ffb1,#00ffa2,#00ffa5,#00ffc2,#00fff2,#0ff,#0ff,#00ffe1,#00ff94,#00ff4d,#0f2,#0cff00,#28ff00,#3fff00,#5f0,#6f0,#7f0,#7dff00,#81ff00)"></i>
<i style="background:linear-gradient(#00f,#00f,#00f,#0009ff,#0009ff,#0009ff,#0009ff,#0009ff,#0009ff,#0009ff,#0009ff,#0009ff,#0009ff,#0009ff,#0009ff,#0009ff,#0009ff,#0009ff,#0009ff,#000cff,#0018ff,#0026ff,#03f,#04f,#0051ff,#0062ff,#007cff,#09f,#00b1ff,#0cf,#0ff,#0ff,#0ff,#0ff,#0ff,#0ff,#00fff6,#00ffc7,#00ffb1,#00ffa2,#00ffa5,#00ffc2,#00fff2,#0ff,#0ff,#00ffe6,#00ffb0,#00ff7d,#00ff5b,#00ff38,#0f2,#0f1,#05ff00,#18ff00,#2bff00,#2eff00,#3f0)"></i>
<i style="background:linear-gradient(#00f,#00f,#00f,#0009ff,#0009ff,#0009ff,#0009ff,#0009ff,#0009ff,#0009ff,#0009ff,#0009ff,#0009ff,#0009ff,#0009ff,#0009ff,#0009ff,#0009ff,#0009ff,#000cff,#0018ff,#0026ff,#03f,#04f,#0051ff,#0062ff,#007cff,#09f,#00b1ff,#0cf,#0ff,#0ff,#0ff,#0ff,#0ff,#0ff,#00fff6,#00ffc7,#00ffb1,#00ffa2,#00ffa5,#00ffc2,#0fe,#0ff,#0ff,#00ffe1,#00ff95,#00ff50,#0f2,#08ff00,#2f0,#3bff00,#50ff00,#62ff00,#7f0,#7f0,#7cff00)"></i>
<i style="background:linear-gradient(#00f,#00f,#00f,#0009ff,#0009ff,#0009ff,#0009ff,#0009ff,#0009ff,#0009ff,#0009ff,#0009ff,#0009ff,#0009ff,#0009ff,#0009ff,#0009ff,#0009ff,#0009ff,#000cff,#0018ff,#0026ff,#03f,#04f,#0051ff,#0062ff,#007cff,#09f,#00b1ff,#0cf,#0ff,#0ff,#0ff,#0ff,#0ff,#0ff,#00fff6,#00ffc7,#00ffb1,#00ffa2,#00ffa5,#00ffc2,#0fe,#0ff,#0ff,#00ffe4,#00ffa6,#00ff6d,#0f4,#0f2,#00ff09,#0cff00,#2f0,#3f0,#4f0,#49ff00,#4dff00)"></i>
<i style="background:linear-gradient(#00f,#00f,#00f,#0009ff,#0009ff,#0009ff,#0009ff,#0009ff,#0009ff,#0009ff,#0009ff,#0009ff,#0009ff,#0009ff,#0009ff,#0009ff,#0009ff,#0009ff,#0009ff,#000cff,#0018ff,#0026ff,#03f,#04f,#0051ff,#0062ff,#007cff,#09f,#00b1ff,#0cf,#0ff,#0ff,#0ff,#0ff,#0ff,#0ff,#00fff6,#00ffc7,#00ffb1,#00ffa2,#00ffa5,#00ffc2,#0fe,#0ff,#0ff,#00ffe1,#00ff93,#00ff4c,#0f2,#0dff00,#29ff00,#40ff00,#5f0,#6f0,#7bff00,#7eff00,#82ff00)"></i>
<i style="background:linear-gradient(#00f,#00f,#00f,#0009ff,#0009ff,#0009ff,#0009ff,#0009ff,#0009ff,#0009ff,#0009ff,#0009ff,#0009ff,#0009ff,#0009ff,#0009ff,#0009ff,#0009ff,#0009ff,#000cff,#0018ff,#0026ff,#03f,#04f,#0051ff,#0062ff,#007cff,#09f,#00b1ff,#0cf,#0ff,#0ff,#0ff,#0ff,#0ff,#0ff,#00fff6,#00ffc7,#00ffb1,#00ffa2,#00ffa5,#00ffc2,#0fe,#0ff,#0ff,#00ffe2,#0f9,#0f5,#00ff2a,#0f0,#1cff00,#3f0,#48ff00,#5aff00,#6dff00,#70ff00,#7f0)"></i>
<i style="background:linear-gradient(#00f,#00f,#00f,#0009ff,#0009ff,#0009ff,#0009ff,#0009ff,#0009ff,#0009ff,#0009ff,#0009ff,#0009ff,#0009ff,#0009ff,#0009ff,#0009ff,#0009ff,#0009ff,#000cff,#0018ff,#0026ff,#03f,#04f,#0051ff,#0062ff,#007cff,#09f,#00b1ff,#0cf,#0ff,#0ff,#0ff,#0ff,#0ff,#0ff,#00fff6,#00ffc7,#00ffb1,#00ffa2,#00ffa5,#00ffc2,#0fe,#0ff,#0ff,#0fd,#0f7,#00ff17,#2f0,#5f0,#7f0,#94ff00,#af0,#bf0,#d0ff00,#d4ff00,#d8ff00)"></i>
<i style="background:linear-gradient(#00f,#00f,#00f,#0009ff,#0009ff,#0009ff,#0009ff,#0009ff,#0009ff,#0009ff,#0009ff,#0009ff,#0009ff,#0009ff,#0009ff,#0009ff,#0009ff,#0009ff,#0009ff,#000cff,#0018ff,#0026ff,#03f,#04f,#0051ff,#0062ff,#007cff,#09f,#00b1ff,#0cf,#0ff,#0ff,#0ff,#0ff,#0ff,#0ff,#00fff6,#00ffc7,#00ffb1,#00ffa2,#00ffa5,#00ffc2,#0fe,#0ff,#0ff,#00ffe3,#00ff9f,#00ff60,#00ff37,#0f1,#0bff00,#2f0,#3f0,#48ff00,#5aff00,#5eff00,#62ff00)"></i>
<i style="background:linear-gradient(#00f,#00f,#00f,#0009ff,#0009ff,#0009ff,#0009ff,#0009ff,#0009ff,#0009ff,#0009ff,#0009ff,#0009ff,#0009ff,#0009ff,#0009ff,#0009ff,#0009ff,#0007ff,#00f,#000aff,#01f,#001bff,#02f,#002dff,#0038ff,#004dff,#0061ff,#007bff,#0095ff,#00d8ff,#0df,#00e7ff,#0ef,#0ff,#0ff,#0ff,#00ffe4,#0fc,#00ffb5,#00ffb2,#0fc,#0fe,#0ff,#0ff,#00ffe3,#00ff9e,#00ff60,#00ff37,#0f1,#0bff00,#2f0,#3f0,#48ff00,#5bff00,#5fff00,#62ff00)"></i>
<i style="background:linear-gradient(#00f,#00f,#00f,#0009ff,#0009ff,#0009ff,#0009ff,#0009ff,#0009ff,#0009ff,#0009ff,#0009ff,#0009ff,#0009ff,#0009ff,#0009ff,#0009ff,#0009ff,#0009ff,#000cff,#0018ff,#0026ff,#03f,#04f,#0051ff,#0062ff,#007cff,#09f,#00b1ff,#0cf,#0ff,#0ff,#0ff,#0ff,#0ff,#0ff,#00fff6,#00ffc7,#00ffb1,#00ffa2,#00ffa5,#00ffc2,#0fe,#0ff,#0ff,#0fd,#00ff84,#0f3,#0f0,#3f0,#51ff00,#6bff00,#81ff00,#94ff00,#a6ff00,#af0,#aeff00)"></i>
<i style="background:linear-gradient(#00f,#00f,#00f,#0009ff,#0009ff,#0009ff,#0009ff,#0009ff,#0009ff,#0009ff,#0009ff,#0009ff,#0009ff,#0009ff,#0009ff,#0009ff,#0009ff,#0009ff,#0009ff,#000cff,#0018ff,#0026ff,#03f,#04f,#0051ff,#0062ff,#007cff,#09f,#00b1ff,#0cf,#0ff,#0ff,#0ff,#0ff,#0ff,#0ff,#00fff6,#00ffc7,#00ffb1,#00ffa2,#00ffa5,#00ffc2,#0fe,#0ff,#0ff,#0fd,#00ff7f,#00ff29,#0aff00,#3fff00,#5eff00,#7f0,#8eff00,#a1ff00,#b3ff00,#b7ff00,#bf0)"></i>
<i style="background:linear-gradient(#00f,#00f,#00f,#0009ff,#0009ff,#0009ff,#0009ff,#0009ff,#0009ff,#0009ff,#0009ff,#0009ff,#0009ff,#0009ff,#0009ff,#0009ff,#0009ff,#0009ff,#0009ff,#000cff,#0018ff,#0026ff,#03f,#04f,#0051ff,#0062ff,#007cff,#09f,#00b1ff,#0cf,#0ff,#0ff,#0ff,#0ff,#0ff,#0ff,#00fff6,#00ffc7,#00ffb1,#00ffa2,#00ffa5,#00ffc2,#0fe,#0ff,#0ff,#00ffe1,#0f9,#00ff51,#00ff26,#06ff00,#2f0,#38ff00,#4dff00,#60ff00,#72ff00,#7f0,#7f0)"></i>
<i style="background:linear-gradient(#00f,#00f,#00f,#0009ff,#0009ff,#0009ff,#0009ff,#0009ff,#0009ff,#0009ff,#0009ff,#0009ff,#0009ff,#0009ff,#0009ff,#0009ff,#0009ff,#0009ff,#0009ff,#000cff,#0018ff,#0026ff,#03f,#04f,#0051ff,#0062ff,#007cff,#09f,#00b1ff,#0cf,#0ff,#0ff,#0ff,#0ff,#0ff,#0ff,#00fff6,#00ffc7,#00ffb1,#00ffa2,#00ffa5,#00ffc2,#0fe,#0ff,#0ff,#00ffe7,#0fb,#0f8,#00ff6b,#00ff4c,#0f3,#0f2,#0f1,#0f0,#1f0,#18ff00,#1bff00)"></i>
<i style="background:linear-gradient(#00f,#00f,#00f,#0009ff,#0009ff,#0009ff,#0009ff,#0009ff,#0009ff,#0009ff,#0009ff,#0009ff,#0009ff,#0009ff,#0009ff,#0009ff,#0009ff,#0009ff,#0009ff,#000cff,#0018ff,#0026ff,#03f,#04f,#0051ff,#0062ff,#007cff,#09f,#00b1ff,#0cf,#0ff,#0ff,#0ff,#0ff,#0ff,#0ff,#00fff6,#00ffc7,#00ffb1,#00ffa2,#00ffa5,#00ffc2,#0fe,#0ff,#0ff,#00ffe4,#00ffa4,#0f6,#0f4,#00ff1b,#0f0,#1f0,#27ff00,#39ff00,#4cff00,#50ff00,#5f0)"></i>
<i style="background:linear-gradient(#00f,#00f,#00f,#0009ff,#0009ff,#0009ff,#0009ff,#0009ff,#0009ff,#0009ff,#0009ff,#0009ff,#0009ff,#0009ff,#0009ff,#0009ff,#0009ff,#0009ff,#0009ff,#000cff,#0018ff,#0026ff,#03f,#04f,#0051ff,#0062ff,#007cff,#09f,#00b1ff,#0cf,#0ff,#0ff,#0ff,#0ff,#0ff,#0ff,#00fff6,#00ffc7,#00ffb1,#00ffa2,#00ffa5,#00ffc2,#0fe,#0ff,#0ff,#00ffe7,#00ffb7,#0f8,#00ff6a,#00ff4a,#0f3,#0f2,#0f1,#0f0,#15ff00,#19ff00,#1dff00)"></i>
<i style="background:linear-gradient(#00f,#00f,#00f,#0009ff,#0009ff,#0009ff,#0009ff,#0009ff,#0009ff,#0009ff,#0009ff,#0009ff,#0009ff,#0009ff,#0009ff,#0009ff,#0009ff,#0009ff,#0009ff,#000cff,#0018ff,#0026ff,#03f,#04f,#0051ff,#0062ff,#007cff,#09f,#00b1ff,#0cf,#0ff,#0ff,#0ff,#0ff,#0ff,#0ff,#00fff6,#00ffc7,#00ffb1,#00ffa2,#00ffa5,#00ffc2,#0fe,#0ff,#0ff,#00ffe7,#0fb,#00ff90,#00ff71,#0f5,#00ff3d,#00ff2a,#00ff18,#00ff06,#0dff00,#1f0,#1f0)"></i>
<i style="background:linear-gradient(#00f,#00f,#00f,#0009ff,#0009ff,#0009ff,#0009ff,#0009ff,#0009ff,#0009ff,#0009ff,#0009ff,#0009ff,#0009ff,#0009ff,#0009ff,#0009ff,#0009ff,#0009ff,#000cff,#0018ff,#0026ff,#03f,#04f,#0051ff,#0062ff,#007cff,#09f,#00b1ff,#0cf,#0ff,#0ff,#0ff,#0ff,#0ff,#0ff,#00fff6,#00ffc7,#00ffb1,#00ffa2,#00ffa5,#00ffc2,#0fe,#0ff,#0ff,#00ffe5,#0fa,#0f7,#00ff51,#00ff2d,#00ff15,#0f0,#1f0,#2f0,#38ff00,#3cff00,#3fff00)"></i>
<i style="background:linear-gradient(#00f,#00f,#00f,#0009ff,#0009ff,#0009ff,#0009ff,#0009ff,#0009ff,#0009ff,#0009ff,#0009ff,#0009ff,#0009ff,#0009ff,#0009ff,#0009ff,#0009ff,#0009ff,#000cff,#0018ff,#0026ff,#03f,#04f,#0051ff,#0062ff,#007cff,#09f,#00b1ff,#0cf,#0ff,#0ff,#0ff,#0ff,#0ff,#0ff,#00fff6,#00ffc7,#00ffb1,#00ffa2,#00ffa5,#00ffc2,#0fe,#0ff,#0ff,#00ffe9,#00ffc6,#00ffa4,#0f8,#00ff6e,#00ff5b,#00ff4a,#00ff38,#00ff26,#0f1,#0f1,#00ff0c)"></i>
<i style="background:linear-gradient(#00f,#00f,#00f,#0009ff,#0009ff,#0009ff,#0009ff,#0009ff,#0009ff,#0009ff,#0009ff,#0009ff,#0009ff,#0009ff,#0009ff,#0009ff,#0009ff,#0009ff,#0009ff,#000cff,#0018ff,#0026ff,#03f,#04f,#0051ff,#0062ff,#007cff,#09f,#00b1ff,#0cf,#0ff,#0ff,#0ff,#0ff,#0ff,#0ff,#00fff6,#00ffc7,#00ffb1,#00ffa2,#00ffa5,#00ffc2,#0fe,#0ff,#0ff,#00ffe8,#0fb,#00ff92,#00ff73,#0f5,#00ff40,#00ff2e,#00ff1c,#00ff09,#09ff00,#0dff00,#1f0)"></i>
<i style="background:linear-gradient(#00f,#00f,#00f,#0009ff,#0009ff,#0009ff,#0009ff,#0009ff,#0009ff,#0009ff,#0009ff,#0009ff,#0009ff,#0009ff,#0009ff,#0009ff,#0009ff,#0009ff,#0009ff,#000cff,#0018ff,#0026ff,#03f,#04f,#0051ff,#0062ff,#007cff,#09f,#00b1ff,#0cf,#0ff,#0ff,#0ff,#0ff,#0ff,#0ff,#00fff6,#00ffc7,#00ffb1,#00ffa2,#00ffa5,#00ffc2,#0fe,#0ff,#0ff,#00ffe9,#00ffc4,#00ffa2,#0f8,#00ff6b,#0f5,#0f4,#0f3,#0f2,#0f1,#00ff0d,#00ff09)"></i>
<i style="background:linear-gradient(#00f,#00f,#00f,#0009ff,#0009ff,#0009ff,#0009ff,#0009ff,#0009ff,#0009ff,#0009ff,#0009ff,#0009ff,#0009ff,#0009ff,#0009ff,#0009ff,#0009ff,#0007ff,#00f,#000aff,#01f,#001bff,#02f,#002dff,#0038ff,#004dff,#0061ff,#007bff,#0095ff,#00d8ff,#0df,#00e7ff,#0ef,#0ff,#0ff,#0ff,#00ffe4,#0fc,#00ffb5,#00ffb2,#0fc,#0fe,#0ff,#0ff,#0fe,#00ffd1,#00ffb7,#00ffa0,#0f8,#0f7,#0f6,#0f5,#0f4,#0f3,#00ff2f,#00ff2b)"></i>
<i style="background:linear-gradient(#00f,#00f,#00f,#0009ff,#0009ff,#0009ff,#0009ff,#0009ff,#0009ff,#0009ff,#0009ff,#0009ff,#0009ff,#0009ff,#0009ff,#0009ff,#0009ff,#0009ff,#0009ff,#000cff,#0018ff,#0026ff,#03f,#04f,#0051ff,#0062ff,#007cff,#09f,#00b1ff,#0cf,#0ff,#0ff,#0ff,#0ff,#0ff,#0ff,#00fff6,#00ffc7,#00ffb1,#00ffa2,#00ffa5,#00ffc2,#0fe,#0ff,#0ff,#00ffe8,#0fb,#00ff95,#0f7,#00ff5a,#0f4,#0f3,#0f2,#0f1,#0f0,#07ff00,#0bff00)"></i>
<i style="background:linear-gradient(#00f,#00f,#00f,#0009ff,#0009ff,#0009ff,#0009ff,#0009ff,#0009ff,#0009ff,#0009ff,#0009ff,#0009ff,#0009ff,#0009ff,#0009ff,#0009ff,#0009ff,#0009ff,#000cff,#0018ff,#0026ff,#03f,#04f,#0051ff,#0062ff,#007cff,#09f,#00b1ff,#0cf,#0ff,#0ff,#0ff,#0ff,#0ff,#0ff,#00fff6,#00ffc7,#00ffb1,#00ffa2,#00ffa5,#00ffc2,#0fe,#0ff,#0ff,#00ffe9,#00ffc3,#00ffa0,#00ff84,#0f6,#0f5,#0f4,#0f3,#0f2,#00ff0d,#00ff0a,#00ff06)"></i>
<i style="background:linear-gradient(#00f,#00f,#00f,#0009ff,#0009ff,#0009ff,#0009ff,#0009ff,#0009ff,#0009ff,#0009ff,#0009ff,#0009ff,#0009ff,#0009ff,#0009ff,#0009ff,#0009ff,#0009ff,#000cff,#0018ff,#0026ff,#03f,#04f,#0051ff,#0062ff,#007cff,#09f,#00b1ff,#0cf,#0ff,#0ff,#0ff,#0ff,#0ff,#0ff,#00fff6,#00ffc7,#00ffb1,#00ffa2,#00ffa5,#00ffc2,#0fe,#0ff,#0ff,#00ffe9,#00ffc3,#00ff9f,#00ff83,#0f6,#0f5,#0f4,#0f3,#00ff1e,#00ff0b,#00ff08,#00ff04)"></i>
<i style="background:linear-gradient(#00f,#00f,#00f,#0009ff,#0009ff,#0009ff,#0009ff,#0009ff,#0009ff,#0009ff,#0009ff,#0009ff,#0009ff,#0009ff,#0009ff,#0009ff,#0009ff,#0009ff,#0009ff,#000cff,#0018ff,#0026ff,#03f,#04f,#0051ff,#0062ff,#007cff,#09f,#00b1ff,#0cf,#0ff,#0ff,#0ff,#0ff,#0ff,#0ff,#00fff6,#00ffc7,#00ffb1,#00ffa2,#00ffa5,#00ffc2,#0fe,#0ff,#0ff,#00ffe5,#00ffae,#00ff7b,#0f5,#0f3,#00ff1e,#00ff0a,#09ff00,#1cff00,#2eff00,#3f0,#3f0)"></i>
<i style="background:linear-gradient(#00f,#00f,#00f,#0009ff,#0009ff,#0009ff,#0009ff,#0009ff,#0009ff,#0009ff,#0009ff,#0009ff,#0009ff,#0009ff,#0009ff,#0009ff,#0009ff,#0009ff,#0009ff,#000cff,#0018ff,#0026ff,#03f,#04f,#0051ff,#0062ff,#007cff,#09f,#00b1ff,#0cf,#0ff,#0ff,#0ff,#0ff,#0ff,#0ff,#00fff6,#00ffc7,#00ffb1,#00ffa2,#00ffa5,#00ffc2,#0fe,#0ff,#0ff,#00ffe4,#0fa,#00ff70,#00ff4a,#0f2,#00ff0d,#08ff00,#1cff00,#2eff00,#4f0,#4f0,#48ff00)"></i>
<i style="background:linear-gradient(#00f,#00f,#00f,#0009ff,#0009ff,#0009ff,#0009ff,#0009ff,#0009ff,#0009ff,#0009ff,#0009ff,#0009ff,#0009ff,#0009ff,#0009ff,#0009ff,#0009ff,#0009ff,#000cff,#0018ff,#0026ff,#03f,#04f,#0051ff,#0062ff,#007cff,#09f,#00b1ff,#0cf,#0ff,#0ff,#0ff,#0ff,#0ff,#0ff,#00fff6,#00ffc7,#00ffb1,#00ffa2,#00ffa5,#00ffc2,#0fe,#0ff,#0ff,#00ffe6,#00ffb0,#00ff7f,#00ff5c,#00ff3a,#0f2,#0f1,#0f0,#16ff00,#28ff00,#2cff00,#3f0)"></i>
<i style="background:linear-gradient(#00f,#00f,#00f,#0009ff,#0009ff,#0009ff,#0009ff,#0009ff,#0009ff,#0009ff,#0009ff,#0009ff,#0009ff,#0009ff,#0009ff,#0009ff,#0009ff,#0009ff,#0009ff,#000cff,#0018ff,#0026ff,#03f,#04f,#0051ff,#0062ff,#007cff,#09f,#00b1ff,#0cf,#0ff,#0ff,#0ff,#0ff,#0ff,#0ff,#00fff6,#00ffc7,#00ffb1,#00ffa2,#00ffa5,#00ffc2,#0fe,#0ff,#0ff,#0fd,#00ff7e,#00ff27,#0dff00,#4f0,#61ff00,#7bff00,#92ff00,#a5ff00,#b7ff00,#bf0,#bf0)"></i>
<i style="background:linear-gradient(#00f,#00f,#00f,#0009ff,#0009ff,#0009ff,#0009ff,#0009ff,#0009ff,#0009ff,#0009ff,#0009ff,#0009ff,#0009ff,#0009ff,#0009ff,#0009ff,#0009ff,#0009ff,#000cff,#0018ff,#0026ff,#03f,#04f,#0051ff,#0062ff,#007cff,#09f,#00b1ff,#0cf,#0ff,#0ff,#0ff,#0ff,#0ff,#0ff,#00fff6,#00ffc7,#00ffb1,#00ffa2,#00ffa5,#00ffc2,#0fe,#0ff,#0ff,#00ffe5,#0fa,#0f7,#00ff4f,#00ff2b,#0f1,#0f0,#15ff00,#27ff00,#3aff00,#3eff00,#4f0)"></i>
<i style="background:linear-gradient(#00f,#00f,#00f,#0009ff,#0009ff,#0009ff,#0009ff,#0009ff,#0009ff,#0009ff,#0009ff,#0009ff,#0009ff,#0009ff,#0009ff,#0009ff,#0009ff,#0009ff,#0009ff,#000cff,#0018ff,#0026ff,#03f,#04f,#0051ff,#0062ff,#007cff,#09f,#00b1ff,#0cf,#0ff,#0ff,#0ff,#0ff,#0ff,#0ff,#00fff6,#00ffc7,#00ffb1,#00ffa2,#00ffa5,#00ffc2,#0fe,#0ff,#0ff,#00ffe6,#00ffb3,#00ff83,#00ff61,#00ff3f,#00ff29,#00ff16,#0f0,#1f0,#2f0,#26ff00,#2aff00)"></i>
<i style="background:linear-gradient(#00f,#00f,#00f,#0009ff,#0009ff,#0009ff,#0009ff,#0009ff,#0009ff,#0009ff,#0009ff,#0009ff,#0009ff,#0009ff,#0009ff,#0009ff,#0009ff,#0009ff,#0009ff,#000cff,#0018ff,#0026ff,#03f,#04f,#0051ff,#0062ff,#007cff,#09f,#00b1ff,#0cf,#0ff,#0ff,#0ff,#0ff,#0ff,#0ff,#00fff6,#00ffc7,#00ffb1,#00ffa2,#00ffa5,#00ffc2,#0fe,#0ff,#0ff,#00ffe6,#00ffb3,#00ff83,#00ff62,#0f4,#00ff2b,#00ff17,#00ff04,#1f0,#2f0,#2f0,#28ff00)"></i>
<i style="background:linear-gradient(#00f,#00f,#00f,#0009ff,#0009ff,#0009ff,#0009ff,#0009ff,#0009ff,#0009ff,#0009ff,#0009ff,#0009ff,#0009ff,#0009ff,#0009ff,#0009ff,#0009ff,#0009ff,#000cff,#0018ff,#0026ff,#03f,#04f,#0051ff,#0062ff,#007cff,#09f,#00b1ff,#0cf,#0ff,#0ff,#0ff,#0ff,#0ff,#0ff,#00fff6,#00ffc7,#00ffb1,#00ffa2,#00ffa5,#00ffc2,#00fff8,#0ff,#0ff,#0fd,#00ffa0,#0f6,#0f4,#00ff1d,#00ff05,#1f0,#2f0,#37ff00,#4aff00,#4eff00,#51ff00)"></i>
<i style="background:linear-gradient(#00f,#00f,#00f,#0009ff,#0009ff,#0009ff,#0009ff,#0009ff,#0009ff,#0009ff,#0009ff,#0009ff,#0009ff,#0009ff,#0009ff,#0009ff,#0009ff,#0009ff,#0007ff,#00f,#000aff,#01f,#001bff,#02f,#002dff,#0038ff,#004dff,#0061ff,#007bff,#0095ff,#00d8ff,#0df,#00e7ff,#0ef,#0ff,#0ff,#0ff,#00ffe4,#0fc,#00ffb4,#00ffb2,#0fc,#00fff7,#0ff,#0fd,#0f5,#00ff1c,#1cff00,#40ff00,#6f0,#81ff00,#9f0,#b6ff00,#d1ff00,#ef0,#ef0,#f2ff00)"></i>
<i style="background:linear-gradient(#00f,#00f,#00f,#0009ff,#0009ff,#0009ff,#0009ff,#0009ff,#0009ff,#0009ff,#0009ff,#0009ff,#0009ff,#0009ff,#0009ff,#0009ff,#0009ff,#0009ff,#0009ff,#000cff,#0018ff,#0026ff,#03f,#04f,#0051ff,#0062ff,#007cff,#09f,#00b1ff,#0cf,#0ff,#0ff,#0ff,#0ff,#0ff,#0ff,#00fff6,#00ffc6,#00ffb0,#00ffa1,#00ffa4,#00ffc1,#00ffea,#0ff,#00ff38,#cf0,#ff0,#ff0,#ff0,#ffd900,#ffaf00,#ff8400,#f50,#ff2900,#ff0006,#ff000b,#f01)"></i>
<i style="background:linear-gradient(#00f,#00f,#00f,#0009ff,#0009ff,#0009ff,#0009ff,#0009ff,#0009ff,#0009ff,#0009ff,#0009ff,#0009ff,#0009ff,#0009ff,#0009ff,#0009ff,#0009ff,#0009ff,#000cff,#0018ff,#0026ff,#03f,#04f,#0051ff,#0062ff,#007cff,#09f,#00b1ff,#0cf,#0ff,#0ff,#0ff,#0ff,#0ff,#0ff,#00fff4,#00ffc4,#00ffae,#00ff9f,#00ffa1,#0fb,#00ffe6,#0ff,#0f2,#f2ff00,#ff0,#ff0,#ff0,#fff500,#fc0,#ffa500,#f70,#ff4800,#ff1800,#f10,#f10)"></i>
<i style="background:linear-gradient(#00f,#00f,#00f,#0009ff,#0009ff,#0009ff,#0009ff,#0009ff,#0009ff,#0009ff,#0009ff,#0009ff,#0009ff,#0009ff,#0009ff,#0009ff,#0009ff,#0009ff,#0009ff,#000cff,#0018ff,#0026ff,#03f,#04f,#0051ff,#0062ff,#007cff,#09f,#00b1ff,#0cf,#0ff,#0ff,#0ff,#0ff,#0ff,#0ff,#0fe,#00ffbf,#0fa,#0f9,#0f9,#00ffb6,#0fd,#0ff,#00ff19,#ff0,#ff0,#fe0,#fc0,#ffa400,#f70,#ff4b00,#ff1c00,#ff0019,#f05,#ff005a,#ff0060)"></i>
<i style="background:linear-gradient(#00f,#00f,#00f,#0009ff,#0009ff,#0009ff,#0009ff,#0009ff,#0009ff,#0009ff,#0009ff,#0009ff,#0009ff,#0009ff,#0009ff,#0009ff,#0009ff,#0009ff,#0009ff,#000cff,#0018ff,#0026ff,#03f,#04f,#0051ff,#0062ff,#007cff,#09f,#00b1ff,#0cf,#0ff,#0ff,#0ff,#0ff,#0ff,#0ff,#00ffe6,#00ffb4,#0f9,#0f8,#0f8,#00ffa3,#0fc,#0ff,#00ff0a,#ff0,#ff0,#ff0,#fd0,#ffc000,#f90,#ff6a00,#ff3b00,#ff0800,#f03,#ff003b,#f04)"></i>
<i style="background:linear-gradient(#00f,#00f,#00f,#0009ff,#0009ff,#0009ff,#0009ff,#0009ff,#0009ff,#0009ff,#0009ff,#0009ff,#0009ff,#0009ff,#0009ff,#0009ff,#0009ff,#0009ff,#0009ff,#000cff,#0018ff,#0026ff,#03f,#04f,#05f,#0062ff,#007dff,#09f,#00b1ff,#0cf,#0ff,#0ff,#0ff,#0ff,#0ff,#0ff,#00ffd3,#00ff9d,#00ff81,#00ff6c,#0f6,#00ff7f,#00ffa3,#0fd,#26ff00,#ff0,#fffa00,#ffd000,#ffaf00,#ff8f00,#f60,#f30,#f00,#ff003c,#ff007d,#f08,#f09)"></i>
<i style="background:linear-gradient(#00f,#00f,#00f,#0009ff,#0009ff,#0009ff,#0009ff,#0009ff,#0009ff,#0009ff,#0009ff,#0009ff,#0009ff,#0009ff,#0009ff,#0009ff,#0009ff,#0009ff,#000aff,#01f,#001aff,#0028ff,#0039ff,#004bff,#005dff,#0070ff,#08f,#00a6ff,#00c4ff,#0df,#0ff,#0ff,#0ff,#00fff3,#0fc,#00ffaf,#00ff83,#0f5,#0f3,#00ff1b,#0f1,#00ff16,#00ff2c,#0f5,#5cff00,#ff0,#ff0,#fe0,#fc0,#ffa500,#ff7c00,#f50,#ff2800,#ff000d,#ff004d,#ff006a,#f08)"></i>
<i style="background:linear-gradient(#00f,#00f,#00f,#0009ff,#0009ff,#0009ff,#0009ff,#0009ff,#0009ff,#0009ff,#0009ff,#0009ff,#0009ff,#0009ff,#0009ff,#0009ff,#0009ff,#0009ff,#000bff,#01f,#02f,#002cff,#04f,#005fff,#07f,#0095ff,#00b0ff,#0cf,#00f4ff,#0ff,#0ff,#0ff,#00ffc5,#0f6,#0f1,#4f0,#6f0,#8f0,#af0,#cf0,#ef0,#ff0,#ff0,#ff0,#fb0,#ff6d00,#ff4800,#f20,#f00,#ff0028,#f05,#f08,#ff00bf,#f0f,#f0f,#f0f,#f0f)"></i>
<i style="background:linear-gradient(#00f,#00f,#00f,#0009ff,#0009ff,#0009ff,#0009ff,#0009ff,#0009ff,#0009ff,#0009ff,#0009ff,#0009ff,#0009ff,#0009ff,#0009ff,#0009ff,#0009ff,#000bff,#01f,#02f,#002cff,#04f,#0060ff,#007cff,#09f,#00b3ff,#00d1ff,#00f9ff,#0ff,#0ff,#0ff,#00ffc0,#00ff5a,#0aff00,#62ff00,#8f0,#b0ff00,#d6ff00,#ff0,#ff0,#ff0,#fe0,#ffb500,#f50,#f00,#f03,#f06,#ff0095,#ff00c6,#ff00fa,#f0f,#f0f,#f0f,#f0f,#f0f,#f0f)"></i>
<i style="background:linear-gradient(#00f,#00f,#00f,#0009ff,#0009ff,#0009ff,#0009ff,#0009ff,#0009ff,#0009ff,#0009ff,#0009ff,#0009ff,#0009ff,#0009ff,#0009ff,#0009ff,#0009ff,#000bff,#01f,#02f,#002cff,#04f,#0060ff,#007cff,#09f,#00b3ff,#00d1ff,#0ff,#0ff,#0fe,#00ffd1,#00ff83,#0f1,#5cff00,#bf0,#ef0,#ff0,#ff0,#ffe700,#ffb200,#ff7d00,#ff4800,#ff0800,#ff007b,#f0e,#f0f,#f0f,#f0f,#f0f,#f0f,#f0f,#f0f,#f0f,#f0f,#f0f,#f0f)"></i>
<i style="background:linear-gradient(#00f,#00f,#00f,#0009ff,#0009ff,#0009ff,#0009ff,#0009ff,#0009ff,#0009ff,#0009ff,#0009ff,#0009ff,#0009ff,#0009ff,#0009ff,#0009ff,#0009ff,#000bff,#01f,#02f,#002cff,#04f,#0060ff,#007cff,#09f,#00b3ff,#00d1ff,#0ff,#0fe,#0fc,#0fa,#0f5,#1dff00,#90ff00,#f5ff00,#ff0,#ff0,#ffd200,#f90,#f60,#ff2d00,#ff000b,#ff005c,#f0e,#f0f,#f0f,#f0f,#f0f,#f0f,#f0f,#f0f,#f0f,#f0f,#f0f,#f0f,#f0f)"></i>
<i style="background:linear-gradient(#00f,#00f,#00f,#0009ff,#0009ff,#0009ff,#0009ff,#0009ff,#0009ff,#0009ff,#0009ff,#0009ff,#0009ff,#0009ff,#0009ff,#0009ff,#0009ff,#0009ff,#000bff,#01f,#02f,#002cff,#04f,#0060ff,#007cff,#09f,#00b3ff,#00d1ff,#0ff,#0ff,#0ff,#00fff4,#00ffaf,#00ff4a,#1aff00,#72ff00,#9f0,#bf0,#e3ff00,#ff0,#ff0,#ff0,#ffe100,#fa0,#ff4d00,#ff0008,#ff0038,#f06,#f09,#ff00c6,#ff00f8,#f0f,#f0f,#f0f,#f0f,#f0f,#f0f)"></i>
<i style="background:linear-gradient(#00f,#00f,#00f,#0009ff,#0009ff,#0009ff,#0009ff,#0009ff,#0009ff,#0009ff,#0009ff,#0009ff,#0009ff,#0009ff,#0009ff,#0009ff,#0009ff,#0009ff,#0008ff,#000bff,#01f,#0018ff,#002bff,#04f,#05f,#006dff,#0083ff,#09f,#00c1ff,#00e7ff,#0ff,#0ff,#00ffe7,#0f8,#0f2,#3f0,#5f0,#7cff00,#a1ff00,#c6ff00,#ef0,#ff0,#ff0,#fff900,#ffb000,#ff6f00,#f50,#f30,#ff1800,#ff0006,#ff002f,#f06,#f09,#f0d,#f0f,#f0f,#f0f)"></i>
<i style="background:linear-gradient(#00f,#00f,#00f,#0009ff,#0009ff,#0009ff,#0009ff,#0009ff,#0009ff,#0009ff,#0009ff,#0009ff,#0009ff,#0009ff,#0009ff,#0009ff,#0009ff,#0009ff,#000bff,#01f,#02f,#002cff,#04f,#0060ff,#007cff,#09f,#00b3ff,#00d1ff,#00f7ff,#0ff,#0ff,#0ff,#00ffd1,#00ff7d,#00ff29,#1eff00,#3f0,#4dff00,#6f0,#7bff00,#95ff00,#aeff00,#c8ff00,#ef0,#ff0,#fe0,#ffd800,#ffbf00,#ffa500,#ff8c00,#ff7000,#ff4e00,#ff2c00,#ff0005,#ff004a,#ff0082,#ff00b1)"></i>
<i style="background:linear-gradient(#00f,#00f,#00f,#0009ff,#0009ff,#0009ff,#0009ff,#0009ff,#0009ff,#0009ff,#0009ff,#0009ff,#0009ff,#0009ff,#0009ff,#0009ff,#0009ff,#0009ff,#000bff,#01f,#02f,#002cff,#04f,#0060ff,#007cff,#09f,#00b3ff,#00d1ff,#00f7ff,#0ff,#0ff,#0ff,#0fc,#00ff7c,#00ff2c,#18ff00,#2cff00,#40ff00,#5f0,#6f0,#7dff00,#94ff00,#af0,#cf0,#ff0,#ff0,#ff0,#ff0,#fe0,#ffd800,#ffc000,#ffa100,#ff8200,#f50,#f20,#ff000d,#ff0037)"></i>
<i style="background:linear-gradient(#00f,#00f,#00f,#0009ff,#0009ff,#0009ff,#0009ff,#0009ff,#0009ff,#0009ff,#0009ff,#0009ff,#0009ff,#0009ff,#0009ff,#0009ff,#0009ff,#0009ff,#000bff,#01f,#02f,#002cff,#04f,#0060ff,#007cff,#09f,#00b3ff,#00d1ff,#00f7ff,#0ff,#0ff,#0ff,#00fff5,#0fa,#0f6,#00ff29,#00ff1c,#0f1,#0f0,#0bff00,#1aff00,#2aff00,#39ff00,#5f0,#a4ff00,#e7ff00,#faff00,#ff0,#ff0,#ff0,#ff0,#ff0,#fff400,#fc0,#f90,#ff7100,#ff5100)"></i>
<i style="background:linear-gradient(#00f,#00f,#00f,#0009ff,#0009ff,#0009ff,#0009ff,#0009ff,#0009ff,#0009ff,#0009ff,#0009ff,#0009ff,#0009ff,#0009ff,#0009ff,#0009ff,#0009ff,#000bff,#01f,#02f,#002cff,#04f,#0060ff,#007cff,#09f,#00b3ff,#00d1ff,#00f7ff,#0ff,#0ff,#0ff,#00ffe6,#00ff9d,#0f5,#00ff17,#00ff09,#05ff00,#1f0,#2f0,#3f0,#40ff00,#51ff00,#6cff00,#b2ff00,#ef0,#ff0,#ff0,#ff0,#ff0,#ff0,#ff0,#fff700,#fc0,#ff9d00,#f70,#f50)"></i>
<i style="background:linear-gradient(#00f,#00f,#00f,#0009ff,#0009ff,#0009ff,#0009ff,#0009ff,#0009ff,#0009ff,#0009ff,#0009ff,#0009ff,#0009ff,#0009ff,#0009ff,#0009ff,#0009ff,#000bff,#01f,#02f,#002cff,#04f,#0060ff,#007cff,#09f,#00b3ff,#00d1ff,#00f7ff,#0ff,#0ff,#00fff7,#00ffc6,#0f7,#00ff2c,#15ff00,#26ff00,#3f0,#4f0,#5f0,#6bff00,#80ff00,#94ff00,#afff00,#e5ff00,#ff0,#ff0,#ff0,#ff0,#ff0,#ff0,#fe0,#ffd200,#fa0,#f70,#ff5000,#f30)"></i>
<i style="background:linear-gradient(#00f,#00f,#00f,#0009ff,#0009ff,#0009ff,#0009ff,#0009ff,#0009ff,#0009ff,#0009ff,#0009ff,#0009ff,#0009ff,#0009ff,#0009ff,#0009ff,#0009ff,#000bff,#01f,#02f,#002cff,#04f,#0060ff,#007cff,#09f,#00b3ff,#00d1ff,#00f7ff,#0ff,#0ff,#0ff,#00ffd1,#0f8,#00ff3b,#05ff00,#1f0,#2f0,#3f0,#4f0,#5f0,#6f0,#7f0,#94ff00,#cf0,#ff0,#ff0,#ff0,#ff0,#ff0,#ff0,#ff0,#ffe600,#fb0,#ff8c00,#f60,#f40)"></i>
<i style="background:linear-gradient(#00f,#00f,#00f,#0009ff,#0009ff,#0009ff,#0009ff,#0009ff,#0009ff,#0009ff,#0009ff,#0009ff,#0009ff,#0009ff,#0009ff,#0009ff,#0009ff,#0009ff,#000bff,#01f,#02f,#002cff,#04f,#0060ff,#007cff,#09f,#00b3ff,#00d1ff,#00f7ff,#0ff,#0ff,#0ff,#00ffd2,#0f8,#00ff3c,#04ff00,#1f0,#2f0,#3f0,#40ff00,#5f0,#6f0,#7f0,#92ff00,#cf0,#ff0,#ff0,#ff0,#ff0,#ff0,#ff0,#ff0,#ffe800,#ffc000,#ff8e00,#f60,#ff4900)"></i>
<i style="background:linear-gradient(#00f,#00f,#00f,#0009ff,#0009ff,#0009ff,#0009ff,#0009ff,#0009ff,#0009ff,#0009ff,#0009ff,#0009ff,#0009ff,#0009ff,#0009ff,#0009ff,#0009ff,#000bff,#01f,#02f,#002cff,#04f,#0060ff,#007cff,#09f,#00b3ff,#00d1ff,#00f7ff,#0ff,#0ff,#0ff,#0fd,#00ff94,#00ff4a,#00ff0d,#0f0,#1f0,#1dff00,#2bff00,#3cff00,#4dff00,#5eff00,#7f0,#bf0,#ef0,#ff0,#ff0,#ff0,#ff0,#ff0,#ff0,#fff900,#ffd200,#ffa000,#f70,#ff5b00)"></i>
<i style="background:linear-gradient(#00f,#00f,#00f,#0009ff,#0009ff,#0009ff,#0009ff,#0009ff,#0009ff,#0009ff,#0009ff,#0009ff,#0009ff,#0009ff,#0009ff,#0009ff,#0009ff,#0009ff,#000bff,#01f,#02f,#002cff,#04f,#0060ff,#007cff,#09f,#00b3ff,#00d1ff,#00f7ff,#0ff,#0ff,#0ff,#00ffd3,#0f8,#00ff3d,#0f0,#1f0,#2f0,#3f0,#3fff00,#51ff00,#6f0,#7f0,#91ff00,#cf0,#ff0,#ff0,#ff0,#ff0,#ff0,#ff0,#ff0,#ffe900,#ffc100,#ff9000,#f60,#ff4b00)"></i>
<i style="background:linear-gradient(#00f,#00f,#00f,#0009ff,#0009ff,#0009ff,#0009ff,#0009ff,#0009ff,#0009ff,#0009ff,#0009ff,#0009ff,#0009ff,#0009ff,#0009ff,#0009ff,#0009ff,#000bff,#01f,#02f,#002cff,#04f,#0060ff,#007cff,#09f,#00b3ff,#00d1ff,#00f7ff,#0ff,#0ff,#0ff,#00fff7,#00ffb1,#00ff6c,#0f3,#00ff27,#00ff1c,#0f1,#00ff06,#07ff00,#15ff00,#2f0,#3dff00,#8f0,#cf0,#df0,#ef0,#ff0,#ff0,#ff0,#ff0,#ff0,#fffb00,#fc0,#ffa300,#f80)"></i>
<i style="background:linear-gradient(#00f,#00f,#00f,#0009ff,#0009ff,#0009ff,#0009ff,#0009ff,#0009ff,#0009ff,#0009ff,#0009ff,#0009ff,#0009ff,#0009ff,#0009ff,#0009ff,#0009ff,#000bff,#01f,#02f,#002cff,#04f,#0060ff,#007cff,#09f,#00b3ff,#00d1ff,#00f7ff,#0ff,#0ff,#00fffa,#0fc,#00ff7e,#0f3,#1f0,#1eff00,#2eff00,#3eff00,#4eff00,#61ff00,#7f0,#8f0,#a3ff00,#df0,#ff0,#ff0,#ff0,#ff0,#ff0,#ff0,#fff900,#fd0,#ffb400,#ff8300,#ff5d00,#ff3e00)"></i>
<i style="background:linear-gradient(#00f,#00f,#00f,#0009ff,#0009ff,#0009ff,#0009ff,#0009ff,#0009ff,#0009ff,#0009ff,#0009ff,#0009ff,#0009ff,#0009ff,#0009ff,#0009ff,#0009ff,#0008ff,#000bff,#01f,#0018ff,#002bff,#04f,#05f,#006dff,#0083ff,#09f,#00c1ff,#00e4ff,#00f7ff,#0ff,#0ff,#00ffd6,#0f8,#00ff48,#0f3,#0f2,#0f1,#0f0,#1f0,#27ff00,#3cff00,#59ff00,#a0ff00,#df0,#ef0,#ff0,#ff0,#ff0,#ff0,#ff0,#ff0,#ffe800,#ffb600,#ff9000,#ff7100)"></i>
<i style="background:linear-gradient(#00f,#00f,#00f,#0009ff,#0009ff,#0009ff,#0009ff,#0009ff,#0009ff,#0009ff,#0009ff,#0009ff,#0009ff,#0009ff,#0009ff,#0009ff,#0009ff,#0009ff,#000bff,#01f,#02f,#002cff,#04f,#0060ff,#007cff,#09f,#00b3ff,#00d1ff,#00f7ff,#0ff,#0ff,#0ff,#0fd,#0f9,#00ff4d,#0f1,#0f0,#0bff00,#19ff00,#27ff00,#37ff00,#48ff00,#5f0,#73ff00,#b5ff00,#ef0,#fbff00,#ff0,#ff0,#ff0,#ff0,#ff0,#ff0,#ffd600,#ffa400,#ff7e00,#ff5f00)"></i>
<i style="background:linear-gradient(#00f,#00f,#00f,#0009ff,#0009ff,#0009ff,#0009ff,#0009ff,#0009ff,#0009ff,#0009ff,#0009ff,#0009ff,#0009ff,#0009ff,#0009ff,#0009ff,#0009ff,#000bff,#01f,#02f,#002cff,#04f,#0060ff,#007cff,#09f,#00b3ff,#00d1ff,#00f7ff,#0ff,#0ff,#0ff,#0fe,#00ffa4,#00ff5d,#0f2,#00ff15,#00ff09,#0f0,#1f0,#1eff00,#2dff00,#3cff00,#5f0,#9eff00,#df0,#ef0,#ff0,#ff0,#ff0,#ff0,#ff0,#ff0,#ffe900,#fb0,#ff9100,#ff7300)"></i>
<i style="background:linear-gradient(#00f,#00f,#00f,#0009ff,#0009ff,#0009ff,#0009ff,#0009ff,#0009ff,#0009ff,#0009ff,#0009ff,#0009ff,#0009ff,#0009ff,#0009ff,#0009ff,#0009ff,#000bff,#01f,#02f,#002cff,#04f,#0060ff,#007cff,#09f,#00b3ff,#00d1ff,#00f7ff,#0ff,#0ff,#0ff,#00fff7,#00ffb1,#00ff6b,#0f3,#00ff26,#00ff1b,#0f1,#00ff05,#08ff00,#16ff00,#2f0,#3eff00,#8f0,#cf0,#df0,#ef0,#ff0,#ff0,#ff0,#ff0,#ff0,#fffa00,#fc0,#ffa300,#ff8400)"></i>
<i style="background:linear-gradient(#00f,#00f,#00f,#0009ff,#0009ff,#0009ff,#0009ff,#0009ff,#0009ff,#0009ff,#0009ff,#0009ff,#0009ff,#0009ff,#0009ff,#0009ff,#0009ff,#0009ff,#000bff,#01f,#02f,#002cff,#04f,#0060ff,#007cff,#09f,#00b3ff,#00d1ff,#00f7ff,#0ff,#0ff,#0ff,#0ff,#00ffd1,#00ff8f,#00ff59,#00ff51,#00ff49,#0f4,#00ff39,#00ff2f,#0f2,#00ff1b,#0f0,#5f0,#a4ff00,#bf0,#cf0,#e1ff00,#f5ff00,#ff0,#ff0,#ff0,#ff0,#fff500,#fc0,#ffb000)"></i>
<i style="background:linear-gradient(#00f,#00f,#00f,#0009ff,#0009ff,#0009ff,#0009ff,#0009ff,#0009ff,#0009ff,#0009ff,#0009ff,#0009ff,#0009ff,#0009ff,#0009ff,#0009ff,#0009ff,#000bff,#01f,#02f,#002cff,#04f,#0060ff,#007cff,#09f,#00b3ff,#00d1ff,#00f7ff,#0ff,#0ff,#00ffe8,#00ffb1,#00ff61,#0f1,#3f0,#4f0,#59ff00,#6bff00,#7eff00,#94ff00,#af0,#c2ff00,#df0,#ff0,#ff0,#ff0,#ff0,#ff0,#ff0,#fff800,#ffd700,#ffb700,#ff8c00,#ff5b00,#f30,#ff1500)"></i>
<i style="background:linear-gradient(#00f,#00f,#00f,#0009ff,#0009ff,#0009ff,#0009ff,#0009ff,#0009ff,#0009ff,#0009ff,#0009ff,#0009ff,#0009ff,#0009ff,#0009ff,#0009ff,#0009ff,#000bff,#01f,#02f,#002cff,#04f,#0060ff,#007cff,#09f,#00b3ff,#00d1ff,#00f7ff,#0ff,#0ff,#0ff,#00ffe1,#0f9,#00ff50,#0f1,#00ff05,#08ff00,#16ff00,#2f0,#3f0,#4f0,#5f0,#6fff00,#b1ff00,#e9ff00,#f9ff00,#ff0,#ff0,#ff0,#ff0,#ff0,#ff0,#ffd800,#fa0,#ff8100,#ff6200)"></i>
<i style="background:linear-gradient(#00f,#00f,#00f,#0009ff,#0009ff,#0009ff,#0009ff,#0009ff,#0009ff,#0009ff,#0009ff,#0009ff,#0009ff,#0009ff,#0009ff,#0009ff,#0009ff,#0009ff,#000bff,#01f,#02f,#002cff,#04f,#0060ff,#007cff,#09f,#00b3ff,#00d1ff,#00f7ff,#0ff,#0ff,#0ff,#0fd,#00ff91,#0f4,#00ff0a,#04ff00,#1f0,#2f0,#2fff00,#40ff00,#51ff00,#62ff00,#7dff00,#bf0,#f2ff00,#ff0,#ff0,#ff0,#ff0,#ff0,#ff0,#fff600,#fc0,#ff9d00,#f70,#f50)"></i>
<i style="background:linear-gradient(#00f,#00f,#00f,#0009ff,#0009ff,#0009ff,#0009ff,#0009ff,#0009ff,#0009ff,#0009ff,#0009ff,#0009ff,#0009ff,#0009ff,#0009ff,#0009ff,#0009ff,#000bff,#01f,#02f,#002cff,#04f,#0060ff,#007cff,#09f,#00b3ff,#00d1ff,#00f7ff,#0ff,#0ff,#00fffb,#0fc,#00ff80,#0f3,#0cff00,#1cff00,#2cff00,#3cff00,#4cff00,#5eff00,#72ff00,#8f0,#a0ff00,#d8ff00,#ff0,#ff0,#ff0,#ff0,#ff0,#ff0,#fffb00,#fd0,#ffb600,#f80,#ff5f00,#ff4000)"></i>
<i style="background:linear-gradient(#00f,#00f,#00f,#0009ff,#0009ff,#0009ff,#0009ff,#0009ff,#0009ff,#0009ff,#0009ff,#0009ff,#0009ff,#0009ff,#0009ff,#0009ff,#0009ff,#0009ff,#000bff,#01f,#02f,#002cff,#04f,#0060ff,#007cff,#09f,#00b3ff,#00d1ff,#00f7ff,#0ff,#0ff,#0ff,#0fd,#00ff91,#0f4,#00ff09,#05ff00,#1f0,#2f0,#3f0,#40ff00,#5f0,#6f0,#7eff00,#bf0,#f3ff00,#ff0,#ff0,#ff0,#ff0,#ff0,#ff0,#fff600,#fc0,#ff9d00,#f70,#f50)"></i>
<i style="background:linear-gradient(#00f,#00f,#00f,#0009ff,#0009ff,#0009ff,#0009ff,#0009ff,#0009ff,#0009ff,#0009ff,#0009ff,#0009ff,#0009ff,#0009ff,#0009ff,#0009ff,#0009ff,#000bff,#01f,#02f,#002cff,#04f,#0060ff,#007cff,#09f,#00b3ff,#00d1ff,#00f7ff,#0ff,#0ff,#00fff5,#00ffc4,#0f7,#00ff29,#19ff00,#29ff00,#3aff00,#4bff00,#5cff00,#70ff00,#84ff00,#9f0,#b3ff00,#e8ff00,#ff0,#ff0,#ff0,#ff0,#ff0,#ff0,#fe0,#ffd200,#fa0,#f70,#ff5100,#f30)"></i>
<i style="background:linear-gradient(#00f,#00f,#00f,#0009ff,#0009ff,#0009ff,#0009ff,#0009ff,#0009ff,#0009ff,#0009ff,#0009ff,#0009ff,#0009ff,#0009ff,#0009ff,#0009ff,#0009ff,#0008ff,#000bff,#01f,#0018ff,#002bff,#04f,#05f,#006dff,#0083ff,#09f,#00c1ff,#00e5ff,#0ff,#0ff,#0ff,#0fc,#0f7,#00ff38,#0f2,#0f1,#0f0,#1f0,#29ff00,#3fff00,#5f0,#73ff00,#b4ff00,#ef0,#fbff00,#ff0,#ff0,#ff0,#ff0,#ff0,#ff0,#ffd600,#ffa400,#ff7e00,#ff5f00)"></i>
<i style="background:linear-gradient(#00f,#00f,#00f,#0009ff,#0009ff,#0009ff,#0009ff,#0009ff,#0009ff,#0009ff,#0009ff,#0009ff,#0009ff,#0009ff,#0009ff,#0009ff,#0009ff,#0009ff,#000bff,#01f,#02f,#002cff,#04f,#0060ff,#007cff,#09f,#00b3ff,#00d1ff,#00f7ff,#0ff,#0ff,#0ff,#00ffd3,#0f8,#00ff3d,#0f0,#1f0,#2f0,#3f0,#3fff00,#51ff00,#6f0,#7f0,#90ff00,#cf0,#ff0,#ff0,#ff0,#ff0,#ff0,#ff0,#ff0,#ffe900,#ffc100,#ff9000,#ff6a00,#ff4b00)"></i>
<i style="background:linear-gradient(#00f,#00f,#00f,#0009ff,#0009ff,#0009ff,#0009ff,#0009ff,#0009ff,#0009ff,#0009ff,#0009ff,#0009ff,#0009ff,#0009ff,#0009ff,#0009ff,#0009ff,#000bff,#01f,#02f,#002cff,#04f,#0060ff,#007cff,#09f,#00b3ff,#00d1ff,#00f7ff,#0ff,#0ff,#00fffb,#0fc,#00ff7f,#0f3,#1f0,#1eff00,#2eff00,#3eff00,#4eff00,#60ff00,#7f0,#8f0,#a2ff00,#df0,#ff0,#ff0,#ff0,#ff0,#ff0,#ff0,#fff900,#fd0,#ffb500,#ff8300,#ff5d00,#ff3e00)"></i>
<i style="background:linear-gradient(#00f,#00f,#00f,#0009ff,#0009ff,#0009ff,#0009ff,#0009ff,#0009ff,#0009ff,#0009ff,#0009ff,#0009ff,#0009ff,#0009ff,#0009ff,#0009ff,#0009ff,#000bff,#01f,#02f,#002cff,#04f,#0060ff,#007cff,#09f,#00b3ff,#00d1ff,#00f7ff,#0ff,#0ff,#00fff8,#00ffc7,#0f7,#00ff2d,#1f0,#2f0,#3f0,#4f0,#5f0,#6f0,#7cff00,#91ff00,#af0,#e1ff00,#ff0,#ff0,#ff0,#ff0,#ff0,#ff0,#fff400,#ffd700,#ffae00,#ff7d00,#f50,#ff3800)"></i>
<i style="background:linear-gradient(#00f,#00f,#00f,#0009ff,#0009ff,#0009ff,#0009ff,#0009ff,#0009ff,#0009ff,#0009ff,#0009ff,#0009ff,#0009ff,#0009ff,#0009ff,#0009ff,#0009ff,#000bff,#01f,#02f,#002cff,#04f,#0060ff,#007cff,#09f,#00b3ff,#00d1ff,#00f7ff,#0ff,#0ff,#0ff,#0fe,#00ffa3,#00ff5c,#0f2,#0f1,#00ff07,#05ff00,#1f0,#2f0,#3f0,#3fff00,#59ff00,#a0ff00,#df0,#ef0,#ff0,#ff0,#ff0,#ff0,#ff0,#ff0,#ffe700,#ffb600,#ff9000,#ff7100)"></i>
<i style="background:linear-gradient(#00f,#00f,#00f,#0009ff,#0009ff,#0009ff,#0009ff,#0009ff,#0009ff,#0009ff,#0009ff,#0009ff,#0009ff,#0009ff,#0009ff,#0009ff,#0009ff,#0009ff,#000bff,#01f,#02f,#002cff,#04f,#0060ff,#007cff,#09f,#00b3ff,#00d1ff,#00f7ff,#0ff,#0ff,#0ff,#0ff,#0fb,#0f7,#0f4,#00ff38,#00ff2e,#0f2,#00ff1a,#0f1,#0f0,#09ff00,#2f0,#7f0,#bf0,#cf0,#e1ff00,#f3ff00,#ff0,#ff0,#ff0,#ff0,#ff0,#fd0,#ffb500,#f90)"></i>
<i style="background:linear-gradient(#00f,#00f,#00f,#0009ff,#0009ff,#0009ff,#0009ff,#0009ff,#0009ff,#0009ff,#0009ff,#0009ff,#0009ff,#0009ff,#0009ff,#0009ff,#0009ff,#0009ff,#000bff,#01f,#02f,#002cff,#04f,#0060ff,#007cff,#09f,#00b3ff,#00d1ff,#00f7ff,#0ff,#0ff,#0ff,#0ff,#00ffc3,#00ff80,#0f4,#00ff3e,#0f3,#00ff2a,#0f2,#00ff16,#00ff0a,#0f0,#1cff00,#72ff00,#bf0,#cf0,#e1ff00,#f5ff00,#ff0,#ff0,#ff0,#ff0,#ff0,#ffd900,#ffb200,#ff9300)"></i>
<i style="background:linear-gradient(#00f,#00f,#00f,#0009ff,#0009ff,#0009ff,#0009ff,#0009ff,#0009ff,#0009ff,#0009ff,#0009ff,#0009ff,#0009ff,#0009ff,#0009ff,#0009ff,#0009ff,#000bff,#01f,#02f,#002cff,#04f,#0060ff,#007cff,#09f,#00b3ff,#00d1ff,#00f7ff,#0ff,#0ff,#0ff,#00fff4,#0fa,#00ff60,#0f2,#0f1,#00ff05,#0aff00,#18ff00,#29ff00,#39ff00,#4aff00,#6f0,#bf0,#ff0,#ff0,#ff0,#ff0,#ff0,#ff0,#ffe600,#fc0,#fa0,#ff7200,#ff4900,#ff2700)"></i>
<i style="background:linear-gradient(#00f,#00f,#00f,#0009ff,#0009ff,#0009ff,#0009ff,#0009ff,#0009ff,#0009ff,#0009ff,#0009ff,#0009ff,#0009ff,#0009ff,#0009ff,#0009ff,#0009ff,#000bff,#01f,#02f,#002cff,#04f,#0060ff,#007cff,#09f,#00b3ff,#00d1ff,#00f7ff,#0ff,#0ff,#0ff,#0fd,#00ff82,#00ff2a,#2f0,#3eff00,#59ff00,#73ff00,#8dff00,#af0,#c5ff00,#e1ff00,#ff0,#ff0,#ffae00,#ff8c00,#ff6b00,#ff4b00,#ff2a00,#ff0900,#ff001d,#f04,#ff0082,#f0c,#f0f,#f0f)"></i>
<i style="background:linear-gradient(#00f,#00f,#00f,#0009ff,#0009ff,#0009ff,#0009ff,#0009ff,#0009ff,#0009ff,#0009ff,#0009ff,#0009ff,#0009ff,#0009ff,#0009ff,#0009ff,#0009ff,#000bff,#01f,#02f,#002cff,#04f,#0060ff,#007bff,#09f,#00b2ff,#00d0ff,#00f6ff,#0ff,#0ff,#0ff,#00ffc0,#00ff51,#1aff00,#7f0,#a4ff00,#d0ff00,#faff00,#ff0,#ff0,#ffe700,#fb0,#ff7e00,#f10,#ff005d,#f09,#f0c,#f0f,#f0f,#f0f,#f0f,#f0f,#f0f,#f0f,#f0f,#f0f)"></i>
<i style="background:linear-gradient(#00f,#00f,#00f,#0009ff,#0009ff,#0009ff,#0009ff,#0009ff,#0009ff,#0009ff,#0009ff,#0009ff,#0009ff,#0009ff,#0009ff,#0009ff,#0009ff,#0009ff,#000aff,#01f,#001cff,#0029ff,#003cff,#0051ff,#06f,#007dff,#09f,#00b4ff,#00d4ff,#00f2ff,#0ff,#0ff,#0fe,#00ffa4,#00ff5c,#00ff1c,#0aff00,#3f0,#5f0,#7f0,#9f0,#c0ff00,#e3ff00,#ff0,#fe0,#f70,#ff2700,#f02,#f08,#f0f,#f0f,#f0f,#f0f,#f0f,#f0f,#f0f,#f0f)"></i>
<i style="background:linear-gradient(#00f,#00f,#00f,#0009ff,#0009ff,#0009ff,#0009ff,#0009ff,#0009ff,#0009ff,#0009ff,#0009ff,#0009ff,#0009ff,#0009ff,#0009ff,#0009ff,#0009ff,#0009ff,#000cff,#0018ff,#0026ff,#03f,#04f,#05f,#06f,#007dff,#09f,#00b2ff,#0cf,#0ff,#0ff,#0ff,#0ff,#00fff5,#0fd,#0fc,#0fb,#0fa,#0f9,#0f8,#0f7,#0f6,#0f5,#0f0,#6f0,#c1ff00,#ff0,#ff0,#ff4d00,#f07,#f0f,#f0f,#f0f,#f0f,#f0f,#f0f)"></i>
<i style="background:linear-gradient(#00f,#00f,#00f,#0009ff,#0009ff,#0009ff,#0009ff,#0009ff,#0009ff,#0009ff,#0009ff,#0009ff,#0009ff,#0009ff,#0009ff,#0009ff,#0009ff,#0009ff,#0007ff,#00f,#000aff,#01f,#001bff,#02f,#002dff,#0038ff,#004dff,#0061ff,#007bff,#0095ff,#00d8ff,#0df,#00e4ff,#0ef,#00faff,#0ff,#0ff,#0ff,#0ff,#0ff,#0ff,#0ff,#00fff5,#0fe,#00ffa0,#0f4,#0cff00,#4f0,#a1ff00,#ff0,#f80,#ff000b,#ff004a,#ff007d,#ff0080,#ff0084,#f08)"></i>
<i style="background:linear-gradient(#00f,#00f,#00f,#0009ff,#0009ff,#0009ff,#0009ff,#0009ff,#0009ff,#0009ff,#0009ff,#0009ff,#0009ff,#0009ff,#0009ff,#0009ff,#0009ff,#0009ff,#0009ff,#000cff,#0018ff,#0026ff,#03f,#04f,#0051ff,#0062ff,#007cff,#09f,#00b1ff,#0cf,#0ff,#0ff,#0ff,#0ff,#0ff,#0ff,#0ff,#0ff,#0ff,#0ff,#0ff,#0ff,#0ff,#0ff,#0fc,#00ff71,#00ff26,#1f0,#6f0,#ff0,#fc0,#ff3e00,#ff0c00,#f02,#f02,#f02,#f02)"></i>
<i style="background:linear-gradient(#00f,#00f,#00f,#0009ff,#0009ff,#0009ff,#0009ff,#0009ff,#0009ff,#0009ff,#0009ff,#0009ff,#0009ff,#0009ff,#0009ff,#0009ff,#0009ff,#0009ff,#0009ff,#000cff,#0018ff,#0026ff,#03f,#04f,#0051ff,#0062ff,#007cff,#09f,#00b1ff,#0cf,#0ff,#0ff,#0ff,#0ff,#0ff,#0ff,#0ff,#0ff,#0ff,#0ff,#0ff,#0ff,#0ff,#0ff,#00ffd3,#0f7,#00ff2d,#06ff00,#61ff00,#f5ff00,#ffd500,#ff4800,#ff1600,#f01,#f01,#f01,#ff0015)"></i>
<i style="background:linear-gradient(#00f,#00f,#00f,#0009ff,#0009ff,#0009ff,#0009ff,#0009ff,#0009ff,#0009ff,#0009ff,#0009ff,#0009ff,#0009ff,#0009ff,#0009ff,#0009ff,#0009ff,#0009ff,#000cff,#0018ff,#0026ff,#03f,#04f,#0051ff,#0062ff,#007cff,#09f,#00b1ff,#0cf,#0ff,#0ff,#0ff,#0ff,#0ff,#0ff,#0ff,#0ff,#0ff,#0ff,#0ff,#0ff,#0ff,#0ff,#00ffd3,#0f7,#00ff2d,#06ff00,#60ff00,#f5ff00,#ffd600,#ff4800,#ff1700,#f01,#f01,#f01,#f01)"></i>
<i style="background:linear-gradient(#00f,#00f,#00f,#0009ff,#0009ff,#0009ff,#0009ff,#0009ff,#0009ff,#0009ff,#0009ff,#0009ff,#0009ff,#0009ff,#0009ff,#0009ff,#0009ff,#0009ff,#0009ff,#000cff,#0018ff,#0026ff,#03f,#04f,#0051ff,#0062ff,#007cff,#09f,#00b1ff,#0cf,#0ff,#0ff,#0ff,#0ff,#0ff,#0ff,#0ff,#0ff,#0ff,#0ff,#0ff,#0ff,#0ff,#0ff,#00ffd3,#0f7,#00ff2d,#06ff00,#60ff00,#f5ff00,#ffd600,#ff4800,#ff1700,#f01,#f01,#f01,#f01)"></i>
<i style="background:linear-gradient(#00f,#00f,#00f,#0009ff,#0009ff,#0009ff,#0009ff,#0009ff,#0009ff,#0009ff,#0009ff,#0009ff,#0009ff,#0009ff,#0009ff,#0009ff,#0009ff,#0009ff,#0009ff,#000cff,#0018ff,#0026ff,#03f,#04f,#0051ff,#0062ff,#007cff,#09f,#00b1ff,#0cf,#0ff,#0ff,#0ff,#0ff,#0ff,#0ff,#0ff,#0ff,#0ff,#0ff,#0ff,#0ff,#0ff,#0ff,#00ffd3,#0f7,#00ff2d,#06ff00,#60ff00,#f4ff00,#ffd700,#ff4a00,#ff1800,#f01,#f01,#f01,#f01)"></i>
<i style="background:linear-gradient(#00f,#00f,#00f,#0009ff,#0009ff,#0009ff,#0009ff,#0009ff,#0009ff,#0009ff,#0009ff,#0009ff,#0009ff,#0009ff,#0009ff,#0009ff,#0009ff,#0009ff,#0009ff,#000cff,#0018ff,#0026ff,#03f,#04f,#0051ff,#0062ff,#007cff,#09f,#00b1ff,#0cf,#0ff,#0ff,#0ff,#0ff,#0ff,#0ff,#0ff,#0ff,#0ff,#0ff,#0ff,#0ff,#0ff,#0ff,#00ffd3,#0f7,#00ff2e,#05ff00,#5dff00,#ef0,#ffe400,#ff5b00,#ff2b00,#ff0500,#ff0500,#ff0500,#ff0500)"></i>
<i style="background:linear-gradient(#00f,#00f,#00f,#0009ff,#0009ff,#0009ff,#0009ff,#0009ff,#0009ff,#0009ff,#0009ff,#0009ff,#0009ff,#0009ff,#0009ff,#0009ff,#0009ff,#0009ff,#0009ff,#000cff,#0018ff,#0026ff,#03f,#04f,#0051ff,#0062ff,#007cff,#09f,#00b1ff,#0cf,#0ff,#0ff,#0ff,#0ff,#0ff,#0ff,#0ff,#0ff,#0ff,#0ff,#0ff,#0ff,#0ff,#0ff,#00ffd3,#0f7,#0f3,#00ff08,#3bff00,#a3ff00,#ff0,#ff0,#fd0,#ffc300,#ffc200,#ffc000,#fb0)"></i>
<i style="background:linear-gradient(#00f,#00f,#00f,#0009ff,#0009ff,#0009ff,#0009ff,#0009ff,#0009ff,#0009ff,#0009ff,#0009ff,#0009ff,#0009ff,#0009ff,#0009ff,#0009ff,#0009ff,#0009ff,#000cff,#0018ff,#0026ff,#03f,#04f,#0051ff,#0062ff,#007cff,#09f,#00b1ff,#0cf,#0ff,#0ff,#0ff,#0ff,#0ff,#0ff,#0ff,#0ff,#0ff,#0ff,#0ff,#0ff,#0ff,#0ff,#00ffd3,#0f7,#00ff37,#00ff1e,#0f0,#2f0,#3cff00,#5f0,#5fff00,#6f0,#6dff00,#71ff00,#7f0)"></i>
<i style="background:linear-gradient(#00f,#00f,#00f,#0009ff,#0009ff,#0009ff,#0009ff,#0009ff,#0009ff,#0009ff,#0009ff,#0009ff,#0009ff,#0009ff,#0009ff,#0009ff,#0009ff,#0009ff,#0009ff,#000cff,#0018ff,#0026ff,#03f,#04f,#0051ff,#0062ff,#007cff,#09f,#00b1ff,#0cf,#0ff,#0ff,#0ff,#0ff,#0ff,#0ff,#0ff,#0ff,#0ff,#0ff,#0ff,#0ff,#0ff,#0ff,#0fc,#0f7,#0f3,#00ff1e,#00ff09,#0bff00,#18ff00,#2f0,#2aff00,#3f0,#3f0,#3bff00,#40ff00)"></i>
<i style="background:linear-gradient(#00f,#00f,#00f,#0009ff,#0009ff,#0009ff,#0009ff,#0009ff,#0009ff,#0009ff,#0009ff,#0009ff,#0009ff,#0009ff,#0009ff,#0009ff,#0009ff,#0009ff,#0009ff,#000cff,#0018ff,#0026ff,#03f,#04f,#05f,#0062ff,#007dff,#09f,#00b1ff,#0cf,#0ff,#0ff,#0ff,#0ff,#0ff,#0ff,#0ff,#00fff6,#0fe,#00ffe6,#0fd,#00ffd5,#0fc,#00ffc5,#0f7,#00ff17,#2eff00,#49ff00,#62ff00,#7f0,#8f0,#9f0,#a4ff00,#b0ff00,#bf0,#c3ff00,#cf0)"></i>
<i style="background:linear-gradient(#00f,#00f,#00f,#0009ff,#0009ff,#0009ff,#0009ff,#0009ff,#0009ff,#0009ff,#0009ff,#0009ff,#0009ff,#0009ff,#0009ff,#0009ff,#0009ff,#0009ff,#000aff,#01f,#001aff,#0028ff,#0039ff,#004bff,#005dff,#0070ff,#08f,#00a6ff,#00c4ff,#00e1ff,#0ff,#00fffa,#00ffd0,#00ffa0,#00ff72,#00ff48,#00ff2c,#0f1,#0bff00,#26ff00,#4f0,#6f0,#8f0,#af0,#ff0,#ff0,#ffb500,#f80,#ff6100,#ff3900,#f10,#ff001a,#ff004a,#f07,#f0a,#f0c,#f0e)"></i>
<i style="background:linear-gradient(#00f,#00f,#00f,#0009ff,#0009ff,#0009ff,#0009ff,#0009ff,#0009ff,#0009ff,#0009ff,#0009ff,#0009ff,#0009ff,#0009ff,#0009ff,#0009ff,#0009ff,#0008ff,#000bff,#01f,#0018ff,#002aff,#0040ff,#05f,#006bff,#0080ff,#09f,#0bf,#00e1ff,#0ff,#0ff,#0fd,#0f8,#00ff2a,#26ff00,#48ff00,#6f0,#8f0,#af0,#df0,#ff0,#ff0,#fd0,#f90,#ff5c00,#ff3c00,#ff1e00,#f00,#f02,#f05,#ff00a4,#f0e,#f0f,#f0f,#f0f,#f0f)"></i>
<i style="background:linear-gradient(#00f,#00f,#00f,#0009ff,#0009ff,#0009ff,#0009ff,#0009ff,#0009ff,#0009ff,#0009ff,#0009ff,#0009ff,#0009ff,#0009ff,#0009ff,#0009ff,#0009ff,#000bff,#01f,#02f,#002cff,#04f,#0060ff,#007cff,#09f,#00b3ff,#00d1ff,#00f7ff,#0ff,#0ff,#0ff,#00ffd5,#0f8,#00ff3e,#0f0,#1f0,#2f0,#3f0,#4f0,#6f0,#8f0,#b2ff00,#df0,#ff0,#ff0,#ff0,#ff0,#fffa00,#ffe800,#ffc700,#ff8f00,#f50,#ff1e00,#f02,#ff004e,#f06)"></i>
<i style="background:linear-gradient(#00f,#00f,#00f,#0009ff,#0009ff,#0009ff,#0009ff,#0009ff,#0009ff,#0009ff,#0009ff,#0009ff,#0009ff,#0009ff,#0009ff,#0009ff,#0009ff,#0009ff,#000bff,#01f,#02f,#002cff,#04f,#0060ff,#007cff,#09f,#00b3ff,#00d1ff,#00f7ff,#0ff,#0ff,#00fffa,#0fc,#00ff7f,#0f3,#1f0,#1eff00,#2eff00,#3eff00,#4eff00,#71ff00,#9f0,#c2ff00,#eaff00,#ff0,#ff0,#ff0,#ff0,#ff0,#fff700,#ffd700,#ff9e00,#f60,#ff2b00,#f01,#ff003b,#f05)"></i>
<i style="background:linear-gradient(#00f,#00f,#00f,#0009ff,#0009ff,#0009ff,#0009ff,#0009ff,#0009ff,#0009ff,#0009ff,#0009ff,#0009ff,#0009ff,#0009ff,#0009ff,#0009ff,#0009ff,#000bff,#01f,#02f,#002cff,#04f,#0060ff,#007cff,#09f,#00b3ff,#00d1ff,#00f7ff,#0ff,#0ff,#0ff,#0fd,#0f9,#00ff4e,#0f1,#0f0,#0aff00,#18ff00,#26ff00,#4f0,#6bff00,#91ff00,#bf0,#ef0,#ff0,#ff0,#ff0,#ff0,#ff0,#fe0,#fb0,#f80,#ff4e00,#f10,#f01,#ff002a)"></i>
<i style="background:linear-gradient(#00f,#00f,#00f,#0009ff,#0009ff,#0009ff,#0009ff,#0009ff,#0009ff,#0009ff,#0009ff,#0009ff,#0009ff,#0009ff,#0009ff,#0009ff,#0009ff,#0009ff,#000bff,#01f,#02f,#002cff,#04f,#0060ff,#007cff,#09f,#00b3ff,#00d1ff,#00f7ff,#0ff,#0ff,#0ff,#00fff9,#00ffb4,#00ff6f,#0f3,#00ff2a,#0f2,#00ff15,#00ff0a,#1f0,#3f0,#5f0,#7fff00,#bf0,#f4ff00,#ff0,#ff0,#ff0,#ff0,#ff0,#fd0,#fa0,#f70,#ff3c00,#ff1900,#ff0500)"></i>
<i style="background:linear-gradient(#00f,#00f,#00f,#0009ff,#0009ff,#0009ff,#0009ff,#0009ff,#0009ff,#0009ff,#0009ff,#0009ff,#0009ff,#0009ff,#0009ff,#0009ff,#0009ff,#0009ff,#000bff,#01f,#02f,#002cff,#04f,#0060ff,#007cff,#09f,#00b3ff,#00d1ff,#00f7ff,#0ff,#0ff,#0ff,#00ffe3,#0f9,#00ff51,#0f1,#00ff07,#06ff00,#1f0,#2f0,#4f0,#6f0,#8f0,#b3ff00,#e7ff00,#ff0,#ff0,#ff0,#ff0,#ff0,#fff300,#fb0,#f80,#f50,#ff1800,#ff000d,#ff0026)"></i>
<i style="background:linear-gradient(#00f,#00f,#00f,#0009ff,#0009ff,#0009ff,#0009ff,#0009ff,#0009ff,#0009ff,#0009ff,#0009ff,#0009ff,#0009ff,#0009ff,#0009ff,#0009ff,#0009ff,#000bff,#01f,#02f,#002cff,#04f,#0060ff,#007cff,#09f,#00b3ff,#00d1ff,#00f7ff,#0ff,#0ff,#00ffe8,#00ffb2,#00ff62,#0f1,#3f0,#4f0,#5f0,#6bff00,#7eff00,#a4ff00,#d0ff00,#fbff00,#ff0,#ff0,#ff0,#ff0,#fff200,#ffe700,#fd0,#fb0,#ff7d00,#ff3f00,#ff0400,#ff0040,#ff006b,#ff0083)"></i>
<i style="background:linear-gradient(#00f,#00f,#00f,#0009ff,#0009ff,#0009ff,#0009ff,#0009ff,#0009ff,#0009ff,#0009ff,#0009ff,#0009ff,#0009ff,#0009ff,#0009ff,#0009ff,#0009ff,#000bff,#01f,#02f,#002cff,#04f,#0060ff,#007cff,#09f,#00b3ff,#00d1ff,#00f7ff,#0ff,#0ff,#0ff,#0fd,#0f9,#00ff4e,#0f1,#0f0,#0bff00,#18ff00,#26ff00,#4f0,#6cff00,#91ff00,#bf0,#ef0,#ff0,#ff0,#ff0,#ff0,#ff0,#fe0,#fb0,#f80,#ff4d00,#f10,#f01,#ff002b)"></i>
<i style="background:linear-gradient(#00f,#00f,#00f,#0009ff,#0009ff,#0009ff,#0009ff,#0009ff,#0009ff,#0009ff,#0009ff,#0009ff,#0009ff,#0009ff,#0009ff,#0009ff,#0009ff,#0009ff,#000bff,#01f,#02f,#002cff,#04f,#0060ff,#007bff,#09f,#00b2ff,#00d0ff,#00f7ff,#0ff,#0ff,#0ff,#00ffe5,#00ff9d,#0f5,#00ff19,#00ff0c,#0f0,#1f0,#1dff00,#3dff00,#6f0,#8f0,#b1ff00,#e6ff00,#ff0,#ff0,#ff0,#ff0,#ff0,#fe0,#fb0,#f80,#ff4f00,#ff1600,#f01,#ff0028)"></i>
<i style="background:linear-gradient(#00f,#00f,#00f,#0009ff,#0009ff,#0009ff,#0009ff,#0009ff,#0009ff,#0009ff,#0009ff,#0009ff,#0009ff,#0009ff,#0009ff,#0009ff,#0009ff,#0009ff,#000bff,#01f,#02f,#002bff,#04f,#005cff,#07f,#0090ff,#0af,#0cf,#0ef,#0ff,#0ff,#00fffb,#0fc,#0f8,#0f4,#00ff0b,#05ff00,#1aff00,#3f0,#51ff00,#7cff00,#af0,#d8ff00,#ff0,#ff0,#ff0,#fffa00,#fd0,#fb0,#fa0,#ff8f00,#ff5900,#f20,#f01,#f05,#f07,#ff0090)"></i>
<i style="background:linear-gradient(#00f,#00f,#00f,#0009ff,#0009ff,#0009ff,#0009ff,#0009ff,#0009ff,#0009ff,#0009ff,#0009ff,#0009ff,#0009ff,#0009ff,#0009ff,#0009ff,#0009ff,#000aff,#01f,#001bff,#0028ff,#003aff,#004dff,#0060ff,#07f,#0092ff,#00b0ff,#00d1ff,#0ff,#0ff,#0ff,#0ff,#00ffe4,#00ffc2,#0f8,#0f4,#00ff05,#3f0,#62ff00,#9f0,#d4ff00,#ff0,#ff0,#fc0,#f70,#ff0600,#ff003c,#ff004d,#ff005d,#ff0073,#ff0093,#ff00b3,#ff00d3,#ff00f5,#f0f,#f0f)"></i>
<i style="background:linear-gradient(#00f,#00f,#00f,#0009ff,#0009ff,#0009ff,#0009ff,#0009ff,#0009ff,#0009ff,#0009ff,#0009ff,#0009ff,#0009ff,#0009ff,#0009ff,#0009ff,#0009ff,#0009ff,#000cff,#0018ff,#0026ff,#03f,#04f,#0051ff,#06f,#0081ff,#009eff,#0bf,#0ef,#0ff,#0ff,#0ff,#0fe,#0f9,#00ff3c,#1f0,#5f0,#91ff00,#cf0,#ff0,#ff0,#ffc500,#f60,#ff000a,#ff00d8,#ff00e9,#ff00f9,#f0f,#f0f,#f0f,#f0f,#f0f,#f0f,#f0f,#f0f,#f0f)"></i>
<i style="background:linear-gradient(#00f,#00f,#00f,#0009ff,#0009ff,#0009ff,#0009ff,#0009ff,#0009ff,#0009ff,#0009ff,#0009ff,#0009ff,#0009ff,#0009ff,#0009ff,#0009ff,#0009ff,#0007ff,#00f,#000aff,#01f,#001bff,#02f,#002dff,#0039ff,#0051ff,#06f,#08f,#0bf,#00e8ff,#00fbff,#0ff,#0ff,#0fb,#00ff5a,#00ff04,#4f0,#8f0,#cf0,#ff0,#ff0,#fa0,#f40,#ff0038,#f0f,#f0f,#f0f,#f0f,#f0f,#f0f,#f0f,#f0f,#f0f,#f0f,#f0f,#f0f)"></i>
<i style="background:linear-gradient(#00f,#00f,#00f,#0009ff,#0009ff,#0009ff,#0009ff,#0009ff,#0009ff,#0009ff,#0009ff,#0009ff,#0009ff,#0009ff,#0009ff,#0009ff,#0009ff,#0009ff,#0009ff,#000cff,#0018ff,#0026ff,#03f,#04f,#0051ff,#06f,#0081ff,#009fff,#0bf,#0ef,#0ff,#0ff,#0ff,#0ff,#0ff,#0fc,#00ff70,#0f1,#38ff00,#7dff00,#c1ff00,#ff0,#ff0,#ffc600,#ff6b00,#ff0400,#f0b,#f0f,#f0f,#f0f,#f0f,#f0f,#f0f,#f0f,#f0f,#f0f,#f0f)"></i>
<i style="background:linear-gradient(#00f,#00f,#00f,#0009ff,#0009ff,#0009ff,#0009ff,#0009ff,#0009ff,#0009ff,#0009ff,#0009ff,#0009ff,#0009ff,#0009ff,#0009ff,#0009ff,#0009ff,#0009ff,#000cff,#0018ff,#0026ff,#03f,#04f,#0051ff,#06f,#0081ff,#009fff,#0bf,#0ef,#0ff,#0ff,#0ff,#0ff,#0ff,#0ff,#0ff,#00ffd5,#0f7,#00ff19,#38ff00,#83ff00,#cf0,#ff0,#ff0,#ffaf00,#ff4f00,#f02,#ff00f8,#f0f,#f0f,#f0f,#f0f,#f0f,#f0f,#f0f,#f0f)"></i>
<i style="background:linear-gradient(#00f,#00f,#00f,#0009ff,#0009ff,#0009ff,#0009ff,#0009ff,#0009ff,#0009ff,#0009ff,#0009ff,#0009ff,#0009ff,#0009ff,#0009ff,#0009ff,#0009ff,#0009ff,#000cff,#0018ff,#0026ff,#03f,#04f,#0051ff,#06f,#0081ff,#009fff,#0bf,#0ef,#0ff,#0ff,#0ff,#0ff,#0ff,#0ff,#0ff,#0ff,#00fff9,#0f9,#00ff3e,#1cff00,#6cff00,#bf0,#ff0,#ff0,#fb0,#ff5f00,#ff000a,#ff00d7,#f0f,#f0f,#f0f,#f0f,#f0f,#f0f,#f0f)"></i>
<i style="background:linear-gradient(#00f,#00f,#00f,#0009ff,#0009ff,#0009ff,#0009ff,#0009ff,#0009ff,#0009ff,#0009ff,#0009ff,#0009ff,#0009ff,#0009ff,#0009ff,#0009ff,#0009ff,#0009ff,#000cff,#0018ff,#0026ff,#03f,#04f,#0051ff,#06f,#0081ff,#009fff,#0bf,#0ef,#0ff,#0ff,#0ff,#0ff,#0ff,#0ff,#0ff,#0ff,#0ff,#0fc,#00ff6e,#0f1,#4f0,#9f0,#e9ff00,#ff0,#fd0,#f80,#f20,#f07,#f0f,#f0f,#f0f,#f0f,#f0f,#f0f,#f0f)"></i>
<i style="background:linear-gradient(#00f,#00f,#00f,#0009ff,#0009ff,#0009ff,#0009ff,#0009ff,#0009ff,#0009ff,#0009ff,#0009ff,#0009ff,#0009ff,#0009ff,#0009ff,#0009ff,#0009ff,#0009ff,#000cff,#0018ff,#0026ff,#03f,#04f,#0051ff,#06f,#0081ff,#009fff,#0bf,#0ef,#0ff,#0ff,#0ff,#0ff,#0ff,#0ff,#0ff,#0ff,#0ff,#00ffb3,#0f5,#09ff00,#59ff00,#af0,#fbff00,#ff0,#fc0,#f70,#ff0d00,#f01,#f01,#ff0015,#ff0019,#ff001d,#f02,#f02,#ff0029)"></i>
<i style="background:linear-gradient(#00f,#00f,#00f,#0009ff,#0009ff,#0009ff,#0009ff,#0009ff,#0009ff,#0009ff,#0009ff,#0009ff,#0009ff,#0009ff,#0009ff,#0009ff,#0009ff,#0009ff,#0009ff,#000cff,#0018ff,#0026ff,#03f,#04f,#0051ff,#06f,#0081ff,#009fff,#0bf,#0ef,#0ff,#0ff,#0ff,#0ff,#0ff,#0ff,#0ff,#00fffb,#00ff9d,#00ff3f,#1aff00,#6f0,#b2ff00,#ff0,#ff0,#fc0,#ff7100,#ff0a00,#ff0094,#f0e,#f0f,#f0f,#f0f,#f0f,#f0f,#f0f,#f0f)"></i>
<i style="background:linear-gradient(#00f,#00f,#00f,#0009ff,#0009ff,#0009ff,#0009ff,#0009ff,#0009ff,#0009ff,#0009ff,#0009ff,#0009ff,#0009ff,#0009ff,#0009ff,#0009ff,#0009ff,#0009ff,#000cff,#0018ff,#0026ff,#03f,#04f,#0051ff,#06f,#0081ff,#009fff,#0bf,#0ef,#0ff,#0ff,#0ff,#0ff,#0ff,#00ffea,#00ff8d,#00ff2f,#2f0,#6f0,#aeff00,#f3ff00,#ff0,#fd0,#f80,#ff1e00,#f08,#f0f,#f0f,#f0f,#f0f,#f0f,#f0f,#f0f,#f0f,#f0f,#f0f)"></i>
<i style="background:linear-gradient(#00f,#00f,#00f,#0009ff,#0009ff,#0009ff,#0009ff,#0009ff,#0009ff,#0009ff,#0009ff,#0009ff,#0009ff,#0009ff,#0009ff,#0009ff,#0009ff,#0009ff,#0009ff,#000cff,#0018ff,#0026ff,#03f,#04f,#0051ff,#06f,#0081ff,#009fff,#0bf,#0ef,#0ff,#0ff,#0ff,#00fff2,#00ff94,#0f3,#1dff00,#5dff00,#9f0,#df0,#ff0,#fffb00,#fa0,#f40,#f03,#f0f,#f0f,#f0f,#f0f,#f0f,#f0f,#f0f,#f0f,#f0f,#f0f,#f0f,#f0f)"></i>
<i style="background:linear-gradient(#00f,#00f,#00f,#0009ff,#0009ff,#0009ff,#0009ff,#0009ff,#0009ff,#0009ff,#0009ff,#0009ff,#0009ff,#0009ff,#0009ff,#0009ff,#0009ff,#0009ff,#0009ff,#000cff,#0018ff,#0026ff,#03f,#04f,#0051ff,#06f,#0081ff,#009fff,#0bf,#0ef,#0ff,#0ff,#0ff,#00fff2,#00ff95,#00ff38,#1bff00,#5bff00,#9f0,#df0,#ff0,#ff0,#fa0,#ff4d00,#ff002c,#f0f,#f0f,#f0f,#f0f,#f0f,#f0f,#f0f,#f0f,#f0f,#f0f,#f0f,#f0f)"></i>
<i style="background:linear-gradient(#00f,#00f,#00f,#0009ff,#0009ff,#0009ff,#0009ff,#0009ff,#0009ff,#0009ff,#0009ff,#0009ff,#0009ff,#0009ff,#0009ff,#0009ff,#0009ff,#0009ff,#0009ff,#000cff,#0018ff,#0026ff,#03f,#04f,#05f,#06f,#0082ff,#00a0ff,#0bf,#0ef,#0ff,#0ff,#0ff,#0ff,#0ff,#00ffe1,#0f8,#0f3,#1eff00,#5fff00,#9eff00,#df0,#ff0,#ff0,#ffb300,#ff5100,#f04,#f0c,#ff00e1,#ff00f3,#f0f,#f0f,#f0f,#f0f,#f0f,#f0f,#f0f)"></i>
<i style="background:linear-gradient(#00f,#00f,#00f,#0009ff,#0009ff,#0009ff,#0009ff,#0009ff,#0009ff,#0009ff,#0009ff,#0009ff,#0009ff,#0009ff,#0009ff,#0009ff,#0009ff,#0009ff,#0009ff,#000cff,#0018ff,#0026ff,#0037ff,#004cff,#0061ff,#07f,#0094ff,#00b1ff,#00d4ff,#0ff,#0ff,#0ff,#0ff,#00fff3,#0fb,#00ff83,#00ff72,#0f6,#0f3,#00ff04,#2f0,#4f0,#6f0,#95ff00,#c2ff00,#f3ff00,#ff0,#ffe200,#ff7b00,#ff3a00,#ff2c00,#ff1e00,#f10,#f00,#f01,#f02,#f03)"></i>
<i style="background:linear-gradient(#00f,#00f,#00f,#0009ff,#0009ff,#0009ff,#0009ff,#0009ff,#0009ff,#0009ff,#0009ff,#0009ff,#0009ff,#0009ff,#0009ff,#0009ff,#0009ff,#0009ff,#0007ff,#00f,#000aff,#01f,#02f,#03f,#004aff,#005fff,#07f,#08f,#00b2ff,#00d9ff,#00eaff,#00f9ff,#0ff,#0ff,#0f9,#00ff38,#00ff19,#00ff0c,#0f0,#1f0,#1f0,#17ff00,#1aff00,#3f0,#4f0,#6f0,#9eff00,#d0ff00,#ff0,#ff0,#ff0,#ff0,#ff0,#ff0,#fff400,#ffe400,#ffd400)"></i>
<i style="background:linear-gradient(#00f,#00f,#00f,#0009ff,#0009ff,#0009ff,#0009ff,#0009ff,#0009ff,#0009ff,#0009ff,#0009ff,#0009ff,#0009ff,#0009ff,#0009ff,#0009ff,#0009ff,#0009ff,#000cff,#0018ff,#0026ff,#0039ff,#05f,#0070ff,#008cff,#0af,#00c3ff,#0ef,#0ff,#0ff,#0ff,#0ff,#0fd,#00ff7f,#00ff1d,#0f0,#06ff00,#1f0,#1f0,#09ff00,#0f0,#00ff0a,#07ff00,#19ff00,#3f0,#6bff00,#9eff00,#cf0,#f6ff00,#ff0,#ff0,#ff0,#ff0,#ff0,#ff0,#ff0)"></i>
<i style="background:linear-gradient(#00f,#00f,#00f,#0009ff,#0009ff,#0009ff,#0009ff,#0009ff,#0009ff,#0009ff,#0009ff,#0009ff,#0009ff,#0009ff,#0009ff,#0009ff,#0009ff,#0009ff,#0009ff,#000cff,#0018ff,#0026ff,#0039ff,#05f,#0071ff,#008cff,#0af,#00c3ff,#0ef,#0ff,#0ff,#0ff,#0ff,#0fc,#0f6,#0f0,#18ff00,#2f0,#29ff00,#2dff00,#2f0,#18ff00,#1f0,#2f0,#3f0,#49ff00,#82ff00,#b3ff00,#df0,#ff0,#ff0,#ff0,#ff0,#ff0,#ff0,#ff0,#ff0)"></i>
<i style="background:linear-gradient(#00f,#00f,#00f,#0009ff,#0009ff,#0009ff,#0009ff,#0009ff,#0009ff,#0009ff,#0009ff,#0009ff,#0009ff,#0009ff,#0009ff,#0009ff,#0009ff,#0009ff,#0009ff,#000cff,#0018ff,#0026ff,#0039ff,#05f,#0071ff,#008cff,#0af,#00c3ff,#0ef,#0ff,#0ff,#0ff,#0ff,#0fb,#00ff48,#1bff00,#3f0,#3eff00,#4f0,#4bff00,#40ff00,#3f0,#2bff00,#3cff00,#4dff00,#6f0,#a0ff00,#cf0,#f6ff00,#ff0,#ff0,#ff0,#ff0,#ff0,#ff0,#ff0,#ffe900)"></i>
<i style="background:linear-gradient(#00f,#00f,#00f,#0009ff,#0009ff,#0009ff,#0009ff,#0009ff,#0009ff,#0009ff,#0009ff,#0009ff,#0009ff,#0009ff,#0009ff,#0009ff,#0009ff,#0009ff,#0009ff,#000cff,#0018ff,#0026ff,#0039ff,#05f,#0071ff,#008cff,#0af,#00c3ff,#0ef,#0ff,#0ff,#0ff,#0ff,#0fb,#00ff48,#1bff00,#3f0,#3eff00,#4f0,#4bff00,#40ff00,#3f0,#2aff00,#3bff00,#4dff00,#6f0,#a0ff00,#cf0,#f6ff00,#ff0,#ff0,#ff0,#ff0,#ff0,#ff0,#fffb00,#ffe900)"></i>
<i style="background:linear-gradient(#00f,#00f,#00f,#0009ff,#0009ff,#0009ff,#0009ff,#0009ff,#0009ff,#0009ff,#0009ff,#0009ff,#0009ff,#0009ff,#0009ff,#0009ff,#0009ff,#0009ff,#0009ff,#000cff,#0018ff,#0026ff,#0039ff,#05f,#0071ff,#008cff,#0af,#00c3ff,#0ef,#0ff,#0ff,#0ff,#0ff,#0fd,#00ff7f,#00ff1c,#0f0,#06ff00,#1f0,#1f0,#08ff00,#00ff04,#0f1,#0f0,#15ff00,#2fff00,#6f0,#9f0,#cf0,#f3ff00,#ff0,#ff0,#ff0,#ff0,#ff0,#ff0,#ff0)"></i>
<i style="background:linear-gradient(#00f,#00f,#00f,#0009ff,#0009ff,#0009ff,#0009ff,#0009ff,#0009ff,#0009ff,#0009ff,#0009ff,#0009ff,#0009ff,#0009ff,#0009ff,#0009ff,#0009ff,#0009ff,#000cff,#0018ff,#0026ff,#0039ff,#05f,#0071ff,#008cff,#0af,#00c3ff,#0ef,#0ff,#0ff,#0ff,#0ff,#0fb,#00ff4a,#19ff00,#3f0,#3cff00,#4f0,#48ff00,#3dff00,#3f0,#2f0,#37ff00,#4aff00,#6f0,#9eff00,#cf0,#f5ff00,#ff0,#ff0,#ff0,#ff0,#ff0,#ff0,#ff0,#ffea00)"></i>
<i style="background:linear-gradient(#00f,#00f,#00f,#0009ff,#0009ff,#0009ff,#0009ff,#0009ff,#0009ff,#0009ff,#0009ff,#0009ff,#0009ff,#0009ff,#0009ff,#0009ff,#0009ff,#0009ff,#0009ff,#000cff,#0018ff,#0026ff,#0039ff,#05f,#0071ff,#008cff,#0af,#00c3ff,#0ef,#0ff,#0ff,#0ff,#0ff,#0fb,#00ff4c,#16ff00,#3f0,#39ff00,#4f0,#4f0,#39ff00,#2dff00,#2f0,#3f0,#4f0,#61ff00,#9f0,#cf0,#f3ff00,#ff0,#ff0,#ff0,#ff0,#ff0,#ff0,#ff0,#fe0)"></i>
<i style="background:linear-gradient(#00f,#00f,#00f,#0009ff,#0009ff,#0009ff,#0009ff,#0009ff,#0009ff,#0009ff,#0009ff,#0009ff,#0009ff,#0009ff,#0009ff,#0009ff,#0009ff,#0009ff,#0009ff,#000cff,#0018ff,#0026ff,#0039ff,#05f,#0071ff,#008cff,#0af,#00c3ff,#0ef,#0ff,#0ff,#0ff,#0ff,#0fd,#00ff7e,#00ff1c,#0f0,#06ff00,#1f0,#1f0,#05ff00,#00ff08,#0f1,#0f0,#1f0,#2eff00,#6f0,#9dff00,#cf0,#f4ff00,#ff0,#ff0,#ff0,#ff0,#ff0,#ff0,#ff0)"></i>
<i style="background:linear-gradient(#00f,#00f,#00f,#0009ff,#0009ff,#0009ff,#0009ff,#0009ff,#0009ff,#0009ff,#0009ff,#0009ff,#0009ff,#0009ff,#0009ff,#0009ff,#0009ff,#0009ff,#0009ff,#000cff,#0018ff,#0026ff,#0039ff,#05f,#0071ff,#008cff,#0af,#00c3ff,#0ef,#0ff,#0ff,#0ff,#0ff,#00ffe3,#0f8,#00ff26,#00ff0c,#00ff04,#04ff00,#08ff00,#00ff05,#0f1,#0f2,#00ff0c,#08ff00,#2f0,#60ff00,#9f0,#c6ff00,#ef0,#f9ff00,#ff0,#ff0,#ff0,#ff0,#ff0,#ff0)"></i>
<i style="background:linear-gradient(#00f,#00f,#00f,#0009ff,#0009ff,#0009ff,#0009ff,#0009ff,#0009ff,#0009ff,#0009ff,#0009ff,#0009ff,#0009ff,#0009ff,#0009ff,#0009ff,#0009ff,#0009ff,#000cff,#0018ff,#0026ff,#0039ff,#05f,#0071ff,#008cff,#0af,#00c3ff,#0ef,#0ff,#0ff,#0ff,#0ff,#0fc,#00ff62,#0f0,#18ff00,#2f0,#28ff00,#2cff00,#1eff00,#1f0,#0f0,#16ff00,#2bff00,#4f0,#8f0,#b7ff00,#e2ff00,#ff0,#ff0,#ff0,#ff0,#ff0,#ff0,#ff0,#ff0)"></i>
<i style="background:linear-gradient(#00f,#00f,#00f,#0009ff,#0009ff,#0009ff,#0009ff,#0009ff,#0009ff,#0009ff,#0009ff,#0009ff,#0009ff,#0009ff,#0009ff,#0009ff,#0009ff,#0009ff,#0009ff,#000cff,#0018ff,#0026ff,#0039ff,#05f,#0071ff,#008cff,#0af,#00c3ff,#0ef,#0ff,#0ff,#0ff,#0ff,#0fa,#0f3,#2bff00,#4f0,#4dff00,#5f0,#59ff00,#4aff00,#3bff00,#2bff00,#4f0,#5f0,#7f0,#b3ff00,#e2ff00,#ff0,#ff0,#ff0,#ff0,#ff0,#ff0,#ff0,#ffe700,#ffd200)"></i>
<i style="background:linear-gradient(#00f,#00f,#00f,#0009ff,#0009ff,#0009ff,#0009ff,#0009ff,#0009ff,#0009ff,#0009ff,#0009ff,#0009ff,#0009ff,#0009ff,#0009ff,#0009ff,#0009ff,#0007ff,#00f,#000aff,#01f,#02f,#03f,#004cff,#0062ff,#07f,#008eff,#00b6ff,#0df,#0ef,#00faff,#0ff,#0ff,#00ff8f,#00ff2b,#00ff0d,#0f0,#1f0,#17ff00,#0cff00,#0f0,#00ff09,#1f0,#27ff00,#4f0,#8f0,#bf0,#e3ff00,#ff0,#ff0,#ff0,#ff0,#ff0,#ff0,#ff0,#ff0)"></i>
<i style="background:linear-gradient(#00f,#00f,#00f,#0009ff,#0009ff,#0009ff,#0009ff,#0009ff,#0009ff,#0009ff,#0009ff,#0009ff,#0009ff,#0009ff,#0009ff,#0009ff,#0009ff,#0009ff,#0009ff,#000cff,#0018ff,#0026ff,#0039ff,#05f,#0071ff,#008cff,#0af,#00c3ff,#0ef,#0ff,#0ff,#0ff,#0ff,#00ffb6,#0f4,#1aff00,#3f0,#3bff00,#4f0,#4f0,#3f0,#2f0,#1f0,#2aff00,#4f0,#62ff00,#a3ff00,#d4ff00,#fbff00,#ff0,#ff0,#ff0,#ff0,#ff0,#ff0,#fff500,#ffe200)"></i>
<i style="background:linear-gradient(#00f,#00f,#00f,#0009ff,#0009ff,#0009ff,#0009ff,#0009ff,#0009ff,#0009ff,#0009ff,#0009ff,#0009ff,#0009ff,#0009ff,#0009ff,#0009ff,#0009ff,#0009ff,#000cff,#0018ff,#0026ff,#0039ff,#05f,#0071ff,#008cff,#0af,#00c3ff,#0ef,#0ff,#0ff,#0ff,#0ff,#0fa,#0f3,#2bff00,#4f0,#4dff00,#5f0,#5f0,#4f0,#3f0,#2f0,#39ff00,#5f0,#73ff00,#b6ff00,#e6ff00,#ff0,#ff0,#ff0,#ff0,#ff0,#ff0,#fff800,#ffe200,#fc0)"></i>
<i style="background:linear-gradient(#00f,#00f,#00f,#0009ff,#0009ff,#0009ff,#0009ff,#0009ff,#0009ff,#0009ff,#0009ff,#0009ff,#0009ff,#0009ff,#0009ff,#0009ff,#0009ff,#0009ff,#0009ff,#000cff,#0018ff,#0026ff,#0039ff,#05f,#0071ff,#008cff,#0af,#00c3ff,#0ef,#0ff,#0ff,#0ff,#0ff,#00ffd9,#0f7,#00ff1e,#00ff05,#0f0,#0bff00,#1f0,#00ff06,#00ff1a,#00ff2e,#0f1,#07ff00,#29ff00,#6dff00,#a4ff00,#d2ff00,#f9ff00,#ff0,#ff0,#ff0,#ff0,#ff0,#ff0,#ff0)"></i>
<i style="background:linear-gradient(#00f,#00f,#00f,#0009ff,#0009ff,#0009ff,#0009ff,#0009ff,#0009ff,#0009ff,#0009ff,#0009ff,#0009ff,#0009ff,#0009ff,#0009ff,#0009ff,#0009ff,#0009ff,#000cff,#0018ff,#0026ff,#0039ff,#05f,#0071ff,#008cff,#0af,#00c3ff,#0ef,#0ff,#0ff,#0ff,#0ff,#00ffbf,#0f5,#07ff00,#2f0,#28ff00,#3f0,#3f0,#1dff00,#08ff00,#00ff0d,#1f0,#2aff00,#4eff00,#94ff00,#c8ff00,#ef0,#ff0,#ff0,#ff0,#ff0,#ff0,#ff0,#ff0,#fe0)"></i>
<i style="background:linear-gradient(#00f,#00f,#00f,#0009ff,#0009ff,#0009ff,#0009ff,#0009ff,#0009ff,#0009ff,#0009ff,#0009ff,#0009ff,#0009ff,#0009ff,#0009ff,#0009ff,#0009ff,#0009ff,#000cff,#0018ff,#0026ff,#0039ff,#05f,#0071ff,#008cff,#0af,#00c3ff,#0ef,#0ff,#0ff,#0ff,#0ff,#0fa,#00ff39,#2f0,#39ff00,#4f0,#49ff00,#4bff00,#3f0,#1dff00,#06ff00,#2f0,#4f0,#6f0,#aeff00,#df0,#ff0,#ff0,#ff0,#ff0,#ff0,#ff0,#ff0,#ffe800,#ffd300)"></i>
<i style="background:linear-gradient(#00f,#00f,#00f,#0009ff,#0009ff,#0009ff,#0009ff,#0009ff,#0009ff,#0009ff,#0009ff,#0009ff,#0009ff,#0009ff,#0009ff,#0009ff,#0009ff,#0009ff,#0009ff,#000cff,#0018ff,#0026ff,#0039ff,#05f,#0071ff,#008cff,#0af,#00c3ff,#0ef,#0ff,#0ff,#0ff,#0ff,#0fa,#0f3,#2f0,#3bff00,#4f0,#4bff00,#4dff00,#3f0,#1bff00,#0f0,#2f0,#4f0,#6f0,#b1ff00,#e4ff00,#ff0,#ff0,#ff0,#ff0,#ff0,#ff0,#fff900,#ffe400,#fc0)"></i>
<i style="background:linear-gradient(#00f,#00f,#00f,#0009ff,#0009ff,#0009ff,#0009ff,#0009ff,#0009ff,#0009ff,#0009ff,#0009ff,#0009ff,#0009ff,#0009ff,#0009ff,#0009ff,#0009ff,#0009ff,#000cff,#0018ff,#0026ff,#0039ff,#05f,#0071ff,#008cff,#0af,#00c3ff,#0ef,#0ff,#0ff,#0ff,#0ff,#00ffd3,#00ff73,#00ff1d,#00ff06,#0f0,#0bff00,#0cff00,#0f1,#00ff28,#0f4,#0f2,#0f0,#27ff00,#72ff00,#af0,#d8ff00,#ff0,#ff0,#ff0,#ff0,#ff0,#ff0,#ff0,#ff0)"></i>
<i style="background:linear-gradient(#00f,#00f,#00f,#0009ff,#0009ff,#0009ff,#0009ff,#0009ff,#0009ff,#0009ff,#0009ff,#0009ff,#0009ff,#0009ff,#0009ff,#0009ff,#0009ff,#0009ff,#0009ff,#000cff,#0018ff,#0026ff,#0039ff,#05f,#0071ff,#008cff,#0af,#00c3ff,#0ef,#0ff,#0ff,#0ff,#0ff,#0fa,#0f3,#2f0,#3bff00,#4f0,#4cff00,#4dff00,#3f0,#15ff00,#00ff07,#1bff00,#3dff00,#6f0,#b5ff00,#e9ff00,#ff0,#ff0,#ff0,#ff0,#ff0,#ff0,#fff500,#fd0,#fc0)"></i>
<i style="background:linear-gradient(#00f,#00f,#00f,#0009ff,#0009ff,#0009ff,#0009ff,#0009ff,#0009ff,#0009ff,#0009ff,#0009ff,#0009ff,#0009ff,#0009ff,#0009ff,#0009ff,#0009ff,#0009ff,#000cff,#0018ff,#0026ff,#0039ff,#05f,#0071ff,#008cff,#0af,#00c3ff,#0ef,#0ff,#0ff,#0ff,#0ff,#0fb,#00ff4b,#09ff00,#2f0,#28ff00,#3f0,#3f0,#1f0,#00ff0a,#00ff26,#0f0,#2f0,#4cff00,#9f0,#d2ff00,#f9ff00,#ff0,#ff0,#ff0,#ff0,#ff0,#ff0,#fff800,#ffe500)"></i>
<i style="background:linear-gradient(#00f,#00f,#00f,#0009ff,#0009ff,#0009ff,#0009ff,#0009ff,#0009ff,#0009ff,#0009ff,#0009ff,#0009ff,#0009ff,#0009ff,#0009ff,#0009ff,#0009ff,#0009ff,#000cff,#0018ff,#0026ff,#0039ff,#05f,#0071ff,#008cff,#0af,#00c3ff,#0ef,#0ff,#0ff,#0ff,#0ff,#0f9,#0f2,#3f0,#4bff00,#5f0,#5bff00,#5cff00,#3dff00,#1eff00,#0f0,#2f0,#49ff00,#7f0,#c7ff00,#fbff00,#ff0,#ff0,#ff0,#ff0,#ff0,#ff0,#ffe400,#fc0,#ffb300)"></i>
<i style="background:linear-gradient(#00f,#00f,#00f,#0009ff,#0009ff,#0009ff,#0009ff,#0009ff,#0009ff,#0009ff,#0009ff,#0009ff,#0009ff,#0009ff,#0009ff,#0009ff,#0009ff,#0009ff,#0007ff,#00f,#000aff,#01f,#02f,#03f,#004cff,#0062ff,#07f,#008eff,#00b6ff,#0df,#00eaff,#00f9ff,#0ff,#0ff,#0f9,#0f4,#00ff29,#00ff1c,#0f1,#00ff09,#0f2,#00ff3e,#0f5,#0f3,#00ff0a,#2f0,#7f0,#b2ff00,#df0,#ff0,#ff0,#ff0,#ff0,#ff0,#ff0,#ff0,#ff0)"></i>
<i style="background:linear-gradient(#00f,#00f,#00f,#0009ff,#0009ff,#0009ff,#0009ff,#0009ff,#0009ff,#0009ff,#0009ff,#0009ff,#0009ff,#0009ff,#0009ff,#0009ff,#0009ff,#0009ff,#0009ff,#000cff,#0018ff,#0026ff,#0039ff,#05f,#0071ff,#008cff,#0af,#00c3ff,#0ef,#0ff,#0ff,#0ff,#0ff,#00ffb0,#00ff40,#1f0,#27ff00,#2fff00,#37ff00,#37ff00,#15ff00,#00ff0c,#00ff2d,#00ff06,#2f0,#5f0,#a6ff00,#df0,#ff0,#ff0,#ff0,#ff0,#ff0,#ff0,#ff0,#fe0,#ffd700)"></i>
<i style="background:linear-gradient(#00f,#00f,#00f,#0009ff,#0009ff,#0009ff,#0009ff,#0009ff,#0009ff,#0009ff,#0009ff,#0009ff,#0009ff,#0009ff,#0009ff,#0009ff,#0009ff,#0009ff,#0009ff,#000cff,#0018ff,#0026ff,#0039ff,#05f,#0071ff,#008cff,#0af,#00c3ff,#0ef,#0ff,#0ff,#0ff,#0ff,#0fc,#00ff6e,#0f2,#00ff09,#0f0,#07ff00,#07ff00,#00ff1b,#00ff3e,#00ff60,#00ff38,#0f1,#2f0,#7f0,#b3ff00,#df0,#ff0,#ff0,#ff0,#ff0,#ff0,#ff0,#ff0,#ff0)"></i>
<i style="background:linear-gradient(#00f,#00f,#00f,#0009ff,#0009ff,#0009ff,#0009ff,#0009ff,#0009ff,#0009ff,#0009ff,#0009ff,#0009ff,#0009ff,#0009ff,#0009ff,#0009ff,#0009ff,#0009ff,#000cff,#0018ff,#0026ff,#0039ff,#05f,#0071ff,#008cff,#0af,#00c3ff,#0ef,#0ff,#0ff,#0ff,#0ff,#00ffd8,#00ff7d,#00ff2f,#00ff19,#0f1,#00ff09,#00ff09,#00ff2c,#00ff50,#00ff73,#00ff4a,#0f2,#1f0,#6f0,#a5ff00,#d3ff00,#faff00,#ff0,#ff0,#ff0,#ff0,#ff0,#ff0,#ff0)"></i>
<i style="background:linear-gradient(#00f,#00f,#00f,#0009ff,#0009ff,#0009ff,#0009ff,#0009ff,#0009ff,#0009ff,#0009ff,#0009ff,#0009ff,#0009ff,#0009ff,#0009ff,#0009ff,#0009ff,#0009ff,#000cff,#0018ff,#0026ff,#0039ff,#05f,#0071ff,#008cff,#0af,#00c3ff,#0ef,#0ff,#0ff,#0ff,#0ff,#0fd,#0f8,#00ff3b,#0f2,#00ff1d,#00ff15,#00ff16,#00ff3a,#00ff5e,#00ff82,#0f5,#00ff2e,#05ff00,#5cff00,#9f0,#cf0,#f2ff00,#ff0,#ff0,#ff0,#ff0,#ff0,#ff0,#ff0)"></i>
<i style="background:linear-gradient(#00f,#00f,#00f,#0009ff,#0009ff,#0009ff,#0009ff,#0009ff,#0009ff,#0009ff,#0009ff,#0009ff,#0009ff,#0009ff,#0009ff,#0009ff,#0009ff,#0009ff,#0009ff,#000cff,#0018ff,#0026ff,#0039ff,#05f,#0071ff,#008cff,#0af,#00c3ff,#0ef,#0ff,#0ff,#0ff,#0ff,#0fd,#0f8,#00ff3b,#0f2,#00ff1d,#00ff15,#00ff16,#00ff3b,#00ff60,#00ff84,#00ff5a,#00ff2f,#05ff00,#5cff00,#9f0,#cf0,#f3ff00,#ff0,#ff0,#ff0,#ff0,#ff0,#ff0,#ff0)"></i>
<i style="background:linear-gradient(#00f,#00f,#00f,#0009ff,#0009ff,#0009ff,#0009ff,#0009ff,#0009ff,#0009ff,#0009ff,#0009ff,#0009ff,#0009ff,#0009ff,#0009ff,#0009ff,#0009ff,#0009ff,#000cff,#0018ff,#0026ff,#0039ff,#05f,#0071ff,#008cff,#0af,#00c3ff,#0ef,#0ff,#0ff,#0ff,#0ff,#00ffc5,#00ff61,#00ff15,#0f0,#09ff00,#1f0,#1f0,#00ff16,#00ff3b,#00ff61,#0f3,#00ff0a,#2bff00,#84ff00,#c0ff00,#eaff00,#ff0,#ff0,#ff0,#ff0,#ff0,#ff0,#ff0,#fffb00)"></i>
<i style="background:linear-gradient(#00f,#00f,#00f,#0009ff,#0009ff,#0009ff,#0009ff,#0009ff,#0009ff,#0009ff,#0009ff,#0009ff,#0009ff,#0009ff,#0009ff,#0009ff,#0009ff,#0009ff,#0009ff,#000cff,#0018ff,#0026ff,#0039ff,#05f,#0071ff,#008cff,#0af,#00c3ff,#0ef,#0ff,#0ff,#0ff,#0ff,#00ffc5,#00ff61,#00ff16,#0f0,#08ff00,#1f0,#1f0,#00ff18,#00ff3e,#0f6,#00ff38,#00ff0c,#2aff00,#83ff00,#c0ff00,#e9ff00,#ff0,#ff0,#ff0,#ff0,#ff0,#ff0,#ff0,#fffb00)"></i>
<i style="background:linear-gradient(#00f,#00f,#00f,#0009ff,#0009ff,#0009ff,#0009ff,#0009ff,#0009ff,#0009ff,#0009ff,#0009ff,#0009ff,#0009ff,#0009ff,#0009ff,#0009ff,#0009ff,#0009ff,#000cff,#0018ff,#0026ff,#0039ff,#05f,#0071ff,#008cff,#0af,#00c3ff,#0ef,#0ff,#0ff,#0ff,#0ff,#00ffd0,#00ff72,#00ff27,#0f1,#00ff0a,#0f0,#0f0,#00ff2a,#00ff50,#0f7,#00ff4a,#00ff1e,#18ff00,#72ff00,#b0ff00,#df0,#ff0,#ff0,#ff0,#ff0,#ff0,#ff0,#ff0,#ff0)"></i>
<i style="background:linear-gradient(#00f,#00f,#00f,#0009ff,#0009ff,#0009ff,#0009ff,#0009ff,#0009ff,#0009ff,#0009ff,#0009ff,#0009ff,#0009ff,#0009ff,#0009ff,#0009ff,#0009ff,#0009ff,#000cff,#0018ff,#0026ff,#0039ff,#05f,#0071ff,#008cff,#0af,#00c3ff,#0ef,#0ff,#0ff,#0ff,#0ff,#00ffd0,#00ff72,#00ff27,#0f1,#00ff0a,#0f0,#0f0,#00ff2a,#00ff51,#0f7,#00ff4b,#00ff1e,#18ff00,#72ff00,#b1ff00,#df0,#ff0,#ff0,#ff0,#ff0,#ff0,#ff0,#ff0,#ff0)"></i>
<i style="background:linear-gradient(#00f,#00f,#00f,#0009ff,#0009ff,#0009ff,#0009ff,#0009ff,#0009ff,#0009ff,#0009ff,#0009ff,#0009ff,#0009ff,#0009ff,#0009ff,#0009ff,#0009ff,#0009ff,#000cff,#0018ff,#0026ff,#0039ff,#05f,#0071ff,#008cff,#0af,#00c3ff,#0ef,#0ff,#0ff,#0ff,#0ff,#00ffc2,#00ff5e,#0f1,#0f0,#09ff00,#1f0,#1f0,#00ff17,#00ff3f,#0f6,#00ff39,#00ff0c,#2bff00,#8f0,#c3ff00,#ef0,#ff0,#ff0,#ff0,#ff0,#ff0,#ff0,#ff0,#fff700)"></i>
<i style="background:linear-gradient(#00f,#00f,#00f,#0009ff,#0009ff,#0009ff,#0009ff,#0009ff,#0009ff,#0009ff,#0009ff,#0009ff,#0009ff,#0009ff,#0009ff,#0009ff,#0009ff,#0009ff,#0009ff,#000cff,#0018ff,#0026ff,#0039ff,#05f,#0071ff,#008cff,#0af,#00c3ff,#0ef,#0ff,#0ff,#0ff,#0ff,#00ffe6,#00ff94,#00ff4a,#0f3,#00ff2c,#0f2,#00ff26,#00ff4d,#0f7,#0f9,#00ff6f,#0f4,#00ff0b,#50ff00,#91ff00,#c2ff00,#ef0,#f6ff00,#ff0,#ff0,#ff0,#ff0,#ff0,#ff0)"></i>
<i style="background:linear-gradient(#00f,#00f,#00f,#0009ff,#0009ff,#0009ff,#0009ff,#0009ff,#0009ff,#0009ff,#0009ff,#0009ff,#0009ff,#0009ff,#0009ff,#0009ff,#0009ff,#0009ff,#0007ff,#00f,#000aff,#01f,#02f,#03f,#004cff,#0062ff,#07f,#008eff,#00b6ff,#0df,#0ef,#0ff,#0ff,#0fe,#00ff84,#0f3,#00ff1a,#00ff0d,#0f0,#04ff00,#00ff1e,#0f4,#0f6,#0f3,#00ff05,#3f0,#8dff00,#cf0,#f2ff00,#ff0,#ff0,#ff0,#ff0,#ff0,#ff0,#ff0,#fe0)"></i>
<i style="background:linear-gradient(#00f,#00f,#00f,#0009ff,#0009ff,#0009ff,#0009ff,#0009ff,#0009ff,#0009ff,#0009ff,#0009ff,#0009ff,#0009ff,#0009ff,#0009ff,#0009ff,#0009ff,#0009ff,#000cff,#0018ff,#0026ff,#0039ff,#05f,#0071ff,#008cff,#0af,#00c3ff,#0ef,#0ff,#0ff,#0ff,#0ff,#0fc,#00ff71,#00ff27,#0f1,#00ff0a,#0f0,#0f0,#00ff2b,#0f5,#00ff7b,#00ff4d,#0f2,#18ff00,#73ff00,#b2ff00,#df0,#ff0,#ff0,#ff0,#ff0,#ff0,#ff0,#ff0,#ff0)"></i>
<i style="background:linear-gradient(#00f,#00f,#00f,#0009ff,#0009ff,#0009ff,#0009ff,#0009ff,#0009ff,#0009ff,#0009ff,#0009ff,#0009ff,#0009ff,#0009ff,#0009ff,#0009ff,#0009ff,#0009ff,#000cff,#0018ff,#0026ff,#0039ff,#05f,#0071ff,#008cff,#0af,#00c3ff,#0ef,#0ff,#0ff,#0ff,#0ff,#0fb,#0f5,#00ff0b,#0aff00,#1f0,#1aff00,#19ff00,#0f1,#00ff38,#00ff60,#0f3,#00ff04,#3f0,#8fff00,#cf0,#f4ff00,#ff0,#ff0,#ff0,#ff0,#ff0,#ff0,#ff0,#fe0)"></i>
<i style="background:linear-gradient(#00f,#00f,#00f,#0009ff,#0009ff,#0009ff,#0009ff,#0009ff,#0009ff,#0009ff,#0009ff,#0009ff,#0009ff,#0009ff,#0009ff,#0009ff,#0009ff,#0009ff,#0009ff,#000cff,#0018ff,#0026ff,#0039ff,#05f,#0071ff,#008cff,#0af,#00c3ff,#0ef,#0ff,#0ff,#0ff,#0ff,#00ffe5,#00ff92,#00ff49,#0f3,#00ff2c,#0f2,#0f2,#00ff4e,#0f7,#00ff9e,#00ff70,#0f4,#00ff0b,#51ff00,#93ff00,#c3ff00,#ef0,#f7ff00,#ff0,#ff0,#ff0,#ff0,#ff0,#ff0)"></i>
<i style="background:linear-gradient(#00f,#00f,#00f,#0009ff,#0009ff,#0009ff,#0009ff,#0009ff,#0009ff,#0009ff,#0009ff,#0009ff,#0009ff,#0009ff,#0009ff,#0009ff,#0009ff,#0009ff,#0009ff,#000cff,#0018ff,#0026ff,#0039ff,#05f,#0071ff,#008cff,#0af,#00c3ff,#0ef,#0ff,#0ff,#0ff,#0ff,#00ffa3,#00ff2f,#1aff00,#3f0,#38ff00,#40ff00,#3fff00,#16ff00,#0f1,#00ff3c,#00ff0d,#2f0,#5aff00,#b6ff00,#ef0,#ff0,#ff0,#ff0,#ff0,#ff0,#ff0,#fe0,#ffd800,#ffc200)"></i>
<i style="background:linear-gradient(#00f,#00f,#00f,#0009ff,#0009ff,#0009ff,#0009ff,#0009ff,#0009ff,#0009ff,#0009ff,#0009ff,#0009ff,#0009ff,#0009ff,#0009ff,#0009ff,#0009ff,#0009ff,#000cff,#0018ff,#0026ff,#0039ff,#05f,#0071ff,#008cff,#0af,#00c3ff,#0ef,#0ff,#0ff,#0ff,#0ff,#0fc,#00ff72,#00ff29,#0f1,#00ff0b,#0f0,#00ff05,#00ff2d,#0f5,#00ff7e,#00ff50,#0f2,#16ff00,#72ff00,#b1ff00,#df0,#ff0,#ff0,#ff0,#ff0,#ff0,#ff0,#ff0,#ff0)"></i>
<i style="background:linear-gradient(#00f,#00f,#00f,#0009ff,#0009ff,#0009ff,#0009ff,#0009ff,#0009ff,#0009ff,#0009ff,#0009ff,#0009ff,#0009ff,#0009ff,#0009ff,#0009ff,#0009ff,#0009ff,#000cff,#0018ff,#0026ff,#0039ff,#05f,#0071ff,#008cff,#0af,#00c3ff,#0ef,#0ff,#0ff,#0ff,#0ff,#0fa,#00ff3e,#0bff00,#2f0,#29ff00,#3f0,#2fff00,#06ff00,#0f2,#00ff4b,#00ff1d,#1f0,#4aff00,#a6ff00,#e1ff00,#ff0,#ff0,#ff0,#ff0,#ff0,#ff0,#ff0,#ffe700,#ffd200)"></i>
<i style="background:linear-gradient(#00f,#00f,#00f,#0009ff,#0009ff,#0009ff,#0009ff,#0009ff,#0009ff,#0009ff,#0009ff,#0009ff,#0009ff,#0009ff,#0009ff,#0009ff,#0009ff,#0009ff,#0009ff,#000cff,#0018ff,#0026ff,#0039ff,#05f,#0071ff,#008cff,#0af,#00c3ff,#0ef,#0ff,#0ff,#0ff,#0ff,#00ffe1,#00ff8c,#0f4,#00ff2e,#00ff26,#00ff1e,#0f2,#00ff48,#00ff71,#0f9,#00ff6b,#00ff3c,#00ff05,#5f0,#9f0,#c8ff00,#ef0,#ff0,#ff0,#ff0,#ff0,#ff0,#ff0,#ff0)"></i>
<i style="background:linear-gradient(#00f,#00f,#00f,#0009ff,#0009ff,#0009ff,#0009ff,#0009ff,#0009ff,#0009ff,#0009ff,#0009ff,#0009ff,#0009ff,#0009ff,#0009ff,#0009ff,#0009ff,#0009ff,#000cff,#0018ff,#0026ff,#0039ff,#05f,#0071ff,#008cff,#0af,#00c3ff,#0ef,#0ff,#0ff,#0ff,#0ff,#00fff6,#0fa,#0f6,#00ff4e,#0f4,#00ff3e,#00ff3f,#0f6,#00ff91,#0fb,#0f8,#00ff5c,#0f2,#37ff00,#7bff00,#afff00,#df0,#e6ff00,#ef0,#ff0,#ff0,#ff0,#ff0,#ff0)"></i>
<i style="background:linear-gradient(#00f,#00f,#00f,#0009ff,#0009ff,#0009ff,#0009ff,#0009ff,#0009ff,#0009ff,#0009ff,#0009ff,#0009ff,#0009ff,#0009ff,#0009ff,#0009ff,#0009ff,#0009ff,#000cff,#0018ff,#0026ff,#0039ff,#05f,#0071ff,#008cff,#0af,#00c3ff,#0ef,#0ff,#0ff,#0ff,#0ff,#00fff6,#0fa,#0f6,#00ff4e,#0f4,#00ff3e,#00ff40,#0f6,#00ff91,#0fb,#0f8,#00ff5d,#0f2,#3f0,#7bff00,#afff00,#df0,#e6ff00,#ef0,#ff0,#ff0,#ff0,#ff0,#ff0)"></i>
<i style="background:linear-gradient(#00f,#00f,#00f,#0009ff,#0009ff,#0009ff,#0009ff,#0009ff,#0009ff,#0009ff,#0009ff,#0009ff,#0009ff,#0009ff,#0009ff,#0009ff,#0009ff,#0009ff,#0009ff,#000cff,#0018ff,#0026ff,#0039ff,#05f,#0071ff,#008cff,#0af,#00c3ff,#0ef,#0ff,#0ff,#0ff,#0ff,#00ffd9,#00ff80,#00ff37,#0f2,#00ff1a,#0f1,#0f1,#00ff3c,#0f6,#00ff8e,#00ff5f,#0f3,#07ff00,#6f0,#a4ff00,#d2ff00,#f9ff00,#ff0,#ff0,#ff0,#ff0,#ff0,#ff0,#ff0)"></i>
<i style="background:linear-gradient(#00f,#00f,#00f,#0009ff,#0009ff,#0009ff,#0009ff,#0009ff,#0009ff,#0009ff,#0009ff,#0009ff,#0009ff,#0009ff,#0009ff,#0009ff,#0009ff,#0009ff,#0009ff,#000cff,#0018ff,#0026ff,#0039ff,#05f,#0071ff,#008cff,#0af,#00c3ff,#0ef,#0ff,#0ff,#0ff,#0ff,#0fc,#00ff6e,#0f2,#0f1,#00ff08,#0f0,#0f0,#00ff2a,#0f5,#00ff7b,#00ff4d,#0f2,#19ff00,#7f0,#b5ff00,#df0,#ff0,#ff0,#ff0,#ff0,#ff0,#ff0,#ff0,#ff0)"></i>
<i style="background:linear-gradient(#00f,#00f,#00f,#0009ff,#0009ff,#0009ff,#0009ff,#0009ff,#0009ff,#0009ff,#0009ff,#0009ff,#0009ff,#0009ff,#0009ff,#0009ff,#0009ff,#0009ff,#0007ff,#00f,#000aff,#01f,#02f,#03f,#004cff,#0062ff,#07f,#008eff,#00b6ff,#0df,#00e5ff,#0ef,#00faff,#0ff,#00ffc7,#0f7,#00ff5f,#00ff51,#0f4,#00ff40,#0f6,#0f8,#0fa,#0f7,#00ff4b,#0f1,#49ff00,#8f0,#bf0,#e7ff00,#f2ff00,#ff0,#ff0,#ff0,#ff0,#ff0,#ff0)"></i>
<i style="background:linear-gradient(#00f,#00f,#00f,#0009ff,#0009ff,#0009ff,#0009ff,#0009ff,#0009ff,#0009ff,#0009ff,#0009ff,#0009ff,#0009ff,#0009ff,#0009ff,#0009ff,#0009ff,#0009ff,#000cff,#0018ff,#0026ff,#0039ff,#05f,#0071ff,#008cff,#0af,#00c3ff,#0ef,#0ff,#0ff,#0ff,#0ff,#0fd,#00ff82,#00ff39,#0f2,#00ff1c,#0f1,#00ff15,#00ff3e,#0f6,#00ff8f,#00ff60,#0f3,#05ff00,#62ff00,#a3ff00,#d1ff00,#f8ff00,#ff0,#ff0,#ff0,#ff0,#ff0,#ff0,#ff0)"></i>
<i style="background:linear-gradient(#00f,#00f,#00f,#0009ff,#0009ff,#0009ff,#0009ff,#0009ff,#0009ff,#0009ff,#0009ff,#0009ff,#0009ff,#0009ff,#0009ff,#0009ff,#0009ff,#0009ff,#0009ff,#000cff,#0018ff,#0026ff,#0039ff,#05f,#0071ff,#008cff,#0af,#00c3ff,#0ef,#0ff,#0ff,#0ff,#0ff,#00ffc8,#0f6,#00ff1e,#00ff09,#0f0,#08ff00,#06ff00,#0f2,#00ff4b,#00ff73,#0f4,#00ff17,#2f0,#7dff00,#bf0,#e6ff00,#ff0,#ff0,#ff0,#ff0,#ff0,#ff0,#ff0,#ff0)"></i>
<i style="background:linear-gradient(#00f,#00f,#00f,#0009ff,#0009ff,#0009ff,#0009ff,#0009ff,#0009ff,#0009ff,#0009ff,#0009ff,#0009ff,#0009ff,#0009ff,#0009ff,#0009ff,#0009ff,#0009ff,#000cff,#0018ff,#0026ff,#0039ff,#05f,#0071ff,#008cff,#0af,#00c3ff,#0ef,#0ff,#0ff,#0ff,#0ff,#0fc,#00ff72,#00ff2a,#00ff15,#00ff0c,#00ff04,#00ff06,#00ff2e,#0f5,#00ff7f,#00ff51,#0f2,#15ff00,#71ff00,#b1ff00,#df0,#ff0,#ff0,#ff0,#ff0,#ff0,#ff0,#ff0,#ff0)"></i>
<i style="background:linear-gradient(#00f,#00f,#00f,#0009ff,#0009ff,#0009ff,#0009ff,#0009ff,#0009ff,#0009ff,#0009ff,#0009ff,#0009ff,#0009ff,#0009ff,#0009ff,#0009ff,#0009ff,#0009ff,#000cff,#0018ff,#0026ff,#0039ff,#05f,#0071ff,#008cff,#0af,#00c3ff,#0ef,#0ff,#0ff,#0ff,#0ff,#00ffb7,#00ff4e,#00ff05,#1f0,#18ff00,#2f0,#2f0,#00ff0a,#0f3,#00ff5a,#00ff2c,#0f0,#3aff00,#9f0,#d3ff00,#faff00,#ff0,#ff0,#ff0,#ff0,#ff0,#ff0,#fff700,#ffe400)"></i>
<i style="background:linear-gradient(#00f,#00f,#00f,#0009ff,#0009ff,#0009ff,#0009ff,#0009ff,#0009ff,#0009ff,#0009ff,#0009ff,#0009ff,#0009ff,#0009ff,#0009ff,#0009ff,#0009ff,#0009ff,#000cff,#0018ff,#0026ff,#0039ff,#05f,#0071ff,#008cff,#0af,#00c3ff,#0ef,#0ff,#0ff,#0ff,#0ff,#0fd,#00ff84,#00ff3b,#00ff26,#00ff1e,#00ff16,#00ff17,#00ff3f,#0f6,#00ff90,#00ff62,#0f3,#0f0,#60ff00,#a1ff00,#cf0,#f6ff00,#ff0,#ff0,#ff0,#ff0,#ff0,#ff0,#ff0)"></i>
<i style="background:linear-gradient(#00f,#00f,#00f,#0009ff,#0009ff,#0009ff,#0009ff,#0009ff,#0009ff,#0009ff,#0009ff,#0009ff,#0009ff,#0009ff,#0009ff,#0009ff,#0009ff,#0009ff,#0009ff,#000cff,#0018ff,#0026ff,#0039ff,#05f,#0071ff,#008cff,#0af,#00c3ff,#0ef,#0ff,#0ff,#0ff,#0ff,#00ffd5,#00ff7b,#0f3,#00ff1d,#00ff15,#00ff0d,#0f1,#0f3,#00ff5e,#0f8,#00ff59,#00ff2b,#0cff00,#6f0,#af0,#d6ff00,#ff0,#ff0,#ff0,#ff0,#ff0,#ff0,#ff0,#ff0)"></i>
<i style="background:linear-gradient(#00f,#00f,#00f,#0009ff,#0009ff,#0009ff,#0009ff,#0009ff,#0009ff,#0009ff,#0009ff,#0009ff,#0009ff,#0009ff,#0009ff,#0009ff,#0009ff,#0009ff,#0009ff,#000cff,#0018ff,#0026ff,#0039ff,#05f,#0071ff,#008cff,#0af,#00c3ff,#0ef,#0ff,#0ff,#0ff,#0ff,#0fc,#0f6,#0f2,#00ff0b,#0f0,#05ff00,#0f0,#0f2,#00ff4c,#0f7,#0f4,#00ff19,#1eff00,#7bff00,#bf0,#e4ff00,#ff0,#ff0,#ff0,#ff0,#ff0,#ff0,#ff0,#ff0)"></i>
<i style="background:linear-gradient(#00f,#00f,#00f,#0009ff,#0009ff,#0009ff,#0009ff,#0009ff,#0009ff,#0009ff,#0009ff,#0009ff,#0009ff,#0009ff,#0009ff,#0009ff,#0009ff,#0009ff,#0009ff,#000cff,#0018ff,#0026ff,#0039ff,#05f,#0071ff,#008cff,#0af,#00c3ff,#0ef,#0ff,#0ff,#0ff,#0ff,#0fb,#0f5,#00ff09,#0cff00,#1f0,#1cff00,#1bff00,#00ff0d,#0f3,#00ff5c,#00ff2f,#0f0,#3f0,#92ff00,#cf0,#f6ff00,#ff0,#ff0,#ff0,#ff0,#ff0,#ff0,#fffb00,#ffe900)"></i>
<i style="background:linear-gradient(#00f,#00f,#00f,#0009ff,#0009ff,#0009ff,#0009ff,#0009ff,#0009ff,#0009ff,#0009ff,#0009ff,#0009ff,#0009ff,#0009ff,#0009ff,#0009ff,#0009ff,#0009ff,#000cff,#0018ff,#0026ff,#0039ff,#05f,#0071ff,#008cff,#0af,#00c3ff,#0ef,#0ff,#0ff,#0ff,#0ff,#0fc,#0f6,#0f2,#00ff0b,#0f0,#06ff00,#04ff00,#0f2,#00ff4a,#00ff71,#0f4,#00ff18,#2f0,#7bff00,#bf0,#e5ff00,#ff0,#ff0,#ff0,#ff0,#ff0,#ff0,#ff0,#ff0)"></i>
<i style="background:linear-gradient(#00f,#00f,#00f,#0009ff,#0009ff,#0009ff,#0009ff,#0009ff,#0009ff,#0009ff,#0009ff,#0009ff,#0009ff,#0009ff,#0009ff,#0009ff,#0009ff,#0009ff,#0009ff,#000cff,#0018ff,#0026ff,#0039ff,#05f,#0071ff,#008cff,#0af,#00c3ff,#0ef,#0ff,#0ff,#0ff,#0ff,#0fc,#00ff72,#00ff29,#0f1,#00ff0b,#0f0,#00ff05,#00ff2c,#0f5,#0f7,#00ff4d,#0f2,#16ff00,#72ff00,#b2ff00,#df0,#ff0,#ff0,#ff0,#ff0,#ff0,#ff0,#ff0,#ff0)"></i>
<i style="background:linear-gradient(#00f,#00f,#00f,#0009ff,#0009ff,#0009ff,#0009ff,#0009ff,#0009ff,#0009ff,#0009ff,#0009ff,#0009ff,#0009ff,#0009ff,#0009ff,#0009ff,#0009ff,#0009ff,#000cff,#0018ff,#0026ff,#0039ff,#05f,#0071ff,#008cff,#0af,#00c3ff,#0ef,#0ff,#0ff,#0ff,#0ff,#00ffe4,#00ff91,#00ff48,#0f3,#00ff2b,#0f2,#0f2,#00ff4b,#00ff71,#0f9,#00ff6c,#00ff40,#00ff0a,#5f0,#94ff00,#c5ff00,#ef0,#f9ff00,#ff0,#ff0,#ff0,#ff0,#ff0,#ff0)"></i>
<i style="background:linear-gradient(#00f,#00f,#00f,#0009ff,#0009ff,#0009ff,#0009ff,#0009ff,#0009ff,#0009ff,#0009ff,#0009ff,#0009ff,#0009ff,#0009ff,#0009ff,#0009ff,#0009ff,#0007ff,#00f,#000aff,#01f,#02f,#03f,#004cff,#0062ff,#07f,#008eff,#00b6ff,#0df,#00e7ff,#00f4ff,#0ff,#0ff,#00ffb5,#0f6,#00ff4d,#00ff3f,#0f3,#00ff2e,#00ff4e,#00ff6f,#00ff90,#00ff62,#0f3,#0f0,#5bff00,#9f0,#cf0,#f3ff00,#ff0,#ff0,#ff0,#ff0,#ff0,#ff0,#ff0)"></i>
<i style="background:linear-gradient(#00f,#00f,#00f,#0009ff,#0009ff,#0009ff,#0009ff,#0009ff,#0009ff,#0009ff,#0009ff,#0009ff,#0009ff,#0009ff,#0009ff,#0009ff,#0009ff,#0009ff,#0009ff,#000cff,#0018ff,#0026ff,#0039ff,#05f,#0071ff,#008cff,#0af,#00c3ff,#0ef,#0ff,#0ff,#0ff,#0ff,#0fc,#00ff72,#00ff2a,#00ff15,#00ff0c,#00ff04,#00ff05,#00ff2b,#00ff50,#0f7,#00ff4b,#0f2,#15ff00,#71ff00,#b1ff00,#df0,#ff0,#ff0,#ff0,#ff0,#ff0,#ff0,#ff0,#ff0)"></i>
<i style="background:linear-gradient(#00f,#00f,#00f,#0009ff,#0009ff,#0009ff,#0009ff,#0009ff,#0009ff,#0009ff,#0009ff,#0009ff,#0009ff,#0009ff,#0009ff,#0009ff,#0009ff,#0009ff,#0009ff,#000cff,#0018ff,#0026ff,#0039ff,#05f,#0071ff,#008cff,#0af,#00c3ff,#0ef,#0ff,#0ff,#0ff,#0ff,#0fb,#00ff4f,#00ff07,#1f0,#17ff00,#2f0,#1eff00,#00ff07,#00ff2c,#00ff51,#00ff27,#04ff00,#38ff00,#95ff00,#d1ff00,#f8ff00,#ff0,#ff0,#ff0,#ff0,#ff0,#ff0,#fff800,#ffe600)"></i>
<i style="background:linear-gradient(#00f,#00f,#00f,#0009ff,#0009ff,#0009ff,#0009ff,#0009ff,#0009ff,#0009ff,#0009ff,#0009ff,#0009ff,#0009ff,#0009ff,#0009ff,#0009ff,#0009ff,#0009ff,#000cff,#0018ff,#0026ff,#0039ff,#05f,#0071ff,#008cff,#0af,#00c3ff,#0ef,#0ff,#0ff,#0ff,#0ff,#0fa,#0f3,#1f0,#29ff00,#3f0,#3aff00,#39ff00,#1f0,#0f1,#0f3,#00ff0b,#2f0,#5f0,#afff00,#eaff00,#ff0,#ff0,#ff0,#ff0,#ff0,#ff0,#fff400,#fd0,#ffc800)"></i>
<i style="background:linear-gradient(#00f,#00f,#00f,#0009ff,#0009ff,#0009ff,#0009ff,#0009ff,#0009ff,#0009ff,#0009ff,#0009ff,#0009ff,#0009ff,#0009ff,#0009ff,#0009ff,#0009ff,#0009ff,#000cff,#0018ff,#0026ff,#0039ff,#05f,#0071ff,#008cff,#0af,#00c3ff,#0ef,#0ff,#0ff,#0ff,#0ff,#00ffb7,#00ff4e,#00ff05,#1f0,#19ff00,#2f0,#2f0,#0f0,#00ff27,#00ff4a,#0f2,#07ff00,#3aff00,#9f0,#d3ff00,#faff00,#ff0,#ff0,#ff0,#ff0,#ff0,#ff0,#fff700,#ffe400)"></i>
<i style="background:linear-gradient(#00f,#00f,#00f,#0009ff,#0009ff,#0009ff,#0009ff,#0009ff,#0009ff,#0009ff,#0009ff,#0009ff,#0009ff,#0009ff,#0009ff,#0009ff,#0009ff,#0009ff,#0009ff,#000cff,#0018ff,#0026ff,#0039ff,#05f,#0071ff,#008cff,#0af,#00c3ff,#0ef,#0ff,#0ff,#0ff,#0ff,#0fa,#00ff3b,#1f0,#2f0,#2cff00,#3f0,#3f0,#1f0,#0f1,#0f3,#00ff0d,#1bff00,#4dff00,#af0,#e4ff00,#ff0,#ff0,#ff0,#ff0,#ff0,#ff0,#fff900,#ffe400,#fc0)"></i>
<i style="background:linear-gradient(#00f,#00f,#00f,#0009ff,#0009ff,#0009ff,#0009ff,#0009ff,#0009ff,#0009ff,#0009ff,#0009ff,#0009ff,#0009ff,#0009ff,#0009ff,#0009ff,#0009ff,#0009ff,#000cff,#0018ff,#0026ff,#0039ff,#05f,#0071ff,#008cff,#0af,#00c3ff,#0ef,#0ff,#0ff,#0ff,#0ff,#0fe,#0f9,#0f5,#00ff3d,#0f3,#00ff2d,#00ff2d,#00ff4e,#00ff70,#00ff91,#00ff6b,#0f4,#0f1,#48ff00,#8f0,#bf0,#e7ff00,#f2ff00,#ff0,#ff0,#ff0,#ff0,#ff0,#ff0)"></i>
<i style="background:linear-gradient(#00f,#00f,#00f,#0009ff,#0009ff,#0009ff,#0009ff,#0009ff,#0009ff,#0009ff,#0009ff,#0009ff,#0009ff,#0009ff,#0009ff,#0009ff,#0009ff,#0009ff,#0009ff,#000cff,#0018ff,#0026ff,#0039ff,#05f,#0071ff,#008cff,#0af,#00c3ff,#0ef,#0ff,#0ff,#0ff,#0ff,#00ffe4,#00ff91,#00ff48,#0f3,#00ff2b,#0f2,#0f2,#0f4,#0f6,#00ff84,#00ff5f,#00ff3a,#00ff0a,#5f0,#94ff00,#c4ff00,#ef0,#f8ff00,#ff0,#ff0,#ff0,#ff0,#ff0,#ff0)"></i>
<i style="background:linear-gradient(#00f,#00f,#00f,#0009ff,#0009ff,#0009ff,#0009ff,#0009ff,#0009ff,#0009ff,#0009ff,#0009ff,#0009ff,#0009ff,#0009ff,#0009ff,#0009ff,#0009ff,#0009ff,#000cff,#0018ff,#0026ff,#0039ff,#05f,#0071ff,#008cff,#0af,#00c3ff,#0ef,#0ff,#0ff,#0ff,#0ff,#00ffd3,#0f7,#00ff2f,#00ff1a,#0f1,#00ff09,#00ff09,#00ff28,#0f4,#0f6,#0f4,#0f2,#1f0,#6cff00,#af0,#d8ff00,#ff0,#ff0,#ff0,#ff0,#ff0,#ff0,#ff0,#ff0)"></i>
<i style="background:linear-gradient(#00f,#00f,#00f,#0009ff,#0009ff,#0009ff,#0009ff,#0009ff,#0009ff,#0009ff,#0009ff,#0009ff,#0009ff,#0009ff,#0009ff,#0009ff,#0009ff,#0009ff,#0009ff,#000cff,#0018ff,#0026ff,#0039ff,#05f,#0071ff,#008cff,#0af,#00c3ff,#0ef,#0ff,#0ff,#0ff,#0ff,#0fe,#00ff9f,#0f5,#0f4,#00ff38,#0f3,#00ff2f,#00ff4d,#00ff6b,#0f8,#0f6,#0f4,#00ff17,#4f0,#8f0,#bf0,#e4ff00,#ef0,#faff00,#ff0,#ff0,#ff0,#ff0,#ff0)"></i>
<i style="background:linear-gradient(#00f,#00f,#00f,#0009ff,#0009ff,#0009ff,#0009ff,#0009ff,#0009ff,#0009ff,#0009ff,#0009ff,#0009ff,#0009ff,#0009ff,#0009ff,#0009ff,#0009ff,#0009ff,#000cff,#0018ff,#0026ff,#0039ff,#05f,#0071ff,#008cff,#0af,#00c3ff,#0ef,#0ff,#0ff,#0ff,#0ff,#0ff,#00ffc6,#00ff7d,#0f6,#00ff5f,#0f5,#0f5,#00ff72,#00ff8e,#0fa,#0f8,#0f6,#00ff3d,#1dff00,#6f0,#9f0,#cf0,#d5ff00,#df0,#ef0,#f5ff00,#f9ff00,#ff0,#ff0)"></i>
<i style="background:linear-gradient(#00f,#00f,#00f,#0009ff,#0009ff,#0009ff,#0009ff,#0009ff,#0009ff,#0009ff,#0009ff,#0009ff,#0009ff,#0009ff,#0009ff,#0009ff,#0009ff,#0009ff,#0009ff,#000cff,#0018ff,#0026ff,#0039ff,#05f,#0071ff,#008cff,#0af,#00c3ff,#0ef,#0ff,#0ff,#0ff,#0ff,#0ff,#00ffc7,#00ff7e,#0f6,#00ff5f,#0f5,#0f5,#00ff70,#0f8,#00ffa6,#0f8,#0f6,#00ff3d,#1cff00,#62ff00,#9f0,#cf0,#d4ff00,#df0,#eaff00,#f4ff00,#f8ff00,#ff0,#ff0)"></i>
<i style="background:linear-gradient(#00f,#00f,#00f,#0009ff,#0009ff,#0009ff,#0009ff,#0009ff,#0009ff,#0009ff,#0009ff,#0009ff,#0009ff,#0009ff,#0009ff,#0009ff,#0009ff,#0009ff,#0007ff,#00f,#000aff,#01f,#02f,#03f,#004cff,#0062ff,#07f,#008eff,#00b6ff,#0df,#00e8ff,#00f5ff,#0ff,#0ff,#00ffae,#00ff60,#0f4,#0f3,#00ff26,#00ff1e,#0f3,#0f4,#00ff59,#00ff3a,#00ff1c,#0dff00,#6f0,#a3ff00,#d1ff00,#f8ff00,#ff0,#ff0,#ff0,#ff0,#ff0,#ff0,#ff0)"></i>
<i style="background:linear-gradient(#00f,#00f,#00f,#0009ff,#0009ff,#0009ff,#0009ff,#0009ff,#0009ff,#0009ff,#0009ff,#0009ff,#0009ff,#0009ff,#0009ff,#0009ff,#0009ff,#0009ff,#0009ff,#000cff,#0018ff,#0026ff,#0039ff,#05f,#0071ff,#008cff,#0af,#00c3ff,#0ef,#0ff,#0ff,#0ff,#0ff,#00ffd2,#0f7,#00ff2e,#00ff16,#00ff0b,#0f0,#05ff00,#0f1,#00ff29,#00ff3f,#0f2,#00ff0a,#1dff00,#71ff00,#af0,#df0,#ff0,#ff0,#ff0,#ff0,#ff0,#ff0,#ff0,#ff0)"></i>
<i style="background:linear-gradient(#00f,#00f,#00f,#0009ff,#0009ff,#0009ff,#0009ff,#0009ff,#0009ff,#0009ff,#0009ff,#0009ff,#0009ff,#0009ff,#0009ff,#0009ff,#0009ff,#0009ff,#0009ff,#000cff,#0018ff,#0026ff,#0039ff,#05f,#0071ff,#008cff,#0af,#00c3ff,#0ef,#0ff,#0ff,#0ff,#0ff,#00ffc8,#0f6,#0f2,#00ff05,#09ff00,#16ff00,#1dff00,#09ff00,#00ff0b,#0f2,#00ff07,#1f0,#3f0,#83ff00,#bf0,#e6ff00,#ff0,#ff0,#ff0,#ff0,#ff0,#ff0,#ff0,#ff0)"></i>
<i style="background:linear-gradient(#00f,#00f,#00f,#0009ff,#0009ff,#0009ff,#0009ff,#0009ff,#0009ff,#0009ff,#0009ff,#0009ff,#0009ff,#0009ff,#0009ff,#0009ff,#0009ff,#0009ff,#0009ff,#000cff,#0018ff,#0026ff,#0039ff,#05f,#0071ff,#008cff,#0af,#00c3ff,#0ef,#0ff,#0ff,#0ff,#0ff,#00ffe6,#00ff94,#00ff4c,#0f3,#0f2,#0f1,#00ff05,#00ff15,#0f2,#0f3,#0f2,#00ff0c,#1f0,#5f0,#91ff00,#c2ff00,#ef0,#f6ff00,#ff0,#ff0,#ff0,#ff0,#ff0,#ff0)"></i>
<i style="background:linear-gradient(#00f,#00f,#00f,#0009ff,#0009ff,#0009ff,#0009ff,#0009ff,#0009ff,#0009ff,#0009ff,#0009ff,#0009ff,#0009ff,#0009ff,#0009ff,#0009ff,#0009ff,#0009ff,#000cff,#0018ff,#0026ff,#0039ff,#05f,#0071ff,#008cff,#0af,#00c3ff,#0ef,#0ff,#0ff,#0ff,#0ff,#0fc,#00ff6d,#0f2,#00ff05,#1f0,#2f0,#3f0,#2f0,#17ff00,#0bff00,#1cff00,#2eff00,#48ff00,#84ff00,#b6ff00,#e1ff00,#ff0,#ff0,#ff0,#ff0,#ff0,#ff0,#ff0,#ff0)"></i>
<i style="background:linear-gradient(#00f,#00f,#00f,#0009ff,#0009ff,#0009ff,#0009ff,#0009ff,#0009ff,#0009ff,#0009ff,#0009ff,#0009ff,#0009ff,#0009ff,#0009ff,#0009ff,#0009ff,#0009ff,#000cff,#0018ff,#0026ff,#0039ff,#05f,#0071ff,#008cff,#0af,#00c3ff,#0ef,#0ff,#0ff,#0ff,#0ff,#00ffd9,#00ff81,#00ff38,#00ff17,#0f0,#17ff00,#28ff00,#2f0,#15ff00,#0cff00,#1bff00,#29ff00,#3fff00,#73ff00,#a3ff00,#d1ff00,#f8ff00,#ff0,#ff0,#ff0,#ff0,#ff0,#ff0,#ff0)"></i>
<i style="background:linear-gradient(#00f,#00f,#00f,#0009ff,#0009ff,#0009ff,#0009ff,#0009ff,#0009ff,#0009ff,#0009ff,#0009ff,#0009ff,#0009ff,#0009ff,#0009ff,#0009ff,#0009ff,#0009ff,#000cff,#0018ff,#0026ff,#0039ff,#05f,#0071ff,#008cff,#0af,#00c3ff,#0ef,#0ff,#0ff,#0ff,#0ff,#00ffd5,#0f7,#0f3,#0f1,#0aff00,#2f0,#37ff00,#3f0,#2aff00,#2f0,#2fff00,#3bff00,#4eff00,#7cff00,#af0,#d6ff00,#ff0,#ff0,#ff0,#ff0,#ff0,#ff0,#ff0,#ff0)"></i>
<i style="background:linear-gradient(#00f,#00f,#00f,#0009ff,#0009ff,#0009ff,#0009ff,#0009ff,#0009ff,#0009ff,#0009ff,#0009ff,#0009ff,#0009ff,#0009ff,#0009ff,#0009ff,#0009ff,#0009ff,#000cff,#0018ff,#0026ff,#0039ff,#05f,#0071ff,#008cff,#0af,#00c3ff,#0ef,#0ff,#0ff,#0ff,#0ff,#00ffe5,#00ff93,#00ff4a,#00ff26,#00ff0b,#1f0,#2f0,#2f0,#1bff00,#16ff00,#2f0,#2aff00,#3bff00,#6f0,#93ff00,#c3ff00,#ef0,#f8ff00,#ff0,#ff0,#ff0,#ff0,#ff0,#ff0)"></i>
<i style="background:linear-gradient(#00f,#00f,#00f,#0009ff,#0009ff,#0009ff,#0009ff,#0009ff,#0009ff,#0009ff,#0009ff,#0009ff,#0009ff,#0009ff,#0009ff,#0009ff,#0009ff,#0009ff,#0009ff,#000cff,#0018ff,#0026ff,#0039ff,#05f,#0071ff,#008cff,#0af,#00c3ff,#0ef,#0ff,#0ff,#0ff,#0ff,#00ffc5,#0f6,#00ff1b,#0aff00,#26ff00,#4f0,#5f0,#5f0,#51ff00,#4dff00,#5f0,#5fff00,#6eff00,#9f0,#bfff00,#e9ff00,#ff0,#ff0,#ff0,#ff0,#ff0,#ff0,#ff0,#ff0)"></i>
<i style="background:linear-gradient(#00f,#00f,#00f,#0009ff,#0009ff,#0009ff,#0009ff,#0009ff,#0009ff,#0009ff,#0009ff,#0009ff,#0009ff,#0009ff,#0009ff,#0009ff,#0009ff,#0009ff,#0009ff,#000cff,#0018ff,#0026ff,#0039ff,#05f,#0071ff,#008cff,#0af,#00c3ff,#0ef,#0ff,#0ff,#0ff,#0ff,#00ffa3,#0f3,#19ff00,#3fff00,#5bff00,#7f0,#8dff00,#8f0,#8f0,#8f0,#8eff00,#9f0,#a4ff00,#cf0,#ef0,#ff0,#ff0,#ff0,#ff0,#ff0,#ff0,#fe0,#ffd900,#ffc200)"></i>
<i style="background:linear-gradient(#00f,#00f,#00f,#0009ff,#0009ff,#0009ff,#0009ff,#0009ff,#0009ff,#0009ff,#0009ff,#0009ff,#0009ff,#0009ff,#0009ff,#0009ff,#0009ff,#0009ff,#0009ff,#000cff,#0018ff,#0026ff,#0039ff,#05f,#0071ff,#008cff,#0af,#00c3ff,#0ef,#0ff,#0ff,#0ff,#0ff,#00ffaf,#0f4,#07ff00,#2dff00,#49ff00,#6f0,#7cff00,#7f0,#7f0,#7f0,#7eff00,#8f0,#93ff00,#bf0,#df0,#ff0,#ff0,#ff0,#ff0,#ff0,#ff0,#ff0,#fe0,#ffd600)"></i>
<i style="background:linear-gradient(#00f,#00f,#00f,#0009ff,#0009ff,#0009ff,#0009ff,#0009ff,#0009ff,#0009ff,#0009ff,#0009ff,#0009ff,#0009ff,#0009ff,#0009ff,#0009ff,#0009ff,#0009ff,#000cff,#0018ff,#0026ff,#0039ff,#05f,#0071ff,#008cff,#0af,#00c3ff,#0ef,#0ff,#0ff,#0ff,#0ff,#00ffc5,#00ff62,#00ff19,#0cff00,#29ff00,#4f0,#5cff00,#5aff00,#59ff00,#5f0,#5eff00,#6f0,#72ff00,#9f0,#c0ff00,#eaff00,#ff0,#ff0,#ff0,#ff0,#ff0,#ff0,#ff0,#fffb00)"></i>
<i style="background:linear-gradient(#00f,#00f,#00f,#0009ff,#0009ff,#0009ff,#0009ff,#0009ff,#0009ff,#0009ff,#0009ff,#0009ff,#0009ff,#0009ff,#0009ff,#0009ff,#0009ff,#0009ff,#0007ff,#00f,#000aff,#01f,#02f,#03f,#004cff,#0062ff,#07f,#008eff,#00b6ff,#0df,#0ef,#0ff,#0ff,#00ffe8,#0f7,#00ff2b,#0f0,#2f0,#4f0,#60ff00,#6f0,#6f0,#6cff00,#7f0,#7cff00,#8f0,#afff00,#d5ff00,#fbff00,#ff0,#ff0,#ff0,#ff0,#ff0,#ff0,#fff500,#ffe200)"></i>
<i style="background:linear-gradient(#00f,#00f,#00f,#0009ff,#0009ff,#0009ff,#0009ff,#0009ff,#0009ff,#0009ff,#0009ff,#0009ff,#0009ff,#0009ff,#0009ff,#0009ff,#0009ff,#0009ff,#0009ff,#000cff,#0018ff,#0026ff,#0039ff,#05f,#0071ff,#008cff,#0af,#00c3ff,#0ef,#0ff,#0ff,#0ff,#0ff,#00ffa6,#0f3,#1f0,#3aff00,#5f0,#7f0,#8f0,#8f0,#8f0,#8f0,#8eff00,#95ff00,#a1ff00,#c6ff00,#eaff00,#ff0,#ff0,#ff0,#ff0,#ff0,#ff0,#fff400,#fd0,#ffc700)"></i>
</div>
<svg width="945" height="720" viewBox="0 0 945 720" shape-rendering="crispEdges">
<rect x="2.5" y="1.5" width="942" height="717" fill="none" stroke="#000"/>
<text x="103.2" y="58.8" font-size="20.3" textLength="32.5" lengthAdjust="spacingAndGlyphs" class="t2" font-weight="bold">The</text>
<text x="149.3" y="58.8" font-size="20.3" textLength="90.4" lengthAdjust="spacingAndGlyphs" class="t2" font-weight="bold">University</text>
<text x="253.2" y="58.8" font-size="20.3" textLength="18.3" lengthAdjust="spacingAndGlyphs" class="t2" font-weight="bold">of</text>
<text x="285.0" y="58.8" font-size="20.3" textLength="40.7" lengthAdjust="spacingAndGlyphs" class="t2" font-weight="bold">Iowa</text>
<text x="351.9" y="59.0" font-size="39.4" textLength="151.0" lengthAdjust="spacingAndGlyphs" class="t1">GEOTAIL</text>
<text x="527.4000000000001" y="59.0" font-size="39.4" textLength="62.4" lengthAdjust="spacingAndGlyphs" class="t1">PWI</text>
<text x="617.3000000000001" y="59.0" font-size="39.4" textLength="78.3" lengthAdjust="spacingAndGlyphs" class="t1">MCA</text>
<text x="102.60000000000001" y="89.2" font-size="23.6" textLength="89.4" lengthAdjust="spacingAndGlyphs" class="t2">03-292</text>
<text x="207.70000000000002" y="89.2" font-size="23.6" textLength="51.2" lengthAdjust="spacingAndGlyphs" class="t2">(OCT</text>
<text x="276.4" y="89.2" font-size="23.6" textLength="35.4" lengthAdjust="spacingAndGlyphs" class="t2">19)</text>
<text x="327.5" y="89.2" font-size="23.6" textLength="97.5" lengthAdjust="spacingAndGlyphs" class="t2">17:30:00</text>
<text x="441.79999999999995" y="89.2" font-size="23.6" textLength="26.6" lengthAdjust="spacingAndGlyphs" class="t2">UT</text>
<text x="624.3" y="89.2" font-size="23.6" textLength="28.3" lengthAdjust="spacingAndGlyphs" class="t2">02</text>
<text x="668.8" y="89.2" font-size="23.6" textLength="34.0" lengthAdjust="spacingAndGlyphs" class="t2">hrs</text>
<g fill="none" stroke="#000">
<rect x="100.5" y="196.5" width="603" height="203"/>
<rect x="100.5" y="476.5" width="603" height="143"/>
<rect x="101.5" y="197.5" width="601" height="201" stroke="#fff"/>
<rect x="101.5" y="477.5" width="601" height="141" stroke="#fff"/>
</g>
<path d="M102.5 186 V196M102.5 400 V410M102.5 466 V476M102.5 620 V630M127.5 191 V196M127.5 400 V405M127.5 471 V476M127.5 620 V625M152.5 191 V196M152.5 400 V405M152.5 471 V476M152.5 620 V625M177.5 191 V196M177.5 400 V405M177.5 471 V476M177.5 620 V625M202.5 186 V196M202.5 400 V410M202.5 466 V476M202.5 620 V630M227.5 191 V196M227.5 400 V405M227.5 471 V476M227.5 620 V625M252.5 191 V196M252.5 400 V405M252.5 471 V476M252.5 620 V625M277.5 191 V196M277.5 400 V405M277.5 471 V476M277.5 620 V625M302.5 186 V196M302.5 400 V410M302.5 466 V476M302.5 620 V630M327.5 191 V196M327.5 400 V405M327.5 471 V476M327.5 620 V625M352.5 191 V196M352.5 400 V405M352.5 471 V476M352.5 620 V625M377.5 191 V196M377.5 400 V405M377.5 471 V476M377.5 620 V625M402.5 186 V196M402.5 400 V410M402.5 466 V476M402.5 620 V630M427.5 191 V196M427.5 400 V405M427.5 471 V476M427.5 620 V625M452.5 191 V196M452.5 400 V405M452.5 471 V476M452.5 620 V625M477.5 191 V196M477.5 400 V405M477.5 471 V476M477.5 620 V625M502.5 186 V196M502.5 400 V410M502.5 466 V476M502.5 620 V630M527.5 191 V196M527.5 400 V405M527.5 471 V476M527.5 620 V625M552.5 191 V196M552.5 400 V405M552.5 471 V476M552.5 620 V625M577.5 191 V196M577.5 400 V405M577.5 471 V476M577.5 620 V625M602.5 186 V196M602.5 400 V410M602.5 466 V476M602.5 620 V630M627.5 191 V196M627.5 400 V405M627.5 471 V476M627.5 620 V625M652.5 191 V196M652.5 400 V405M652.5 471 V476M652.5 620 V625M677.5 191 V196M677.5 400 V405M677.5 471 V476M677.5 620 V625M702.5 186 V196M702.5 400 V410M702.5 466 V476M702.5 620 V630" stroke="#000" fill="none"/>
<path d="M95 394.5 H100M704 394.5 H709M95 391.5 H100M704 391.5 H709M95 388.5 H100M704 388.5 H709M95 386.5 H100M704 386.5 H709M95 384.5 H100M704 384.5 H709M90 382.5 H100M704 382.5 H714M95 370.5 H100M704 370.5 H709M95 363.5 H100M704 363.5 H709M95 358.5 H100M704 358.5 H709M95 354.5 H100M704 354.5 H709M95 351.5 H100M704 351.5 H709M95 348.5 H100M704 348.5 H709M95 346.5 H100M704 346.5 H709M95 344.5 H100M704 344.5 H709M90 342.5 H100M704 342.5 H714M95 330.5 H100M704 330.5 H709M95 323.5 H100M704 323.5 H709M95 318.5 H100M704 318.5 H709M95 314.5 H100M704 314.5 H709M95 311.5 H100M704 311.5 H709M95 308.5 H100M704 308.5 H709M95 306.5 H100M704 306.5 H709M95 304.5 H100M704 304.5 H709M90 302.5 H100M704 302.5 H714M95 290.5 H100M704 290.5 H709M95 283.5 H100M704 283.5 H709M95 278.5 H100M704 278.5 H709M95 274.5 H100M704 274.5 H709M95 271.5 H100M704 271.5 H709M95 268.5 H100M704 268.5 H709M95 266.5 H100M704 266.5 H709M95 264.5 H100M704 264.5 H709M90 262.5 H100M704 262.5 H714M95 250.5 H100M704 250.5 H709M95 243.5 H100M704 243.5 H709M95 238.5 H100M704 238.5 H709M95 234.5 H100M704 234.5 H709M95 231.5 H100M704 231.5 H709M95 228.5 H100M704 228.5 H709M95 226.5 H100M704 226.5 H709M95 224.5 H100M704 224.5 H709M90 222.5 H100M704 222.5 H714M95 210.5 H100M704 210.5 H709M95 203.5 H100M704 203.5 H709M95 198.5 H100M704 198.5 H709M95 614.5 H100M704 614.5 H709M95 611.5 H100M704 611.5 H709M95 608.5 H100M704 608.5 H709M95 606.5 H100M704 606.5 H709M95 604.5 H100M704 604.5 H709M90 602.5 H100M704 602.5 H714M95 590.5 H100M704 590.5 H709M95 583.5 H100M704 583.5 H709M95 578.5 H100M704 578.5 H709M95 574.5 H100M704 574.5 H709M95 571.5 H100M704 571.5 H709M95 568.5 H100M704 568.5 H709M95 566.5 H100M704 566.5 H709M95 564.5 H100M704 564.5 H709M90 562.5 H100M704 562.5 H714M95 550.5 H100M704 550.5 H709M95 543.5 H100M704 543.5 H709M95 538.5 H100M704 538.5 H709M95 534.5 H100M704 534.5 H709M95 531.5 H100M704 531.5 H709M95 528.5 H100M704 528.5 H709M95 526.5 H100M704 526.5 H709M95 524.5 H100M704 524.5 H709M90 522.5 H100M704 522.5 H714M95 510.5 H100M704 510.5 H709M95 503.5 H100M704 503.5 H709M95 498.5 H100M704 498.5 H709M95 494.5 H100M704 494.5 H709M95 491.5 H100M704 491.5 H709M95 488.5 H100M704 488.5 H709M95 486.5 H100M704 486.5 H709M95 484.5 H100M704 484.5 H709M90 482.5 H100M704 482.5 H714" stroke="#000" fill="none"/>
<text x="41.4" y="230.2" font-size="23.0" textLength="46.6" lengthAdjust="spacingAndGlyphs" class="m e">100K</text>
<text x="53.0" y="270.2" font-size="23.0" textLength="35.0" lengthAdjust="spacingAndGlyphs" class="m e">10K</text>
<text x="64.7" y="310.2" font-size="23.0" textLength="23.3" lengthAdjust="spacingAndGlyphs" class="m e">1K</text>
<text x="41.4" y="350.2" font-size="23.0" textLength="35.0" lengthAdjust="spacingAndGlyphs" class="m e">100</text>
<text x="53.0" y="390.2" font-size="23.0" textLength="23.3" lengthAdjust="spacingAndGlyphs" class="m e">10</text>
<text x="53.0" y="490.2" font-size="23.0" textLength="35.0" lengthAdjust="spacingAndGlyphs" class="m e">10K</text>
<text x="64.7" y="530.2" font-size="23.0" textLength="23.3" lengthAdjust="spacingAndGlyphs" class="m e">1K</text>
<text x="41.4" y="570.2" font-size="23.0" textLength="35.0" lengthAdjust="spacingAndGlyphs" class="m e">100</text>
<text x="53.0" y="610.2" font-size="23.0" textLength="23.3" lengthAdjust="spacingAndGlyphs" class="m e">10</text>
<text x="70.4" y="182.5" font-size="23.0" textLength="61.6" lengthAdjust="spacingAndGlyphs" class="m e">17:30</text>
<text x="170.4" y="182.5" font-size="23.0" textLength="61.6" lengthAdjust="spacingAndGlyphs" class="m e">17:50</text>
<text x="270.4" y="182.5" font-size="23.0" textLength="61.6" lengthAdjust="spacingAndGlyphs" class="m e">18:10</text>
<text x="370.4" y="182.5" font-size="23.0" textLength="61.6" lengthAdjust="spacingAndGlyphs" class="m e">18:30</text>
<text x="470.4" y="182.5" font-size="23.0" textLength="61.6" lengthAdjust="spacingAndGlyphs" class="m e">18:50</text>
<text x="570.4" y="182.5" font-size="23.0" textLength="61.6" lengthAdjust="spacingAndGlyphs" class="m e">19:10</text>
<text x="70.4" y="654.8" font-size="23.0" textLength="61.6" lengthAdjust="spacingAndGlyphs" class="m e">17:30</text>
<text x="170.4" y="654.8" font-size="23.0" textLength="61.6" lengthAdjust="spacingAndGlyphs" class="m e">17:50</text>
<text x="270.4" y="654.8" font-size="23.0" textLength="61.6" lengthAdjust="spacingAndGlyphs" class="m e">18:10</text>
<text x="370.4" y="654.8" font-size="23.0" textLength="61.6" lengthAdjust="spacingAndGlyphs" class="m e">18:30</text>
<text x="470.4" y="654.8" font-size="23.0" textLength="61.6" lengthAdjust="spacingAndGlyphs" class="m e">18:50</text>
<text x="570.4" y="654.8" font-size="23.0" textLength="61.6" lengthAdjust="spacingAndGlyphs" class="m e">19:10</text>
<text x="669.4" y="654.8" font-size="23.0" textLength="62.8" lengthAdjust="spacingAndGlyphs" class="m e">19:30</text>
<text x="642.6" y="182.6" font-size="16.5" textLength="17.6" lengthAdjust="spacingAndGlyphs" class="m t0">UT</text>
<text x="642.6" y="654.8" font-size="16.5" textLength="17.6" lengthAdjust="spacingAndGlyphs" class="m t0">UT</text>
<text transform="translate(28.3 302.6) rotate(-90)" font-size="23.6" textLength="60.6" lengthAdjust="spacingAndGlyphs" class="m e">MCA-E</text>
<text transform="translate(28.3 577.6) rotate(-90)" font-size="23.6" textLength="59.6" lengthAdjust="spacingAndGlyphs" class="m e">MCA-B</text>
<text transform="translate(28.3 494.6) rotate(-90)" font-size="23.6" textLength="12" lengthAdjust="spacingAndGlyphs" class="m e">F</text>
<text transform="translate(28.3 481.4) rotate(-90)" font-size="17.4" textLength="93.4" lengthAdjust="spacingAndGlyphs" class="m e">REQUENCY</text>
<text transform="translate(28.3 374.4) rotate(-90)" font-size="22.5" textLength="48.6" lengthAdjust="spacingAndGlyphs" class="m e">(Hz)</text>
<rect x="103" y="420" width="600" height="9" fill="#000"/>
<rect x="103" y="435" width="600" height="9" fill="#000"/>
<path d="M103 458.5 H703M106.5 451 V458M152.5 451 V458M177.5 451 V458M224.5 451 V458M248.5 451 V458M295.5 451 V458M319.5 451 V458M366.5 451 V458M390.5 451 V458M437.5 451 V458M461.5 451 V458M508.5 451 V458M532.5 451 V458M579.5 451 V458M603.5 451 V458M650.5 451 V458M674.5 451 V458" stroke="#000" fill="none"/>
<path d="M103 673.5 H703" stroke="#000" fill="none"/>
<text x="711.6" y="429.4" font-size="13" textLength="120.9" lengthAdjust="spacingAndGlyphs" class="m">ANT EX+BX:| EY+BZ:_</text>
<text x="711.6" y="444.6" font-size="13" textLength="50.7" lengthAdjust="spacingAndGlyphs" class="m">WFC ME:|</text>
<text x="788.0" y="444.6" font-size="13" textLength="25.5" lengthAdjust="spacingAndGlyphs" class="m">DI:_</text>
<text x="711.6" y="459.4" font-size="13" textLength="50.7" lengthAdjust="spacingAndGlyphs" class="m">MEM WR:|</text>
<text x="788.0" y="459.4" font-size="13" textLength="25.5" lengthAdjust="spacingAndGlyphs" class="m">RD:_</text>
<text x="711.6" y="674.6" font-size="13" textLength="50.7" lengthAdjust="spacingAndGlyphs" class="m">SC MGF:|</text>
<text x="782.8" y="674.6" font-size="13" textLength="31.7" lengthAdjust="spacingAndGlyphs" class="m">PWI:_</text>
<text x="101.6" y="708.6" font-size="10.5" textLength="49.8" lengthAdjust="spacingAndGlyphs" class="m">EDITOR</text>
<text x="161.3" y="708.6" font-size="14.5" textLength="8.0" lengthAdjust="spacingAndGlyphs" class="m">B</text>
<text x="202.3" y="708.7" font-size="14.5" textLength="460.2" lengthAdjust="spacingAndGlyphs" class="m">RRAVAX$DKA500:[DATA.GE.SD]GE_SD_NUL_20031019_V01.SO3;1</text>
<text x="801.4" y="708.7" font-size="14.5" textLength="7.6" lengthAdjust="spacingAndGlyphs" class="m">F</text>
<text x="810.5" y="708.7" font-size="11" textLength="7.0" lengthAdjust="spacingAndGlyphs" class="m">G</text>
<text x="819.5" y="708.7" font-size="14.5" textLength="33.0" lengthAdjust="spacingAndGlyphs" class="m">:WBW</text>
<path d="M102 332.5H103V332.5H104V332.5H105V332.5H106V332.5H107V332.5H108V332.5H109V332.5H110V333.5H111V332.5H112V333.5H113V332.5H114V332.5H115V332.5H116V332.5H117V332.5H118V333.5H119V332.5H120V332.5H121V332.5H122V332.5H123V332.5H124V332.5H125V332.5H126V332.5H127V332.5H128V332.5H129V332.5H130V332.5H131V332.5H132V332.5H133V332.5H134V332.5H135V332.5H136V332.5H137V333.5H138V332.5H139V332.5H140V332.5H141V332.5H142V332.5H143V332.5H144V332.5H145V332.5H146V332.5H147V332.5H148V332.5H149V332.5H150V332.5H151V332.5H152V332.5H153V332.5H154V332.5H155V332.5H156V332.5H157V332.5H158V332.5H159V332.5H160V332.5H161V332.5H162V332.5H163V332.5H164V332.5H165V332.5H166V332.5H167V332.5H168V333.5H169V332.5H170V332.5H171V332.5H172V332.5H173V332.5H174V332.5H175V332.5H176V332.5H177V333.5H178V332.5H179V332.5H180V332.5H181V332.5H182V332.5H183V332.5H184V332.5H185V332.5H186V332.5H187V332.5H188V332.5H189V332.5H190V332.5H191V332.5H192V332.5H193V332.5H194V332.5H195V332.5H196V332.5H197V332.5H198V332.5H199V332.5H200V332.5H201V332.5H202V332.5H203V332.5H204V332.5H205V332.5H206V332.5H207V332.5H208V332.5H209V332.5H210V332.5H211V332.5H212V332.5H213V332.5H214V332.5H215V332.5H216V332.5H217V332.5H218V332.5H219V332.5H220V332.5H221V333.5H222V332.5H223V332.5H224V332.5H225V332.5H226V332.5H227V332.5H228V332.5H229V332.5H230V332.5H231V330.5H232V326.5H233V324.5H234V328.5H235V328.5H236V329.5H237V329.5H238V328.5H239V330.5H240V330.5H241V332.5H242V332.5H243V334.5H244V334.5H245V333.5H246V336.5H247V336.5H248V334.5H249V336.5H250V334.5H251V334.5H252V332.5H253V332.5H254V330.5H255V329.5H256V323.5H257V328.5H258V328.5H259V331.5H260V332.5H261V332.5H262V332.5H263V332.5H264V332.5H265V332.5H266V332.5H267V332.5H268V332.5H269V333.5H270V332.5H271V332.5H272V332.5H273V332.5H274V332.5H275V332.5H276V332.5H277V333.5H278V332.5H279V332.5H280V332.5H281V332.5H282V332.5H283V332.5H284V332.5H285V332.5H286V332.5H287V332.5H288V333.5H289V332.5H290V332.5H291V332.5H292V332.5H293V332.5H294V332.5H295V332.5H296V332.5H297V332.5H298V332.5H299V333.5H300V332.5H301V332.5H302V332.5H303V333.5H304V332.5H305V332.5H306V332.5H307V332.5H308V332.5H309V332.5H310V332.5H311V332.5H312V332.5H313V332.5H314V332.5H315V332.5H316V332.5H317V332.5H318V332.5H319V332.5H320V333.5H321V332.5H322V332.5H323V332.5H324V332.5H325V332.5H326V332.5H327V332.5H328V332.5H329V332.5H330V332.5H331V332.5H332V332.5H333V332.5H334V332.5H335V332.5H336V332.5H337V332.5H338V332.5H339V332.5H340V332.5H341V332.5H342V332.5H343V332.5H344V333.5H345V332.5H346V333.5H347V332.5H348V332.5H349V333.5H350V332.5H351V332.5H352V332.5H353V332.5H354V332.5H355V332.5H356V332.5H357V332.5H358V332.5H359V332.5H360V333.5H361V332.5H362V332.5H363V332.5H364V332.5H365V332.5H366V332.5H367V332.5H368V332.5H369V332.5H370V332.5H371V332.5H372V332.5H373V332.5H374V332.5H375V332.5H376V332.5H377V332.5H378V332.5H379V332.5H380V312.5H381V307.5H382V320.5H383V329.5H384V330.5H385V326.5H386V318.5H387V310.5H388V306.5H389V305.5H390V306.5H391V306.5H392V309.5H393V308.5H394V311.5H395V312.5H396V311.5H397V309.5H398V311.5H399V312.5H400V310.5H401V311.5H402V308.5H403V310.5H404V309.5H405V311.5H406V310.5H407V311.5H408V311.5H409V311.5H410V310.5H411V311.5H412V312.5H413V312.5H414V311.5H415V311.5H416V310.5H417V312.5H418V311.5H419V312.5H420V311.5H421V310.5H422V312.5H423V310.5H424V311.5H425V311.5H426V311.5H427V311.5H428V311.5H429V311.5H430V310.5H431V310.5H432V311.5H433V312.5H434V312.5H435V311.5H436V310.5H437V311.5H438V312.5H439V310.5H440V311.5H441V311.5H442V310.5H443V311.5H444V311.5H445V310.5H446V311.5H447V310.5H448V312.5H449V312.5H450V311.5H451V312.5H452V311.5H453V309.5H454V306.5H455V306.5H456V309.5H457V318.5H458V328.5H459V330.5H460V330.5H461V329.5H462V330.5H463V330.5H464V330.5H465V330.5H466V330.5H467V330.5H468V330.5H469V330.5H470V330.5H471V330.5H472V330.5H473V329.5H474V330.5H475V330.5H476V330.5H477V330.5H478V330.5H479V329.5H480V330.5H481V330.5H482V330.5H483V330.5H484V306.5H485V305.5H486V308.5H487V312.5H488V313.5H489V314.5H490V312.5H491V310.5H492V312.5H493V314.5H494V311.5H495V310.5H496V312.5H497V314.5H498V312.5H499V312.5H500V313.5H501V312.5H502V311.5H503V310.5H504V308.5H505V308.5H506V306.5H507V305.5H508V304.5H509V303.5H510V308.5H511V315.5H512V320.5H513V321.5H514V323.5H515V325.5H516V326.5H517V328.5H518V328.5H519V329.5H520V329.5H521V329.5H522V329.5H523V329.5H524V329.5H525V329.5H526V328.5H527V306.5H528V305.5H529V305.5H530V307.5H531V310.5H532V312.5H533V312.5H534V310.5H535V312.5H536V312.5H537V311.5H538V312.5H539V310.5H540V310.5H541V312.5H542V312.5H543V312.5H544V312.5H545V311.5H546V311.5H547V311.5H548V310.5H549V311.5H550V312.5H551V312.5H552V310.5H553V311.5H554V310.5H555V311.5H556V310.5H557V311.5H558V312.5H559V310.5H560V310.5H561V311.5H562V311.5H563V312.5H564V311.5H565V312.5H566V310.5H567V312.5H568V311.5H569V311.5H570V311.5H571V311.5H572V311.5H573V311.5H574V311.5H575V311.5H576V311.5H577V311.5H578V310.5H579V311.5H580V311.5H581V310.5H582V311.5H583V311.5H584V311.5H585V310.5H586V311.5H587V311.5H588V311.5H589V310.5H590V311.5H591V310.5H592V311.5H593V310.5H594V311.5H595V310.5H596V310.5H597V310.5H598V310.5H599V310.5H600V311.5H601V311.5H602V310.5H603V311.5H604V310.5H605V310.5H606V310.5H607V310.5H608V311.5H609V310.5H610V311.5H611V310.5H612V310.5H613V310.5H614V311.5H615V310.5H616V310.5H617V311.5H618V310.5H619V311.5H620V311.5H621V311.5H622V311.5H623V311.5H624V311.5H625V310.5H626V311.5H627V311.5H628V310.5H629V311.5H630V311.5H631V311.5H632V310.5H633V311.5H634V311.5H635V311.5H636V311.5H637V311.5H638V311.5H639V311.5H640V311.5H641V310.5H642V310.5H643V311.5H644V310.5H645V310.5H646V311.5H647V311.5H648V311.5H649V312.5H650V311.5H651V310.5H652V311.5H653V312.5H654V310.5H655V311.5H656V311.5H657V310.5H658V310.5H659V311.5H660V311.5H661V310.5H662V310.5H663V312.5H664V310.5H665V312.5H666V311.5H667V311.5H668V310.5H669V312.5H670V312.5H671V311.5H672V311.5H673V311.5H674V311.5H675V311.5H676V312.5H677V311.5H678V311.5H679V310.5H680V310.5H681V311.5H682V311.5H683V311.5H684V312.5H685V311.5H686V311.5H687V312.5H688V312.5H689V311.5H690V313.5H691V312.5H692V312.5H693V312.5H694V313.5H695V312.5H696V312.5H697V312.5H698V313.5H699V312.5H700V313.5H701V313.5H702V312.5H703" fill="none" stroke="#fff" stroke-width="3" stroke-linejoin="miter"/>
<path d="M102 332.5H103V332.5H104V332.5H105V332.5H106V332.5H107V332.5H108V332.5H109V332.5H110V333.5H111V332.5H112V333.5H113V332.5H114V332.5H115V332.5H116V332.5H117V332.5H118V333.5H119V332.5H120V332.5H121V332.5H122V332.5H123V332.5H124V332.5H125V332.5H126V332.5H127V332.5H128V332.5H129V332.5H130V332.5H131V332.5H132V332.5H133V332.5H134V332.5H135V332.5H136V332.5H137V333.5H138V332.5H139V332.5H140V332.5H141V332.5H142V332.5H143V332.5H144V332.5H145V332.5H146V332.5H147V332.5H148V332.5H149V332.5H150V332.5H151V332.5H152V332.5H153V332.5H154V332.5H155V332.5H156V332.5H157V332.5H158V332.5H159V332.5H160V332.5H161V332.5H162V332.5H163V332.5H164V332.5H165V332.5H166V332.5H167V332.5H168V333.5H169V332.5H170V332.5H171V332.5H172V332.5H173V332.5H174V332.5H175V332.5H176V332.5H177V333.5H178V332.5H179V332.5H180V332.5H181V332.5H182V332.5H183V332.5H184V332.5H185V332.5H186V332.5H187V332.5H188V332.5H189V332.5H190V332.5H191V332.5H192V332.5H193V332.5H194V332.5H195V332.5H196V332.5H197V332.5H198V332.5H199V332.5H200V332.5H201V332.5H202V332.5H203V332.5H204V332.5H205V332.5H206V332.5H207V332.5H208V332.5H209V332.5H210V332.5H211V332.5H212V332.5H213V332.5H214V332.5H215V332.5H216V332.5H217V332.5H218V332.5H219V332.5H220V332.5H221V333.5H222V332.5H223V332.5H224V332.5H225V332.5H226V332.5H227V332.5H228V332.5H229V332.5H230V332.5H231V330.5H232V326.5H233V324.5H234V328.5H235V328.5H236V329.5H237V329.5H238V328.5H239V330.5H240V330.5H241V332.5H242V332.5H243V334.5H244V334.5H245V333.5H246V336.5H247V336.5H248V334.5H249V336.5H250V334.5H251V334.5H252V332.5H253V332.5H254V330.5H255V329.5H256V323.5H257V328.5H258V328.5H259V331.5H260V332.5H261V332.5H262V332.5H263V332.5H264V332.5H265V332.5H266V332.5H267V332.5H268V332.5H269V333.5H270V332.5H271V332.5H272V332.5H273V332.5H274V332.5H275V332.5H276V332.5H277V333.5H278V332.5H279V332.5H280V332.5H281V332.5H282V332.5H283V332.5H284V332.5H285V332.5H286V332.5H287V332.5H288V333.5H289V332.5H290V332.5H291V332.5H292V332.5H293V332.5H294V332.5H295V332.5H296V332.5H297V332.5H298V332.5H299V333.5H300V332.5H301V332.5H302V332.5H303V333.5H304V332.5H305V332.5H306V332.5H307V332.5H308V332.5H309V332.5H310V332.5H311V332.5H312V332.5H313V332.5H314V332.5H315V332.5H316V332.5H317V332.5H318V332.5H319V332.5H320V333.5H321V332.5H322V332.5H323V332.5H324V332.5H325V332.5H326V332.5H327V332.5H328V332.5H329V332.5H330V332.5H331V332.5H332V332.5H333V332.5H334V332.5H335V332.5H336V332.5H337V332.5H338V332.5H339V332.5H340V332.5H341V332.5H342V332.5H343V332.5H344V333.5H345V332.5H346V333.5H347V332.5H348V332.5H349V333.5H350V332.5H351V332.5H352V332.5H353V332.5H354V332.5H355V332.5H356V332.5H357V332.5H358V332.5H359V332.5H360V333.5H361V332.5H362V332.5H363V332.5H364V332.5H365V332.5H366V332.5H367V332.5H368V332.5H369V332.5H370V332.5H371V332.5H372V332.5H373V332.5H374V332.5H375V332.5H376V332.5H377V332.5H378V332.5H379V332.5H380V312.5H381V307.5H382V320.5H383V329.5H384V330.5H385V326.5H386V318.5H387V310.5H388V306.5H389V305.5H390V306.5H391V306.5H392V309.5H393V308.5H394V311.5H395V312.5H396V311.5H397V309.5H398V311.5H399V312.5H400V310.5H401V311.5H402V308.5H403V310.5H404V309.5H405V311.5H406V310.5H407V311.5H408V311.5H409V311.5H410V310.5H411V311.5H412V312.5H413V312.5H414V311.5H415V311.5H416V310.5H417V312.5H418V311.5H419V312.5H420V311.5H421V310.5H422V312.5H423V310.5H424V311.5H425V311.5H426V311.5H427V311.5H428V311.5H429V311.5H430V310.5H431V310.5H432V311.5H433V312.5H434V312.5H435V311.5H436V310.5H437V311.5H438V312.5H439V310.5H440V311.5H441V311.5H442V310.5H443V311.5H444V311.5H445V310.5H446V311.5H447V310.5H448V312.5H449V312.5H450V311.5H451V312.5H452V311.5H453V309.5H454V306.5H455V306.5H456V309.5H457V318.5H458V328.5H459V330.5H460V330.5H461V329.5H462V330.5H463V330.5H464V330.5H465V330.5H466V330.5H467V330.5H468V330.5H469V330.5H470V330.5H471V330.5H472V330.5H473V329.5H474V330.5H475V330.5H476V330.5H477V330.5H478V330.5H479V329.5H480V330.5H481V330.5H482V330.5H483V330.5H484V306.5H485V305.5H486V308.5H487V312.5H488V313.5H489V314.5H490V312.5H491V310.5H492V312.5H493V314.5H494V311.5H495V310.5H496V312.5H497V314.5H498V312.5H499V312.5H500V313.5H501V312.5H502V311.5H503V310.5H504V308.5H505V308.5H506V306.5H507V305.5H508V304.5H509V303.5H510V308.5H511V315.5H512V320.5H513V321.5H514V323.5H515V325.5H516V326.5H517V328.5H518V328.5H519V329.5H520V329.5H521V329.5H522V329.5H523V329.5H524V329.5H525V329.5H526V328.5H527V306.5H528V305.5H529V305.5H530V307.5H531V310.5H532V312.5H533V312.5H534V310.5H535V312.5H536V312.5H537V311.5H538V312.5H539V310.5H540V310.5H541V312.5H542V312.5H543V312.5H544V312.5H545V311.5H546V311.5H547V311.5H548V310.5H549V311.5H550V312.5H551V312.5H552V310.5H553V311.5H554V310.5H555V311.5H556V310.5H557V311.5H558V312.5H559V310.5H560V310.5H561V311.5H562V311.5H563V312.5H564V311.5H565V312.5H566V310.5H567V312.5H568V311.5H569V311.5H570V311.5H571V311.5H572V311.5H573V311.5H574V311.5H575V311.5H576V311.5H577V311.5H578V310.5H579V311.5H580V311.5H581V310.5H582V311.5H583V311.5H584V311.5H585V310.5H586V311.5H587V311.5H588V311.5H589V310.5H590V311.5H591V310.5H592V311.5H593V310.5H594V311.5H595V310.5H596V310.5H597V310.5H598V310.5H599V310.5H600V311.5H601V311.5H602V310.5H603V311.5H604V310.5H605V310.5H606V310.5H607V310.5H608V311.5H609V310.5H610V311.5H611V310.5H612V310.5H613V310.5H614V311.5H615V310.5H616V310.5H617V311.5H618V310.5H619V311.5H620V311.5H621V311.5H622V311.5H623V311.5H624V311.5H625V310.5H626V311.5H627V311.5H628V310.5H629V311.5H630V311.5H631V311.5H632V310.5H633V311.5H634V311.5H635V311.5H636V311.5H637V311.5H638V311.5H639V311.5H640V311.5H641V310.5H642V310.5H643V311.5H644V310.5H645V310.5H646V311.5H647V311.5H648V311.5H649V312.5H650V311.5H651V310.5H652V311.5H653V312.5H654V310.5H655V311.5H656V311.5H657V310.5H658V310.5H659V311.5H660V311.5H661V310.5H662V310.5H663V312.5H664V310.5H665V312.5H666V311.5H667V311.5H668V310.5H669V312.5H670V312.5H671V311.5H672V311.5H673V311.5H674V311.5H675V311.5H676V312.5H677V311.5H678V311.5H679V310.5H680V310.5H681V311.5H682V311.5H683V311.5H684V312.5H685V311.5H686V311.5H687V312.5H688V312.5H689V311.5H690V313.5H691V312.5H692V312.5H693V312.5H694V313.5H695V312.5H696V312.5H697V312.5H698V313.5H699V312.5H700V313.5H701V313.5H702V312.5H703" fill="none" stroke="#000" stroke-width="1"/>
<path d="M102 552.5H103V552.5H104V552.5H105V552.5H106V552.5H107V552.5H108V552.5H109V552.5H110V553.5H111V552.5H112V553.5H113V552.5H114V552.5H115V552.5H116V552.5H117V552.5H118V553.5H119V552.5H120V552.5H121V552.5H122V552.5H123V552.5H124V552.5H125V552.5H126V552.5H127V552.5H128V552.5H129V552.5H130V552.5H131V552.5H132V552.5H133V552.5H134V552.5H135V552.5H136V552.5H137V553.5H138V552.5H139V552.5H140V552.5H141V552.5H142V552.5H143V552.5H144V552.5H145V552.5H146V552.5H147V552.5H148V552.5H149V552.5H150V552.5H151V552.5H152V552.5H153V552.5H154V552.5H155V552.5H156V552.5H157V552.5H158V552.5H159V552.5H160V552.5H161V552.5H162V552.5H163V552.5H164V552.5H165V552.5H166V552.5H167V552.5H168V553.5H169V552.5H170V552.5H171V552.5H172V552.5H173V552.5H174V552.5H175V552.5H176V552.5H177V553.5H178V552.5H179V552.5H180V552.5H181V552.5H182V552.5H183V552.5H184V552.5H185V552.5H186V552.5H187V552.5H188V552.5H189V552.5H190V552.5H191V552.5H192V552.5H193V552.5H194V552.5H195V552.5H196V552.5H197V552.5H198V552.5H199V552.5H200V552.5H201V552.5H202V552.5H203V552.5H204V552.5H205V552.5H206V552.5H207V552.5H208V552.5H209V552.5H210V552.5H211V552.5H212V552.5H213V552.5H214V552.5H215V552.5H216V552.5H217V552.5H218V552.5H219V552.5H220V552.5H221V553.5H222V552.5H223V552.5H224V552.5H225V552.5H226V552.5H227V552.5H228V552.5H229V552.5H230V552.5H231V550.5H232V546.5H233V544.5H234V548.5H235V548.5H236V549.5H237V549.5H238V548.5H239V550.5H240V550.5H241V552.5H242V552.5H243V554.5H244V554.5H245V553.5H246V556.5H247V556.5H248V554.5H249V556.5H250V554.5H251V554.5H252V552.5H253V552.5H254V550.5H255V549.5H256V543.5H257V548.5H258V548.5H259V551.5H260V552.5H261V552.5H262V552.5H263V552.5H264V552.5H265V552.5H266V552.5H267V552.5H268V552.5H269V553.5H270V552.5H271V552.5H272V552.5H273V552.5H274V552.5H275V552.5H276V552.5H277V553.5H278V552.5H279V552.5H280V552.5H281V552.5H282V552.5H283V552.5H284V552.5H285V552.5H286V552.5H287V552.5H288V553.5H289V552.5H290V552.5H291V552.5H292V552.5H293V552.5H294V552.5H295V552.5H296V552.5H297V552.5H298V552.5H299V553.5H300V552.5H301V552.5H302V552.5H303V553.5H304V552.5H305V552.5H306V552.5H307V552.5H308V552.5H309V552.5H310V552.5H311V552.5H312V552.5H313V552.5H314V552.5H315V552.5H316V552.5H317V552.5H318V552.5H319V552.5H320V553.5H321V552.5H322V552.5H323V552.5H324V552.5H325V552.5H326V552.5H327V552.5H328V552.5H329V552.5H330V552.5H331V552.5H332V552.5H333V552.5H334V552.5H335V552.5H336V552.5H337V552.5H338V552.5H339V552.5H340V552.5H341V552.5H342V552.5H343V552.5H344V553.5H345V552.5H346V553.5H347V552.5H348V552.5H349V553.5H350V552.5H351V552.5H352V552.5H353V552.5H354V552.5H355V552.5H356V552.5H357V552.5H358V552.5H359V552.5H360V553.5H361V552.5H362V552.5H363V552.5H364V552.5H365V552.5H366V552.5H367V552.5H368V552.5H369V552.5H370V552.5H371V552.5H372V552.5H373V552.5H374V552.5H375V552.5H376V552.5H377V552.5H378V552.5H379V552.5H380V532.5H381V527.5H382V540.5H383V549.5H384V550.5H385V546.5H386V538.5H387V530.5H388V526.5H389V525.5H390V526.5H391V526.5H392V529.5H393V528.5H394V531.5H395V532.5H396V531.5H397V529.5H398V531.5H399V532.5H400V530.5H401V531.5H402V528.5H403V530.5H404V529.5H405V531.5H406V530.5H407V531.5H408V531.5H409V531.5H410V530.5H411V531.5H412V532.5H413V532.5H414V531.5H415V531.5H416V530.5H417V532.5H418V531.5H419V532.5H420V531.5H421V530.5H422V532.5H423V530.5H424V531.5H425V531.5H426V531.5H427V531.5H428V531.5H429V531.5H430V530.5H431V530.5H432V531.5H433V532.5H434V532.5H435V531.5H436V530.5H437V531.5H438V532.5H439V530.5H440V531.5H441V531.5H442V530.5H443V531.5H444V531.5H445V530.5H446V531.5H447V530.5H448V532.5H449V532.5H450V531.5H451V532.5H452V531.5H453V529.5H454V526.5H455V526.5H456V529.5H457V538.5H458V548.5H459V550.5H460V550.5H461V549.5H462V550.5H463V550.5H464V550.5H465V550.5H466V550.5H467V550.5H468V550.5H469V550.5H470V550.5H471V550.5H472V550.5H473V549.5H474V550.5H475V550.5H476V550.5H477V550.5H478V550.5H479V549.5H480V550.5H481V550.5H482V550.5H483V550.5H484V526.5H485V525.5H486V528.5H487V532.5H488V533.5H489V534.5H490V532.5H491V530.5H492V532.5H493V534.5H494V531.5H495V530.5H496V532.5H497V534.5H498V532.5H499V532.5H500V533.5H501V532.5H502V531.5H503V530.5H504V528.5H505V528.5H506V526.5H507V525.5H508V524.5H509V523.5H510V528.5H511V535.5H512V540.5H513V541.5H514V543.5H515V545.5H516V546.5H517V548.5H518V548.5H519V549.5H520V549.5H521V549.5H522V549.5H523V549.5H524V549.5H525V549.5H526V548.5H527V526.5H528V525.5H529V525.5H530V527.5H531V530.5H532V532.5H533V532.5H534V530.5H535V532.5H536V532.5H537V531.5H538V532.5H539V530.5H540V530.5H541V532.5H542V532.5H543V532.5H544V532.5H545V531.5H546V531.5H547V531.5H548V530.5H549V531.5H550V532.5H551V532.5H552V530.5H553V531.5H554V530.5H555V531.5H556V530.5H557V531.5H558V532.5H559V530.5H560V530.5H561V531.5H562V531.5H563V532.5H564V531.5H565V532.5H566V530.5H567V532.5H568V531.5H569V531.5H570V531.5H571V531.5H572V531.5H573V531.5H574V531.5H575V531.5H576V531.5H577V531.5H578V530.5H579V531.5H580V531.5H581V530.5H582V531.5H583V531.5H584V531.5H585V530.5H586V531.5H587V531.5H588V531.5H589V530.5H590V531.5H591V530.5H592V531.5H593V530.5H594V531.5H595V530.5H596V530.5H597V530.5H598V530.5H599V530.5H600V531.5H601V531.5H602V530.5H603V531.5H604V530.5H605V530.5H606V530.5H607V530.5H608V531.5H609V530.5H610V531.5H611V530.5H612V530.5H613V530.5H614V531.5H615V530.5H616V530.5H617V531.5H618V530.5H619V531.5H620V531.5H621V531.5H622V531.5H623V531.5H624V531.5H625V530.5H626V531.5H627V531.5H628V530.5H629V531.5H630V531.5H631V531.5H632V530.5H633V531.5H634V531.5H635V531.5H636V531.5H637V531.5H638V531.5H639V531.5H640V531.5H641V530.5H642V530.5H643V531.5H644V530.5H645V530.5H646V531.5H647V531.5H648V531.5H649V532.5H650V531.5H651V530.5H652V531.5H653V532.5H654V530.5H655V531.5H656V531.5H657V530.5H658V530.5H659V531.5H660V531.5H661V530.5H662V530.5H663V532.5H664V530.5H665V532.5H666V531.5H667V531.5H668V530.5H669V532.5H670V532.5H671V531.5H672V531.5H673V531.5H674V531.5H675V531.5H676V532.5H677V531.5H678V531.5H679V530.5H680V530.5H681V531.5H682V531.5H683V531.5H684V532.5H685V531.5H686V531.5H687V532.5H688V532.5H689V531.5H690V533.5H691V532.5H692V532.5H693V532.5H694V533.5H695V532.5H696V532.5H697V532.5H698V533.5H699V532.5H700V533.5H701V533.5H702V532.5H703" fill="none" stroke="#fff" stroke-width="3" stroke-linejoin="miter"/>
<path d="M102 552.5H103V552.5H104V552.5H105V552.5H106V552.5H107V552.5H108V552.5H109V552.5H110V553.5H111V552.5H112V553.5H113V552.5H114V552.5H115V552.5H116V552.5H117V552.5H118V553.5H119V552.5H120V552.5H121V552.5H122V552.5H123V552.5H124V552.5H125V552.5H126V552.5H127V552.5H128V552.5H129V552.5H130V552.5H131V552.5H132V552.5H133V552.5H134V552.5H135V552.5H136V552.5H137V553.5H138V552.5H139V552.5H140V552.5H141V552.5H142V552.5H143V552.5H144V552.5H145V552.5H146V552.5H147V552.5H148V552.5H149V552.5H150V552.5H151V552.5H152V552.5H153V552.5H154V552.5H155V552.5H156V552.5H157V552.5H158V552.5H159V552.5H160V552.5H161V552.5H162V552.5H163V552.5H164V552.5H165V552.5H166V552.5H167V552.5H168V553.5H169V552.5H170V552.5H171V552.5H172V552.5H173V552.5H174V552.5H175V552.5H176V552.5H177V553.5H178V552.5H179V552.5H180V552.5H181V552.5H182V552.5H183V552.5H184V552.5H185V552.5H186V552.5H187V552.5H188V552.5H189V552.5H190V552.5H191V552.5H192V552.5H193V552.5H194V552.5H195V552.5H196V552.5H197V552.5H198V552.5H199V552.5H200V552.5H201V552.5H202V552.5H203V552.5H204V552.5H205V552.5H206V552.5H207V552.5H208V552.5H209V552.5H210V552.5H211V552.5H212V552.5H213V552.5H214V552.5H215V552.5H216V552.5H217V552.5H218V552.5H219V552.5H220V552.5H221V553.5H222V552.5H223V552.5H224V552.5H225V552.5H226V552.5H227V552.5H228V552.5H229V552.5H230V552.5H231V550.5H232V546.5H233V544.5H234V548.5H235V548.5H236V549.5H237V549.5H238V548.5H239V550.5H240V550.5H241V552.5H242V552.5H243V554.5H244V554.5H245V553.5H246V556.5H247V556.5H248V554.5H249V556.5H250V554.5H251V554.5H252V552.5H253V552.5H254V550.5H255V549.5H256V543.5H257V548.5H258V548.5H259V551.5H260V552.5H261V552.5H262V552.5H263V552.5H264V552.5H265V552.5H266V552.5H267V552.5H268V552.5H269V553.5H270V552.5H271V552.5H272V552.5H273V552.5H274V552.5H275V552.5H276V552.5H277V553.5H278V552.5H279V552.5H280V552.5H281V552.5H282V552.5H283V552.5H284V552.5H285V552.5H286V552.5H287V552.5H288V553.5H289V552.5H290V552.5H291V552.5H292V552.5H293V552.5H294V552.5H295V552.5H296V552.5H297V552.5H298V552.5H299V553.5H300V552.5H301V552.5H302V552.5H303V553.5H304V552.5H305V552.5H306V552.5H307V552.5H308V552.5H309V552.5H310V552.5H311V552.5H312V552.5H313V552.5H314V552.5H315V552.5H316V552.5H317V552.5H318V552.5H319V552.5H320V553.5H321V552.5H322V552.5H323V552.5H324V552.5H325V552.5H326V552.5H327V552.5H328V552.5H329V552.5H330V552.5H331V552.5H332V552.5H333V552.5H334V552.5H335V552.5H336V552.5H337V552.5H338V552.5H339V552.5H340V552.5H341V552.5H342V552.5H343V552.5H344V553.5H345V552.5H346V553.5H347V552.5H348V552.5H349V553.5H350V552.5H351V552.5H352V552.5H353V552.5H354V552.5H355V552.5H356V552.5H357V552.5H358V552.5H359V552.5H360V553.5H361V552.5H362V552.5H363V552.5H364V552.5H365V552.5H366V552.5H367V552.5H368V552.5H369V552.5H370V552.5H371V552.5H372V552.5H373V552.5H374V552.5H375V552.5H376V552.5H377V552.5H378V552.5H379V552.5H380V532.5H381V527.5H382V540.5H383V549.5H384V550.5H385V546.5H386V538.5H387V530.5H388V526.5H389V525.5H390V526.5H391V526.5H392V529.5H393V528.5H394V531.5H395V532.5H396V531.5H397V529.5H398V531.5H399V532.5H400V530.5H401V531.5H402V528.5H403V530.5H404V529.5H405V531.5H406V530.5H407V531.5H408V531.5H409V531.5H410V530.5H411V531.5H412V532.5H413V532.5H414V531.5H415V531.5H416V530.5H417V532.5H418V531.5H419V532.5H420V531.5H421V530.5H422V532.5H423V530.5H424V531.5H425V531.5H426V531.5H427V531.5H428V531.5H429V531.5H430V530.5H431V530.5H432V531.5H433V532.5H434V532.5H435V531.5H436V530.5H437V531.5H438V532.5H439V530.5H440V531.5H441V531.5H442V530.5H443V531.5H444V531.5H445V530.5H446V531.5H447V530.5H448V532.5H449V532.5H450V531.5H451V532.5H452V531.5H453V529.5H454V526.5H455V526.5H456V529.5H457V538.5H458V548.5H459V550.5H460V550.5H461V549.5H462V550.5H463V550.5H464V550.5H465V550.5H466V550.5H467V550.5H468V550.5H469V550.5H470V550.5H471V550.5H472V550.5H473V549.5H474V550.5H475V550.5H476V550.5H477V550.5H478V550.5H479V549.5H480V550.5H481V550.5H482V550.5H483V550.5H484V526.5H485V525.5H486V528.5H487V532.5H488V533.5H489V534.5H490V532.5H491V530.5H492V532.5H493V534.5H494V531.5H495V530.5H496V532.5H497V534.5H498V532.5H499V532.5H500V533.5H501V532.5H502V531.5H503V530.5H504V528.5H505V528.5H506V526.5H507V525.5H508V524.5H509V523.5H510V528.5H511V535.5H512V540.5H513V541.5H514V543.5H515V545.5H516V546.5H517V548.5H518V548.5H519V549.5H520V549.5H521V549.5H522V549.5H523V549.5H524V549.5H525V549.5H526V548.5H527V526.5H528V525.5H529V525.5H530V527.5H531V530.5H532V532.5H533V532.5H534V530.5H535V532.5H536V532.5H537V531.5H538V532.5H539V530.5H540V530.5H541V532.5H542V532.5H543V532.5H544V532.5H545V531.5H546V531.5H547V531.5H548V530.5H549V531.5H550V532.5H551V532.5H552V530.5H553V531.5H554V530.5H555V531.5H556V530.5H557V531.5H558V532.5H559V530.5H560V530.5H561V531.5H562V531.5H563V532.5H564V531.5H565V532.5H566V530.5H567V532.5H568V531.5H569V531.5H570V531.5H571V531.5H572V531.5H573V531.5H574V531.5H575V531.5H576V531.5H577V531.5H578V530.5H579V531.5H580V531.5H581V530.5H582V531.5H583V531.5H584V531.5H585V530.5H586V531.5H587V531.5H588V531.5H589V530.5H590V531.5H591V530.5H592V531.5H593V530.5H594V531.5H595V530.5H596V530.5H597V530.5H598V530.5H599V530.5H600V531.5H601V531.5H602V530.5H603V531.5H604V530.5H605V530.5H606V530.5H607V530.5H608V531.5H609V530.5H610V531.5H611V530.5H612V530.5H613V530.5H614V531.5H615V530.5H616V530.5H617V531.5H618V530.5H619V531.5H620V531.5H621V531.5H622V531.5H623V531.5H624V531.5H625V530.5H626V531.5H627V531.5H628V530.5H629V531.5H630V531.5H631V531.5H632V530.5H633V531.5H634V531.5H635V531.5H636V531.5H637V531.5H638V531.5H639V531.5H640V531.5H641V530.5H642V530.5H643V531.5H644V530.5H645V530.5H646V531.5H647V531.5H648V531.5H649V532.5H650V531.5H651V530.5H652V531.5H653V532.5H654V530.5H655V531.5H656V531.5H657V530.5H658V530.5H659V531.5H660V531.5H661V530.5H662V530.5H663V532.5H664V530.5H665V532.5H666V531.5H667V531.5H668V530.5H669V532.5H670V532.5H671V531.5H672V531.5H673V531.5H674V531.5H675V531.5H676V532.5H677V531.5H678V531.5H679V530.5H680V530.5H681V531.5H682V531.5H683V531.5H684V532.5H685V531.5H686V531.5H687V532.5H688V532.5H689V531.5H690V533.5H691V532.5H692V532.5H693V532.5H694V533.5H695V532.5H696V532.5H697V532.5H698V533.5H699V532.5H700V533.5H701V533.5H702V532.5H703" fill="none" stroke="#000" stroke-width="1"/>
<text x="716.7" y="193.2" font-size="12.5" textLength="35.8" lengthAdjust="spacingAndGlyphs" class="m">Ne (cm</text>
<text x="753" y="189.5" font-size="9.5" textLength="12.5" lengthAdjust="spacingAndGlyphs" class="m">-3</text>
<text x="766" y="193.2" font-size="12.5" textLength="7" lengthAdjust="spacingAndGlyphs" class="m">)</text>
<text x="716.9" y="473.3" font-size="12.5" textLength="36.5" lengthAdjust="spacingAndGlyphs" class="m">B (nT)</text>
<text x="730.2" y="209.3" font-size="15.2" textLength="15.3" lengthAdjust="spacingAndGlyphs" class="m">10</text>
<text x="746.2" y="204.8" font-size="10.5" textLength="5.8" lengthAdjust="spacingAndGlyphs" class="m">3</text>
<text x="730.2" y="229.3" font-size="15.2" textLength="15.3" lengthAdjust="spacingAndGlyphs" class="m">10</text>
<text x="746.2" y="224.8" font-size="10.5" textLength="5.8" lengthAdjust="spacingAndGlyphs" class="m">2</text>
<text x="730.2" y="249.4" font-size="15.2" textLength="15.3" lengthAdjust="spacingAndGlyphs" class="m">10</text>
<text x="746.2" y="244.9" font-size="10.5" textLength="5.8" lengthAdjust="spacingAndGlyphs" class="m">1</text>
<text x="730.2" y="269.4" font-size="15.2" textLength="15.3" lengthAdjust="spacingAndGlyphs" class="m">10</text>
<text x="746.2" y="264.9" font-size="10.5" textLength="5.8" lengthAdjust="spacingAndGlyphs" class="m">0</text>
<text x="730.2" y="289.4" font-size="15.2" textLength="15.3" lengthAdjust="spacingAndGlyphs" class="m">10</text>
<text x="746.2" y="284.9" font-size="10.5" textLength="13.8" lengthAdjust="spacingAndGlyphs" class="m">−1</text>
<text x="730.2" y="309.4" font-size="15.2" textLength="15.3" lengthAdjust="spacingAndGlyphs" class="m">10</text>
<text x="746.2" y="304.9" font-size="10.5" textLength="13.8" lengthAdjust="spacingAndGlyphs" class="m">−2</text>
<text x="730.2" y="329.5" font-size="15.2" textLength="15.3" lengthAdjust="spacingAndGlyphs" class="m">10</text>
<text x="746.2" y="325.0" font-size="10.5" textLength="13.8" lengthAdjust="spacingAndGlyphs" class="m">−3</text>
<text x="730.2" y="349.5" font-size="15.2" textLength="15.3" lengthAdjust="spacingAndGlyphs" class="m">10</text>
<text x="746.2" y="345.0" font-size="10.5" textLength="13.8" lengthAdjust="spacingAndGlyphs" class="m">−4</text>
<text x="730.2" y="369.5" font-size="15.2" textLength="15.3" lengthAdjust="spacingAndGlyphs" class="m">10</text>
<text x="746.2" y="365.0" font-size="10.5" textLength="13.8" lengthAdjust="spacingAndGlyphs" class="m">−5</text>
<text x="730.2" y="389.6" font-size="15.2" textLength="15.3" lengthAdjust="spacingAndGlyphs" class="m">10</text>
<text x="746.2" y="385.1" font-size="10.5" textLength="13.8" lengthAdjust="spacingAndGlyphs" class="m">−6</text>
<text x="730.2" y="491.2" font-size="15.2" textLength="24.3" lengthAdjust="spacingAndGlyphs" class="m">300</text>
<text x="730.2" y="511.1" font-size="15.2" textLength="24.3" lengthAdjust="spacingAndGlyphs" class="m">100</text>
<text x="738.2" y="531.0" font-size="15.2" textLength="16.2" lengthAdjust="spacingAndGlyphs" class="m">30</text>
<text x="738.2" y="550.9" font-size="15.2" textLength="16.2" lengthAdjust="spacingAndGlyphs" class="m">10</text>
<text x="746.4" y="570.8" font-size="15.2" textLength="8.1" lengthAdjust="spacingAndGlyphs" class="m">3</text>
<text x="746.4" y="590.7" font-size="15.2" textLength="8.1" lengthAdjust="spacingAndGlyphs" class="m">1</text>
<text x="756.6" y="611.4" font-size="15.2" textLength="10.2" lengthAdjust="spacingAndGlyphs" class="m">.3</text>
<path d="M716 204.5 H724M716 224.5 H724M716 244.5 H724M716 264.5 H724M716 284.5 H724M716 304.5 H724M716 324.5 H724M716 344.5 H724M716 364.5 H724M716 384.5 H724M716 486.5 H724M716 505.5 H724M716 525.5 H724M716 545.5 H724M716 565.5 H724M716 585.5 H724M716 605.5 H724" stroke="#000" fill="none"/>
<defs><linearGradient id="cb" x1="0" y1="1" x2="0" y2="0">
<stop offset="0" stop-color="#0000ff"/>
<stop offset="0.165" stop-color="#00ffff"/>
<stop offset="0.22" stop-color="#00ffff"/>
<stop offset="0.395" stop-color="#00ff00"/>
<stop offset="0.567" stop-color="#ffff00"/>
<stop offset="0.635" stop-color="#ffff00"/>
<stop offset="0.79" stop-color="#ff0000"/>
<stop offset="0.92" stop-color="#ff00ff"/>
<stop offset="1" stop-color="#ff00ff"/>
</linearGradient></defs>
<rect x="802" y="248" width="20" height="126" fill="url(#cb)"/>
<rect x="802" y="488" width="20" height="125" fill="url(#cb)"/>
<rect x="800.5" y="246.5" width="23" height="129" fill="none" stroke="#000"/>
<rect x="800.5" y="486.5" width="23" height="128" fill="none" stroke="#000"/>
<path d="M824 248.5 H834M824 373.5 H834M824 488.5 H834M824 613.5 H834M824 263.5 H829M824 277.5 H829M824 292.5 H829M824 306.5 H829M824 321.5 H829M824 335.5 H829M824 349.5 H829M824 364.5 H829M824 504.5 H829M824 519.5 H829M824 535.5 H829M824 550.5 H829M824 566.5 H829M824 582.5 H829M824 597.5 H829" stroke="#000" fill="none"/>
<text x="846.0" y="258.6" font-size="15.2" textLength="31.8" lengthAdjust="spacingAndGlyphs" class="m">−7.4</text>
<text x="837.3" y="374.6" font-size="15.2" textLength="40.5" lengthAdjust="spacingAndGlyphs" class="m">−16.0</text>
<text x="846.0" y="498.4" font-size="15.2" textLength="32.4" lengthAdjust="spacingAndGlyphs" class="m">−1.0</text>
<text x="846.0" y="613.4" font-size="15.2" textLength="32.4" lengthAdjust="spacingAndGlyphs" class="m">−9.0</text>
<text transform="translate(793.3 393.2) rotate(-90)" font-size="21.5" textLength="33.5" lengthAdjust="spacingAndGlyphs" class="t0">log</text>
<text transform="translate(797.6 357.8) rotate(-90)" font-size="15.5" textLength="11.5" lengthAdjust="spacingAndGlyphs">10</text>
<text transform="translate(793.3 333.5) rotate(-90)" font-size="21.5" textLength="10" lengthAdjust="spacingAndGlyphs" class="t0">(</text>
<text transform="translate(793.3 321.4) rotate(-90)" font-size="21.5" textLength="10.5" lengthAdjust="spacingAndGlyphs" class="t0">V</text>
<text transform="translate(786.5 310) rotate(-90)" font-size="13.5" textLength="7.2" lengthAdjust="spacingAndGlyphs">2</text>
<text transform="translate(793.3 285.2) rotate(-90)" font-size="21.5" textLength="10.5" lengthAdjust="spacingAndGlyphs" class="t0">m</text>
<text transform="translate(786.5 271.2) rotate(-90)" font-size="13.5" textLength="7.2" lengthAdjust="spacingAndGlyphs">2</text>
<text transform="translate(793.3 240.6) rotate(-90)" font-size="21.5" textLength="21" lengthAdjust="spacingAndGlyphs" class="t0">Hz</text>
<text transform="translate(793.3 221.2) rotate(-90)" font-size="21.5" textLength="10" lengthAdjust="spacingAndGlyphs" class="t0">)</text>
<path d="M797.5 300.5 L777 288 M797.5 257.5 L777 241.5" stroke="#000" stroke-width="1.1" fill="none" shape-rendering="auto"/>
<text transform="translate(792.5 625.2) rotate(-90)" font-size="20" textLength="30.5" lengthAdjust="spacingAndGlyphs" class="t0">log</text>
<text transform="translate(797.4 593) rotate(-90)" font-size="15.5" textLength="14" lengthAdjust="spacingAndGlyphs">10</text>
<text transform="translate(792.5 563) rotate(-90)" font-size="20" textLength="8.5" lengthAdjust="spacingAndGlyphs" class="t0">(</text>
<text transform="translate(792.5 553) rotate(-90)" font-size="20" textLength="22" lengthAdjust="spacingAndGlyphs" class="t0">nT</text>
<text transform="translate(785.8 530.3) rotate(-90)" font-size="13.5" textLength="6.8" lengthAdjust="spacingAndGlyphs">2</text>
<text transform="translate(792.5 506.4) rotate(-90)" font-size="20" textLength="21.4" lengthAdjust="spacingAndGlyphs" class="t0">Hz</text>
<text transform="translate(792.5 481) rotate(-90)" font-size="20" textLength="8.5" lengthAdjust="spacingAndGlyphs" class="t0">)</text>
<path d="M797.5 521.5 L776 508.5" stroke="#000" stroke-width="1.1" fill="none" shape-rendering="auto"/>
<text transform="translate(941.2 420.2) rotate(-90)" font-size="13.7" textLength="75.2" lengthAdjust="spacingAndGlyphs" class="m">PROCESSED</text>
<text transform="translate(941.2 325.2) rotate(-90)" font-size="13.7" textLength="75.9" lengthAdjust="spacingAndGlyphs" class="m">10-NOV-00</text>
<text transform="translate(941.2 238.5) rotate(-90)" font-size="13.7" textLength="40.2" lengthAdjust="spacingAndGlyphs" class="m">05:10</text>
<text transform="translate(941.8 619.8) rotate(-90)" font-size="13.7" textLength="45.0" lengthAdjust="spacingAndGlyphs" class="m">GTLSPC</text>
<text transform="translate(941.8 554.2) rotate(-90)" font-size="13.7" textLength="45.0" lengthAdjust="spacingAndGlyphs" class="m">V1.9</text>
<text transform="translate(942.4 715.8) rotate(-90)" font-size="9.5" textLength="40.2" lengthAdjust="spacingAndGlyphs" class="m">SMOOTH</text>
<text transform="translate(941.8 669.2) rotate(-90)" font-size="13.7" textLength="12.8" lengthAdjust="spacingAndGlyphs" class="m">11</text>
</svg></body></html>
